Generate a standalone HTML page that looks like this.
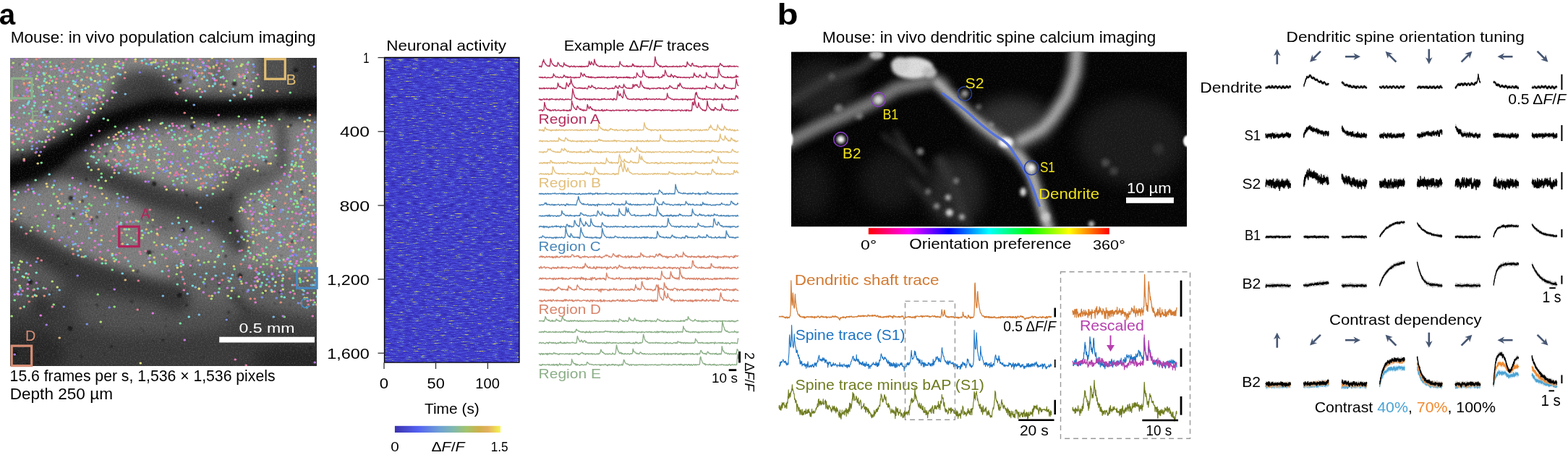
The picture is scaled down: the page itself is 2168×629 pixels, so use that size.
<!DOCTYPE html>
<html><head><meta charset="utf-8"><title>Figure</title>
<style>html,body{margin:0;padding:0;background:#fff;overflow:hidden;} svg{display:block;} text{font-family:'Liberation Sans', Arial, sans-serif;}</style>
</head><body>
<svg width="2168" height="629" viewBox="0 0 2168 629">
<defs>
<filter id="blur8" filterUnits="userSpaceOnUse" x="0" y="0" width="2168" height="629" color-interpolation-filters="sRGB"><feGaussianBlur stdDeviation="8"/></filter>
<filter id="blur6" filterUnits="userSpaceOnUse" x="0" y="0" width="2168" height="629" color-interpolation-filters="sRGB"><feGaussianBlur stdDeviation="6"/></filter>
<filter id="blur5" filterUnits="userSpaceOnUse" x="0" y="0" width="2168" height="629" color-interpolation-filters="sRGB"><feGaussianBlur stdDeviation="5"/></filter>
<filter id="blur4" filterUnits="userSpaceOnUse" x="0" y="0" width="2168" height="629" color-interpolation-filters="sRGB"><feGaussianBlur stdDeviation="4"/></filter>
<filter id="blur3" filterUnits="userSpaceOnUse" x="0" y="0" width="2168" height="629" color-interpolation-filters="sRGB"><feGaussianBlur stdDeviation="3"/></filter>
<filter id="blur2" filterUnits="userSpaceOnUse" x="0" y="0" width="2168" height="629" color-interpolation-filters="sRGB"><feGaussianBlur stdDeviation="2.2"/></filter>
<filter id="blur05" filterUnits="userSpaceOnUse" x="0" y="0" width="2168" height="629" color-interpolation-filters="sRGB"><feGaussianBlur stdDeviation="0.45"/></filter>
<filter id="blur1" filterUnits="userSpaceOnUse" x="0" y="0" width="2168" height="629" color-interpolation-filters="sRGB"><feGaussianBlur stdDeviation="0.8"/></filter>
<filter id="grain" x="0" y="0" width="100%" height="100%" color-interpolation-filters="sRGB">
  <feTurbulence type="fractalNoise" baseFrequency="0.55" numOctaves="2" seed="3" result="t"/>
  <feColorMatrix in="t" type="matrix" values="0 0 0 0 0  0 0 0 0 0  0 0 0 0 0  1.6 0 0 0 -0.8" result="dk"/>
  <feColorMatrix in="t" type="matrix" values="0 0 0 0 1  0 0 0 0 1  0 0 0 0 1  -1.6 0 0 0 0.8" result="lt"/>
  <feMerge><feMergeNode in="dk"/><feMergeNode in="lt"/></feMerge>
</filter>
<filter id="blur10" filterUnits="userSpaceOnUse" x="0" y="0" width="2168" height="629" color-interpolation-filters="sRGB"><feGaussianBlur stdDeviation="10"/></filter>
<filter id="blur7" filterUnits="userSpaceOnUse" x="0" y="0" width="2168" height="629" color-interpolation-filters="sRGB"><feGaussianBlur stdDeviation="7"/></filter>
<filter id="heat" x="0" y="0" width="100%" height="100%" color-interpolation-filters="sRGB">
  <feTurbulence type="fractalNoise" baseFrequency="0.1 0.9" numOctaves="2" seed="11" result="t1"/>
  <feColorMatrix in="t1" type="matrix" values="1 0 0 0 0  1 0 0 0 0  1 0 0 0 0  0 0 0 0 1" result="g1"/>
  <feTurbulence type="fractalNoise" baseFrequency="0.7 0.9" numOctaves="1" seed="5" result="t2"/>
  <feColorMatrix in="t2" type="matrix" values="1 0 0 0 0  1 0 0 0 0  1 0 0 0 0  0 0 0 0 1" result="g2"/>
  <feComposite in="g1" in2="g2" operator="arithmetic" k1="0" k2="1.05" k3="0.45" k4="-0.3" result="t"/>
  <feColorMatrix in="t" type="matrix" values="1.38 0 0 0 -0.19  1.38 0 0 0 -0.19  1.38 0 0 0 -0.19  0 0 0 0 1" result="g"/>
  <feComponentTransfer in="g">
    <feFuncR type="table" tableValues="0.20 0.21 0.22 0.24 0.26 0.28 0.31 0.42 0.68 0.84"/>
    <feFuncG type="table" tableValues="0.16 0.18 0.20 0.22 0.25 0.29 0.35 0.52 0.68 0.80"/>
    <feFuncB type="table" tableValues="0.66 0.70 0.73 0.77 0.81 0.85 0.86 0.68 0.46 0.38"/>
  </feComponentTransfer>
</filter>
<linearGradient id="cbar" x1="0" x2="1" y1="0" y2="0">
  <stop offset="0" stop-color="#3b32ae"/><stop offset="0.22" stop-color="#5462f2"/>
  <stop offset="0.42" stop-color="#6fa0d6"/><stop offset="0.55" stop-color="#7fb8b0"/>
  <stop offset="0.68" stop-color="#a4c46c"/><stop offset="0.8" stop-color="#cfb04a"/>
  <stop offset="0.88" stop-color="#e4b060"/><stop offset="1" stop-color="#f6f54e"/>
</linearGradient>
<linearGradient id="hue" x1="0" x2="1" y1="0" y2="0">
  <stop offset="0" stop-color="#ff0000"/><stop offset="0.167" stop-color="#ff00ff"/>
  <stop offset="0.333" stop-color="#0000ff"/><stop offset="0.5" stop-color="#00ffff"/>
  <stop offset="0.667" stop-color="#00ff00"/><stop offset="0.833" stop-color="#ffff00"/>
  <stop offset="1" stop-color="#ff0000"/>
</linearGradient>
<clipPath id="clipA"><rect x="14" y="80" width="424" height="426"/></clipPath>
<clipPath id="clipB"><rect x="1094" y="71.5" width="547" height="242"/></clipPath>
<clipPath id="clipH"><rect x="531.5" y="79.5" width="186.5" height="421.5"/></clipPath>
</defs>

<g clip-path="url(#clipA)">
<rect x="14" y="80" width="424" height="426" fill="rgb(58,58,58)"/>
<g filter="url(#blur10)">
<polygon points="0,60 362,60 364,134 300,137 248,134 232,112 208,100 182,102 166,118 152,142 136,160 118,172 91,194 60,211 30,221 0,225" fill="rgb(134,134,134)" />
<polygon points="110,208 116,195 128,186 145,178 165,170 200,163 226,162 300,160 386,160 386,225 370,236 350,242 330,248 311,260 290,268 275,270 250,267 228,262 200,255 180,250 160,246 140,243 120,238 111,228" fill="rgb(136,136,136)" />
<polygon points="394,157 460,157 460,425 400,420 360,410 335,392 322,368 318,330 326,300 336,264 356,252 380,246 392,232" fill="rgb(132,132,132)" />
<polygon points="0,262 30,250 60,242 90,241 110,245 140,257 170,268 200,281 226,292 260,302 296,316 318,336 316,362 300,382 262,392 226,394 180,386 130,370 92,352 62,336 36,322 0,316" fill="rgb(126,126,126)" />
<polygon points="0,340 40,348 80,372 90,400 70,420 30,425 0,420" fill="rgb(88,88,88)" />
<polygon points="100,404 170,406 226,400 300,394 340,404 330,440 300,456 226,462 160,462 110,450" fill="rgb(80,80,80)" />
<polygon points="226,366 330,366 438,380 460,420 438,440 380,430 330,420 280,420 240,420" fill="rgb(98,98,98)" />
</g>
<g filter="url(#blur10)">
<polygon points="358,60 460,60 460,140 358,140" fill="rgb(80,80,80)"/>
<polygon points="166,104 232,104 246,136 226,142 190,148 160,160 152,148" fill="rgb(68,68,68)"/>
<ellipse cx="212" cy="128" rx="13" ry="26" fill="rgb(58,58,58)" transform="rotate(-30 212 128)"/>
<ellipse cx="247" cy="98" rx="9" ry="16" fill="rgb(100,100,100)"/>
<ellipse cx="300" cy="108" rx="9" ry="30" fill="rgb(86,86,86)"/>
<polygon points="405,60 460,60 460,150 405,150" fill="rgb(50,50,50)"/>
<ellipse cx="340" cy="245" rx="34" ry="14" fill="rgb(88,88,88)"/>
<ellipse cx="40" cy="488" rx="50" ry="34" fill="rgb(40,40,40)"/>
<ellipse cx="405" cy="498" rx="55" ry="22" fill="rgb(38,38,38)"/>
<ellipse cx="57" cy="420" rx="10" ry="14" fill="rgb(30,30,30)"/>
<ellipse cx="242" cy="412" rx="14" ry="12" fill="rgb(45,45,45)"/>
<ellipse cx="240" cy="300" rx="40" ry="18" fill="rgb(92,92,92)"/>
</g>
<g filter="url(#blur10)" fill="none" stroke-linecap="round" stroke-linejoin="round">
<path d="M0,243 L14,239 L48,229 L60,225 L91,206 L118,187 L143,172 L183,158 L217,148 L240,150" stroke="rgb(40,40,40)" stroke-width="46"/>
<path d="M217,148 L240,150 L300,152 L380,149 L460,143" stroke="rgb(40,40,40)" stroke-width="32"/>
</g>
<path d="M100,230 L150,244 L180,257 L228,277 L275,290 L311,302 L323,322 L330,338" stroke="rgb(58,58,58)" stroke-width="26" fill="none" stroke-linecap="round" stroke-linejoin="round" filter="url(#blur8)"/>
<path d="M0,314 L40,336 L82,360 L120,376 L170,391 L226,407 L246,414" stroke="rgb(52,52,52)" stroke-width="30" fill="none" stroke-linecap="round" stroke-linejoin="round" filter="url(#blur8)"/>
<g filter="url(#blur5)" fill="none" stroke-linecap="round" stroke-linejoin="round">
<path d="M0,243 L14,239 L48,229 L60,225 L91,206 L118,187 L143,172 L183,158 L217,148 L240,150 L300,152 L380,149 L460,143" stroke="rgb(6,6,6)" stroke-width="22"/>
<path d="M0,245 L48,232 L80,214" stroke="rgb(6,6,6)" stroke-width="30"/>
<path d="M389,160 L390,232" stroke="rgb(84,84,84)" stroke-width="11"/>
<path d="M323,409 L361,454" stroke="rgb(62,62,62)" stroke-width="12"/>
</g>
<path d="M279 462h0M343 176h0M141 452h0M16 430h0M352 279h0M142 199h0M122 270h0M228 316h0M436 418h0M278 501h0M105 148h0M274 99h0M29 299h0M212 471h0M281 299h0M225 185h0M19 162h0M307 165h0M171 82h0M366 146h0M127 455h0M230 441h0M285 396h0M53 311h0M229 451h0M167 335h0M39 245h0M151 144h0M360 242h0M429 331h0M271 352h0M301 144h0M201 182h0M185 121h0M424 172h0M299 208h0M385 362h0M70 440h0M415 465h0M256 142h0M96 475h0M248 157h0M389 353h0M256 240h0M188 182h0M30 453h0M212 313h0M151 400h0M25 239h0M27 132h0M424 360h0M196 303h0M384 227h0M264 371h0M165 301h0M338 467h0M78 478h0M16 401h0M358 138h0M192 427h0M20 348h0M350 299h0M322 176h0M98 235h0M90 227h0M416 324h0M158 196h0M418 269h0M430 300h0M235 462h0M329 327h0M195 454h0M189 473h0M43 263h0M234 485h0M120 423h0M301 385h0M281 494h0M155 250h0M100 102h0M104 470h0M370 128h0M270 284h0M266 361h0M144 490h0M212 348h0M283 158h0M40 255h0M338 427h0M324 128h0M401 422h0M386 303h0M402 100h0M27 89h0M121 186h0M94 322h0M31 332h0M84 369h0M23 212h0M412 309h0M358 360h0M273 161h0M258 97h0M354 489h0M376 102h0M158 215h0M62 347h0M352 214h0M380 420h0M69 407h0M388 164h0M257 352h0M272 121h0M294 349h0M363 422h0M153 388h0M382 460h0M82 91h0M290 171h0M253 482h0M175 188h0M208 360h0M57 242h0M71 362h0M366 241h0M172 310h0M105 185h0M154 275h0M49 401h0M260 208h0M47 405h0M70 137h0M69 115h0M398 195h0M144 435h0M277 160h0M198 457h0M173 383h0M55 390h0M343 432h0M300 238h0M41 301h0M335 161h0M127 308h0M331 462h0M67 158h0M353 355h0M320 505h0M412 439h0M343 248h0M286 159h0M336 403h0M320 269h0M174 259h0M28 440h0M244 245h0M246 387h0M176 434h0M404 245h0M72 404h0" stroke="#101010" stroke-width="2.4" stroke-linecap="round" opacity="0.45" filter="url(#blur1)"/>
<path d="M435 143h0M316 432h0M404 133h0M53 501h0M64 155h0M258 270h0M332 161h0M402 173h0M340 109h0M215 94h0M147 213h0M319 274h0M38 504h0M391 470h0M119 248h0M110 133h0M28 294h0M66 155h0M379 286h0M92 365h0M127 304h0M134 300h0M280 308h0M182 417h0M384 156h0M72 128h0M429 481h0M112 493h0M102 296h0M225 470h0M31 214h0M268 108h0M114 278h0M387 404h0M365 404h0M314 442h0M303 393h0M142 151h0M335 151h0M404 334h0M154 479h0M80 299h0M53 491h0M258 422h0M134 422h0M312 354h0M417 265h0M190 375h0M368 223h0M298 169h0" stroke="#101010" stroke-width="4.0" stroke-linecap="round" opacity="0.6" filter="url(#blur1)"/>
<path d="M248 408h0M42 390h0M21 488h0M213 254h0M319 303h0M324 116h0M253 318h0M409 97h0M206 349h0M248 112h0M266 175h0M97 454h0M98 274h0M332 381h0" stroke="#101010" stroke-width="6.5" stroke-linecap="round" opacity="0.75" filter="url(#blur1)"/>
<rect x="14" y="80" width="424" height="426" filter="url(#grain)" opacity="0.2"/>
<path d="M422 384h.5M40 417h.5M165 350h.5M380 288h.5M396 373h.5M437 213h.5M278 254h.5M38 122h.5M188 214h.5M299 111h.5M101 351h.5M307 387h.5M400 336h.5M212 222h.5M49 211h.5M285 196h.5M333 365h.5M431 310h.5M38 115h.5M18 196h.5M281 253h.5M42 166h.5M196 87h.5M19 289h.5M294 385h.5M99 86h.5M252 383h.5M351 357h.5M310 234h.5M333 171h.5M354 371h.5M239 88h.5M255 156h.5M26 372h.5M169 222h.5M41 183h.5M334 346h.5M223 84h.5M30 107h.5M399 341h.5M372 396h.5M138 356h.5M168 215h.5M33 117h.5M140 141h.5M353 374h.5M71 330h.5M306 88h.5M245 130h.5M52 357h.5M417 283h.5M76 95h.5M246 241h.5M16 306h.5M352 413h.5M400 385h.5M16 127h.5M87 88h.5M251 233h.5M289 409h.5M332 383h.5M280 236h.5" stroke="#df7a7a" stroke-width="3.1" stroke-linecap="round" filter="url(#blur05)"/>
<path d="M411 394h.5M321 82h.5M305 117h.5M120 107h.5M339 121h.5M33 96h.5M180 209h.5M403 329h.5M70 107h.5M134 142h.5M275 188h.5M242 346h.5M50 82h.5M149 110h.5M55 167h.5M172 294h.5M180 306h.5M296 260h.5M334 194h.5M218 325h.5M249 228h.5M61 409h.5M431 295h.5M437 421h.5M395 270h.5M343 131h.5M339 214h.5M349 302h.5M416 230h.5M264 186h.5M394 281h.5M388 418h.5M346 350h.5M309 182h.5M170 191h.5M75 320h.5M289 200h.5M346 413h.5M348 304h.5M121 288h.5M280 203h.5M155 231h.5M103 100h.5M275 191h.5M415 220h.5M407 374h.5M274 93h.5M288 84h.5M428 159h.5M85 268h.5M404 321h.5M295 94h.5M361 312h.5M416 419h.5M298 225h.5M167 223h.5M63 101h.5M117 127h.5M369 266h.5M168 322h.5M383 126h.5M330 103h.5M253 241h.5M96 131h.5M349 324h.5M193 175h.5M20 269h.5M335 223h.5M369 271h.5M221 196h.5" stroke="#df8f7a" stroke-width="3.1" stroke-linecap="round" filter="url(#blur05)"/>
<path d="M87 287h.5M18 184h.5M89 95h.5M113 94h.5M271 201h.5M366 166h.5M91 106h.5M157 92h.5M411 206h.5M301 202h.5M400 244h.5M33 287h.5M239 108h.5M371 226h.5M246 351h.5M45 410h.5M112 111h.5M198 179h.5M405 348h.5M279 101h.5M187 85h.5M316 388h.5M113 355h.5M74 190h.5M247 87h.5M314 199h.5M322 221h.5M183 204h.5M216 339h.5M78 272h.5M45 168h.5M28 426h.5M137 104h.5M285 242h.5M216 225h.5M166 310h.5M126 300h.5M170 87h.5M429 358h.5M380 312h.5M36 180h.5M98 136h.5M188 305h.5M33 115h.5M272 280h.5M266 90h.5M377 289h.5M146 360h.5M290 94h.5M258 252h.5M298 195h.5M200 209h.5M292 102h.5M324 132h.5M24 180h.5" stroke="#dfa37a" stroke-width="3.1" stroke-linecap="round" filter="url(#blur05)"/>
<path d="M233 95h.5M328 241h.5M54 215h.5M276 123h.5M423 200h.5M296 179h.5M173 387h.5M430 363h.5M149 222h.5M309 117h.5M386 334h.5M279 109h.5M17 197h.5M413 317h.5M437 295h.5M82 467h.5M256 339h.5M231 368h.5M420 342h.5M415 262h.5M48 168h.5M236 230h.5M429 415h.5M115 139h.5M164 85h.5M33 220h.5M173 100h.5M418 272h.5M420 190h.5M115 118h.5M408 336h.5M299 90h.5M275 399h.5M344 229h.5M428 167h.5M303 186h.5M158 239h.5M169 337h.5M159 221h.5M354 397h.5M343 302h.5M356 388h.5M80 168h.5M202 317h.5M172 317h.5M312 252h.5M277 262h.5M334 392h.5M158 361h.5M424 375h.5M434 310h.5M131 258h.5M277 247h.5M335 89h.5M120 299h.5M108 99h.5M199 367h.5M215 83h.5M354 325h.5M366 274h.5M164 183h.5M141 268h.5M219 232h.5M53 120h.5M335 291h.5M406 230h.5M336 104h.5M277 93h.5M294 260h.5M136 234h.5M374 333h.5M342 216h.5" stroke="#dfb77a" stroke-width="3.1" stroke-linecap="round" filter="url(#blur05)"/>
<path d="M207 362h.5M104 117h.5M15 139h.5M323 368h.5M50 409h.5M424 412h.5M52 226h.5M98 312h.5M160 186h.5M361 271h.5M342 100h.5M134 132h.5M414 398h.5M431 332h.5M421 168h.5M293 241h.5M268 169h.5M82 281h.5M404 313h.5M303 209h.5M77 114h.5M163 203h.5M289 119h.5M277 192h.5M351 234h.5M107 119h.5M401 361h.5M235 239h.5M64 254h.5M342 333h.5M367 402h.5M350 334h.5M110 279h.5M378 355h.5M64 114h.5M41 114h.5M398 175h.5M426 210h.5M376 403h.5M346 276h.5M213 356h.5M157 106h.5M350 112h.5M426 175h.5M224 338h.5M386 303h.5M31 89h.5M375 359h.5M369 277h.5M165 205h.5M420 247h.5M243 107h.5M126 322h.5M396 269h.5M278 231h.5M358 323h.5M150 190h.5M344 342h.5M421 412h.5M274 360h.5M65 258h.5M331 106h.5M155 351h.5M391 385h.5M278 181h.5M119 297h.5M405 346h.5M100 344h.5M197 192h.5M59 126h.5M429 311h.5" stroke="#dfcb7a" stroke-width="3.1" stroke-linecap="round" filter="url(#blur05)"/>
<path d="M302 353h.5M215 86h.5M211 201h.5M170 210h.5M374 226h.5M377 385h.5M333 287h.5M141 358h.5M271 249h.5M194 502h.5M313 184h.5M111 345h.5M19 136h.5M293 80h.5M375 196h.5M248 200h.5M147 274h.5M50 109h.5M139 150h.5M64 179h.5M257 236h.5M369 329h.5M82 155h.5M129 136h.5M256 333h.5M338 201h.5M230 262h.5M184 374h.5M159 92h.5M358 171h.5M315 219h.5M44 127h.5M217 323h.5M417 230h.5M381 390h.5M187 82h.5M305 126h.5M245 370h.5M205 221h.5M80 278h.5M353 395h.5M29 295h.5M199 213h.5M244 262h.5M259 87h.5M367 351h.5M211 304h.5M391 380h.5M275 399h.5M237 329h.5M225 234h.5M89 287h.5M358 306h.5M222 171h.5M407 266h.5M131 112h.5M310 220h.5M403 234h.5M209 87h.5M420 239h.5M258 95h.5M320 402h.5M434 258h.5M333 91h.5M113 127h.5M425 388h.5M255 200h.5M401 370h.5M428 256h.5M21 303h.5M67 182h.5M220 221h.5" stroke="#dfdf7a" stroke-width="3.1" stroke-linecap="round" filter="url(#blur05)"/>
<path d="M135 102h.5M355 202h.5M296 203h.5M190 217h.5M22 181h.5M251 233h.5M345 284h.5M145 89h.5M408 228h.5M381 354h.5M173 356h.5M434 243h.5M33 180h.5M414 385h.5M255 208h.5M362 280h.5M230 90h.5M28 361h.5M428 283h.5M397 338h.5M281 201h.5M33 383h.5M437 361h.5M277 259h.5M130 156h.5M225 97h.5M291 245h.5M119 293h.5M92 180h.5M301 257h.5M363 125h.5M184 200h.5M356 389h.5M140 332h.5M371 262h.5M427 328h.5M315 409h.5M308 262h.5M336 115h.5M37 88h.5M79 397h.5M229 177h.5M293 409h.5M386 325h.5M322 235h.5M27 395h.5M350 316h.5M267 240h.5M153 209h.5M407 253h.5M62 291h.5M125 85h.5M63 196h.5M368 316h.5M391 400h.5M200 216h.5M359 295h.5M220 195h.5M357 119h.5M146 250h.5M310 175h.5M249 122h.5M426 294h.5" stroke="#cbdf7a" stroke-width="3.1" stroke-linecap="round" filter="url(#blur05)"/>
<path d="M126 235h.5M122 120h.5M24 207h.5M338 108h.5M15 163h.5M437 221h.5M355 360h.5M43 177h.5M388 340h.5M72 259h.5M125 108h.5M418 400h.5M228 212h.5M72 389h.5M180 238h.5M197 325h.5M66 189h.5M139 445h.5M38 90h.5M196 202h.5M15 184h.5M154 107h.5M421 288h.5M212 86h.5M67 168h.5M418 310h.5M132 136h.5M297 362h.5M279 329h.5M356 236h.5M162 192h.5M256 208h.5M331 292h.5M332 128h.5M345 176h.5M428 211h.5M265 163h.5M73 178h.5M155 135h.5M349 321h.5M250 368h.5M44 314h.5M261 199h.5M16 179h.5M127 82h.5M281 219h.5M140 260h.5M248 191h.5M227 220h.5M357 352h.5M236 341h.5M33 109h.5M431 383h.5M42 319h.5M292 413h.5M428 264h.5M130 210h.5M288 362h.5M295 92h.5M209 195h.5M30 362h.5M121 226h.5M437 206h.5M336 217h.5M64 162h.5M18 87h.5M70 92h.5M212 239h.5M283 386h.5M61 179h.5M305 243h.5" stroke="#b7df7a" stroke-width="3.1" stroke-linecap="round" filter="url(#blur05)"/>
<path d="M334 223h.5M93 125h.5M206 166h.5M43 167h.5M222 200h.5M227 237h.5M328 174h.5M411 281h.5M143 132h.5M408 207h.5M355 183h.5M310 229h.5M68 105h.5M164 208h.5M325 231h.5M16 437h.5M178 317h.5M425 194h.5M100 288h.5M83 143h.5M157 193h.5M210 188h.5M321 398h.5M409 225h.5M272 126h.5M26 366h.5M419 342h.5M334 89h.5M207 353h.5M339 273h.5M91 146h.5M284 259h.5M364 365h.5M71 131h.5M196 329h.5M205 322h.5M70 179h.5M90 340h.5M213 335h.5M419 224h.5M244 379h.5M226 92h.5M308 252h.5M216 200h.5M189 232h.5M198 196h.5M369 208h.5M434 405h.5M375 367h.5M350 358h.5M60 141h.5M200 185h.5M61 103h.5M351 355h.5M296 222h.5M289 242h.5M59 297h.5M44 191h.5M68 115h.5M177 202h.5M363 405h.5M392 359h.5M246 301h.5M91 103h.5M410 278h.5M347 268h.5M383 371h.5M239 107h.5M175 325h.5M30 186h.5M202 231h.5M142 125h.5M161 200h.5" stroke="#a3df7a" stroke-width="3.1" stroke-linecap="round" filter="url(#blur05)"/>
<path d="M74 421h.5M360 353h.5M253 87h.5M98 125h.5M220 227h.5M313 112h.5M99 186h.5M401 238h.5M326 246h.5M330 410h.5M295 177h.5M45 117h.5M128 155h.5M111 310h.5M149 166h.5M207 202h.5M254 209h.5M239 250h.5M343 326h.5M421 413h.5M381 215h.5M306 227h.5M404 293h.5M211 246h.5M144 283h.5M181 329h.5M51 105h.5M44 154h.5M259 218h.5M330 161h.5M329 242h.5M107 105h.5M282 363h.5M368 282h.5M134 95h.5M435 418h.5M216 222h.5M386 165h.5M413 367h.5M160 88h.5M410 308h.5M47 400h.5M327 92h.5M102 167h.5M140 124h.5M19 370h.5M406 282h.5M156 115h.5M337 331h.5M97 154h.5M416 362h.5M123 135h.5M205 179h.5M260 81h.5M158 424h.5M135 407h.5M60 152h.5M86 171h.5M51 181h.5M250 333h.5M422 359h.5M333 389h.5M182 211h.5M52 312h.5M73 315h.5M405 402h.5M204 308h.5M97 178h.5" stroke="#8fdf7a" stroke-width="3.1" stroke-linecap="round" filter="url(#blur05)"/>
<path d="M74 268h.5M263 200h.5M272 331h.5M138 260h.5M97 98h.5M363 376h.5M213 362h.5M424 348h.5M428 361h.5M303 98h.5M90 282h.5M415 390h.5M408 229h.5M430 183h.5M369 365h.5M116 355h.5M324 111h.5M242 96h.5M415 312h.5M253 94h.5M150 228h.5M383 253h.5M157 357h.5M415 387h.5M69 86h.5M136 202h.5M129 217h.5M435 351h.5M357 176h.5M75 168h.5M394 369h.5M289 93h.5M126 284h.5M318 322h.5M393 438h.5M38 384h.5M65 140h.5M123 282h.5M140 240h.5M357 379h.5M418 233h.5M19 199h.5M377 306h.5M36 104h.5M362 162h.5M144 113h.5M350 215h.5M159 175h.5M407 375h.5M40 157h.5M274 260h.5M193 329h.5M120 291h.5M436 378h.5M341 229h.5M167 182h.5M224 352h.5M376 205h.5M273 105h.5M378 278h.5M278 187h.5M144 216h.5" stroke="#7adf7a" stroke-width="3.1" stroke-linecap="round" filter="url(#blur05)"/>
<path d="M389 290h.5M96 281h.5M425 166h.5M19 162h.5M38 409h.5M259 196h.5M308 347h.5M407 333h.5M102 302h.5M354 318h.5M390 388h.5M74 312h.5M162 92h.5M57 225h.5M371 181h.5M138 123h.5M185 233h.5M236 341h.5M401 128h.5M322 84h.5M58 123h.5M280 172h.5M20 415h.5M162 268h.5M233 183h.5M324 372h.5M407 268h.5M60 398h.5M26 192h.5M400 244h.5M180 220h.5M242 193h.5M416 275h.5M81 302h.5M257 188h.5M303 399h.5M136 249h.5M368 294h.5M294 202h.5M142 93h.5M31 109h.5M155 373h.5M340 230h.5M71 177h.5M354 108h.5M239 84h.5M357 175h.5M413 345h.5M394 228h.5M281 390h.5M369 359h.5M230 86h.5M409 286h.5M75 106h.5M122 291h.5M280 232h.5M126 216h.5M80 288h.5M22 269h.5M433 283h.5M180 368h.5M311 231h.5M191 306h.5M58 196h.5M154 245h.5M96 130h.5M268 117h.5M257 139h.5M28 398h.5M26 291h.5M398 293h.5M393 331h.5M358 276h.5" stroke="#7adf8f" stroke-width="3.1" stroke-linecap="round" filter="url(#blur05)"/>
<path d="M294 104h.5M352 268h.5M191 239h.5M70 284h.5M254 174h.5M209 320h.5M25 370h.5M33 424h.5M133 138h.5M402 275h.5M45 126h.5M32 94h.5M252 245h.5M86 171h.5M53 282h.5M16 363h.5M314 184h.5M44 150h.5M358 167h.5M339 320h.5M398 357h.5M186 194h.5M389 410h.5M351 215h.5M416 374h.5M343 86h.5M146 364h.5M179 209h.5M54 121h.5M433 206h.5M294 268h.5M49 249h.5M342 88h.5M252 337h.5M343 185h.5M300 226h.5M161 227h.5M346 370h.5M146 101h.5M269 191h.5M142 144h.5M160 229h.5M114 144h.5M339 354h.5M368 394h.5M269 193h.5M251 253h.5M96 256h.5M361 197h.5M170 90h.5M368 217h.5M350 336h.5M24 376h.5M432 240h.5M284 212h.5M317 389h.5M360 396h.5M206 357h.5M333 232h.5M87 134h.5M241 186h.5M249 447h.5M72 112h.5M243 86h.5M367 287h.5M376 310h.5M372 190h.5M116 99h.5M184 179h.5M264 314h.5" stroke="#7adfa3" stroke-width="3.1" stroke-linecap="round" filter="url(#blur05)"/>
<path d="M245 393h.5M58 119h.5M148 199h.5M338 105h.5M160 359h.5M319 412h.5M368 342h.5M128 93h.5M274 189h.5M234 110h.5M141 364h.5M376 285h.5M140 245h.5M271 223h.5M362 391h.5M364 350h.5M413 230h.5M237 180h.5M118 286h.5M31 207h.5M297 116h.5M108 263h.5M367 292h.5M180 233h.5M437 240h.5M277 341h.5M358 218h.5M338 137h.5M185 332h.5M362 269h.5M101 112h.5M219 92h.5M41 195h.5M300 212h.5M343 347h.5M277 231h.5M202 88h.5M68 168h.5M377 386h.5M313 220h.5M362 216h.5M170 185h.5M20 276h.5M135 91h.5M70 107h.5M417 304h.5M136 221h.5M362 296h.5M361 304h.5M215 203h.5M305 107h.5M250 364h.5M87 182h.5M47 133h.5M240 255h.5M260 227h.5M183 211h.5M319 233h.5M245 247h.5M262 194h.5M238 190h.5M405 412h.5M224 170h.5M62 109h.5M60 148h.5M103 134h.5" stroke="#7adfb7" stroke-width="3.1" stroke-linecap="round" filter="url(#blur05)"/>
<path d="M316 95h.5M102 116h.5M277 134h.5M407 209h.5M301 355h.5M346 350h.5M258 306h.5M270 101h.5M143 164h.5M347 126h.5M365 286h.5M95 130h.5M403 227h.5M366 173h.5M36 90h.5M431 180h.5M374 304h.5M231 339h.5M309 334h.5M22 186h.5M106 320h.5M167 308h.5M37 172h.5M405 251h.5M159 198h.5M403 228h.5M31 382h.5M50 377h.5M82 142h.5M382 261h.5M401 327h.5M397 258h.5M47 146h.5M386 322h.5M24 192h.5M420 310h.5M408 214h.5M249 191h.5M363 321h.5M74 256h.5M224 375h.5M165 94h.5M218 214h.5M238 86h.5M434 290h.5M401 326h.5M291 347h.5M19 108h.5M432 394h.5M113 110h.5M219 206h.5M33 156h.5M277 217h.5M42 125h.5M196 319h.5M67 162h.5M60 131h.5M234 174h.5M25 266h.5M308 106h.5M418 330h.5M46 265h.5M48 142h.5M335 289h.5M109 157h.5M282 106h.5M214 364h.5M48 408h.5M358 265h.5M276 188h.5M61 112h.5M78 91h.5M334 328h.5M133 225h.5M138 112h.5M412 286h.5" stroke="#7adfcb" stroke-width="3.1" stroke-linecap="round" filter="url(#blur05)"/>
<path d="M412 194h.5M253 366h.5M269 379h.5M176 295h.5M99 301h.5M62 320h.5M336 359h.5M387 335h.5M113 124h.5M428 199h.5M347 132h.5M427 352h.5M196 84h.5M372 283h.5M177 204h.5M292 190h.5M155 353h.5M316 219h.5M63 146h.5M47 169h.5M294 119h.5M390 395h.5M95 122h.5M393 411h.5M424 425h.5M118 122h.5M266 395h.5M32 146h.5M318 139h.5M132 318h.5M310 365h.5M319 385h.5M377 329h.5M435 394h.5M358 378h.5M261 438h.5M100 136h.5M286 111h.5M256 332h.5M99 165h.5M386 360h.5M285 378h.5M36 378h.5M249 192h.5M178 194h.5M143 98h.5M68 241h.5M176 338h.5M278 213h.5M208 203h.5M39 142h.5M60 101h.5M364 217h.5M253 249h.5M309 223h.5M247 308h.5M361 279h.5M350 401h.5M126 110h.5M365 380h.5M281 87h.5" stroke="#7adfdf" stroke-width="3.1" stroke-linecap="round" filter="url(#blur05)"/>
<path d="M296 369h.5M118 354h.5M357 212h.5M186 240h.5M29 314h.5M435 387h.5M314 193h.5M82 97h.5M218 223h.5M166 103h.5M52 399h.5M215 94h.5M177 361h.5M283 97h.5M321 380h.5M369 386h.5M160 128h.5M256 244h.5M164 226h.5M380 395h.5M438 410h.5M428 276h.5M38 144h.5M61 159h.5M302 404h.5M298 381h.5M367 321h.5M169 378h.5M322 123h.5M375 401h.5M178 183h.5M27 149h.5M332 106h.5M298 180h.5M122 231h.5M164 239h.5M420 402h.5M40 140h.5M206 204h.5M59 86h.5M404 394h.5M69 154h.5M406 323h.5M415 215h.5M116 272h.5M320 232h.5M104 113h.5M57 155h.5M121 91h.5M410 251h.5M400 364h.5M433 314h.5M163 102h.5M262 194h.5M60 151h.5M387 376h.5M359 264h.5M135 114h.5M24 297h.5M426 306h.5M296 109h.5M190 218h.5M119 150h.5M133 91h.5M174 317h.5M418 249h.5M63 92h.5M238 226h.5M408 277h.5M418 210h.5M433 204h.5M403 365h.5M129 217h.5M313 83h.5" stroke="#7acbdf" stroke-width="3.1" stroke-linecap="round" filter="url(#blur05)"/>
<path d="M390 381h.5M433 421h.5M218 230h.5M415 217h.5M362 168h.5M243 329h.5M123 329h.5M133 99h.5M44 89h.5M378 438h.5M108 353h.5M285 253h.5M414 163h.5M363 182h.5M289 198h.5M253 386h.5M309 378h.5M422 184h.5M283 126h.5M107 347h.5M40 118h.5M403 346h.5M323 131h.5M266 334h.5M96 261h.5M44 206h.5M178 203h.5M244 367h.5M416 295h.5M20 135h.5M114 295h.5M19 176h.5M101 338h.5M209 89h.5M339 188h.5M347 371h.5M422 308h.5M273 92h.5M119 144h.5M68 407h.5M182 208h.5M275 435h.5M391 290h.5M137 293h.5M277 287h.5M270 397h.5M248 338h.5M404 223h.5M283 182h.5M255 203h.5M82 262h.5M341 320h.5M297 115h.5M162 342h.5M27 178h.5M423 298h.5M60 118h.5M225 409h.5M104 337h.5M54 195h.5M350 89h.5M364 221h.5M348 297h.5M200 82h.5M166 228h.5M185 209h.5M397 302h.5M282 106h.5M173 130h.5M82 401h.5M238 309h.5M426 360h.5M429 346h.5M259 406h.5M228 237h.5M167 311h.5M284 228h.5M435 263h.5M337 120h.5M190 223h.5" stroke="#7ab7df" stroke-width="3.1" stroke-linecap="round" filter="url(#blur05)"/>
<path d="M125 317h.5M34 181h.5M251 175h.5M283 244h.5M290 203h.5M92 164h.5M280 257h.5M268 145h.5M139 338h.5M162 285h.5M402 255h.5M98 143h.5M128 143h.5M226 207h.5M329 185h.5M379 199h.5M430 394h.5M170 272h.5M419 407h.5M263 316h.5M25 403h.5M436 246h.5M251 242h.5M231 236h.5M234 210h.5M384 343h.5M32 132h.5M276 366h.5M54 269h.5M364 312h.5M381 277h.5M83 105h.5M314 96h.5M286 270h.5M287 180h.5M106 288h.5M230 213h.5M401 354h.5M37 99h.5M119 271h.5M419 389h.5M259 209h.5M343 401h.5M238 103h.5M61 176h.5M237 224h.5M336 215h.5M174 222h.5M383 322h.5M350 100h.5" stroke="#7aa3df" stroke-width="3.1" stroke-linecap="round" filter="url(#blur05)"/>
<path d="M365 282h.5M284 95h.5M236 342h.5M50 362h.5M323 398h.5M184 307h.5M136 117h.5M379 205h.5M85 328h.5M111 254h.5M80 125h.5M21 386h.5M388 293h.5M162 281h.5M386 332h.5M115 291h.5M362 411h.5M299 103h.5M87 134h.5M120 448h.5M412 419h.5M315 384h.5M272 102h.5M314 206h.5M100 98h.5M331 386h.5M265 242h.5M361 394h.5M436 394h.5M123 132h.5M87 101h.5M393 242h.5M329 334h.5M164 274h.5M282 392h.5M205 89h.5M327 223h.5M40 387h.5M297 241h.5M29 407h.5M116 134h.5M200 322h.5M75 121h.5M102 274h.5M262 114h.5M431 279h.5M277 383h.5M174 201h.5M138 117h.5M88 424h.5M268 247h.5M121 310h.5M99 283h.5M44 202h.5M37 363h.5M54 80h.5M67 313h.5M226 97h.5M435 169h.5M56 131h.5M263 97h.5M424 398h.5M292 246h.5M382 412h.5M120 292h.5M313 442h.5M42 170h.5M410 353h.5M359 193h.5M149 281h.5M127 152h.5M161 198h.5M26 291h.5M418 316h.5" stroke="#7a8fdf" stroke-width="3.1" stroke-linecap="round" filter="url(#blur05)"/>
<path d="M71 160h.5M434 92h.5M233 224h.5M241 114h.5M44 261h.5M422 275h.5M306 341h.5M254 94h.5M330 193h.5M216 180h.5M300 84h.5M263 107h.5M420 220h.5M264 228h.5M242 88h.5M227 237h.5M240 182h.5M371 382h.5M389 406h.5M293 210h.5M252 219h.5M44 157h.5M420 236h.5M91 339h.5M218 239h.5M291 200h.5M348 277h.5M351 92h.5M54 103h.5M245 350h.5M75 250h.5M419 293h.5M339 178h.5M434 323h.5M372 390h.5M281 90h.5M288 318h.5M292 256h.5M294 306h.5M28 400h.5M258 104h.5M331 183h.5M151 425h.5M226 341h.5M400 359h.5M378 383h.5M280 208h.5M67 163h.5M193 100h.5M18 370h.5M269 174h.5M219 187h.5M431 299h.5M407 352h.5M90 151h.5" stroke="#7a7adf" stroke-width="3.1" stroke-linecap="round" filter="url(#blur05)"/>
<path d="M381 251h.5M416 201h.5M117 143h.5M15 173h.5M49 170h.5M172 235h.5M178 186h.5M67 188h.5M359 356h.5M224 233h.5M389 327h.5M102 259h.5M268 101h.5M205 251h.5M298 245h.5M56 210h.5M200 188h.5M168 296h.5M284 173h.5M334 327h.5M393 366h.5M398 265h.5M107 381h.5M129 209h.5M133 122h.5M241 256h.5M105 111h.5M409 309h.5M254 105h.5M200 221h.5M347 113h.5M432 314h.5M424 344h.5M23 121h.5M37 128h.5M387 327h.5M51 205h.5M19 182h.5M118 306h.5M38 256h.5M376 313h.5M118 208h.5M375 295h.5M251 318h.5M266 83h.5M395 359h.5M115 147h.5M67 307h.5M247 230h.5M416 345h.5M359 203h.5M354 203h.5M438 224h.5M401 347h.5M156 203h.5M159 230h.5M50 210h.5M16 80h.5M352 389h.5M346 328h.5M320 84h.5M145 106h.5M342 403h.5M255 223h.5M35 82h.5M416 281h.5M360 302h.5M435 206h.5M146 108h.5" stroke="#8f7adf" stroke-width="3.1" stroke-linecap="round" filter="url(#blur05)"/>
<path d="M175 279h.5M376 378h.5M300 87h.5M299 218h.5M182 192h.5M126 187h.5M298 189h.5M93 101h.5M399 242h.5M42 179h.5M42 101h.5M424 274h.5M217 87h.5M190 189h.5M133 310h.5M271 212h.5M166 88h.5M316 84h.5M95 328h.5M261 333h.5M355 376h.5M203 177h.5M248 325h.5M103 268h.5M100 334h.5M64 449h.5M427 380h.5M280 204h.5M388 290h.5M393 207h.5M206 357h.5M174 229h.5M359 305h.5M340 100h.5M182 80h.5M434 196h.5M55 160h.5M297 249h.5M437 296h.5M348 309h.5M35 265h.5M329 176h.5M349 288h.5M339 165h.5M416 203h.5M433 253h.5M94 142h.5M20 407h.5M20 490h.5M429 184h.5M43 154h.5M161 313h.5M271 104h.5M55 149h.5M41 106h.5M274 247h.5M360 280h.5" stroke="#a37adf" stroke-width="3.1" stroke-linecap="round" filter="url(#blur05)"/>
<path d="M332 226h.5M47 174h.5M270 111h.5M294 108h.5M62 168h.5M281 214h.5M388 402h.5M280 258h.5M155 205h.5M314 220h.5M158 400h.5M285 91h.5M71 96h.5M351 293h.5M50 197h.5M243 243h.5M342 279h.5M107 97h.5M202 191h.5M126 346h.5M45 91h.5M122 163h.5M257 328h.5M358 386h.5M269 353h.5M100 95h.5M391 437h.5M297 215h.5M390 394h.5M113 142h.5M175 177h.5M402 278h.5M341 111h.5M50 391h.5M138 136h.5M364 315h.5M324 207h.5M126 117h.5M411 333h.5M407 368h.5M89 286h.5M85 288h.5M37 173h.5M104 323h.5M97 125h.5M176 273h.5M128 200h.5M435 501h.5M163 312h.5M340 96h.5M23 155h.5M297 405h.5M250 242h.5M58 282h.5M357 185h.5M86 97h.5M98 148h.5M103 128h.5M245 223h.5M233 374h.5M84 158h.5M38 126h.5M392 335h.5M259 122h.5" stroke="#b77adf" stroke-width="3.1" stroke-linecap="round" filter="url(#blur05)"/>
<path d="M136 338h.5M244 348h.5M182 185h.5M52 110h.5M254 234h.5M311 91h.5M255 470h.5M314 398h.5M25 179h.5M201 251h.5M17 159h.5M240 348h.5M102 82h.5M72 297h.5M425 354h.5M82 332h.5M288 219h.5M81 94h.5M63 194h.5M147 222h.5M385 381h.5M174 82h.5M340 391h.5M111 296h.5M34 86h.5M281 404h.5M404 353h.5M407 215h.5M175 307h.5M386 324h.5M417 332h.5M355 383h.5M160 352h.5M437 391h.5M399 288h.5M23 120h.5M287 212h.5M415 207h.5M370 315h.5M331 347h.5M376 254h.5M229 204h.5M303 238h.5M416 358h.5M292 211h.5M95 135h.5M47 140h.5M106 139h.5M368 304h.5M36 124h.5M376 379h.5M309 108h.5" stroke="#cb7adf" stroke-width="3.1" stroke-linecap="round" filter="url(#blur05)"/>
<path d="M403 341h.5M244 174h.5M339 293h.5M63 125h.5M432 298h.5M37 82h.5M255 180h.5M296 204h.5M85 99h.5M131 333h.5M428 207h.5M425 405h.5M64 85h.5M184 190h.5M19 264h.5M425 416h.5M410 361h.5M293 386h.5M232 184h.5M288 174h.5M268 98h.5M243 239h.5M77 135h.5M177 227h.5M194 200h.5M230 232h.5M401 404h.5M174 297h.5M22 138h.5M100 246h.5M344 173h.5M389 231h.5M38 399h.5M236 224h.5M243 128h.5M303 391h.5M304 184h.5M238 213h.5M148 139h.5M71 147h.5M47 267h.5M355 352h.5M360 369h.5M187 193h.5M280 86h.5M120 168h.5M314 179h.5M338 175h.5M417 186h.5M260 82h.5M211 433h.5M186 204h.5M347 134h.5M167 188h.5M200 218h.5M302 98h.5M113 336h.5M252 263h.5M24 406h.5M99 101h.5M328 319h.5M229 344h.5M437 314h.5M77 130h.5M375 312h.5M342 89h.5M147 296h.5M32 89h.5M169 94h.5M34 148h.5M149 346h.5M297 111h.5M427 374h.5M397 358h.5M314 242h.5M238 193h.5M420 179h.5M56 436h.5" stroke="#df7adf" stroke-width="3.1" stroke-linecap="round" filter="url(#blur05)"/>
<path d="M411 189h.5M145 200h.5M155 126h.5M32 194h.5M131 151h.5M232 213h.5M252 363h.5M127 101h.5M433 415h.5M333 106h.5M337 290h.5M158 235h.5M63 399h.5M344 370h.5M207 82h.5M284 213h.5M353 418h.5M159 85h.5M25 407h.5M36 187h.5M419 312h.5M124 303h.5M347 190h.5M89 172h.5M137 134h.5M353 395h.5M359 206h.5M408 236h.5M195 178h.5M349 296h.5M44 196h.5M409 325h.5M53 100h.5M371 328h.5M36 171h.5M138 348h.5M270 322h.5M289 336h.5M70 128h.5M146 223h.5M407 207h.5M409 295h.5M363 270h.5M414 296h.5M266 226h.5M320 237h.5M38 393h.5M381 205h.5M345 367h.5M247 177h.5M346 292h.5M16 93h.5M103 260h.5M263 367h.5M226 105h.5M388 325h.5M189 228h.5M86 112h.5M103 155h.5M157 128h.5" stroke="#df7acb" stroke-width="3.1" stroke-linecap="round" filter="url(#blur05)"/>
<path d="M138 205h.5M421 290h.5M43 190h.5M406 308h.5M108 262h.5M367 317h.5M301 177h.5M308 242h.5M376 331h.5M251 174h.5M20 139h.5M239 174h.5M429 318h.5M61 203h.5M386 266h.5M125 257h.5M254 401h.5M157 220h.5M434 321h.5M120 266h.5M42 367h.5M345 368h.5M26 163h.5M362 186h.5M75 182h.5M132 359h.5M15 185h.5M368 201h.5M432 437h.5M81 157h.5M347 123h.5M46 172h.5M19 373h.5M325 497h.5M387 267h.5M356 103h.5M88 308h.5M125 315h.5M282 343h.5M353 384h.5M345 356h.5M251 201h.5M165 210h.5M302 159h.5M401 243h.5M353 228h.5M222 314h.5M251 360h.5M228 258h.5M402 323h.5M60 148h.5M386 302h.5M174 82h.5M393 240h.5M214 186h.5M137 181h.5M216 192h.5M161 229h.5M409 364h.5M379 403h.5M56 93h.5M108 340h.5M314 237h.5M68 193h.5" stroke="#df7ab7" stroke-width="3.1" stroke-linecap="round" filter="url(#blur05)"/>
<path d="M33 222h.5M188 334h.5M194 351h.5M229 357h.5M122 161h.5M49 299h.5M201 347h.5M418 185h.5M310 201h.5M199 237h.5M429 342h.5M376 361h.5M423 244h.5M193 348h.5M131 342h.5M217 317h.5M52 319h.5M279 127h.5M217 224h.5M164 362h.5M39 262h.5M289 101h.5M422 285h.5M356 338h.5M302 190h.5M329 238h.5M233 244h.5M416 236h.5M107 158h.5M157 326h.5M433 267h.5M362 344h.5M380 356h.5M173 356h.5M276 82h.5M72 424h.5M424 197h.5M392 313h.5M155 317h.5M221 233h.5M25 132h.5M288 92h.5M417 329h.5M98 97h.5M340 505h.5M347 395h.5M46 401h.5M159 192h.5M77 122h.5M54 91h.5M274 178h.5M31 197h.5M288 171h.5M273 209h.5M274 224h.5M31 402h.5M157 189h.5M251 192h.5M412 257h.5M45 162h.5M244 238h.5M93 113h.5M384 253h.5M183 214h.5M265 334h.5M238 171h.5M407 406h.5M433 328h.5" stroke="#df7aa3" stroke-width="3.1" stroke-linecap="round" filter="url(#blur05)"/>
<path d="M137 210h.5M403 212h.5M82 172h.5M250 376h.5M422 371h.5M54 80h.5M57 360h.5M68 138h.5M161 223h.5M368 297h.5M39 133h.5M372 270h.5M436 246h.5M375 174h.5M375 369h.5M207 290h.5M173 187h.5M275 101h.5M407 394h.5M127 200h.5M172 108h.5M191 388h.5M336 103h.5M416 212h.5M310 120h.5M414 373h.5M388 250h.5M345 223h.5M193 213h.5M426 421h.5M233 382h.5M162 307h.5M69 111h.5M183 293h.5M21 387h.5M190 428h.5M194 237h.5M210 201h.5M418 221h.5M286 224h.5M231 212h.5M412 376h.5M140 326h.5M266 352h.5M190 322h.5M36 323h.5M131 273h.5M268 203h.5M254 125h.5M254 345h.5M394 361h.5M377 198h.5M422 272h.5M375 297h.5M288 231h.5M330 231h.5M363 347h.5M254 249h.5M241 242h.5M303 94h.5M78 109h.5M403 302h.5M114 86h.5M255 392h.5M259 182h.5M39 379h.5M152 333h.5M34 133h.5M14 178h.5M172 209h.5" stroke="#df7a8f" stroke-width="3.1" stroke-linecap="round" filter="url(#blur05)"/>
</g>
<rect x="366.7" y="81.7" width="27.5" height="27.5" fill="none" stroke="#e2bd72" stroke-width="3.2"/>
<rect x="16.5" y="108.4" width="27.5" height="27.5" fill="none" stroke="#8db08a" stroke-width="3.2"/>
<rect x="164.7" y="313.2" width="27.5" height="27.5" fill="none" stroke="#b3245a" stroke-width="3.2"/>
<rect x="410.6" y="370.8" width="27.5" height="27.5" fill="none" stroke="#4a88bd" stroke-width="3.2"/>
<rect x="16.2" y="478.1" width="27.5" height="27.5" fill="none" stroke="#d88e75" stroke-width="3.2"/>
<text x="395.5" y="117.0" font-size="20.5" fill="#e2bd72" textLength="14.1" lengthAdjust="spacingAndGlyphs" >B</text>
<text x="42.4" y="166.6" font-size="20.5" fill="#8db08a" textLength="11.7" lengthAdjust="spacingAndGlyphs" >E</text>
<text x="194.8" y="302.3" font-size="20.5" fill="#b3245a" textLength="12.7" lengthAdjust="spacingAndGlyphs" >A</text>
<text x="414.4" y="426.0" font-size="20.5" fill="#4a88bd" textLength="15.5" lengthAdjust="spacingAndGlyphs" >C</text>
<text x="35.0" y="471.3" font-size="20.5" fill="#d88e75" textLength="14.4" lengthAdjust="spacingAndGlyphs" >D</text>
<rect x="303.2" y="465.7" width="131.8" height="7.8" fill="#fff"/>
<text x="330.5" y="460.0" font-size="18.5" fill="#fff" textLength="76.9" lengthAdjust="spacingAndGlyphs" >0.5 mm</text>
<text x="-1.2" y="33.7" font-size="40" font-weight="bold" textLength="22.4" lengthAdjust="spacingAndGlyphs" >a</text>
<text x="14.7" y="58.5" font-size="21.7" textLength="421.8" lengthAdjust="spacingAndGlyphs" >Mouse: in vivo population calcium imaging</text>
<text x="13.6" y="526.8" font-size="21.7" textLength="366.9" lengthAdjust="spacingAndGlyphs" >15.6 frames per s, 1,536 × 1,536 pixels</text>
<text x="13.7" y="551.7" font-size="21.7" textLength="142.3" lengthAdjust="spacingAndGlyphs" >Depth 250 µm</text>
<g clip-path="url(#clipH)"><rect x="531.5" y="79.5" width="186.5" height="421.5" filter="url(#heat)"/></g>
<path d="M531.5,79.5 V501.2 H718 V79.5 Z" fill="none" stroke="#000" stroke-width="1.3"/>
<line x1="522.5" y1="79.6" x2="531.5" y2="79.6" stroke="#333" stroke-width="1.3"/>
<line x1="522.5" y1="181.8" x2="531.5" y2="181.8" stroke="#333" stroke-width="1.3"/>
<line x1="522.5" y1="284" x2="531.5" y2="284" stroke="#333" stroke-width="1.3"/>
<line x1="522.5" y1="386" x2="531.5" y2="386" stroke="#333" stroke-width="1.3"/>
<line x1="522.5" y1="488.2" x2="531.5" y2="488.2" stroke="#333" stroke-width="1.3"/>
<text x="502.3" y="87.3" font-size="20.4" textLength="8.2" lengthAdjust="spacingAndGlyphs" >1</text>
<text x="469.9" y="189.4" font-size="20.4" textLength="41.1" lengthAdjust="spacingAndGlyphs" >400</text>
<text x="469.4" y="291.6" font-size="20.4" textLength="41.7" lengthAdjust="spacingAndGlyphs" >800</text>
<text x="452.2" y="393.6" font-size="20.4" textLength="58.7" lengthAdjust="spacingAndGlyphs" >1,200</text>
<text x="452.2" y="495.8" font-size="20.4" textLength="58.7" lengthAdjust="spacingAndGlyphs" >1,600</text>
<line x1="531" y1="501.2" x2="531" y2="510" stroke="#333" stroke-width="1.3"/>
<line x1="602.5" y1="501.2" x2="602.5" y2="510" stroke="#333" stroke-width="1.3"/>
<line x1="674.4" y1="501.2" x2="674.4" y2="510" stroke="#333" stroke-width="1.3"/>
<text x="524.8" y="537.1" font-size="20" textLength="12.3" lengthAdjust="spacingAndGlyphs" >0</text>
<text x="590.6" y="537.1" font-size="20" textLength="24.2" lengthAdjust="spacingAndGlyphs" >50</text>
<text x="657.3" y="537.1" font-size="20" textLength="33.5" lengthAdjust="spacingAndGlyphs" >100</text>
<text x="534.2" y="69.6" font-size="21" textLength="165.9" lengthAdjust="spacingAndGlyphs" >Neuronal activity</text>
<text x="587.0" y="571.8" font-size="21" textLength="75.8" lengthAdjust="spacingAndGlyphs" >Time (s)</text>
<rect x="545.9" y="588.8" width="146.1" height="9.2" fill="url(#cbar)"/>
<text x="540.2" y="623.5" font-size="18.6" textLength="11.5" lengthAdjust="spacingAndGlyphs" >0</text>
<text x="596.4" y="623.5" font-size="18.6" textLength="46.2" lengthAdjust="spacingAndGlyphs" >Δ<tspan font-style="italic">F</tspan>/<tspan font-style="italic">F</tspan></text>
<text x="678.7" y="623.5" font-size="18.6" textLength="23.9" lengthAdjust="spacingAndGlyphs" >1.5</text>
<text x="779.7" y="69.6" font-size="21" textLength="200.9" lengthAdjust="spacingAndGlyphs" >Example Δ<tspan font-style="italic">F</tspan>/<tspan font-style="italic">F</tspan> traces</text>
<path transform="scale(.1)" d="M7450 922l6-1 6-9 6 10 6-1 6-8 6 16 6-18 6-27 6-34 6 8 6-36 6 22 6 19 6 7 6 16 6-1 6 14 6 1 6 10 6 3 6-3 6-1 6 9 6-9 6 9 6-32 6-76 6 23 6 16 6 20 6 14 6 3 6 6 6 12 6-2 6 9 6 4 6-8 6 10 6 1 6-6 6 3 6-29 6-25 6 13 6 6 6 14 6 8 6 8 6-1 6 3 6-5 6 14 6 2 6 2 6-7 6-11 6-41 6 25 6 0 6 10 6-6 6 10 6-3 6 10 6-4 6 5 6 6 6-7 6 6 6 10 6-10 6 6 6-8 6-5 6 6 6-1 6 9 6-3 6-1 6-12 6 12 6-4 6 11 6-7 6-3 6 1 6 1 6-3 6-1 6 9 6 0 6-9 6-1 6 10 6-10 6 11 6-6 6-7 6 14 6-8 6 1 6 4 6-9 6 8 6-1 6 2 6-7 6-1 6-4 6 8 6 3 6-12 6 5 6-36 6-35 6 20 6 25 6 5 6-3 6-41 6 17 6 5 6 13 6 8 6 7 6-13 6-69 6 29 6 10 6 24 6 14 6-8 6 19 6-2 6 5 6 2 6 2 6 6 6 1 6-6 6 5 6-11 6 8 6-6 6 10 6-6 6 7 6 1 6-3 6 0 6-14 6 19 6-3 6-7 6 5 6-2 6-3 6 5 6 3 6 3 6-7 6-3 6 2 6-5 6 8 6-3 6 5 6 6 6-13 6 5 6-5 6 6 6 5 6-3 6-3 6 1 6-2 6-4 6 3 6-2 6 3 6 3 6 1 6-1 6-45 6-29 6 26 6 11 6 9 6 1 6 6 6 6 6 2 6 10 6-6 6 2 6-2 6 6 6 0 6-3 6-12 6 16 6-13 6 15 6-4 6 4 6-11 6 6 6 0 6-4 6-1 6 9 6-6 6-5 6-29 6 24 6-16 6 16 6 13 6-9 6 7 6-3 6 1 6-4 6 15 6-10 6-4 6 13 6-10 6 0 6 6 6 7 6-10 6 3 6-10 6 9 6-5 6 2 6 1 6 7 6-2 6-4 6 0 6 1 6-5 6 4 6-3 6 3 6-2 6 5 6 4 6-11 6 0 6 1 6 7 6-9 6 5 6-1 6 4 6-1 6 1 6-5 6 5 6-3 6-10 6-52 6-73 6 32 6 25 6 33 6-5 6 16 6 13 6-8 6 14 6 0 6 6 6 14 6-16 6 13 6-10 6 6 6 5 6 8 6-10 6 3 6-5 6 6 6-9 6 6 6 0 6-12 6 6 6 7 6-5 6 10 6-4 6-3 6 3 6 1 6-8 6 6 6 1 6-1 6 0 6-7 6 3 6 8 6-14 6 2 6 7 6 3 6-5 6 3 6-5 6 2 6-6 6 14 6-5 6-4 6 4 6-1 6 4 6-15 6 10 6-4 6 7 6-2 6-2 6-8 6 1 6-3 6 3 6 0 6 8 6 3 6-10 6 10 6-7 6-13 6-49 6 11 6 18 6 7 6 1 6 11 6-1 6 10 6-1 6 8 6-19 6-22 6-4 6 10 6 23 6 2 6 4 6-4 6 4 6 2 6-3 6-7 6 17 6-6 6 2 6-4 6 16 6-3 6-2 6 0 6-6 6 3 6 8 6-6 6 4 6-4 6-3 6 3 6-10 6-5 6 9 6 10 6-15 6-3 6 11 6-3 6-3 6 4 6-5 6 3 6 6 6 0 6-2 6 3 6-10 6 5 6 2 6-5 6 4 6-5 6-3 6 7 6 4 6 3 6-14 6 6 6 5 6-2 6 5 6-12 6 5 6 3 6 5 6-17 6 3 6-20 6-17 6 8 6 8 6 13 6-6 6 6 6 6 6 5 6 8 6-6 6 0 6 6 6-7 6-2 6 6 6 0 6-1 6-8 6 1 6 15 6-6 6-14 6 14 6-10 6 6 6-4 6 8 6-2 6-3 6 3 6 0 6-7 6 8 6-7 6 9 6-1 6-5 6 1 6-3 6 5 6 0 6 2 6 6M7450 1073l6-7 6 5 6-1 6-5 6 10 6-6 6 4 6-8 6 13 6-6 6 1 6-1 6 1 6-11 6 10 6-1 6 7 6-1 6-3 6 3 6-9 6 5 6 0 6-2 6 4 6 2 6-3 6-4 6 1 6 4 6-12 6 6 6-11 6-39 6 23 6-2 6 10 6 4 6 13 6-1 6-2 6 2 6-7 6 11 6-3 6 3 6 6 6-5 6-2 6-7 6 2 6 9 6 2 6-4 6 2 6-14 6 1 6-23 6 9 6 9 6 0 6 16 6-8 6 3 6-8 6 17 6-12 6 7 6-5 6 8 6-5 6-2 6-8 6 16 6-3 6 0 6 2 6-2 6-1 6 2 6 7 6-10 6 9 6-7 6-5 6 11 6-6 6-1 6 1 6 2 6-3 6-3 6 8 6-4 6-4 6-7 6-55 6 7 6 14 6 8 6 13 6 8 6-12 6-22 6 2 6 16 6 5 6 11 6 6 6-2 6 1 6 1 6 4 6-8 6 15 6-10 6 9 6-6 6 9 6-15 6 4 6 15 6-14 6 5 6-3 6 4 6 1 6 6 6-4 6-3 6 8 6-3 6-5 6-2 6 5 6-9 6 9 6-6 6-3 6 10 6-9 6 6 6 3 6-11 6-1 6 10 6-7 6 1 6 4 6-10 6 11 6 2 6-3 6 1 6 1 6 0 6 5 6-10 6 10 6-12 6 2 6 5 6 0 6 1 6-3 6-8 6 7 6 3 6-10 6 10 6 0 6-12 6 7 6-3 6 3 6 1 6-1 6 0 6-7 6 16 6 6 6-10 6 5 6-8 6 7 6-6 6-5 6 8 6 1 6-8 6 8 6-3 6 0 6 5 6-10 6 10 6-10 6 2 6 7 6-3 6-6 6 6 6-12 6 15 6-11 6 14 6-7 6-6 6 15 6-11 6 7 6 1 6-3 6-1 6 0 6 0 6 1 6 9 6-19 6-4 6 8 6 4 6 3 6-6 6-18 6-45 6 13 6 8 6 12 6 9 6 4 6 9 6-1 6 2 6 6 6-2 6-4 6 1 6-14 6-79 6 14 6 22 6 15 6 20 6 2 6 4 6 5 6 10 6 2 6-2 6 2 6-4 6 18 6-7 6-8 6 12 6-6 6-6 6 12 6-7 6-7 6 15 6 4 6-15 6 8 6-2 6-1 6-6 6 8 6-7 6 2 6 3 6-5 6 4 6 2 6-15 6 24 6-4 6-1 6-3 6-2 6 1 6-12 6 10 6-13 6-25 6 12 6 7 6-1 6-9 6-70 6 15 6 14 6 19 6 16 6 14 6 0 6 11 6-6 6 5 6 2 6-9 6 6 6 5 6-38 6 12 6 8 6 10 6-3 6 22 6-6 6-16 6-7 6 2 6 11 6 5 6-4 6 5 6 11 6-12 6 11 6-9 6 4 6-2 6-2 6 11 6-8 6 3 6 1 6-1 6 3 6-3 6-1 6 5 6-9 6 5 6 6 6-8 6 0 6 9 6-8 6 3 6-3 6 2 6-2 6 1 6 12 6-12 6-2 6-1 6-3 6 5 6-5 6 2 6 7 6-4 6-29 6-31 6 26 6 7 6-3 6 11 6 14 6-7 6 0 6 4 6 5 6 2 6-5 6-27 6 5 6-4 6 4 6 18 6 9 6-4 6 2 6 2 6 8 6-8 6 4 6-3 6 8 6-12 6-12 6-51 6 16 6 13 6 10 6 8 6 6 6 5 6 3 6 1 6-9 6 6 6 9 6 4 6-11 6 6 6-1 6-4 6 15 6-6 6-4 6-6 6 8 6-1 6 1 6 0 6-1 6 3 6-29 6-99 6 25 6 21 6 23 6 15 6 3 6 11 6 5 6 9 6 5 6-2 6 5 6-5 6 11 6-5 6 2 6 6 6-3 6 4 6-4 6 0 6-14 6 18 6-8 6 6 6-4 6 3 6 2 6-11 6 2 6 14 6-8 6 1 6 6 6-8 6-2 6 2 6-2 6-6 6 9 6-19 6-13 6 30 6-9 6-5 6 7 6 6M7450 1215l6 3 6 12 6-12 6 5 6-2 6 7 6-9 6 2 6 6 6-3 6-9 6-1 6 15 6-10 6 4 6 1 6-3 6-7 6 5 6 8 6-5 6-2 6-4 6 6 6-1 6 0 6-2 6 12 6-16 6 5 6 2 6 5 6-6 6-9 6 13 6 5 6-10 6 2 6 0 6 7 6-9 6-10 6-13 6-50 6 15 6 21 6 17 6-4 6-4 6 14 6-6 6 12 6 5 6 4 6-10 6 15 6-3 6-1 6-3 6 2 6 7 6-6 6-38 6-43 6 20 6 16 6 8 6 14 6-9 6-22 6-16 6 12 6-10 6-65 6 26 6 29 6 23 6 2 6 19 6 5 6 1 6 19 6-1 6-4 6 9 6 2 6 0 6 1 6 1 6-3 6 2 6-8 6 7 6-6 6 8 6-8 6 9 6-6 6 5 6-7 6 12 6-2 6-4 6 6 6-12 6 9 6-4 6-2 6 2 6 6 6 3 6 2 6-9 6-22 6-12 6 3 6 16 6 7 6-5 6-5 6 5 6-30 6 10 6 3 6 7 6 11 6-3 6 7 6-2 6-3 6 21 6-3 6 0 6 0 6-6 6 0 6-8 6 2 6 6 6 2 6-4 6 2 6 4 6-6 6 6 6-2 6 1 6 2 6 0 6-3 6 0 6 6 6-14 6-1 6 1 6 2 6 6 6 5 6 0 6 3 6-6 6 6 6-9 6 0 6 4 6 0 6-3 6-3 6 5 6-10 6 12 6-1 6-1 6-1 6-7 6-24 6-4 6-1 6 24 6-6 6 5 6 10 6 2 6-11 6-26 6-3 6 11 6 8 6 7 6 3 6-2 6 0 6 5 6 2 6-30 6-23 6 27 6-1 6 12 6 2 6 11 6 3 6-2 6 4 6 1 6 3 6-6 6-2 6 10 6-5 6 3 6-3 6-4 6 4 6 2 6-9 6-48 6 10 6 27 6-11 6-17 6-3 6-1 6 16 6-10 6-8 6 12 6 16 6 0 6 15 6-2 6-4 6-5 6-50 6-30 6 21 6 23 6 19 6 3 6 10 6 10 6 6 6-7 6 16 6-1 6-5 6 0 6 3 6 9 6-12 6 6 6 7 6-12 6 6 6 9 6 4 6-12 6 2 6-4 6 0 6 5 6-6 6 1 6 6 6-9 6 3 6 2 6-3 6 6 6 0 6-3 6 4 6-12 6 6 6-2 6-6 6 2 6-3 6 14 6-12 6 10 6-1 6-2 6 1 6 0 6-1 6-6 6 18 6-4 6-1 6-7 6 0 6-1 6-7 6 9 6 7 6-9 6-7 6-1 6 5 6-26 6-9 6 8 6 10 6 7 6-5 6 3 6 9 6 5 6 2 6 3 6 1 6-4 6 3 6-4 6 4 6 2 6-3 6 5 6-38 6-19 6 5 6 18 6-7 6-38 6 4 6 23 6 6 6 16 6 1 6 13 6 2 6 1 6 5 6-7 6 1 6-1 6 11 6-1 6-2 6-3 6 9 6-4 6-6 6 4 6 1 6 5 6-3 6-5 6-2 6 13 6-10 6 4 6 3 6-14 6 6 6 8 6 0 6-6 6 8 6-6 6-3 6 9 6-8 6-1 6 5 6-5 6-1 6 1 6 5 6-7 6 6 6-3 6 1 6 0 6 10 6-15 6 3 6 2 6-3 6 5 6-1 6-3 6 11 6-17 6-27 6 8 6 8 6 6 6-1 6 1 6 4 6-1 6 4 6-4 6 0 6 11 6 2 6-1 6-1 6-5 6 1 6 2 6 4 6-1 6-14 6-61 6 19 6 0 6 12 6 15 6-3 6 9 6 4 6 15 6-9 6 5 6 1 6 13 6-3 6-5 6 5 6-12 6 12 6-14 6-23 6-20 6 22 6 1 6 14 6 8 6-4 6-3 6 11 6-6 6 3 6 4 6-1 6 1 6 4 6-3 6-1 6 5 6 10 6-16 6 6 6-6 6 7 6-6 6 3 6 1 6-2 6-14 6-47 6-66 6 30 6 25 6 27 6 0 6 14M7450 1366l6 10 6-1 6-6 6 15 6-8 6-1 6 10 6-7 6-5 6-1 6-6 6 3 6 11 6-10 6 2 6 1 6 6 6-14 6 0 6 7 6 6 6 1 6 0 6-10 6 13 6-14 6 7 6-3 6-2 6-8 6 8 6 4 6-2 6 1 6 0 6 0 6 5 6-6 6 8 6-12 6 7 6 4 6-9 6 0 6 3 6 8 6-1 6-9 6-8 6 9 6 0 6-1 6 7 6-10 6 9 6-4 6 5 6 2 6-3 6 1 6-2 6-10 6 6 6 4 6-4 6 4 6-8 6 2 6 5 6-1 6-1 6 6 6 0 6-5 6 4 6-15 6-51 6-86 6 32 6 21 6 31 6 7 6 23 6 10 6 1 6 7 6 10 6-11 6 5 6 11 6-3 6 1 6 6 6-7 6 9 6 2 6-15 6 10 6 1 6-3 6 3 6-14 6 8 6-2 6 0 6-6 6 21 6-14 6 3 6 0 6-5 6 2 6 12 6-10 6 2 6-6 6 16 6-14 6 3 6-3 6 2 6 12 6-14 6 4 6 3 6-8 6 5 6-9 6 3 6 11 6-9 6 4 6 0 6 0 6-5 6 8 6-6 6 10 6-9 6 8 6 0 6-6 6 5 6-11 6 11 6-13 6 3 6 4 6-3 6 2 6-10 6 9 6 5 6-4 6 3 6-1 6 2 6 0 6-7 6 5 6-4 6 5 6-1 6 2 6-9 6-2 6 9 6-5 6 12 6-1 6-10 6 12 6-22 6 8 6-3 6 9 6 6 6-2 6 0 6-28 6-76 6-19 6 18 6 36 6 14 6-2 6-20 6-5 6 25 6 6 6 8 6 10 6 9 6-4 6-69 6-43 6 34 6 21 6 12 6 21 6-1 6 23 6 2 6 18 6-3 6-1 6 6 6 2 6 0 6 3 6-1 6-3 6-1 6 8 6-4 6 3 6-9 6-4 6 8 6-1 6 4 6-4 6 3 6 6 6-13 6-5 6 8 6 3 6-2 6-6 6 11 6-6 6 2 6 12 6-9 6-5 6 1 6 3 6 6 6-8 6 0 6-1 6-7 6 9 6-5 6 3 6-12 6 12 6-11 6 18 6 1 6-8 6 3 6-7 6 2 6 0 6 8 6-4 6-4 6 7 6-3 6-6 6 6 6-1 6-5 6 4 6 9 6-8 6 1 6-2 6-9 6 5 6 5 6 4 6-7 6 3 6-6 6 5 6-3 6 9 6-3 6-1 6 4 6-6 6 4 6 0 6 2 6-4 6 8 6-12 6 2 6-1 6-3 6 0 6-21 6-56 6 27 6 11 6 22 6 0 6 4 6 1 6 4 6 1 6 9 6 2 6-3 6 6 6-1 6-2 6 11 6-2 6-10 6 6 6-7 6 6 6 3 6-8 6 4 6-3 6 6 6 0 6-2 6 2 6-3 6 4 6-6 6-3 6 2 6 9 6-13 6 15 6-10 6 1 6-3 6 7 6-1 6-8 6 0 6 10 6-3 6 2 6 9 6-18 6 9 6-4 6-1 6 8 6-11 6 8 6 4 6-9 6 1 6 3 6-2 6-9 6 5 6 3 6 2 6-29 6-59 6 21 6-33 6 16 6 29 6 11 6 12 6 13 6 0 6 4 6-7 6 11 6 5 6 0 6-1 6-3 6-1 6 17 6-2 6-7 6-9 6 12 6-7 6 8 6 0 6-1 6-9 6 10 6-3 6-1 6-3 6 4 6-4 6-4 6 4 6 6 6-1 6-2 6 3 6 4 6-1 6-2 6 7 6-24 6 10 6 7 6 1 6-10 6 13 6-1 6-11 6 6 6-5 6 4 6 0 6 4 6-6 6 1 6 0 6 4 6-9 6 6 6-3 6 9 6 3 6-12 6 7 6 1 6-6 6-5 6 8 6 0 6-4 6 0 6 2 6 9 6-12 6 7 6-14 6 14 6-5 6 2 6-2 6-11 6 14 6-7 6 5 6 2 6-5 6 2 6 2 6 4 6-12 6-41 6-6 6 10 6 16 6-13 6 30 6 0M7450 1534l6-13 6 3 6-1 6 2 6-8 6 1 6 1 6 19 6-9 6-5 6-4 6-1 6-105 6 31 6 12 6 28 6 9 6 10 6 4 6 5 6 9 6-13 6 6 6 9 6 7 6-15 6 18 6-5 6 1 6-2 6-6 6-2 6 3 6 7 6-12 6 1 6 2 6-8 6 17 6-1 6 0 6-1 6-6 6 2 6 3 6-8 6 6 6 3 6 0 6 4 6-6 6 3 6-3 6-3 6 0 6 4 6-12 6 16 6-10 6 4 6-1 6 4 6 1 6-7 6 12 6-10 6 8 6 2 6-9 6 3 6-13 6 19 6-10 6 0 6-24 6-106 6 30 6 14 6 20 6 17 6 12 6 4 6 8 6 6 6 11 6-5 6 5 6-34 6-19 6 12 6 7 6 15 6 1 6 12 6-6 6 12 6-12 6 12 6 5 6 6 6-2 6-12 6 17 6 2 6-9 6-5 6 8 6 3 6-3 6 0 6-20 6-62 6 19 6 18 6 14 6 8 6-13 6-17 6 3 6 16 6 10 6-4 6 21 6-10 6 7 6 1 6 3 6 7 6-8 6-2 6 16 6-10 6 2 6 1 6-4 6 4 6 1 6-8 6 11 6-3 6 0 6 2 6-1 6-10 6 11 6-17 6 21 6 4 6-8 6 3 6-13 6 4 6 8 6-5 6 1 6-15 6 12 6 0 6-2 6 2 6 1 6 4 6-4 6-1 6 8 6-7 6 6 6 3 6-8 6-3 6-3 6 8 6 5 6-3 6-4 6 0 6-3 6 3 6-6 6 8 6-5 6-1 6 1 6-1 6 9 6-10 6 7 6-2 6 4 6-7 6 4 6 2 6-7 6 7 6-6 6 1 6-2 6 3 6 6 6-7 6-1 6-7 6 0 6 5 6-1 6 18 6-10 6 3 6-9 6 0 6 0 6 0 6 1 6 3 6 2 6-7 6 4 6-5 6 7 6-1 6 3 6-7 6 7 6 8 6-8 6 0 6-4 6 2 6-8 6 4 6-3 6-2 6 2 6 0 6 7 6-4 6 3 6-5 6 7 6-6 6 6 6-7 6-2 6 0 6 8 6-9 6 16 6-10 6 8 6-7 6 6 6-6 6 4 6-10 6-5 6 7 6-1 6 3 6 2 6 1 6 5 6-2 6-8 6 6 6-4 6 6 6-16 6 5 6 7 6-10 6 7 6-3 6 7 6 1 6-9 6 3 6 0 6-1 6 4 6 3 6-4 6 11 6-10 6-5 6 7 6-11 6 12 6 3 6-8 6 4 6-4 6 6 6-6 6 2 6-1 6-3 6 9 6-3 6-7 6 0 6 2 6 9 6-6 6 3 6-1 6 7 6 2 6-15 6 1 6 11 6-5 6-2 6 3 6-6 6 5 6 5 6-5 6-4 6 6 6-8 6-1 6 2 6 0 6 3 6-3 6 7 6 8 6-9 6-10 6 2 6 10 6-4 6 3 6 2 6-4 6-6 6 4 6 1 6 10 6-22 6 17 6-6 6-4 6 3 6-3 6 16 6-8 6-1 6 4 6 1 6-12 6 10 6-30 6-83 6-5 6 32 6 10 6-16 6-67 6 38 6 24 6 24 6 15 6 12 6 4 6-3 6-9 6-58 6 26 6 13 6 17 6 14 6 9 6 3 6 3 6 11 6-1 6 13 6-4 6-4 6 11 6 0 6-8 6 11 6-7 6-12 6-14 6-105 6 30 6 33 6 14 6 10 6 6 6 6 6 9 6 7 6 10 6-8 6 10 6-7 6 0 6 15 6-17 6 11 6-12 6-27 6 4 6 10 6 2 6 8 6 11 6-1 6-3 6 0 6 5 6 5 6 3 6-6 6-14 6 16 6-23 6-65 6 20 6 18 6 23 6 2 6 6 6-1 6 11 6 1 6 6 6-1 6-12 6 8 6 2 6 7 6 3 6-11 6 5 6-3 6 2 6 1 6 13 6-17 6-4 6 8 6 2 6-2 6 2 6 8 6-7 6-2 6-5 6 10 6-4 6-1 6-2 6-8 6 7 6 0" fill="none" stroke="#b32d5d" stroke-width="13.5" stroke-linejoin="round" />
<text x="744.6" y="171.0" font-size="18.6" fill="#b32d5d" textLength="85.5" lengthAdjust="spacingAndGlyphs" >Region A</text>
<path transform="scale(.1)" d="M7450 1805l6-14 6 16 6-15 6 2 6 4 6 6 6-8 6 5 6-9 6 21 6-15 6 14 6-20 6-30 6-3 6 19 6 5 6 11 6-5 6 0 6 4 6 6 6-3 6-3 6 2 6 12 6-7 6 2 6 10 6-17 6 2 6 7 6-8 6 1 6 4 6-4 6 3 6 2 6-8 6 13 6-18 6 9 6 3 6-4 6 7 6-3 6-12 6 8 6 3 6 0 6-6 6 0 6 7 6-8 6 6 6 0 6-4 6 8 6 4 6-7 6-6 6 6 6-6 6-1 6 8 6-2 6 1 6-4 6 0 6 2 6-6 6 5 6 0 6 6 6-5 6-6 6 3 6 3 6 1 6 4 6-1 6-8 6 5 6-1 6-6 6 9 6 0 6-9 6 4 6 11 6-8 6 4 6-2 6-1 6 7 6-5 6-12 6 10 6 1 6-7 6 12 6-6 6-8 6 7 6-2 6 3 6-3 6-2 6 5 6-2 6-1 6 11 6-14 6-4 6 5 6 3 6 3 6-4 6-8 6 2 6 11 6-11 6 11 6 0 6-3 6-3 6 4 6-6 6 3 6-6 6 15 6-8 6-3 6-4 6 18 6-9 6-8 6-80 6 25 6 11 6 8 6 10 6 12 6 1 6-8 6 20 6-3 6 7 6-5 6 9 6-6 6 11 6-8 6-11 6 18 6-2 6-8 6 11 6 6 6-3 6-10 6-4 6 5 6-3 6-20 6 10 6-4 6 2 6 11 6-6 6 3 6 5 6 1 6-5 6 11 6 3 6-14 6-4 6 9 6-4 6 13 6-1 6-4 6-1 6-2 6 3 6-2 6 0 6-4 6-2 6 1 6-2 6 8 6 1 6 7 6-1 6-12 6 1 6 2 6 2 6 5 6 5 6-8 6-2 6 12 6-20 6 10 6-5 6-5 6-1 6 9 6-6 6 0 6 4 6-1 6 6 6-6 6 5 6-2 6-2 6-4 6 6 6 0 6 1 6-16 6 16 6-5 6 10 6-8 6 7 6-3 6-7 6-5 6 8 6-2 6 2 6 3 6-3 6-4 6 4 6-3 6-27 6-73 6 28 6 12 6 26 6 0 6 16 6 2 6-6 6 9 6 11 6 1 6-5 6 1 6 6 6-3 6 6 6 12 6-19 6 8 6-5 6 4 6 1 6 3 6-8 6-1 6-2 6 3 6 1 6 5 6-3 6-2 6 15 6-6 6-5 6-5 6-3 6-2 6 13 6-5 6 3 6 2 6-3 6-2 6-3 6 11 6-7 6 5 6-12 6-2 6 11 6 1 6-6 6-2 6 10 6-3 6-4 6 7 6-13 6 8 6-1 6 7 6-12 6 13 6-4 6 0 6-3 6 7 6-3 6-7 6 3 6-1 6-4 6 3 6-3 6 5 6 4 6-13 6 17 6-1 6-1 6-18 6 11 6-5 6 14 6-3 6-7 6 4 6-3 6-2 6 2 6 0 6 0 6 2 6-3 6-3 6 9 6-6 6-3 6 6 6-1 6-10 6 4 6-6 6 2 6 11 6 2 6-2 6-6 6 22 6-17 6-6 6 5 6-1 6 3 6 7 6-13 6 6 6-4 6 3 6-10 6 7 6 1 6 2 6 4 6-6 6-4 6 6 6 11 6-7 6-14 6 13 6-4 6 10 6-6 6 1 6-8 6 1 6 0 6-2 6 7 6-11 6 10 6-6 6-6 6 13 6-4 6 2 6-1 6-5 6-16 6-22 6 7 6 5 6-39 6 16 6 18 6 2 6 12 6 8 6 7 6 1 6-4 6 11 6-10 6 3 6 2 6 11 6-9 6-33 6-40 6 20 6 14 6 6 6 19 6-8 6 8 6 10 6-5 6 19 6-6 6-7 6-5 6 15 6-5 6-34 6-22 6 18 6 10 6-4 6 19 6 8 6-3 6-6 6 5 6 5 6 8 6-6 6-14 6 12 6-2 6 14 6-6 6 1 6-11 6 10 6-1 6 2 6 12 6-20 6 15 6-6 6 5 6-5 6-1 6 0 6-9 6 13 6-5M7450 1948l6 4 6 1 6-12 6 5 6 9 6-6 6 6 6-7 6 10 6-12 6 2 6 1 6 1 6-1 6 6 6-5 6-3 6 1 6 7 6-7 6 8 6-2 6 1 6-2 6-2 6-4 6-2 6 3 6 6 6-7 6-2 6 9 6 2 6-5 6-10 6 11 6-1 6-4 6 9 6 0 6-5 6-5 6 6 6 2 6-2 6-49 6 19 6-5 6 17 6-5 6 1 6 16 6-5 6 1 6-2 6 9 6-7 6 6 6 6 6-15 6-25 6-13 6 12 6 5 6 2 6 20 6-8 6-1 6 17 6-6 6 4 6-1 6-3 6 15 6-5 6 4 6-5 6-11 6 15 6-3 6 1 6-5 6 4 6 2 6 0 6-3 6 6 6 6 6-18 6 5 6 3 6-2 6-4 6 8 6-5 6 3 6-9 6 19 6-5 6-15 6 13 6-2 6 3 6 5 6-11 6-4 6 2 6 8 6-4 6-11 6 9 6 4 6-9 6 6 6 8 6-5 6-9 6 5 6 0 6-4 6 7 6 4 6-7 6 3 6-3 6 3 6 0 6 4 6-9 6-8 6 16 6-12 6 2 6 7 6 2 6-10 6-6 6-15 6 7 6-7 6 22 6-8 6-5 6 10 6-8 6 11 6 0 6-2 6 8 6-4 6-2 6 6 6-5 6-3 6 11 6-5 6-3 6 6 6-9 6-1 6 9 6-4 6 5 6-3 6-3 6 3 6-1 6 3 6-9 6 2 6 7 6-5 6-11 6 16 6-10 6-6 6 14 6-5 6 15 6-18 6 4 6-1 6 3 6-4 6 0 6 2 6 5 6-1 6-1 6 1 6 3 6 3 6-6 6 4 6-3 6 5 6 0 6-5 6-1 6-12 6 12 6-6 6 3 6 1 6 3 6-5 6 1 6 9 6-10 6 4 6 7 6-4 6-7 6-1 6 5 6-7 6 2 6 12 6-2 6-7 6 6 6-2 6-4 6 3 6 2 6 3 6-17 6 17 6-5 6-7 6 6 6 4 6 1 6-11 6 1 6 14 6-3 6-10 6-5 6 11 6-7 6 12 6 1 6-2 6-9 6 1 6-2 6 12 6-17 6 10 6-15 6 12 6 11 6-9 6 4 6-12 6 6 6-5 6 10 6 0 6-4 6 0 6 5 6-7 6-4 6 8 6 1 6 0 6-5 6 3 6-3 6-3 6 7 6 0 6 0 6-9 6 8 6-1 6-18 6-71 6 23 6 23 6 1 6 12 6 3 6 8 6 7 6 8 6-8 6 1 6 12 6-3 6-2 6 3 6-2 6 4 6 2 6-9 6 15 6-12 6 7 6-4 6 4 6-4 6 4 6-5 6 9 6-2 6-5 6-4 6 8 6-14 6 11 6-5 6 13 6-4 6 0 6 0 6 3 6-6 6 2 6-13 6 9 6-2 6 12 6-18 6 0 6 13 6 0 6-2 6-11 6 14 6-1 6 3 6-10 6-3 6 9 6-10 6 5 6 5 6-7 6-4 6 0 6 4 6-4 6 6 6-1 6-8 6 10 6 4 6 2 6-4 6 7 6-5 6 1 6-5 6 6 6-6 6 0 6-5 6-1 6-3 6 10 6 6 6-11 6 1 6 5 6-7 6-6 6 9 6 4 6-4 6 6 6-15 6 17 6-1 6-11 6 6 6 6 6-11 6-1 6 14 6-12 6-2 6-4 6 7 6-1 6 3 6-3 6-5 6 5 6 6 6-2 6-11 6 17 6-4 6 1 6-10 6 11 6-2 6-2 6-3 6-1 6 9 6 0 6 2 6-13 6 7 6-3 6 1 6 8 6 1 6-3 6-16 6 12 6-16 6-48 6-36 6 33 6 24 6 6 6 5 6 4 6 12 6-2 6 5 6-3 6-21 6-38 6 13 6 19 6 12 6-9 6 17 6 4 6 14 6-10 6 15 6-12 6 5 6 5 6-6 6-38 6 2 6 18 6-7 6 20 6-2 6 5 6-8 6 18 6-12 6 4 6 18 6-7 6-3 6 3 6-7 6-1 6-2M7450 2106l6-7 6 4 6-4 6 3 6 0 6 2 6-5 6 2 6 6 6 6 6-16 6 1 6 4 6-6 6 6 6 1 6 1 6-9 6-2 6-1 6-34 6 3 6 9 6 4 6-2 6-17 6 11 6 11 6 2 6 8 6 1 6 5 6 4 6-9 6 10 6-2 6-1 6 10 6-4 6 4 6-3 6 5 6-10 6 5 6 6 6-9 6 8 6 2 6-9 6 2 6-2 6-30 6-16 6 12 6 4 6 10 6 0 6 1 6-32 6 18 6-1 6-2 6 19 6 3 6 5 6 10 6-10 6-4 6 2 6 11 6 4 6-1 6-5 6 5 6-6 6 3 6 8 6-1 6-10 6 0 6 5 6-8 6 8 6 1 6-1 6-3 6 14 6-12 6 0 6 5 6 0 6-10 6 8 6-1 6-6 6 11 6-19 6 17 6-1 6 4 6-4 6 2 6-3 6 3 6 7 6-18 6 2 6 1 6 0 6 0 6 6 6-18 6 18 6 3 6-16 6 9 6-14 6-25 6 7 6 4 6 7 6 13 6-6 6 10 6 6 6-11 6 4 6 4 6 4 6-8 6 6 6 2 6-6 6 2 6 8 6-13 6 15 6-4 6-6 6 2 6-4 6 1 6 15 6-19 6 9 6-2 6 4 6 1 6-8 6 1 6 1 6 4 6-11 6 6 6-1 6 2 6-1 6-4 6 1 6-1 6 5 6 0 6 7 6-5 6 2 6 1 6-4 6-1 6 4 6 5 6-7 6-1 6-2 6 6 6 2 6 3 6-9 6 3 6-6 6 10 6-14 6 8 6 0 6-2 6-3 6 0 6 13 6-6 6-5 6-1 6 2 6 5 6-6 6 3 6-1 6-6 6 6 6-2 6-5 6 2 6 11 6-1 6 5 6-15 6 6 6 2 6-3 6 6 6-9 6 7 6-16 6-33 6-14 6 11 6 15 6 7 6 0 6 2 6 10 6-2 6 17 6-7 6 2 6-4 6-38 6-29 6 22 6 9 6 8 6 7 6 12 6 7 6-6 6 4 6 8 6-9 6 14 6 2 6-5 6 7 6-6 6 0 6 3 6-3 6 7 6 5 6-15 6-1 6 0 6 7 6-5 6 4 6-7 6 12 6-8 6 4 6-6 6 3 6 10 6-8 6 4 6-7 6-2 6 10 6-8 6 7 6-3 6-3 6-5 6 3 6 0 6 5 6-2 6-3 6 2 6 0 6-1 6-6 6 1 6 0 6 5 6 6 6 1 6-6 6 6 6 4 6-8 6-12 6 11 6-1 6 1 6-1 6 7 6-8 6-2 6 2 6 0 6 1 6-3 6 9 6 4 6-7 6-2 6-3 6 6 6-4 6 1 6-4 6 6 6-5 6-1 6 5 6-1 6 2 6 1 6 0 6 2 6-9 6 2 6 2 6-1 6 1 6-8 6 3 6 6 6-5 6 12 6-6 6 2 6-6 6 4 6 2 6-1 6 4 6-1 6-1 6-7 6 0 6-2 6-4 6 3 6 14 6-6 6-11 6 7 6-1 6 1 6 8 6-9 6 3 6 4 6-7 6-11 6-9 6 3 6 1 6 8 6 11 6-7 6-2 6 8 6-3 6 1 6 2 6 0 6 0 6 0 6 0 6-3 6 5 6 2 6-7 6 6 6-14 6 12 6-11 6 9 6-1 6-2 6 2 6 3 6 1 6 2 6 1 6-9 6 16 6-20 6 3 6 6 6-9 6-1 6 4 6 17 6-2 6-13 6 9 6-8 6-1 6-24 6-2 6 6 6 13 6-3 6 7 6-7 6 10 6-4 6 1 6 4 6 4 6-4 6 2 6-4 6 8 6 1 6-9 6 3 6-5 6-1 6 16 6-10 6 0 6 1 6-4 6-5 6 10 6 0 6-4 6 0 6 4 6-5 6-2 6 9 6-9 6 10 6-10 6 11 6 0 6 2 6-5 6-1 6 0 6 1 6-5 6-19 6-17 6 7 6 11 6 2 6 11 6 4 6-7 6 9 6-3 6 7 6 3 6 0 6-2 6-10 6 10M7450 2253l6 3 6-2 6 6 6-11 6 4 6 3 6-6 6 12 6-4 6-6 6-6 6 11 6-12 6 3 6 10 6-6 6-3 6 10 6-12 6 15 6-15 6 1 6-2 6 4 6 3 6 4 6-40 6 4 6 6 6 12 6 13 6-11 6 10 6-3 6-1 6 10 6-8 6 7 6-1 6-6 6 11 6-4 6-1 6-6 6 5 6-4 6 9 6 2 6-6 6-9 6 5 6 5 6 1 6-10 6 4 6 10 6 3 6-20 6 9 6 1 6-2 6 2 6 1 6-1 6 4 6-29 6 7 6-2 6 4 6 9 6 1 6 0 6-8 6 6 6 9 6-10 6 12 6-10 6 6 6 6 6-3 6-1 6-7 6-1 6 15 6-6 6-7 6 2 6 0 6 0 6-1 6-2 6 8 6 9 6-13 6 5 6 5 6-8 6 4 6-4 6 10 6-13 6 3 6-1 6 5 6 0 6-9 6 2 6 4 6 5 6-8 6 5 6-7 6 7 6-4 6-1 6 5 6-6 6 10 6-13 6 8 6 0 6-1 6 1 6 2 6-5 6 4 6-1 6-3 6 2 6 3 6-8 6-5 6 12 6-7 6 8 6-3 6 4 6-2 6 1 6-3 6 1 6-13 6 15 6-7 6-1 6 13 6-1 6-12 6 10 6-4 6 11 6-8 6-4 6-18 6-54 6 28 6 1 6 15 6 8 6 4 6 4 6 9 6-5 6 7 6-6 6-10 6 20 6-14 6 14 6-4 6-6 6 3 6-3 6-1 6 8 6 1 6-5 6 0 6-6 6 19 6-15 6 2 6-13 6-75 6-29 6 29 6 11 6 25 6 15 6 8 6 5 6 5 6 8 6 0 6-12 6-28 6 14 6 12 6 6 6-2 6 6 6 6 6-2 6 7 6-3 6 6 6-6 6 5 6-1 6-19 6-9 6 8 6 12 6 0 6 6 6-2 6 10 6-5 6-8 6 5 6 6 6-7 6 9 6-5 6 3 6 3 6-4 6-9 6 5 6-51 6-64 6 38 6 19 6 17 6 2 6-48 6 22 6 19 6 10 6 6 6 4 6 13 6 0 6 2 6 7 6 0 6 7 6 8 6-11 6 10 6-8 6 7 6 3 6-5 6 5 6-6 6 1 6 1 6-9 6 4 6 5 6-5 6 2 6 3 6 5 6-3 6-13 6 9 6-2 6-6 6 12 6-9 6 18 6-7 6 5 6-10 6 0 6 3 6 0 6-18 6 13 6-1 6 7 6 0 6-5 6 2 6 0 6 0 6 7 6-10 6 1 6-2 6-1 6-5 6 11 6-3 6-6 6 9 6-8 6 8 6 0 6 3 6-5 6-11 6 2 6 8 6-2 6-3 6 11 6-3 6-1 6 8 6-5 6-1 6-2 6 0 6 10 6-13 6 4 6-5 6 0 6 4 6-10 6 17 6-8 6-1 6-6 6 7 6-3 6 2 6-9 6 11 6 3 6-2 6-4 6-5 6 18 6-5 6-13 6 9 6 1 6-1 6 2 6 1 6-6 6 5 6-13 6 21 6-15 6 6 6-11 6 13 6-8 6-5 6 5 6 6 6-2 6-2 6-6 6 6 6-2 6 8 6-5 6-6 6 7 6 1 6 0 6-8 6 3 6 1 6 5 6 6 6-14 6 7 6-6 6 1 6 6 6 2 6-10 6 15 6 1 6-19 6 12 6-5 6-4 6-6 6 16 6-4 6-6 6 5 6 4 6-9 6 13 6-13 6 5 6 0 6 3 6-7 6-29 6-11 6 6 6 10 6 11 6 4 6 2 6 5 6-7 6 14 6-13 6 8 6-20 6-66 6 28 6 1 6 13 6 10 6 6 6 8 6 20 6-10 6 10 6-6 6 7 6 2 6 3 6-7 6-2 6 11 6-7 6 0 6 3 6 1 6-7 6-1 6 3 6 0 6 0 6 7 6-3 6 0 6 4 6-8 6-5 6-1 6 11 6 1 6 2 6-7 6 3 6-6 6 11 6-6 6 4 6-4 6 2 6 8 6-13 6 4 6-1M7450 2406l6 4 6-5 6-3 6-5 6 7 6 4 6-8 6 6 6 1 6-2 6-3 6 9 6-6 6 1 6 2 6-11 6 16 6-7 6-2 6 0 6-6 6 18 6-9 6 3 6 2 6-4 6-5 6 4 6-11 6 17 6-27 6-82 6 5 6 20 6 22 6 10 6 13 6 9 6 8 6 2 6-2 6 8 6-4 6 6 6 1 6-6 6 13 6-5 6-4 6 1 6 2 6-5 6 9 6-3 6-8 6 15 6-9 6 0 6 1 6 0 6 6 6-5 6 1 6-2 6 1 6-8 6 4 6-5 6 5 6 3 6-2 6-3 6 11 6 3 6 0 6-11 6 5 6 0 6-2 6-3 6 6 6 2 6-2 6-6 6 5 6-4 6-2 6 6 6 3 6 2 6-4 6 3 6-6 6 7 6-7 6 3 6-6 6 9 6-5 6-3 6 11 6-10 6 5 6 2 6-1 6-23 6-12 6 7 6 1 6 23 6-16 6-4 6 14 6 3 6 0 6-4 6-7 6 16 6 12 6-16 6 2 6 0 6 1 6 9 6-12 6 6 6-14 6-34 6-49 6 28 6 2 6 21 6 8 6 2 6 11 6 6 6 16 6-15 6 4 6 11 6 3 6-8 6 3 6-7 6 13 6-5 6-4 6 1 6 9 6 1 6-5 6-12 6 14 6-2 6-6 6 2 6-5 6 11 6-1 6-7 6 5 6-1 6 5 6-1 6 0 6-1 6 1 6-2 6 0 6-7 6-3 6 10 6-9 6 5 6 13 6-12 6 8 6-12 6 8 6-10 6 0 6 10 6 2 6-26 6-61 6-30 6 13 6-10 6-67 6 35 6 40 6 22 6 24 6 24 6-14 6-40 6-68 6 38 6 31 6 21 6 12 6 17 6 4 6-33 6-23 6 18 6 21 6 10 6 13 6 4 6-1 6 0 6 13 6-1 6 7 6 5 6-3 6-1 6 1 6 3 6-5 6-4 6 8 6-4 6-1 6-2 6 2 6-2 6 5 6 6 6-1 6-3 6 3 6-1 6-3 6-1 6 2 6-4 6-7 6 14 6-2 6 3 6-11 6 1 6 11 6-9 6 9 6-9 6 2 6 0 6 9 6-10 6 0 6-5 6 5 6 1 6 3 6-6 6-1 6 0 6 0 6 5 6 6 6-7 6-7 6 1 6 9 6-13 6 3 6 3 6 9 6-8 6-2 6-6 6 13 6-1 6-7 6 0 6 2 6 6 6 1 6-4 6-1 6-3 6 8 6 5 6-13 6 5 6 1 6-6 6 12 6-7 6 2 6-4 6 2 6-3 6 9 6-4 6-3 6-31 6-1 6 12 6 2 6 8 6 5 6-8 6 9 6-6 6-4 6 18 6-8 6 5 6-3 6 13 6-14 6 8 6-6 6-1 6-1 6 4 6-2 6 3 6 6 6-4 6-1 6-1 6-2 6 0 6-4 6-5 6 15 6-6 6-1 6 3 6-5 6 15 6-14 6 4 6 8 6-8 6-11 6 10 6-10 6-1 6 9 6 3 6-5 6-3 6-2 6 7 6 6 6-12 6 17 6-8 6-2 6-2 6 6 6-4 6-4 6-3 6-28 6 2 6 10 6 11 6 3 6-10 6 13 6-2 6 7 6-1 6 0 6 3 6-6 6-1 6 2 6 6 6 1 6 7 6-15 6 7 6 4 6 0 6-9 6 5 6-5 6 3 6-4 6 3 6 16 6-21 6 13 6-14 6 7 6 4 6-1 6 2 6-6 6-12 6-41 6-11 6 3 6 18 6 18 6-3 6 5 6 8 6 3 6 8 6 14 6-17 6 9 6-13 6 13 6-5 6 7 6 4 6-4 6-13 6 10 6 10 6-15 6 0 6 10 6-5 6 1 6 4 6-5 6 9 6-10 6-3 6 9 6-8 6 0 6 1 6-4 6 7 6 4 6-8 6 1 6 13 6-11 6 5 6-2 6-3 6-7 6 6 6 5 6 0 6-14 6-37 6-1 6 27 6 4 6-5 6-3 6-19 6 19 6 8 6-5 6 13" fill="none" stroke="#e3c07d" stroke-width="13.5" stroke-linejoin="round" />
<text x="744.6" y="259.0" font-size="18.6" fill="#e3c07d" textLength="86.5" lengthAdjust="spacingAndGlyphs" >Region B</text>
<path transform="scale(.1)" d="M7450 2675l6 6 6-4 6-4 6 10 6 0 6-10 6 6 6 1 6-6 6 10 6-5 6 6 6 0 6-9 6-3 6 5 6 8 6-7 6-2 6 2 6-6 6 10 6-6 6 4 6-2 6 2 6-5 6 9 6-5 6-3 6-2 6-1 6 4 6-5 6 0 6 6 6-10 6 2 6 9 6-1 6 2 6-2 6-2 6 1 6 3 6-5 6-3 6 1 6 2 6 5 6-1 6-9 6 8 6 4 6-9 6-3 6 15 6-15 6 13 6-9 6 3 6 4 6 2 6 0 6 1 6-4 6-7 6 6 6-11 6 11 6 2 6-3 6-8 6 12 6-4 6-5 6 7 6-5 6 4 6 0 6 0 6 0 6-5 6 12 6-2 6-4 6 6 6-3 6 1 6-5 6 7 6-7 6 2 6-8 6 13 6 0 6 0 6-2 6-1 6-8 6 7 6-3 6 0 6-3 6 9 6-3 6-4 6-6 6 10 6 0 6-7 6 3 6 0 6-9 6 13 6-7 6-6 6 11 6-13 6 8 6 2 6-6 6 6 6 13 6-13 6 2 6 6 6-10 6 6 6 1 6-15 6 5 6-1 6-2 6 15 6-15 6 14 6 0 6-7 6 4 6-10 6 10 6-5 6 3 6 4 6-3 6 1 6-3 6 2 6-5 6 5 6-2 6-7 6 6 6-12 6 13 6-1 6-1 6-3 6 2 6 4 6 1 6 1 6-2 6 7 6-1 6 0 6-13 6 6 6-4 6 6 6-3 6 6 6 5 6-8 6 1 6 1 6 4 6-10 6-1 6 1 6-2 6 9 6-7 6 3 6 2 6-2 6 5 6-3 6-2 6 9 6-16 6 2 6 1 6-4 6 5 6 0 6-5 6 10 6 5 6-12 6 6 6-6 6 2 6 6 6-3 6 5 6-5 6 1 6-5 6-5 6 8 6 2 6-2 6 1 6 2 6-3 6 6 6-1 6-5 6-4 6 2 6 4 6-7 6 4 6-7 6 6 6 3 6 6 6-12 6 1 6-2 6 10 6 2 6-12 6 7 6 12 6-15 6 9 6-13 6 2 6 15 6-12 6 2 6-3 6 9 6 1 6-11 6 14 6-10 6-2 6-2 6 2 6-9 6 5 6 7 6 0 6 3 6-5 6-9 6 6 6 4 6 6 6 6 6-12 6 4 6-6 6 7 6-9 6 5 6 2 6-5 6 4 6-2 6 4 6-16 6-32 6-10 6 9 6 9 6 9 6 2 6 10 6-8 6 17 6 10 6 2 6 0 6-9 6 9 6 0 6-11 6 13 6-9 6-4 6-1 6 5 6 8 6-2 6-12 6-1 6 10 6-6 6 0 6 6 6-7 6 9 6-7 6 0 6 4 6 2 6-11 6 12 6-38 6-96 6 27 6 24 6 22 6 5 6 16 6 6 6 17 6-1 6-6 6 6 6 5 6-2 6 3 6 3 6 1 6 0 6 5 6-11 6-3 6 11 6 1 6-11 6 9 6 0 6 0 6 2 6 2 6-5 6 11 6-13 6-2 6 9 6 0 6-11 6 10 6 2 6-7 6 8 6-6 6-12 6 6 6 4 6 2 6 1 6-1 6 11 6-14 6 6 6 0 6 0 6-5 6 3 6-10 6 22 6-15 6 0 6 19 6-17 6 3 6 0 6 0 6-2 6 4 6 1 6-8 6 5 6-4 6-10 6 21 6-3 6-1 6-7 6-28 6 11 6 2 6-1 6 22 6-7 6 4 6-5 6 8 6-12 6 11 6 1 6 2 6 2 6-6 6 2 6-4 6 4 6-5 6 2 6-5 6 2 6 6 6-8 6 9 6 1 6-9 6 11 6-3 6 4 6 0 6-9 6 7 6-13 6 1 6 5 6 5 6-3 6 1 6-7 6 15 6-8 6-1 6-2 6-1 6 5 6-5 6 9 6-12 6 4 6 3 6-7 6 10 6 4 6-11 6 3 6 2 6 1 6-5 6-2 6 9 6 2 6-10 6 8 6-11 6-1 6 10 6-15 6 13 6-1 6 1 6-3 6-2M7450 2829l6 5 6-2 6 6 6-2 6-6 6 0 6 3 6-4 6 5 6-3 6-1 6-4 6-6 6-15 6-1 6 14 6-14 6 25 6-8 6 10 6-6 6 0 6-1 6 7 6-6 6 8 6 1 6 0 6 0 6-12 6 4 6 1 6 13 6-9 6-4 6 12 6-13 6 10 6-5 6-2 6 2 6 0 6-3 6-3 6-2 6 1 6 6 6 11 6-5 6-3 6-6 6-2 6 7 6 2 6-4 6 0 6-3 6 0 6 5 6 11 6-10 6 12 6-14 6-14 6 7 6 5 6-10 6 17 6-8 6 0 6 6 6-1 6-6 6 2 6 4 6-2 6-4 6 5 6 2 6-5 6 2 6-1 6 6 6-5 6 1 6 6 6-22 6-22 6-28 6-1 6-49 6 12 6 32 6 13 6 18 6 8 6 5 6 2 6 15 6-5 6 4 6 9 6-18 6 16 6-5 6 7 6-2 6-2 6 4 6 1 6-6 6 0 6-6 6 11 6 10 6-2 6-9 6 7 6 3 6-13 6 14 6 0 6-9 6-6 6 2 6 10 6-9 6 8 6-6 6 17 6-9 6-8 6 2 6-3 6 22 6-27 6 3 6-6 6 13 6-7 6 1 6 4 6-3 6 2 6-3 6 4 6-1 6 4 6-2 6-3 6 0 6-1 6-2 6 8 6 0 6 5 6-15 6-3 6 7 6-1 6 7 6-4 6-7 6 6 6 8 6-8 6 1 6-6 6-13 6-5 6 4 6 2 6 12 6-1 6 10 6-9 6-1 6 3 6 0 6 7 6 0 6-10 6 3 6 6 6-5 6 7 6 1 6-7 6 3 6-2 6-11 6 10 6 1 6-9 6 14 6-3 6 2 6-2 6-16 6 5 6-44 6 24 6 10 6 0 6 5 6 4 6 7 6-6 6 11 6-8 6-10 6 21 6-7 6 1 6 9 6-8 6-4 6 0 6 1 6 7 6-2 6 3 6-10 6 10 6 2 6-3 6-11 6 16 6-12 6 0 6 7 6-4 6 9 6-10 6 0 6 6 6-5 6 1 6-3 6 0 6-2 6 6 6-4 6-1 6-4 6 8 6 2 6 1 6-2 6 8 6-4 6-8 6-7 6 3 6 10 6-9 6 4 6 5 6-10 6 2 6 0 6 2 6-2 6 6 6 0 6-7 6-46 6-44 6 20 6 23 6 13 6 9 6 7 6 7 6-4 6 9 6 17 6-8 6-3 6 2 6 1 6 2 6-8 6 12 6-14 6-28 6-2 6 2 6 22 6 4 6-1 6 2 6 2 6 8 6 0 6-9 6 5 6 1 6-1 6-4 6 10 6-2 6 9 6-6 6-3 6-2 6 7 6 4 6-3 6 6 6-5 6-4 6-4 6-5 6 7 6 5 6-5 6 3 6-7 6 0 6 13 6-7 6-12 6 5 6 7 6 14 6-19 6 2 6 3 6-5 6 3 6-2 6 4 6 0 6-3 6 4 6-1 6-21 6-27 6 16 6 9 6 5 6-2 6 18 6 5 6-12 6 4 6-7 6 10 6 6 6-8 6 0 6 1 6 0 6-9 6 13 6-4 6 2 6 9 6-3 6-1 6-3 6 4 6-13 6 8 6 4 6-1 6-4 6 4 6 2 6 1 6-6 6-9 6 22 6-12 6-2 6-2 6-34 6 16 6 14 6-6 6 10 6-8 6 6 6-5 6 12 6-6 6-6 6 10 6 4 6-3 6-3 6 3 6-4 6-3 6 10 6 3 6-3 6 4 6-4 6-3 6 7 6-8 6 0 6 8 6-6 6 6 6-11 6 5 6-4 6-5 6 4 6 3 6-1 6 4 6-3 6-8 6 11 6-4 6-9 6-16 6 4 6 14 6 0 6 1 6 0 6-1 6 3 6 2 6 6 6 1 6 1 6-10 6-3 6 12 6 3 6-5 6-3 6 4 6-2 6-4 6-8 6-39 6 3 6 7 6 4 6 21 6-10 6 11 6-4 6 14 6 2 6 4 6-6 6 1 6 2 6-6 6-18 6 12 6-4M7450 2991l6-6 6-4 6 3 6-2 6 9 6-7 6-1 6 7 6-10 6 9 6-2 6 2 6-7 6 5 6-7 6-1 6 6 6-5 6-6 6 17 6 0 6-17 6 13 6-18 6 10 6 15 6-15 6 5 6-2 6-3 6 7 6-2 6-2 6 9 6-7 6-2 6 1 6-1 6 1 6 9 6-5 6 5 6-11 6-3 6 4 6 11 6-8 6-6 6 1 6-1 6 0 6-8 6-58 6 16 6 19 6 7 6 5 6-5 6 9 6 8 6 3 6 10 6-7 6-4 6 8 6-4 6-4 6 9 6 6 6-7 6 1 6-14 6 14 6 0 6-6 6 9 6-2 6-1 6 0 6-2 6 1 6 12 6-17 6 8 6-6 6 3 6-2 6-4 6 7 6 2 6-4 6 2 6-9 6 10 6-4 6-39 6 0 6 4 6 15 6-1 6 1 6 4 6 12 6-3 6-2 6 7 6-8 6 2 6 0 6 9 6-2 6 8 6-1 6-7 6 6 6-3 6 5 6-1 6 2 6-7 6 5 6-5 6-2 6 5 6-2 6-11 6 8 6-5 6 1 6 3 6 2 6 10 6-10 6-3 6-42 6-22 6 10 6 16 6 9 6 7 6 5 6 14 6 3 6-3 6-15 6-30 6 16 6 9 6 7 6 6 6 7 6-10 6 9 6 11 6-7 6-1 6-1 6 10 6 5 6-20 6 18 6 1 6-8 6-5 6 1 6 9 6-4 6 4 6-4 6 3 6-15 6 6 6 7 6 0 6-8 6 11 6-3 6 1 6-2 6-8 6 11 6 3 6 0 6-30 6-75 6 24 6 18 6 8 6 12 6 12 6 3 6 6 6 5 6 6 6-6 6 6 6 2 6 2 6-11 6-40 6-67 6 27 6 25 6 22 6-16 6-41 6 43 6 8 6 8 6 14 6 7 6 10 6 3 6 3 6 4 6-3 6-2 6-1 6-3 6 6 6-13 6 16 6 7 6 2 6-9 6-3 6 0 6 5 6-7 6 7 6 2 6-1 6-2 6-2 6 9 6-1 6-11 6 8 6-8 6 3 6 1 6-4 6 7 6-4 6-1 6-1 6 10 6-5 6-8 6 4 6-3 6-1 6 11 6-7 6-24 6 6 6 12 6-3 6 3 6 6 6 1 6-5 6 2 6 9 6 0 6-3 6-1 6 1 6 4 6-6 6 4 6-43 6-86 6 30 6 24 6 15 6 14 6 13 6-2 6 15 6-10 6 26 6-11 6 13 6 4 6-3 6 11 6-11 6-2 6 5 6-3 6-4 6 6 6-8 6 8 6-13 6 10 6 7 6-11 6 3 6 9 6-18 6 12 6-5 6-11 6 17 6 1 6-6 6 14 6-18 6 10 6-11 6 1 6 12 6 1 6-13 6 12 6-6 6-2 6-2 6 4 6 4 6-15 6-14 6 2 6 15 6-10 6 8 6 6 6-4 6 5 6 10 6-6 6-4 6 0 6 1 6 5 6 2 6-3 6-3 6 1 6-2 6 5 6 0 6 0 6-2 6 2 6-3 6 2 6-9 6 11 6-4 6-28 6-65 6 29 6 21 6 2 6 18 6 2 6 6 6 8 6-7 6 5 6 4 6-1 6 9 6-4 6-2 6-8 6-11 6-4 6 13 6 10 6-12 6 1 6 13 6-8 6 5 6-3 6-5 6 4 6 6 6 7 6-2 6-2 6 2 6-5 6-1 6-7 6 4 6 12 6-19 6 13 6 2 6 7 6-10 6-11 6 12 6-3 6 1 6-3 6 7 6-5 6-23 6 4 6 12 6-2 6-1 6 5 6 6 6-12 6 4 6 5 6 4 6 6 6-4 6-2 6 5 6-10 6 12 6-15 6 11 6 2 6-3 6-4 6-3 6 11 6-8 6 5 6 5 6-1 6-12 6 13 6-4 6-3 6-8 6 19 6-12 6 0 6 10 6-7 6 0 6-5 6 5 6 1 6-4 6-4 6 12 6-7 6 1 6-1 6-5 6 8 6 5 6-7 6 6 6-15 6 1 6 13 6-6M7450 3142l6-7 6 1 6-12 6 7 6 1 6-4 6 8 6-6 6 7 6 0 6-13 6 24 6-18 6 7 6-8 6 9 6-5 6 8 6-13 6 9 6 4 6 9 6-7 6-13 6 10 6 0 6-6 6 1 6-2 6 2 6-11 6 16 6-3 6-2 6-4 6-5 6 7 6-4 6 3 6-14 6 19 6-11 6 8 6-2 6-2 6-3 6 10 6-3 6 4 6 10 6-25 6 10 6 1 6 4 6-3 6-3 6-5 6 5 6 1 6 6 6-2 6-3 6 3 6-34 6-1 6 0 6 22 6 3 6-8 6 19 6-22 6 12 6-3 6 3 6 12 6-11 6 8 6-3 6-1 6-1 6-18 6-64 6-2 6 23 6 19 6 6 6 13 6 0 6 11 6 4 6-4 6 16 6-10 6-13 6-90 6-8 6 35 6 14 6 10 6 23 6 3 6-1 6 27 6-4 6-8 6 7 6-23 6-35 6 27 6-5 6 12 6 4 6 10 6 13 6 8 6-8 6-4 6 7 6-20 6-85 6 36 6 17 6 8 6 18 6 10 6 5 6-1 6 11 6 1 6-2 6 8 6 0 6-3 6 0 6 6 6-1 6-7 6 7 6-2 6 1 6 3 6-7 6 5 6 8 6-32 6-35 6 12 6 10 6 12 6 10 6 4 6 1 6-3 6 7 6-3 6 16 6-6 6-5 6 7 6-9 6 5 6 1 6 3 6-4 6 7 6-12 6 3 6 3 6 4 6-7 6 6 6-9 6 1 6 7 6-2 6-10 6 6 6-2 6 8 6-7 6 10 6-9 6-2 6 6 6-3 6 4 6-1 6-2 6-1 6 1 6-2 6 8 6 2 6-9 6 14 6-4 6-1 6-11 6 0 6-12 6 17 6 1 6-2 6 7 6-12 6 9 6 0 6-5 6 3 6-5 6-1 6 0 6 4 6 4 6-4 6 5 6 3 6 0 6-13 6 12 6-13 6 6 6 2 6-2 6-8 6 15 6-9 6 4 6 3 6 6 6-6 6 0 6-5 6-5 6 3 6 3 6-10 6 12 6-3 6 2 6-6 6 1 6 3 6-3 6 1 6 5 6-8 6 7 6 1 6-7 6 6 6-2 6-13 6 8 6 7 6 0 6-7 6 3 6 6 6-8 6 12 6-15 6 0 6-2 6 15 6-10 6-6 6 7 6 3 6-7 6 14 6-7 6-3 6 5 6-3 6-4 6 0 6 5 6 6 6 1 6-3 6-2 6 1 6-18 6 16 6-1 6-4 6 10 6-3 6-6 6 6 6-8 6 8 6-5 6-6 6-10 6-47 6-52 6 25 6 27 6 19 6 2 6 8 6 12 6 8 6 8 6 1 6 1 6-2 6-1 6 5 6-1 6 9 6-7 6-4 6 9 6 6 6-12 6-4 6 4 6 6 6-6 6 14 6-11 6 4 6-9 6 10 6-15 6-2 6 3 6 5 6 8 6-2 6-6 6 3 6 5 6-2 6 3 6-6 6 2 6-7 6 3 6 5 6-8 6 18 6-4 6-4 6-6 6-7 6 6 6 2 6 2 6 8 6-5 6-9 6 4 6 4 6-2 6 3 6 6 6-8 6 2 6 3 6-5 6-4 6-19 6-29 6 11 6 11 6 10 6 2 6 4 6-2 6 7 6 5 6-6 6 5 6-3 6-6 6 7 6 11 6-2 6-7 6 11 6-5 6-4 6 4 6 2 6-4 6 1 6 1 6-5 6 6 6-2 6-8 6 2 6 5 6 1 6-3 6 1 6 7 6-18 6-81 6-20 6 15 6 26 6 20 6 15 6 6 6 4 6 7 6-10 6-34 6 1 6 10 6 11 6 13 6 11 6 5 6-3 6 10 6-11 6 7 6 14 6-2 6-5 6 7 6-5 6-5 6 1 6 9 6-9 6-1 6 9 6-7 6 6 6 4 6-13 6 1 6 10 6 9 6-19 6 9 6-5 6 8 6-9 6-3 6 5 6-3 6 2 6-3 6 7 6 0 6 7 6-7 6-1 6 4 6-10 6 6 6-16M7450 3282l6 7 6-4 6-4 6-1 6-2 6 9 6-9 6-5 6-16 6 11 6 4 6 1 6 7 6-1 6 0 6 12 6-6 6 0 6-7 6 5 6 1 6 4 6-6 6 4 6-6 6 6 6-1 6-3 6 1 6 10 6-9 6 1 6 9 6-3 6-11 6 3 6 4 6-7 6 14 6-16 6 10 6-10 6 9 6 1 6-4 6 2 6-6 6 1 6 6 6-1 6-1 6-9 6 9 6-5 6 5 6 4 6 4 6-9 6-1 6 1 6-39 6-100 6 27 6 31 6 26 6 5 6 21 6 4 6 12 6-6 6 1 6 17 6-16 6-41 6 21 6 2 6 10 6 12 6 10 6 0 6-6 6 11 6-6 6 0 6-1 6 4 6-1 6-5 6 10 6-3 6-6 6 13 6-9 6 16 6-23 6-82 6-47 6 33 6 37 6-2 6 14 6 15 6 16 6 3 6 11 6 3 6 4 6-3 6 6 6 0 6-10 6 12 6-5 6 2 6 4 6 0 6-7 6 8 6-6 6 6 6 0 6-9 6 16 6-5 6-1 6-5 6 6 6-4 6-3 6-7 6 5 6 12 6-15 6 8 6 5 6-6 6 6 6-3 6 3 6-2 6 10 6-19 6 6 6-4 6-29 6-96 6 24 6 23 6 27 6 8 6 16 6 8 6 2 6 6 6 5 6 12 6-4 6-3 6-2 6 1 6 7 6-5 6 9 6-8 6-7 6 11 6 4 6-10 6 6 6-1 6-3 6 5 6-5 6 3 6-17 6-6 6 5 6 5 6 1 6 5 6 5 6-4 6 11 6-7 6-4 6 2 6-2 6 7 6 0 6 1 6 0 6-3 6-4 6 5 6-8 6 6 6 12 6-13 6 6 6-3 6 4 6-1 6-13 6 5 6 7 6 2 6-2 6 1 6-6 6-3 6 14 6-10 6 2 6 1 6-5 6 8 6 0 6-3 6 3 6-1 6-7 6 11 6-13 6-1 6 9 6-5 6 8 6-4 6 1 6 2 6-9 6 3 6-3 6 13 6-8 6 2 6 5 6-13 6 5 6-1 6-6 6 10 6-10 6 17 6-16 6 3 6 10 6 0 6-19 6 16 6-9 6 4 6 1 6 1 6 6 6-1 6-1 6-9 6 14 6-4 6-7 6 2 6 2 6 3 6 4 6-5 6 2 6-4 6 3 6 3 6-15 6 2 6-83 6 11 6 20 6 17 6 10 6 6 6 14 6-10 6 8 6 3 6 3 6-5 6 7 6-3 6 8 6-11 6 12 6 2 6-1 6-8 6-3 6 6 6-9 6 16 6-1 6-2 6-9 6 12 6-5 6 6 6-7 6 5 6-19 6 3 6-24 6 2 6 12 6 8 6-1 6 13 6-13 6 3 6 13 6-3 6 9 6-12 6 2 6 1 6 4 6-2 6 3 6-2 6 2 6 0 6 1 6 9 6-9 6-8 6-3 6 10 6-3 6-6 6 14 6-10 6 8 6-24 6-10 6 7 6 6 6-7 6 26 6-4 6-7 6 2 6 6 6-5 6 2 6 0 6-5 6 11 6-5 6-4 6 8 6-9 6 10 6 5 6-3 6-6 6-5 6 7 6-1 6-1 6-3 6 6 6-12 6-17 6 0 6 4 6 20 6-9 6 4 6-2 6 8 6-2 6 7 6-10 6-7 6 11 6-6 6 0 6 9 6-2 6 0 6-15 6-26 6 4 6 16 6-1 6 8 6 12 6-4 6-2 6 5 6-1 6-9 6 19 6-3 6 1 6-4 6 3 6-1 6 3 6 0 6-14 6-3 6 14 6-1 6 9 6-7 6-6 6 2 6 3 6-10 6-6 6 16 6 4 6-8 6-1 6 9 6-4 6-6 6 3 6 7 6-9 6 8 6-12 6 8 6 10 6-26 6-80 6 17 6 24 6 16 6-4 6 26 6-6 6 17 6 5 6-1 6-8 6 4 6 4 6-3 6 7 6-11 6 7 6-1 6 9 6-6 6 6 6-10 6 12 6-12 6-1 6 2 6-3 6-2 6 10" fill="none" stroke="#4a86b8" stroke-width="13.5" stroke-linejoin="round" />
<text x="744.6" y="347.0" font-size="18.6" fill="#4a86b8" textLength="86.2" lengthAdjust="spacingAndGlyphs" >Region C</text>
<path transform="scale(.1)" d="M7450 3554l6 0 6-4 6 2 6 0 6-15 6 13 6 4 6-15 6 20 6-8 6-5 6-1 6 15 6 1 6-1 6-3 6-16 6 10 6-3 6 9 6-3 6-9 6 3 6 5 6-10 6 12 6 0 6-1 6 1 6-11 6 18 6-15 6 18 6-1 6-14 6-2 6 4 6 14 6-25 6 1 6 15 6-17 6 15 6-5 6 6 6 2 6 4 6-9 6-8 6 8 6-7 6-2 6-5 6 4 6 7 6-2 6 3 6 6 6 2 6-22 6 20 6-11 6-7 6 10 6 5 6-7 6-9 6 19 6 0 6-3 6-10 6 0 6 11 6-5 6-13 6-15 6-2 6 4 6 3 6 4 6 20 6-8 6 6 6-5 6-1 6 5 6-2 6-14 6 3 6 7 6 7 6-15 6 21 6 8 6-12 6 6 6 11 6-10 6-5 6 1 6-7 6-1 6 0 6 13 6-14 6-7 6 14 6 0 6-5 6-1 6 4 6-3 6 10 6 7 6-9 6-2 6-2 6 3 6 4 6-9 6-2 6 5 6 1 6-3 6 5 6-8 6 8 6 10 6-28 6 10 6-3 6 8 6-1 6-1 6-1 6 2 6 6 6-11 6 4 6-14 6 20 6-3 6-2 6 14 6-8 6 8 6-10 6-6 6 0 6-7 6 7 6-8 6-6 6-5 6-9 6 19 6-11 6-1 6 2 6 10 6 5 6 11 6-15 6 5 6 4 6 9 6 0 6-6 6-13 6-8 6-24 6-1 6 7 6 13 6 9 6 0 6 6 6-3 6 14 6-16 6 10 6-17 6 29 6-35 6 5 6-4 6 3 6 12 6-2 6 2 6 10 6-4 6 9 6-4 6 2 6 1 6 3 6-10 6 3 6-14 6 30 6-15 6-1 6-4 6 2 6-15 6 23 6 7 6-17 6 11 6-8 6 4 6-18 6 23 6-20 6 9 6 2 6 0 6 9 6-8 6-1 6 4 6 7 6-6 6-2 6 0 6 9 6-12 6-7 6 10 6-12 6 8 6 6 6-13 6-46 6 11 6 8 6 16 6 1 6-10 6 31 6-13 6 3 6 0 6 2 6 3 6 3 6 0 6 6 6-1 6-6 6 0 6 0 6 6 6 4 6-25 6 12 6-3 6 5 6-3 6-2 6-3 6 11 6-5 6-2 6 18 6-12 6-5 6 0 6-28 6-4 6 12 6 9 6 8 6-3 6-25 6 11 6-20 6 17 6-11 6 12 6 16 6-13 6 4 6 18 6 2 6-8 6 5 6-3 6-4 6 13 6-6 6 12 6-14 6-4 6 29 6-11 6-12 6 15 6-12 6-4 6 3 6-4 6 6 6-9 6 10 6 2 6 3 6 6 6-12 6-1 6 2 6 6 6-5 6-17 6-20 6 0 6 12 6 11 6-17 6 27 6 7 6-6 6-5 6-4 6 5 6 7 6-15 6 8 6 2 6 5 6-32 6-38 6 29 6-5 6 15 6 10 6-6 6 17 6-2 6-7 6 9 6 13 6-4 6-6 6 8 6-6 6-4 6 9 6 6 6-12 6-10 6 14 6-5 6-1 6 2 6 12 6-13 6-1 6 11 6-10 6 10 6 2 6-2 6-15 6 2 6 5 6-11 6 18 6-12 6 10 6 12 6-21 6 4 6 13 6-8 6-7 6 6 6-8 6 17 6-28 6 18 6 4 6-1 6 1 6 7 6-4 6-9 6-5 6 15 6-12 6 6 6-20 6 12 6-1 6 3 6-1 6 6 6 4 6-18 6 1 6 3 6 16 6-8 6-5 6 4 6 14 6-13 6 10 6-2 6-12 6 28 6-33 6 17 6-4 6-3 6 2 6-1 6 4 6-7 6 9 6-7 6-1 6 2 6-11 6 10 6 3 6-20 6 5 6 7 6 6 6-14 6 9 6 4 6 0 6-8 6 5 6 6 6 12 6-22 6 5 6-5 6 4 6-5 6 3 6 4 6 1 6 13 6-3 6-27 6 23 6-2 6-23 6-1 6 5 6 11 6-1 6-6 6-6 6 5M7450 3706l6-11 6 17 6-8 6-11 6-12 6 26 6 2 6-9 6 0 6-4 6 1 6-8 6-2 6 9 6 13 6-6 6-3 6 3 6-11 6 4 6 3 6 2 6-7 6 13 6 3 6-5 6 4 6-4 6 15 6-18 6 5 6-11 6-2 6 3 6 16 6-13 6-1 6 11 6-12 6 10 6 5 6-15 6 7 6-20 6 15 6 5 6-5 6 1 6 1 6 6 6-1 6-17 6 17 6-18 6 18 6-12 6 6 6-10 6 9 6 1 6 4 6-5 6-3 6-2 6 8 6-1 6 0 6 15 6-17 6 10 6-9 6 5 6-1 6-3 6 9 6-10 6-11 6-1 6-1 6 4 6 6 6-11 6 14 6-7 6 3 6 3 6 7 6-8 6-12 6 11 6 5 6-4 6 5 6-2 6 5 6-12 6 9 6-2 6 0 6 11 6-23 6-2 6 18 6-24 6 13 6-23 6-32 6 13 6 18 6 1 6 19 6-11 6 15 6 9 6-9 6 11 6-16 6-3 6 21 6-5 6 6 6 0 6-2 6-5 6 10 6-17 6-11 6 25 6-8 6 4 6 15 6-4 6-28 6 14 6-13 6 12 6-6 6-2 6 12 6-14 6 0 6 12 6-2 6 9 6-21 6 19 6-7 6 4 6-1 6-10 6 6 6-8 6 9 6-8 6 16 6-2 6 20 6-35 6 1 6 18 6-2 6-7 6 7 6-18 6-3 6 11 6 0 6 4 6 8 6 2 6-6 6-5 6-10 6 15 6-9 6-11 6 0 6 7 6 0 6 25 6-14 6-6 6 2 6-10 6-23 6-4 6 20 6 2 6 8 6-12 6 8 6-5 6 10 6 11 6-7 6 8 6 4 6 1 6-19 6 10 6 6 6-3 6-5 6 2 6 1 6 2 6-10 6 8 6-16 6 20 6 14 6-14 6-11 6 2 6-3 6 0 6-8 6 17 6-12 6 7 6 3 6-14 6 1 6 23 6-19 6 1 6 16 6-4 6-4 6 0 6-9 6-2 6 19 6 11 6-14 6-10 6 1 6-8 6 0 6 1 6 17 6-18 6 17 6-20 6 6 6 3 6-2 6 1 6 6 6 9 6-17 6 3 6-1 6 7 6-9 6 12 6 5 6-18 6 10 6 3 6-2 6-15 6 9 6 6 6 5 6-1 6-6 6 10 6-8 6 0 6 6 6-6 6 4 6-7 6-12 6-1 6 21 6-7 6-5 6 7 6 9 6-6 6 2 6 1 6-10 6 2 6 6 6-18 6 13 6-14 6 15 6-4 6 4 6-1 6 6 6 2 6-2 6-13 6-1 6 0 6 16 6-20 6 7 6 11 6-5 6-2 6-2 6 17 6-4 6-16 6 1 6 11 6-7 6-7 6 6 6 3 6 11 6-5 6-12 6 3 6-2 6 11 6 10 6-14 6-1 6-1 6-13 6 1 6 7 6 2 6-2 6 4 6-10 6 21 6-18 6 3 6 5 6 9 6-14 6 11 6 1 6-8 6 0 6-1 6 5 6-5 6-13 6 13 6 7 6-1 6-1 6-16 6-8 6-77 6-2 6 13 6 43 6 12 6-4 6 6 6 18 6-1 6 4 6-6 6 13 6 3 6-2 6 2 6-6 6 2 6-7 6 11 6-1 6 4 6-22 6 21 6-10 6 1 6 11 6-13 6 2 6 9 6 6 6-8 6 1 6 3 6 0 6-11 6 10 6 2 6-9 6-9 6 18 6 1 6-19 6 14 6-62 6 2 6 22 6 12 6 1 6 0 6 14 6-2 6 6 6-6 6 3 6 8 6-4 6-1 6-8 6 10 6 6 6-6 6-15 6 6 6-1 6 21 6-25 6 11 6 1 6 2 6-3 6 18 6-22 6 18 6-23 6 10 6 8 6 2 6-5 6-14 6 12 6-1 6 7 6-18 6 14 6 3 6-8 6 7 6-3 6 11 6 0 6-16 6 10 6-10 6 0 6-1 6 0 6-3 6 9 6 1 6-10 6 16 6-1 6 2 6-3 6-16 6 0 6 13M7450 3864l6-5 6-7 6-11 6 14 6-9 6 1 6 17 6-19 6-2 6 6 6 5 6-10 6 5 6 3 6-2 6-8 6 18 6-5 6 2 6-6 6 1 6 4 6-5 6 3 6-11 6 2 6 8 6-1 6 3 6 4 6-9 6-4 6 21 6-6 6-16 6-2 6 17 6 1 6 3 6-19 6 7 6 2 6 5 6-11 6 9 6-14 6 12 6-8 6 2 6 3 6 3 6-15 6 4 6 16 6-20 6 23 6-14 6-1 6 5 6 8 6-1 6-14 6 13 6-6 6-2 6 7 6 3 6 2 6-7 6-11 6 9 6 1 6-15 6 3 6 4 6 3 6-1 6-3 6 5 6-5 6 5 6-6 6 18 6-2 6-19 6 1 6 16 6 2 6-16 6 10 6-3 6-9 6 6 6 3 6-9 6 22 6-7 6-28 6 17 6-6 6 18 6-21 6 25 6-14 6 1 6 10 6-11 6 27 6-29 6 6 6 5 6 6 6-1 6-1 6-1 6-8 6 11 6-5 6 8 6-29 6 12 6 23 6-25 6-15 6 18 6-1 6-1 6-10 6-2 6 14 6 17 6-14 6 12 6-2 6-18 6 9 6 1 6-7 6-2 6 12 6-17 6 18 6-12 6 7 6-1 6 2 6-11 6 2 6 6 6-9 6 19 6-13 6 13 6 11 6-22 6-79 6 25 6 11 6 18 6 7 6 9 6-3 6 1 6 4 6 2 6 3 6-1 6-4 6 12 6-9 6-4 6 18 6-4 6-3 6 6 6-5 6 2 6-17 6 10 6-10 6 13 6-1 6 1 6 1 6-22 6 11 6 8 6 17 6-13 6-10 6 5 6 4 6-8 6 4 6 8 6-7 6-5 6 0 6 7 6 3 6-3 6-6 6 3 6-7 6 12 6-3 6 1 6-4 6 11 6-18 6 12 6-13 6 0 6 21 6-12 6-2 6 4 6-4 6 10 6-13 6 5 6 4 6 17 6-25 6 17 6-22 6 3 6 18 6 1 6-14 6-7 6 8 6 0 6 1 6-12 6 9 6 13 6-19 6 2 6 8 6 1 6-12 6 6 6 7 6-11 6 11 6-1 6 12 6-10 6-23 6 32 6-2 6-17 6 13 6-13 6-6 6 15 6 2 6-12 6 3 6-7 6 13 6-5 6 9 6 3 6 0 6-1 6-19 6 5 6 6 6 2 6 0 6-11 6 10 6 13 6-12 6 13 6-10 6 2 6 8 6-9 6-48 6-63 6 25 6 29 6 14 6 3 6 2 6 6 6 11 6 12 6-10 6 5 6 8 6 5 6-3 6-12 6 0 6 12 6-3 6-11 6 14 6-45 6-55 6 20 6 33 6-2 6 25 6-9 6 13 6 8 6-7 6 9 6 10 6-13 6 10 6-3 6-7 6 21 6-15 6-1 6-10 6 31 6-46 6-104 6 42 6 25 6 19 6 23 6-13 6 26 6 10 6-15 6 1 6 4 6 2 6 15 6-6 6 3 6 5 6-9 6 11 6-6 6-12 6 12 6 0 6-7 6 15 6-11 6-7 6 5 6 10 6-12 6 9 6-9 6 14 6 1 6-20 6 13 6 0 6 8 6-6 6-15 6 7 6 5 6 14 6-21 6 3 6-5 6 12 6-8 6 9 6 6 6 4 6-20 6 8 6-2 6 12 6-25 6 17 6 9 6-3 6-6 6-12 6 4 6 0 6 9 6-12 6 7 6-8 6 14 6-2 6 2 6-2 6 2 6-10 6 7 6 8 6-8 6 2 6 8 6-15 6 1 6 1 6-11 6 22 6-16 6 3 6 9 6-17 6 19 6-11 6-3 6 7 6 3 6-12 6-2 6 12 6-13 6 7 6 11 6-14 6 6 6 3 6-6 6 0 6 8 6-1 6-9 6-1 6-8 6 14 6-2 6 7 6-21 6 13 6-1 6-7 6 5 6 11 6-3 6-11 6 6 6 6 6-2 6-10 6 17 6-8 6-9 6 0 6 16 6-7 6-4 6 1 6 4 6 3 6-3 6-3 6 1 6-12M7450 4002l6-3 6 1 6 7 6-9 6 11 6-12 6 3 6 8 6-10 6 10 6-9 6 13 6-9 6-8 6 14 6 10 6-8 6-10 6 4 6 12 6-8 6-1 6 12 6-12 6-2 6 2 6 0 6-13 6 21 6-7 6-13 6 8 6 11 6-13 6 22 6-15 6-8 6 14 6-15 6 4 6 1 6-20 6 10 6-15 6-12 6 11 6 0 6 4 6 0 6 16 6 0 6-5 6 17 6-10 6-7 6 11 6-3 6 1 6-3 6 1 6 4 6 2 6 0 6-7 6 11 6-16 6 22 6-55 6-10 6 22 6 3 6 7 6-13 6 16 6-1 6 17 6-4 6 6 6 0 6 2 6-5 6 8 6-12 6 5 6-4 6 10 6-14 6-43 6-14 6 16 6 9 6 5 6 6 6 19 6 3 6-3 6-7 6 6 6 12 6-7 6 1 6 7 6 3 6 9 6-3 6-3 6-20 6 12 6-7 6 6 6 3 6-13 6 13 6-7 6 4 6 7 6-1 6-8 6 7 6-12 6 12 6-8 6 5 6 1 6-4 6 6 6 2 6 0 6-6 6 0 6-7 6 6 6-4 6-1 6 8 6-9 6 12 6 10 6 9 6-21 6-10 6 12 6 30 6-44 6 0 6 17 6-10 6-7 6 16 6 0 6-8 6-4 6 7 6-4 6 1 6-1 6 0 6 10 6 8 6-11 6 2 6 10 6-26 6 16 6-12 6 12 6-8 6 0 6 0 6 4 6 1 6-2 6-21 6 10 6 16 6-4 6 8 6-22 6 6 6 8 6 7 6-1 6-4 6 0 6-1 6-1 6 8 6-11 6 2 6-5 6 15 6-16 6-2 6 5 6 9 6 0 6-6 6-3 6-1 6 3 6 13 6-10 6-2 6 4 6-7 6-6 6 18 6-13 6 10 6 1 6-5 6-16 6 9 6 6 6-10 6 8 6-3 6 12 6-1 6 4 6-24 6-10 6-48 6 36 6 0 6 7 6 17 6 11 6-8 6-13 6 3 6 23 6-9 6 3 6-10 6-13 6-80 6-11 6 35 6 29 6-1 6 13 6 4 6 24 6-5 6 10 6-1 6 2 6-3 6 12 6-15 6 12 6-6 6 4 6-3 6-3 6 9 6-9 6 10 6-7 6 4 6 5 6 12 6-11 6-1 6-2 6-13 6 17 6-12 6-33 6-29 6 7 6 11 6 16 6 6 6 3 6-9 6 27 6-7 6 5 6-13 6 5 6-2 6 11 6 2 6 3 6 3 6-18 6-80 6 20 6 20 6 27 6-6 6-9 6 27 6 12 6-15 6 20 6-7 6 1 6 7 6 4 6-9 6 12 6-12 6 0 6 12 6-13 6 15 6-15 6-7 6-9 6 2 6 1 6 0 6 4 6 13 6-4 6 21 6-25 6 7 6 2 6 1 6 13 6-17 6 2 6 2 6-9 6 9 6 3 6-12 6 10 6 5 6 10 6-13 6 0 6 5 6-12 6 16 6-12 6-1 6-7 6 8 6 2 6-10 6-3 6 9 6 8 6-10 6 12 6-18 6 8 6 8 6-20 6 24 6-18 6 10 6 1 6 8 6 3 6-16 6 9 6-15 6 8 6-3 6-12 6 27 6-13 6 4 6-8 6 6 6 3 6 2 6-5 6 9 6-15 6 26 6-25 6 0 6 3 6 3 6-9 6 1 6 0 6 9 6-7 6 4 6 3 6-11 6 18 6-8 6 7 6 5 6-24 6 5 6 2 6 11 6-8 6-6 6 20 6-19 6 2 6-11 6 21 6-21 6 13 6-2 6-4 6-11 6 10 6-6 6 13 6-5 6-1 6 16 6-11 6 0 6-3 6-8 6 7 6 3 6 2 6 0 6 11 6-9 6 5 6 4 6-18 6 15 6 0 6 5 6-21 6-2 6 8 6 5 6-6 6 0 6 3 6-1 6 14 6-14 6 5 6-2 6-1 6 10 6-12 6-3 6 21 6-5 6-22 6 22 6-17 6-1 6-7 6 16 6 3 6 0 6 0 6 7 6-4M7450 4160l6 0 6-9 6 0 6 5 6 14 6-18 6 6 6 12 6-10 6 2 6-6 6-2 6-10 6 17 6-6 6 9 6-3 6 5 6-9 6-5 6 7 6-13 6 11 6-7 6 9 6-2 6-13 6 19 6-12 6 18 6-11 6-8 6-10 6 10 6 5 6 3 6 1 6-3 6 0 6-9 6 16 6 0 6-15 6 3 6 8 6-1 6-6 6 6 6 3 6-6 6-4 6 12 6-4 6-7 6 17 6-11 6-9 6 14 6-11 6-14 6 13 6 12 6-24 6 11 6-2 6 5 6 9 6-5 6 1 6-15 6 4 6 11 6-4 6-2 6-6 6 3 6 16 6-18 6 18 6-5 6 7 6-8 6-8 6 5 6-8 6 1 6 9 6 2 6-14 6 5 6-3 6-1 6 11 6 3 6-6 6 5 6 1 6 2 6-6 6 1 6-5 6-1 6-5 6 7 6 0 6-2 6 3 6-2 6 7 6-5 6 11 6-18 6 7 6-3 6 14 6-3 6-2 6 10 6-22 6 3 6 4 6-8 6 22 6-6 6-16 6 3 6 6 6-4 6 2 6 5 6 0 6 3 6-6 6 1 6-8 6 18 6-11 6 3 6 2 6-3 6-14 6-2 6 29 6-23 6 19 6-3 6-2 6 3 6-18 6-4 6 26 6-18 6 1 6 7 6-1 6-1 6 1 6 5 6-6 6-2 6-1 6 10 6-14 6 16 6-5 6 3 6 6 6-16 6 8 6-16 6 12 6-9 6 13 6-2 6-8 6 7 6 3 6-7 6-8 6 5 6 0 6-14 6 12 6 9 6-5 6 10 6-6 6-14 6 8 6 12 6-3 6 5 6-28 6 21 6 5 6-20 6 11 6 8 6-1 6 2 6-7 6 0 6-5 6 10 6-2 6-8 6-6 6-6 6 7 6 18 6-7 6-8 6 12 6 3 6 3 6-12 6 5 6-3 6 7 6-12 6 8 6 4 6-1 6 1 6-13 6-2 6 11 6 0 6-21 6 9 6-4 6 6 6 4 6-1 6-10 6-5 6 13 6 2 6-6 6 1 6 7 6 4 6 0 6-17 6 15 6-1 6 1 6 6 6-13 6 4 6-3 6-8 6 12 6-2 6 6 6-12 6 4 6-5 6-4 6 22 6-22 6 21 6-1 6 7 6-27 6 16 6-8 6 9 6-18 6 22 6-9 6 9 6-7 6-59 6-163 6 52 6 36 6 40 6 28 6 17 6 8 6-2 6 17 6 9 6 0 6 10 6-10 6-29 6-92 6 15 6 48 6 7 6 21 6 3 6 8 6-12 6-54 6 36 6 18 6 3 6 8 6 14 6-3 6 1 6 25 6-13 6-10 6 17 6 1 6 0 6-3 6 23 6-22 6 7 6-7 6 9 6-4 6-3 6-5 6 9 6-4 6 11 6-8 6-3 6-11 6 20 6-7 6 5 6-8 6 10 6-12 6 14 6-21 6 12 6 3 6-3 6-1 6-1 6-5 6 8 6 5 6 5 6-6 6 3 6-14 6 15 6-4 6-6 6-9 6 23 6-11 6-8 6 19 6-17 6 21 6-15 6 6 6-4 6-6 6-8 6 17 6-18 6-1 6 24 6-11 6-4 6-7 6 6 6 8 6 0 6-9 6 12 6-8 6 2 6 6 6-23 6 16 6-15 6 8 6 0 6 13 6-1 6-5 6 2 6 8 6-26 6-1 6 13 6 4 6 3 6 6 6-11 6 3 6-4 6-3 6-9 6 16 6-2 6 4 6-5 6 11 6-20 6 8 6 14 6-10 6-9 6 4 6 9 6-9 6 2 6 7 6-7 6 12 6-6 6 6 6-16 6-13 6-44 6-45 6 16 6 42 6 4 6 7 6 8 6 14 6 17 6-6 6-10 6 15 6-5 6 4 6-7 6 13 6-7 6 1 6 10 6-10 6-5 6 5 6 8 6-1 6 6 6-2 6 8 6-19 6 3 6 0 6-19 6 19 6-6 6 16 6-7 6 2 6-6 6 9 6-3 6 0 6-7 6 12 6-11" fill="none" stroke="#d8856c" stroke-width="13.5" stroke-linejoin="round" />
<text x="744.6" y="434.1" font-size="18.6" fill="#d8856c" textLength="86.4" lengthAdjust="spacingAndGlyphs" >Region D</text>
<path transform="scale(.1)" d="M7450 4436l6 2 6-6 6 6 6-1 6 0 6-3 6 2 6 2 6-3 6 7 6-8 6 10 6-18 6-13 6-38 6 15 6 8 6 21 6 0 6-1 6 6 6 10 6-9 6-2 6 15 6-1 6 5 6-3 6-1 6-11 6 17 6-16 6 10 6 2 6 0 6-5 6 5 6-1 6-5 6-23 6 5 6 8 6 6 6-4 6 5 6 2 6 11 6-9 6 5 6 2 6-3 6-3 6-21 6-39 6 6 6 18 6 12 6 4 6 15 6-13 6 5 6 8 6 0 6 6 6 0 6 0 6 2 6-5 6 9 6-8 6 7 6-5 6-5 6-3 6 16 6-10 6-4 6 7 6-7 6 11 6-4 6-11 6 7 6-1 6 6 6 0 6-5 6 4 6-8 6 12 6 1 6-7 6 9 6-10 6-4 6-2 6 15 6-4 6-6 6 6 6-4 6 10 6-7 6-4 6 6 6-5 6 2 6 2 6 3 6-4 6-3 6 3 6-4 6 1 6 8 6-6 6-5 6 2 6 5 6 5 6-8 6 0 6-5 6 6 6 0 6-2 6-5 6 2 6-5 6 12 6-7 6 4 6-6 6 9 6-6 6 1 6 7 6-4 6 1 6 1 6 1 6 4 6-9 6 2 6-1 6 2 6-3 6 5 6 2 6-7 6 0 6-1 6 1 6 8 6 0 6-2 6-13 6 6 6 8 6-10 6 1 6 6 6-5 6 2 6 1 6-1 6-5 6 3 6 12 6-6 6-10 6-4 6 16 6-11 6 13 6-13 6 7 6-7 6 3 6 7 6 1 6 1 6 3 6 3 6-29 6-13 6 9 6 1 6 9 6-2 6 3 6 6 6 6 6 4 6-12 6 4 6 10 6-5 6-2 6-9 6 2 6 7 6-5 6 11 6-5 6-5 6-20 6-28 6 18 6 0 6 21 6-8 6 4 6 12 6-4 6 2 6-1 6 6 6-3 6-29 6-9 6 14 6 4 6 18 6-7 6 11 6-7 6-4 6 7 6 4 6-5 6 15 6-7 6-7 6 8 6 7 6-4 6-8 6 0 6 2 6-4 6 4 6 0 6-4 6 14 6-23 6 12 6-9 6 10 6-6 6 4 6 1 6 1 6 2 6-9 6 4 6-5 6 16 6 2 6-12 6-5 6 13 6 0 6-1 6-3 6-6 6 5 6-2 6 10 6 1 6-11 6-5 6-20 6-3 6 8 6 2 6 10 6 0 6-6 6 15 6-1 6 1 6-5 6 9 6 2 6-2 6 3 6-8 6-8 6 6 6 1 6 0 6 4 6 7 6-3 6-10 6 12 6-16 6 15 6-4 6 2 6 2 6-4 6-1 6 0 6-3 6 1 6-6 6 9 6 2 6-1 6-2 6-7 6 5 6 3 6-3 6 7 6-4 6 1 6 2 6-8 6 7 6-1 6 3 6-7 6 6 6-15 6 15 6-9 6 1 6-1 6 3 6 6 6-16 6 10 6 6 6-14 6-5 6-8 6-1 6 8 6 1 6-3 6-44 6 12 6 15 6 7 6 1 6 10 6 7 6-1 6 0 6 2 6 10 6 0 6-3 6-5 6 4 6-11 6-11 6 8 6 6 6 4 6 5 6-4 6 7 6-9 6 13 6-13 6 7 6 3 6-4 6 0 6 0 6 7 6 8 6-19 6 5 6-4 6 16 6-10 6 3 6-6 6-4 6 11 6-8 6-1 6 13 6-10 6 0 6 1 6-3 6-4 6 2 6-2 6 1 6 5 6 3 6 3 6 3 6-6 6-5 6 3 6-1 6-4 6-1 6 6 6 0 6 6 6-12 6 6 6 12 6-13 6 1 6-5 6 4 6-2 6 5 6-7 6 10 6-5 6-2 6 3 6-6 6 2 6 1 6 0 6-1 6-1 6 8 6-5 6 1 6 1 6-2 6 0 6 6 6-5 6-6 6 2 6 12 6-6 6-5 6 9 6-8 6-7 6 6 6 7 6-7 6 11 6-8 6 9 6-7 6 6 6-5 6-2 6-7 6 3 6-7 6 3 6 6M7450 4586l6 8 6-5 6 3 6 2 6-9 6 8 6-5 6 3 6-6 6 2 6 10 6-9 6-12 6 10 6-2 6 3 6-5 6 10 6 1 6-1 6 4 6-2 6-10 6 9 6 0 6-10 6 4 6 5 6 1 6-2 6-2 6-5 6 4 6 6 6-4 6 6 6-4 6-11 6 15 6-4 6-7 6 3 6 3 6 2 6 1 6-8 6 4 6-2 6-2 6 11 6 1 6-11 6-2 6 4 6-3 6 11 6-9 6-13 6 3 6-1 6 18 6-9 6-6 6 8 6 4 6-6 6 9 6-11 6 8 6-10 6 5 6 8 6-5 6 0 6-3 6 9 6-11 6 9 6 5 6-8 6 2 6-4 6-7 6 8 6-14 6-23 6-2 6 16 6-1 6 4 6 4 6 8 6-5 6 3 6 5 6 6 6-7 6 2 6 9 6-1 6-11 6 7 6-5 6 6 6 5 6-3 6 8 6-14 6 10 6-18 6 15 6-5 6 6 6 2 6-7 6 3 6-15 6 13 6 10 6-12 6 5 6-2 6 2 6 0 6 4 6-10 6 2 6 0 6 1 6-9 6 11 6-1 6-11 6 7 6 4 6 2 6-2 6-1 6-1 6-8 6 14 6-7 6-3 6 0 6 5 6 2 6-5 6-2 6 4 6 2 6-10 6 4 6-9 6-4 6 9 6 2 6 2 6-7 6 8 6-6 6 3 6 4 6-4 6 8 6-13 6 14 6-6 6-2 6 3 6-5 6-1 6 13 6-4 6-4 6 2 6 1 6-3 6 6 6-1 6-8 6 4 6-6 6 18 6-5 6 1 6-8 6-7 6 16 6-7 6-7 6 12 6-17 6 17 6-1 6 4 6-11 6 11 6-9 6 0 6 4 6-1 6 0 6-4 6 5 6 1 6 1 6-11 6-1 6 4 6 10 6-8 6-2 6-2 6 5 6 4 6-15 6 10 6 4 6-6 6-3 6 7 6-4 6 1 6 3 6 0 6-3 6 16 6-14 6 6 6-1 6-7 6 3 6 0 6-1 6 9 6-1 6-16 6 13 6-3 6-5 6 4 6-1 6 9 6-3 6-7 6 0 6-5 6 2 6 6 6-3 6 4 6-6 6 6 6-6 6 1 6-5 6 11 6-4 6 7 6-12 6 6 6 2 6 2 6-1 6-3 6 0 6-8 6 8 6-1 6 10 6-7 6-13 6 1 6 20 6-19 6 9 6 5 6-9 6-1 6 0 6 1 6-5 6 8 6-3 6-10 6 12 6 8 6-15 6 7 6 6 6-14 6 3 6 6 6-2 6 10 6-9 6 12 6-5 6-14 6 7 6 10 6-6 6-7 6 5 6-2 6 2 6 5 6-13 6 15 6-7 6 6 6-6 6-1 6 1 6-2 6-3 6 14 6-10 6-6 6-2 6 3 6 11 6-3 6-8 6-1 6 8 6-1 6-5 6-2 6 8 6 3 6-19 6-66 6 24 6 11 6 2 6 13 6 11 6-2 6 16 6-7 6 7 6-3 6-2 6 12 6-8 6 5 6 1 6 7 6-8 6 1 6-1 6 1 6 5 6-13 6 9 6-7 6 7 6 3 6-10 6 0 6 8 6-3 6-1 6 9 6-5 6 8 6-15 6 14 6-8 6 6 6-7 6 1 6 1 6-5 6 5 6-6 6 3 6 6 6-3 6-2 6-4 6-2 6 7 6-3 6 2 6-2 6 7 6-2 6-7 6-2 6 5 6 2 6-3 6 5 6-12 6 16 6-8 6-5 6 8 6 2 6-2 6-3 6-5 6 6 6-2 6-2 6 2 6-1 6 0 6-1 6 8 6-1 6 0 6-13 6 11 6 1 6-8 6 3 6 5 6-8 6-27 6-126 6 38 6 19 6 30 6 11 6 24 6 14 6-3 6 9 6 12 6-7 6-6 6 10 6 10 6-2 6 1 6 6 6-4 6 1 6-3 6 1 6-3 6-2 6 0 6 2 6 5 6-5 6 0 6-16 6 18 6-3 6-2 6 0 6 14 6-9 6 6 6-12 6 12M7450 4751l6-5 6-14 6 5 6-1 6 8 6-4 6 6 6-4 6-6 6 0 6 6 6 4 6-2 6 5 6 1 6-7 6-4 6-4 6-2 6 9 6-4 6 13 6-13 6-9 6 9 6-4 6 3 6 0 6-2 6 12 6-4 6-9 6 10 6-9 6 10 6-3 6 3 6-9 6 3 6 13 6-5 6 0 6-8 6 0 6 11 6-11 6-4 6 5 6-2 6-16 6 19 6 2 6-5 6 4 6 5 6-4 6 4 6-14 6 14 6-15 6 12 6 4 6-5 6-10 6 7 6-7 6 4 6 2 6 5 6-7 6 3 6 4 6-2 6-4 6 1 6-4 6-5 6 8 6-1 6 0 6 1 6 4 6 2 6-1 6 3 6-9 6 1 6-52 6-39 6 23 6 11 6 16 6 6 6 17 6 5 6-2 6-13 6-9 6 5 6 20 6-1 6 7 6-14 6-6 6-4 6-1 6 17 6 9 6-12 6 7 6 9 6 3 6-2 6 4 6 0 6-6 6 8 6-3 6 3 6-7 6 4 6-6 6 12 6-3 6-2 6-1 6 2 6-12 6 13 6-1 6 5 6-5 6-13 6 10 6 6 6-10 6 7 6-5 6 9 6-3 6-10 6 7 6-1 6-1 6-3 6 8 6 2 6-4 6-5 6 6 6-7 6 13 6-4 6 1 6 5 6-20 6 11 6-11 6 8 6 8 6-13 6 4 6-7 6 6 6 5 6-3 6 3 6 5 6-4 6-7 6 10 6-10 6-1 6 5 6 3 6-6 6 7 6-7 6 1 6 4 6 2 6 2 6-4 6 5 6-5 6-2 6 3 6-4 6-3 6 12 6-7 6 5 6-1 6-3 6-6 6-1 6 9 6-3 6 1 6 0 6-9 6 4 6 13 6-11 6-1 6 9 6-13 6 3 6-4 6 15 6-5 6 2 6 0 6 0 6 3 6-7 6 8 6-13 6 2 6 15 6-8 6-5 6-12 6 15 6-9 6-4 6 11 6 6 6 0 6 3 6-10 6 0 6 5 6-11 6 10 6-4 6-4 6 1 6-10 6-52 6-54 6 24 6 22 6 26 6 6 6 12 6 8 6-3 6 11 6 2 6-2 6 13 6-1 6 0 6 5 6-6 6 6 6-5 6 1 6 0 6-2 6 4 6-5 6 6 6-2 6 0 6-4 6 3 6 5 6-14 6 4 6 5 6-2 6 7 6-8 6 7 6-7 6 3 6 6 6-7 6 2 6 2 6-2 6-4 6 3 6 3 6 0 6-1 6 7 6-4 6-2 6 8 6-19 6 10 6-8 6 8 6-1 6 0 6 8 6-2 6-8 6 4 6-4 6 1 6 8 6-1 6-1 6 4 6-3 6-6 6-5 6-1 6 3 6 6 6 2 6-13 6 7 6 5 6 0 6-25 6 1 6 6 6 4 6 4 6-4 6 2 6-3 6 17 6-11 6 2 6-2 6 1 6 13 6-9 6-8 6 4 6 8 6 5 6-15 6 5 6-1 6 6 6-9 6 6 6 0 6 5 6-7 6-1 6 7 6-2 6-5 6 8 6-8 6-2 6 4 6 7 6-6 6-7 6 6 6-5 6-55 6 16 6 5 6 7 6 10 6 9 6 12 6 3 6-7 6 4 6-2 6 5 6 1 6-10 6 5 6 1 6-8 6 12 6-5 6 7 6-3 6-2 6 1 6 3 6-2 6-7 6 9 6 3 6-14 6 14 6-5 6 5 6-2 6-10 6 2 6 5 6-9 6 10 6-8 6 3 6-3 6 5 6-2 6 3 6 12 6-24 6 8 6 3 6 1 6 3 6-1 6-3 6-4 6 3 6 0 6-3 6 8 6-9 6 7 6-5 6 6 6-7 6 10 6-15 6 11 6 0 6 2 6 1 6-3 6 6 6-13 6 6 6 10 6-11 6-2 6 1 6 4 6-2 6 12 6-6 6 4 6-4 6-10 6-3 6-1 6 11 6-6 6 4 6-3 6 1 6 5 6-10 6 8 6 0 6-1 6 2 6 5 6-21 6-49 6 12M7450 4894l6-9 6 11 6 0 6 9 6-20 6 2 6-1 6 15 6-12 6 12 6-14 6 6 6 2 6-2 6 1 6-9 6 2 6 13 6-12 6 17 6-21 6 11 6-1 6-1 6-12 6 8 6 4 6-3 6 5 6-7 6 8 6-1 6-2 6-16 6 0 6 5 6 10 6-11 6 9 6-2 6 3 6-2 6 1 6 10 6 0 6-7 6 8 6-12 6 3 6-5 6 2 6 1 6 6 6-5 6-3 6 0 6 3 6 2 6 3 6-2 6 1 6-8 6 0 6 7 6 2 6-7 6-2 6 3 6 9 6 2 6-16 6 3 6 7 6-2 6 0 6 0 6 5 6-10 6 8 6 2 6-11 6 5 6-5 6 4 6-3 6-3 6 6 6-4 6 9 6-5 6 14 6-12 6 4 6 4 6-11 6 1 6-11 6 0 6-4 6-5 6 10 6 11 6-8 6 4 6 5 6 2 6-5 6 12 6-15 6 1 6 2 6-1 6-3 6 14 6-8 6-2 6-1 6 6 6-2 6-4 6 1 6-6 6 17 6-9 6 2 6-3 6 1 6 4 6-5 6 8 6-1 6 0 6-6 6-3 6-2 6 12 6-5 6-7 6 6 6-7 6-7 6-16 6-32 6 12 6 16 6 6 6 7 6-5 6 13 6 6 6-1 6 1 6 13 6-4 6 2 6-5 6-3 6 7 6 4 6-11 6 6 6-2 6-3 6-2 6 7 6 3 6 1 6-2 6-5 6-13 6 11 6 6 6-2 6 1 6 5 6-7 6-13 6-48 6-62 6 26 6 27 6 15 6 21 6-2 6 13 6 17 6-7 6-1 6-9 6 21 6-11 6 14 6-9 6 2 6 5 6 5 6 0 6-10 6-2 6 8 6 0 6 3 6-4 6 3 6-8 6 1 6 2 6 7 6 3 6-5 6-9 6 3 6 4 6-5 6 2 6-10 6-59 6 17 6 23 6 5 6 1 6 1 6 6 6 14 6 0 6-7 6 11 6-4 6 4 6-4 6 8 6-7 6-13 6-9 6 4 6 3 6 14 6 4 6-6 6 5 6 5 6-8 6 8 6-10 6 5 6 3 6 5 6-6 6-1 6-3 6 3 6 1 6 6 6-3 6-4 6-2 6 4 6 6 6-2 6-3 6-5 6 4 6 4 6-5 6 1 6-8 6 7 6 3 6-3 6-3 6 12 6-7 6 3 6-2 6-1 6-9 6 3 6 2 6 7 6-7 6-1 6 11 6 0 6-15 6 2 6 4 6-4 6 0 6-7 6 25 6-15 6-4 6 4 6 5 6 3 6-13 6-3 6 20 6-5 6-8 6-1 6 7 6 4 6-13 6-1 6 16 6-9 6-3 6 3 6-7 6 5 6-1 6 1 6 9 6-18 6 14 6-3 6-7 6 3 6 5 6 10 6-11 6-6 6 6 6 7 6-13 6-5 6 6 6-1 6 14 6-6 6 9 6-16 6 2 6 15 6-16 6-2 6 10 6-3 6-9 6 15 6-10 6-2 6 3 6 3 6-2 6-2 6-1 6-5 6 16 6-7 6 0 6-8 6 13 6-14 6 13 6 0 6 3 6-6 6 1 6-3 6 1 6-4 6 1 6 15 6-18 6 6 6 0 6 2 6-7 6 3 6-22 6-22 6-2 6 11 6 20 6-5 6 11 6 7 6-2 6-1 6 6 6-5 6-3 6 14 6 3 6-12 6-16 6-12 6 4 6 7 6 17 6-7 6 7 6-1 6 7 6-8 6 4 6 3 6 4 6-14 6 3 6 2 6 7 6 1 6-12 6 10 6-7 6-5 6 18 6-2 6-8 6 10 6-7 6 1 6-7 6 11 6-7 6-2 6 8 6-30 6-81 6 25 6 30 6 14 6-6 6 16 6 10 6 1 6 5 6 0 6-4 6 2 6 12 6 0 6 0 6-9 6 3 6 15 6-7 6 1 6-9 6 0 6 9 6 2 6-5 6-2 6 1 6 7 6-4 6-4 6 1 6-1 6 7 6-7 6-26 6-37 6 6 6 10 6 12M7450 5046l6-1 6-4 6 4 6 7 6-10 6 11 6-5 6-14 6 9 6-3 6 1 6-1 6 3 6-3 6 4 6 4 6-6 6 1 6-4 6-1 6-1 6 11 6-6 6-7 6 12 6 0 6-1 6 1 6 1 6-12 6 11 6-4 6 6 6-16 6 16 6 2 6-12 6 8 6-4 6-7 6 14 6-15 6 12 6 11 6-15 6 0 6-5 6-16 6 17 6 9 6-8 6-4 6 1 6 6 6 2 6-1 6 5 6-8 6 1 6-5 6 12 6-14 6 3 6 1 6 6 6-5 6 6 6-7 6 5 6 4 6-3 6 4 6-9 6 5 6-9 6-72 6 24 6 7 6 20 6 2 6 11 6-2 6 5 6-7 6 25 6-10 6-7 6 19 6-14 6 5 6-1 6 5 6 0 6 7 6-7 6-1 6 3 6-12 6 7 6-5 6 4 6 7 6-4 6 0 6 1 6-7 6 2 6 5 6-4 6-2 6-33 6 0 6 9 6 6 6 1 6 11 6 4 6-1 6-3 6-1 6 8 6 1 6-5 6 3 6 2 6 5 6-3 6-1 6-1 6 1 6-5 6 5 6 2 6 0 6-3 6-1 6 0 6 0 6 5 6-8 6 11 6 5 6-14 6 0 6 8 6-2 6-7 6 0 6 8 6 0 6-6 6-4 6-4 6 10 6-1 6 6 6-3 6 11 6-2 6-16 6 4 6 5 6-9 6 7 6 2 6 1 6-3 6-9 6 10 6-12 6 7 6-3 6 6 6 6 6-11 6 10 6-11 6 1 6 5 6 4 6 0 6-7 6 7 6 10 6-7 6-12 6 3 6 7 6-3 6 0 6-14 6 18 6-1 6-13 6-38 6-26 6 11 6 17 6 14 6 8 6 4 6 4 6 1 6-2 6 10 6-4 6 1 6 8 6 9 6-11 6-1 6-4 6 17 6-14 6 5 6-3 6-4 6 4 6-1 6 1 6 8 6-8 6 4 6-4 6 11 6-13 6 3 6 2 6 1 6-7 6 3 6-2 6 2 6 4 6-4 6-2 6 6 6-5 6 2 6-6 6 7 6 0 6 3 6 0 6-5 6-4 6 14 6-6 6-4 6-1 6 7 6 1 6-4 6-4 6 0 6 5 6-4 6 3 6 0 6-5 6 4 6-3 6 0 6 5 6 1 6-4 6 1 6-8 6 6 6 1 6 6 6-3 6-5 6 10 6-1 6-9 6 1 6 5 6-3 6 2 6-2 6-5 6 1 6-7 6 4 6 5 6 3 6-6 6 3 6 0 6-2 6 4 6 3 6-6 6 4 6 2 6-6 6 7 6 2 6-16 6 6 6 5 6-3 6 2 6 3 6 0 6 3 6-9 6-4 6 0 6 6 6-7 6 7 6-5 6-2 6 10 6-3 6 1 6 3 6-4 6-5 6-2 6 10 6-3 6-9 6 12 6-2 6-11 6 11 6-5 6 5 6 7 6-11 6 12 6-1 6-14 6 3 6 4 6-5 6-2 6 4 6 9 6-1 6-11 6 6 6-7 6 11 6-8 6 12 6-12 6 2 6-4 6 15 6-3 6-3 6-6 6-5 6 2 6 12 6-4 6-9 6 3 6 10 6-9 6-1 6-1 6 4 6-1 6-3 6 3 6-21 6-76 6-14 6 31 6 15 6 14 6 19 6 10 6 0 6 4 6 11 6-3 6-6 6 22 6-11 6 2 6 2 6 1 6-2 6 3 6 2 6-6 6-6 6 11 6-5 6-2 6 12 6-4 6 2 6-3 6-6 6 9 6-10 6-4 6 14 6-5 6-2 6 9 6 4 6-10 6 5 6-5 6 4 6-1 6 1 6-4 6-4 6 4 6-2 6 8 6-13 6 2 6-2 6 8 6 3 6-6 6 8 6-5 6 1 6 0 6 6 6-11 6 10 6-7 6 2 6 8 6-13 6 4 6-9 6 0 6 13 6 6 6-10 6-5 6 6 6-10 6 8 6 4 6-2 6-2 6-5 6 9 6-3 6-4 6 5 6-2 6-43 6-105 6 34 6 33" fill="none" stroke="#8caf88" stroke-width="13.5" stroke-linejoin="round" />
<text x="744.6" y="522.9" font-size="18.6" fill="#8caf88" textLength="86.3" lengthAdjust="spacingAndGlyphs" >Region E</text>
<rect x="1021" y="485.8" width="3" height="15.7" fill="#000"/>
<rect x="1007.7" y="510.2" width="10.5" height="2.8" fill="#000"/>
<text x="984.1" y="528.7" font-size="18" textLength="35.8" lengthAdjust="spacingAndGlyphs" >10 s</text>
<text transform="translate(1029.5,487) rotate(90)" font-size="18.5" textLength="53.5" lengthAdjust="spacingAndGlyphs">2 Δ<tspan font-style="italic">F</tspan>/<tspan font-style="italic">F</tspan></text>
<text x="1074.4" y="33.6" font-size="40" font-weight="bold" textLength="29.1" lengthAdjust="spacingAndGlyphs" >b</text>
<text x="1137.0" y="58.7" font-size="21.7" textLength="461.3" lengthAdjust="spacingAndGlyphs" >Mouse: in vivo dendritic spine calcium imaging</text>
<g clip-path="url(#clipB)">
<rect x="1094" y="71.5" width="547" height="242" fill="#050505"/>
<g filter="url(#blur10)">
<ellipse cx="1565" cy="195" rx="75" ry="60" fill="rgb(26,26,26)"/>
<ellipse cx="1135" cy="125" rx="50" ry="40" fill="rgb(30,30,30)"/>
<ellipse cx="1400" cy="170" rx="55" ry="35" fill="rgb(48,48,48)"/>
<ellipse cx="1320" cy="265" rx="40" ry="50" fill="rgb(36,36,36)"/>
<ellipse cx="1230" cy="250" rx="40" ry="40" fill="rgb(22,22,22)"/>
<ellipse cx="1120" cy="260" rx="30" ry="40" fill="rgb(20,20,20)"/>
</g>
<g filter="url(#blur4)" fill="none" stroke-linecap="round" stroke-linejoin="round">
<path d="M1088,198 L1132,175 L1171,158 L1210,140 L1240,122 L1268,115 L1292,111 L1303,117" stroke="rgb(80,80,80)" stroke-width="22"/>
<path d="M1088,198 L1132,175 L1171,158 L1210,140 L1240,122 L1268,115 L1292,111 L1303,117" stroke="rgb(125,125,125)" stroke-width="9"/>
<path d="M1094,140 L1144,110 L1190,94 L1210,78" stroke="rgb(52,52,52)" stroke-width="14"/>
<path d="M1295,113 L1318,136 L1341,160 L1365,179 L1391,198 L1411,217 L1426,240 L1438,279 L1449,313 L1452,330" stroke="rgb(70,70,70)" stroke-width="20"/>
<path d="M1295,113 L1318,136 L1341,160 L1365,179 L1391,198 L1411,217 L1426,240 L1438,279 L1449,313 L1452,330" stroke="rgb(185,185,185)" stroke-width="11"/>
<path d="M1490,62 L1486,102 L1475,133 L1455,163 L1440,179 L1410,195" stroke="rgb(70,70,70)" stroke-width="26"/>
<path d="M1490,62 L1486,102 L1475,133 L1455,163 L1440,179 L1410,195" stroke="rgb(165,165,165)" stroke-width="13"/>
<path d="M1238,182 L1260,215 L1280,240" stroke="rgb(60,60,60)" stroke-width="5"/>
<path d="M1221,187 L1262,218" stroke="rgb(55,55,55)" stroke-width="5"/>
<path d="M1300,222 L1320,260 L1332,300" stroke="rgb(48,48,48)" stroke-width="14"/>
<path d="M1260,250 L1300,290 L1340,310" stroke="rgb(40,40,40)" stroke-width="10"/>
</g>
<g filter="url(#blur2)">
<ellipse cx="1262" cy="94" rx="29" ry="15" fill="rgb(220,220,220)"/>
<ellipse cx="1245" cy="90" rx="13" ry="11" fill="rgb(210,210,210)"/>
<ellipse cx="1285" cy="100" rx="10" ry="8" fill="rgb(190,190,190)"/>
<ellipse cx="1212" cy="76" rx="10" ry="6" fill="rgb(190,190,190)"/>
<ellipse cx="1214.5" cy="138" rx="6" ry="6" fill="rgb(215,215,215)"/>
<ellipse cx="1162.6" cy="192.7" rx="5.5" ry="5.5" fill="rgb(255,255,255)"/>
<ellipse cx="1159.5" cy="150" rx="6" ry="6" fill="rgb(115,115,115)"/>
<ellipse cx="1150" cy="106" rx="5" ry="5" fill="rgb(80,80,80)"/>
<ellipse cx="1188" cy="160" rx="5" ry="5" fill="rgb(120,120,120)"/>
<ellipse cx="1334" cy="129.5" rx="5" ry="5" fill="rgb(150,150,150)"/>
<ellipse cx="1353" cy="148" rx="4" ry="4" fill="rgb(100,100,100)"/>
<ellipse cx="1370" cy="173" rx="4" ry="4" fill="rgb(140,140,140)"/>
<ellipse cx="1391" cy="197" rx="10" ry="7" fill="rgb(250,250,250)"/>
<ellipse cx="1426.2" cy="231.8" rx="5.5" ry="5.5" fill="rgb(245,245,245)"/>
<ellipse cx="1414.6" cy="265.2" rx="4" ry="6" fill="rgb(235,235,235)"/>
<ellipse cx="1312.7" cy="294" rx="5" ry="5" fill="rgb(215,215,215)"/>
<ellipse cx="1310.8" cy="273" rx="4" ry="4" fill="rgb(180,180,180)"/>
<ellipse cx="1330" cy="300" rx="4" ry="4" fill="rgb(170,170,170)"/>
<ellipse cx="1295" cy="285" rx="4" ry="4" fill="rgb(140,140,140)"/>
<ellipse cx="1322" cy="250" rx="4" ry="4" fill="rgb(120,120,120)"/>
<ellipse cx="1283" cy="265" rx="4" ry="4" fill="rgb(110,110,110)"/>
<ellipse cx="1272.3" cy="209.5" rx="5" ry="5" fill="rgb(120,120,120)"/>
<ellipse cx="1528.6" cy="225" rx="6" ry="6" fill="rgb(70,70,70)"/>
<ellipse cx="1540" cy="236.6" rx="6" ry="6" fill="rgb(60,60,60)"/>
<ellipse cx="1601.7" cy="205.8" rx="8" ry="8" fill="rgb(45,45,45)"/>
<ellipse cx="1509" cy="309.7" rx="4" ry="4" fill="rgb(200,200,200)"/>
<ellipse cx="1446" cy="300" rx="6" ry="7" fill="rgb(200,200,200)"/>
</g>
<rect x="1094" y="71.5" width="547" height="242" filter="url(#grain)" opacity="0.14"/>
<g filter="url(#blur1)"><ellipse cx="1093" cy="193" rx="3.5" ry="9" fill="#fff"/><ellipse cx="1642" cy="195" rx="6" ry="8" fill="#fff"/></g>
</g>
<path d="M1303.8,129.5 L1308.9,133.3 L1314.2,137.1 L1319.5,141.0 L1324.6,144.7 L1329.4,148.4 L1333.8,151.8 L1337.6,155.0 L1341.0,158.0 L1344.1,160.8 L1347.0,163.6 L1349.9,166.3 L1353.0,169.0 L1356.2,171.7 L1359.4,174.4 L1362.6,177.0 L1365.9,179.5 L1369.1,182.1 L1372.3,184.5 L1375.6,186.8 L1379.0,189.1 L1382.4,191.3 L1385.7,193.4 L1388.7,195.7 L1391.5,198.0 L1393.9,200.4 L1395.9,202.8 L1397.7,205.3 L1399.4,207.8 L1401.2,210.5 L1403.0,213.3 L1404.9,216.2 L1406.9,219.3 L1408.8,222.4 L1410.7,225.7 L1412.7,229.0 L1414.6,232.5 L1416.5,236.1 L1418.5,239.7 L1420.4,243.4 L1422.4,247.3 L1424.3,251.4 L1426.2,255.6 L1428.0,260.1 L1429.9,264.8 L1431.7,269.7 L1433.4,274.7 L1435.2,279.6 L1437.0,284.5" fill="none" stroke="#4f6fe0" stroke-width="3.4" stroke-opacity="0.92" stroke-linecap="round" stroke-linejoin="round"/>
<circle cx="1214.5" cy="137.6" r="9.8" fill="none" stroke="#8a3cc8" stroke-width="1.5"/>
<circle cx="1162.5" cy="192.6" r="9.8" fill="none" stroke="#8a3cc8" stroke-width="1.5"/>
<circle cx="1333.8" cy="129.5" r="9.8" fill="none" stroke="#2a40a0" stroke-width="1.5"/>
<circle cx="1426.2" cy="231.9" r="9.8" fill="none" stroke="#2a40a0" stroke-width="1.5"/>
<text x="1334.5" y="121.8" font-size="19.5" fill="#f0e21a" textLength="26.0" lengthAdjust="spacingAndGlyphs" >S2</text>
<text x="1220.5" y="164.5" font-size="19.5" fill="#f0e21a" textLength="21.7" lengthAdjust="spacingAndGlyphs" >B1</text>
<text x="1165.1" y="219.2" font-size="19.5" fill="#f0e21a" textLength="25.4" lengthAdjust="spacingAndGlyphs" >B2</text>
<text x="1437.9" y="238.4" font-size="19.5" fill="#f0e21a" textLength="20.9" lengthAdjust="spacingAndGlyphs" >S1</text>
<text x="1436.0" y="275.0" font-size="19.5" fill="#f0e21a" textLength="84.0" lengthAdjust="spacingAndGlyphs" >Dendrite</text>
<rect x="1557" y="273" width="65.9" height="7.8" fill="#fff"/>
<text x="1558.1" y="266.5" font-size="19.5" fill="#fff" textLength="61.3" lengthAdjust="spacingAndGlyphs" >10 µm</text>
<rect x="1200.8" y="315.2" width="333" height="8.7" fill="url(#hue)"/>
<text x="1190.1" y="344.7" font-size="18.8" textLength="22.0" lengthAdjust="spacingAndGlyphs" >0°</text>
<text x="1257.2" y="344.4" font-size="20.8" textLength="224.1" lengthAdjust="spacingAndGlyphs" >Orientation preference</text>
<text x="1511.0" y="344.7" font-size="18.8" textLength="44.8" lengthAdjust="spacingAndGlyphs" >360°</text>
<path transform="scale(.1)" d="M10770 4383l4-4 4-3 4-4 4 5 4 3 4-1 4-3 4 3 4-8 4 3 4 1 4 7 4-13 4 10 4-4 4 3 4 5 4 5 4 1 4-7 4 1 4 15 4-13 4 12 4-8 4-10 4 5 4 4 4 14 4-20 4 6 4-1 4 7 4-4 4-6 4 10 4-16 4-7 4-6 4-45 4-122 4-320 4 145 4 93 4 72 4 33 4-36 4-136 4 31 4 76 4 61 4 29 4 16 4-20 4-89 4-87 4 68 4 47 4 19 4 51 4 9 4 32 4 17 4 0 4 33 4-4 4 4 4 12 4 7 4 5 4-17 4 27 4-2 4-3 4 10 4-10 4 11 4-1 4-1 4 4 4-5 4 11 4-8 4-5 4 0 4 15 4 3 4-18 4 6 4 17 4-17 4 4 4-1 4-6 4 7 4-6 4 4 4-12 4 4 4-2 4 3 4 10 4-8 4 0 4-3 4 6 4 0 4-1 4 4 4-9 4 5 4-11 4 13 4 8 4-9 4-7 4 2 4 11 4-3 4-2 4-4 4 7 4 13 4-23 4 1 4 11 4-6 4 1 4 2 4-7 4 11 4-8 4-5 4-3 4-8 4 12 4-1 4 0 4 8 4 8 4-5 4 6 4-11 4-9 4 6 4-10 4 10 4-11 4 4 4 7 4-7 4 14 4 3 4-8 4-5 4 6 4-2 4 4 4 4 4-8 4-2 4 7 4-10 4-1 4 23 4-15 4 10 4-6 4-3 4-3 4 1 4-1 4 5 4 6 4-8 4 3 4-7 4 6 4-2 4 10 4-13 4 3 4-3 4 2 4-13 4 1 4-5 4 17 4-6 4 4 4 2 4-7 4 6 4-18 4 15 4-5 4 8 4-1 4 2 4-10 4 6 4 7 4 6 4-3 4-2 4 14 4-3 4 16 4-1 4 13 4-16 4-22 4 16 4-13 4 1 4 1 4-3 4 3 4-10 4-1 4 7 4-11 4 3 4 14 4-14 4 2 4 2 4 3 4 8 4-5 4 7 4-18 4 7 4-13 4 7 4-2 4 5 4-2 4-5 4 3 4-5 4 9 4-3 4 6 4-17 4 0 4 10 4-3 4 3 4-1 4-11 4 11 4 2 4 3 4-3 4-1 4 7 4-3 4-5 4 2 4 3 4-4 4-1 4-1 4 0 4-4 4 3 4 5 4-1 4-6 4 2 4 1 4-13 4 13 4-6 4-13 4 10 4 0 4 6 4-8 4 11 4-15 4 8 4-6 4 6 4 3 4-1 4-13 4 8 4 2 4-9 4 17 4-7 4-10 4 13 4-7 4 5 4-11 4 4 4 1 4 2 4 2 4 4 4-3 4 8 4-11 4-6 4-12 4 10 4-5 4 16 4-1 4-7 4 8 4-10 4 0 4 5 4 2 4 1 4 3 4-16 4 9 4-8 4 16 4-17 4 14 4-2 4-4 4-4 4-5 4 9 4 6 4-15 4 10 4 5 4 1 4-3 4 11 4-12 4 3 4-11 4 5 4 7 4 14 4-5 4-3 4-6 4 16 4-7 4 7 4-17 4 12 4 6 4-7 4 7 4-2 4-2 4 4 4 1 4-13 4 10 4 5 4-13 4 3 4-7 4 11 4-3 4-5 4-2 4 7 4-14 4 20 4-13 4 6 4 0 4-1 4-15 4 17 4 6 4-20 4 4 4-1 4-3 4-7 4 18 4-1 4-7 4 6 4-1 4 9 4-4 4-7 4 24 4-23 4 17 4-32 4 8 4-4 4 1 4 16 4-4 4 5 4-8 4 7 4-3 4 4 4-4 4 6 4-2 4 3 4-3 4-6 4-3 4 12 4-11 4 14 4-15 4 9 4 4 4-4 4-7 4 7 4-4 4 2 4-16 4 9 4 4 4 1 4-8 4 15 4 8 4 20 4-10 4 4 4-9 4-21 4 15 4-14 4 7 4 5 4-5 4-1 4-2 4 1 4 0 4-2 4-8 4 2 4 9 4-4 4 3 4-8 4 16 4-14 4 0 4 8 4 2 4-4 4 11 4-6 4 3 4-12 4 7 4-3 4 11 4-8 4-8 4 3 4-5 4 24 4-3 4-28 4 7 4 10 4-14 4 0 4-1 4-2 4-1 4 4 4 4 4-2 4 2 4 0 4 0 4 2 4-4 4-3 4 5 4-1 4-11 4-1 4 11 4 7 4-13 4 18 4-18 4-1 4 9 4-4 4 5 4-7 4 6 4 1 4-10 4 4 4-3 4 1 4 2 4-5 4 9 4-7 4 6 4-10 4 9 4-5 4 0 4 8 4 8 4-13 4 11 4-10 4 12 4-7 4 0 4 1 4-6 4-2 4 3 4-1 4-7 4 3 4 3 4 4 4 5 4-4 4-11 4 5 4-4 4 13 4 4 4-11 4 15 4-10 4 6 4-8 4 0 4 11 4-16 4 6 4 3 4 6 4 0 4-3 4-7 4 7 4 10 4-2 4-13 4 0 4-19 4-42 4-38 4 30 4 24 4 16 4 23 4-12 4 0 4-12 4-51 4-10 4 27 4 24 4 17 4 20 4-1 4-9 4 15 4-3 4 8 4 6 4-14 4 5 4-5 4 9 4 7 4-15 4 11 4-4 4-1 4-5 4 3 4-6 4 9 4-9 4-2 4 11 4 4 4-6 4-8 4 6 4-5 4 6 4 14 4-7 4 4 4 5 4-8 4-8 4 6 4 1 4-1 4 6 4-11 4 5 4 0 4 15 4-18 4 0 4 8 4 9 4-17 4 8 4-1 4 1 4-2 4 2 4-9 4-6 4 8 4 7 4-6 4-6 4-13 4-54 4 26 4 17 4 9 4 16 4-6 4 0 4 7 4 2 4-16 4 16 4-8 4 20 4 0 4 5 4-3 4-3 4-13 4-27 4 3 4 11 4 12 4 7 4 4 4-4 4-10 4 25 4-17 4 1 4 7 4-8 4-6 4 12 4-6 4 5 4-2 4-3 4-7 4-10 4-41 4-117 4-285 4-16 4 108 4 94 4 67 4 42 4 22 4 13 4-30 4-164 4-33 4 68 4 56 4 26 4 20 4 39 4 20 4 22 4 12 4 30 4 0 4 9 4 3 4 7 4 13 4 4 4 11 4 0 4 0 4-2 4-4 4 12 4 4 4-4 4 17 4-16 4-1 4 14 4-3 4-14 4 13 4 4 4 1 4-15 4 8 4 3 4-5 4-6 4 16 4 6 4-20 4 10 4-8 4 4 4 12 4 0 4-16 4 10 4-4 4 9 4-12 4 8 4 2 4-11 4 4 4 4 4-11 4 15 4-12 4-2 4 3 4 7 4 6 4-5 4 8 4-6 4 2 4-2 4-3 4 7 4-6 4-1 4 9 4-18 4 10 4 0 4-5 4 1 4 15 4-25 4 2 4 11 4-8 4-4 4 9 4-7 4 1 4-6 4 21 4-10 4 5 4-13 4 13 4-2 4-1 4-4 4-3 4-3 4 5 4 0 4 6 4 1 4 0 4 4 4-20 4 11 4 0 4 2 4 0 4-10 4-1 4 13 4-3 4-11 4 19 4-9 4-3 4 9 4-9 4 12 4-12 4-6 4 18 4-10 4-6 4 12 4-5 4 3 4 7 4-10 4-10 4 9 4-9 4 27 4-17 4 14 4-10 4-8 4-9 4 11 4-13 4 11 4 0 4 7 4-1 4-2 4-4 4-13 4 1 4 3 4 6 4-3 4-4 4 17 4-8 4-6 4 14 4-13 4 10 4 5 4 3 4 9 4 1 4 16 4-4 4-7 4-11 4 12 4-13 4-2 4 4 4 1 4-5 4 5 4 5 4-17 4 15 4-7 4 1 4-4 4-6 4 6 4-1 4-6 4 4 4-7 4-5 4 2 4-9 4 6 4 3 4 21 4-12 4-9 4 11 4-8 4-7 4 0 4 4 4 0 4-1 4 16 4-12 4 9 4-2 4 6 4 2 4-8 4-2 4-1 4 10 4-4 4-1 4-9 4 1 4 1 4 2 4-6 4 10 4 2 4-8 4 13 4-3 4-7 4-13 4 17 4-6 4 4 4-9 4 3 4 3 4 3 4 1 4 9 4-5 4-10 4 18 4-25 4 14 4-10 4-7 4 27 4-8 4-6 4-5 4-6 4-3 4 13 4-11 4 10 4-2 4-6 4 12 4 2 4-15 4 7" fill="none" stroke="#d27a32" stroke-width="12" stroke-linejoin="round" />
<path transform="scale(.1)" d="M10770 5053l4-2 4 15 4-9 4-51 4 43 4-38 4-5 4-11 4 19 4-13 4 4 4-10 4-11 4-15 4 5 4 12 4 16 4 12 4-12 4-7 4 14 4-11 4-7 4 40 4-24 4 17 4 25 4-3 4-19 4 4 4-17 4 28 4-77 4-43 4-56 4-182 4-57 4 83 4 62 4 27 4-2 4-53 4-94 4-155 4 107 4 102 4 21 4 60 4 3 4 21 4-42 4-61 4-88 4 94 4 6 4 52 4 20 4 10 4 30 4 44 4 1 4-32 4-2 4 22 4 42 4 19 4-2 4-17 4 51 4-17 4 8 4 29 4 54 4-46 4 47 4-30 4 27 4-5 4-31 4 67 4-10 4-11 4 5 4-14 4 13 4-4 4 5 4 5 4-26 4 43 4-17 4 5 4-17 4 55 4-28 4-21 4 8 4-23 4 51 4-81 4 38 4 18 4 16 4 8 4-8 4-9 4 12 4-23 4 12 4-11 4 24 4-16 4 13 4-28 4 14 4 0 4-23 4 23 4 18 4-4 4 4 4-22 4-33 4-2 4 34 4-10 4-23 4-1 4 49 4-33 4-14 4-3 4-19 4-18 4 22 4-58 4-4 4-16 4-13 4 44 4 27 4-18 4 1 4 14 4-5 4 18 4-19 4-13 4 9 4 25 4-26 4-24 4 27 4-6 4 18 4-33 4 13 4 15 4 36 4-38 4 32 4-36 4 7 4-3 4 28 4 20 4-18 4 6 4 68 4-37 4-26 4 23 4-39 4 20 4-9 4 3 4 5 4-15 4 38 4 16 4 9 4-24 4 15 4 2 4-25 4 13 4 1 4-36 4 17 4 15 4-7 4 14 4-14 4-6 4-10 4 18 4 6 4-1 4-1 4 4 4 24 4-20 4-11 4 0 4 9 4 3 4 3 4-6 4 17 4-57 4 45 4-5 4-10 4 27 4-4 4-6 4-7 4-15 4 28 4-2 4 11 4-25 4 0 4-9 4-8 4 13 4 12 4 8 4-12 4 11 4-11 4-5 4 25 4-25 4 12 4 29 4-42 4 18 4 4 4-22 4-8 4 33 4-13 4 15 4-19 4-14 4-6 4-2 4-34 4-1 4-4 4-15 4-14 4-11 4-24 4-2 4-4 4 29 4 33 4-29 4 23 4-10 4 7 4 19 4-9 4-17 4 12 4-77 4 59 4 8 4 24 4-21 4-6 4-5 4 42 4-28 4 25 4 38 4-39 4 27 4-19 4 7 4 17 4 2 4-16 4 24 4 2 4-39 4 24 4-31 4 54 4-19 4 6 4 13 4-36 4 20 4 31 4-41 4 37 4-23 4-3 4-36 4 49 4-6 4 8 4 3 4-19 4-7 4 6 4 61 4-60 4 23 4 11 4-2 4 25 4-43 4 11 4-9 4 10 4 0 4-27 4-5 4 9 4 0 4-12 4-19 4 24 4 4 4 3 4-10 4 15 4-11 4-3 4 21 4-35 4-14 4 44 4-22 4 43 4-42 4 41 4-54 4 7 4 40 4-26 4 12 4-69 4-2 4 14 4-1 4-42 4-22 4-26 4-7 4 25 4 7 4 24 4 7 4-19 4 19 4 8 4 13 4-8 4-19 4-11 4 14 4-13 4 25 4-12 4 10 4 2 4 35 4-22 4 37 4-2 4-7 4 26 4-50 4 37 4 3 4-17 4 56 4-54 4 39 4-1 4 21 4-50 4 20 4 25 4-22 4-15 4 38 4-17 4 20 4-15 4-38 4 35 4 12 4-33 4 53 4-27 4-11 4 46 4-40 4-30 4 14 4 49 4-27 4 15 4-4 4-37 4 20 4-3 4 0 4 15 4 6 4-19 4-9 4 8 4-27 4 13 4 18 4-2 4-33 4 6 4 18 4 31 4-1 4 0 4-8 4 10 4 8 4 51 4-46 4-20 4 2 4 4 4 2 4-5 4 7 4-18 4-28 4 18 4-28 4 26 4 3 4-34 4 36 4-15 4 12 4-29 4 12 4-14 4-13 4-23 4-49 4-38 4-46 4 78 4-3 4 47 4-10 4 11 4-12 4-5 4-3 4-17 4-39 4-40 4 10 4 48 4-45 4 30 4 44 4-14 4 20 4 28 4-1 4-18 4 29 4-11 4 16 4-27 4 62 4-46 4 37 4-13 4-29 4 52 4 5 4 4 4 25 4-25 4-52 4 49 4-3 4-13 4 10 4 49 4-43 4-19 4 8 4 55 4-36 4-17 4 6 4 30 4-14 4-3 4 16 4-9 4-6 4 12 4-5 4 8 4-43 4 20 4-16 4 13 4-8 4 27 4-15 4 26 4-29 4 0 4 32 4-2 4-15 4-23 4 15 4-5 4 29 4-94 4 64 4 10 4 2 4-51 4 19 4-14 4-8 4 3 4-22 4-35 4 39 4-13 4-16 4-1 4-16 4 23 4 25 4-21 4 46 4-20 4-4 4-26 4 47 4-6 4 0 4 13 4-34 4-29 4-39 4-78 4-19 4 64 4 0 4 26 4 29 4-2 4 3 4 27 4 20 4 2 4 23 4-14 4 17 4 9 4 2 4-13 4 28 4-12 4 24 4-46 4-5 4 22 4 34 4-11 4-34 4 21 4-12 4-20 4 8 4 15 4 9 4 11 4-10 4-5 4-1 4 12 4 6 4-5 4-21 4 26 4 39 4-28 4-7 4-14 4 44 4-12 4 14 4-41 4 25 4-8 4 1 4 20 4 34 4-62 4 61 4-31 4-3 4 12 4-10 4 2 4-3 4 1 4 38 4-7 4-51 4 43 4-29 4-28 4 21 4 15 4-35 4-31 4 17 4-4 4 27 4-10 4-14 4 33 4-12 4-15 4 16 4 19 4 27 4-13 4-34 4 6 4-11 4-73 4 16 4 13 4-23 4 21 4 28 4 3 4 14 4 15 4 12 4-33 4 8 4 36 4-17 4 14 4 14 4-27 4 11 4 0 4-11 4-12 4-21 4-35 4-134 4-289 4 122 4 52 4 74 4 11 4 7 4-22 4-124 4-85 4 93 4 30 4 88 4 57 4 16 4 36 4 5 4 32 4 22 4 6 4 2 4-9 4-67 4-124 4 74 4 28 4 15 4 15 4 17 4 0 4 29 4 13 4 6 4 30 4 1 4 31 4-20 4 8 4-7 4-12 4 54 4-43 4-15 4 33 4 1 4-28 4 16 4 7 4 25 4-10 4-17 4-6 4 16 4-24 4 1 4 59 4-25 4 3 4-16 4-37 4 59 4 0 4-23 4 29 4-8 4-26 4-7 4-6 4 5 4 24 4-20 4-43 4-1 4-61 4-6 4-18 4 15 4 44 4-2 4 12 4-20 4 20 4 36 4-36 4-16 4 18 4-60 4 12 4 60 4-26 4 59 4-16 4 18 4-13 4 3 4 5 4 16 4 6 4-17 4 16 4-27 4 31 4 7 4-7 4 22 4-23 4-4 4 11 4 20 4-15 4 0 4-10 4 4 4 6 4 0 4 2 4 8 4-18 4 6 4-8 4 18 4-51 4 7 4 6 4 19 4-19 4 15 4-19 4 17 4 3 4 35 4-17 4-21 4 28 4-25 4-18 4-9 4 41 4 49 4-55 4-11 4 34 4-45 4 27 4-29 4 28 4-4 4 21 4-33 4 8 4 11 4-27 4 22 4-36 4 21 4 12 4 9 4-33 4 29 4-4 4 29 4-28 4 10 4 10 4 3 4-33 4 24 4-14 4-4 4-12 4 8 4 33 4-8 4 31 4-35 4-3 4 33 4-31 4 0 4 3 4-5 4 19 4-19 4-34 4 33 4 7 4-7 4-33 4 48 4-52 4 45 4-17 4-5 4 28 4-13 4-22 4 9 4 24 4-37 4 23 4-28 4 14 4 25 4-39 4 19 4-18 4 12 4 10 4 15 4-42 4 6 4-21 4 37 4-4 4-22 4 3 4-24 4 18 4 41 4-26 4 16 4 30 4-36 4 21 4 5 4 1 4-15 4 6 4 7 4-9 4-18 4 23 4-1 4-9 4-8 4-8 4-10 4 70 4-59 4 10 4-9 4 34 4-18 4-22 4-4 4 1 4 19 4 26 4-14 4 37 4-27 4 24 4-15 4 0 4-14 4-1 4 5 4-6 4 0 4-25 4 31 4-1 4 3 4-20 4-7 4-15 4 33 4-22 4 13" fill="none" stroke="#1c74c4" stroke-width="11" stroke-linejoin="round" />
<path transform="scale(.1)" d="M10770 5644l4-41 4 53 4-15 4 24 4-56 4 39 4 25 4-14 4-63 4 33 4-64 4 77 4-68 4 24 4-26 4 1 4-10 4 41 4-12 4 40 4 8 4-28 4-7 4 16 4-45 4 65 4 5 4-87 4 1 4 15 4-94 4-5 4-87 4 120 4-10 4-37 4-19 4-11 4 58 4-22 4-35 4-23 4 9 4-41 4-6 4-53 4 77 4-21 4 26 4 4 4 37 4-3 4 16 4 67 4-14 4 14 4 46 4-24 4-13 4 12 4 61 4 84 4-100 4 1 4 28 4 5 4 33 4 28 4-43 4-7 4 36 4 42 4 24 4-63 4 4 4-16 4 59 4 10 4 5 4-48 4-27 4 80 4-11 4 3 4-33 4 35 4-49 4-3 4 15 4-16 4 47 4-6 4-68 4 47 4 16 4-8 4 6 4-47 4 46 4-44 4 1 4 36 4-54 4 48 4-2 4-8 4 49 4 18 4-52 4 41 4 15 4-16 4-59 4-33 4 60 4-5 4-2 4-21 4 19 4 12 4-39 4 27 4 1 4 2 4-12 4-16 4-7 4-29 4 20 4-31 4 6 4-16 4-42 4 36 4 9 4-94 4-13 4-2 4 90 4-27 4-32 4 26 4 11 4-43 4 61 4-21 4-30 4 39 4-1 4-10 4-5 4-17 4-41 4 77 4-12 4 9 4-6 4-20 4-24 4 16 4-27 4 121 4-26 4-76 4 69 4 11 4 18 4 12 4-57 4 30 4 26 4-35 4 2 4-24 4 14 4 14 4 15 4-10 4 16 4 34 4-28 4 44 4-42 4 20 4-67 4 30 4 16 4 0 4-34 4 58 4-68 4 8 4 20 4 42 4-36 4 26 4 38 4-25 4-58 4 44 4 16 4-40 4 26 4 1 4 18 4 47 4-15 4 45 4-71 4 55 4-88 4 105 4 8 4-62 4 79 4-57 4 3 4-73 4 58 4-19 4 5 4-9 4 23 4-45 4 18 4 1 4 40 4-72 4 17 4 6 4-10 4-39 4 113 4-100 4 39 4 10 4-32 4-8 4 57 4-69 4 44 4-66 4 41 4-101 4 120 4-62 4-53 4 54 4-38 4 59 4-33 4-41 4-61 4-3 4-89 4 33 4 80 4-95 4 6 4 25 4 15 4 49 4-5 4-3 4-3 4-15 4-37 4 13 4 25 4 50 4-11 4-30 4 50 4-70 4 78 4-1 4-14 4 42 4-12 4-49 4 2 4-18 4 20 4 20 4 90 4-39 4 24 4-10 4-7 4-5 4 2 4-28 4 13 4-32 4 78 4-1 4-23 4-9 4 67 4 14 4-76 4 42 4-27 4-7 4 15 4 45 4-37 4 30 4-40 4 75 4-52 4 26 4 11 4-16 4 12 4 15 4-2 4 39 4-31 4 48 4 4 4-38 4-6 4 26 4 11 4-13 4-30 4 3 4-59 4 85 4-29 4-33 4 25 4 1 4-47 4-9 4-7 4 42 4-41 4-5 4 36 4-53 4 13 4 10 4-38 4-8 4-5 4-8 4 21 4-65 4-47 4 22 4-85 4 32 4-13 4 25 4 17 4 52 4-38 4 36 4-22 4-16 4-10 4-42 4-12 4 19 4 47 4 11 4-12 4-33 4 94 4 6 4 9 4-2 4-15 4 48 4 1 4 5 4-57 4 49 4-23 4 7 4 40 4 3 4 17 4 13 4 34 4-26 4 0 4-38 4 34 4 20 4-38 4 29 4 0 4 16 4-43 4 33 4-13 4 36 4-25 4 86 4-113 4-51 4 122 4-104 4 7 4 20 4 26 4 6 4-53 4 60 4 35 4-22 4-23 4 10 4 4 4 2 4-51 4 46 4 7 4 42 4-11 4-38 4 15 4 2 4 28 4 25 4-25 4 3 4-52 4 68 4-20 4-70 4 60 4 5 4-56 4 40 4-24 4 11 4-24 4 26 4-20 4 37 4-26 4-20 4 20 4-37 4 12 4 53 4-128 4 60 4-57 4-12 4-19 4-44 4-17 4 21 4-38 4 65 4-57 4 51 4-22 4 12 4-22 4 14 4-24 4-31 4-54 4-80 4 85 4 73 4-57 4 24 4 4 4 33 4 21 4-1 4 4 4 34 4 18 4 16 4 20 4-33 4-19 4-7 4 65 4-32 4 42 4-22 4 17 4-64 4 66 4 6 4 16 4 0 4-51 4 0 4 72 4 14 4-11 4 18 4-30 4-46 4 72 4-25 4-8 4 65 4-38 4 36 4-57 4 18 4 13 4 70 4-52 4-24 4 19 4-41 4 8 4-15 4 7 4-19 4 31 4-6 4-36 4 52 4 14 4-74 4-11 4 13 4-35 4 51 4 51 4-41 4 49 4-60 4-8 4-40 4-5 4 47 4-45 4 10 4 33 4-12 4 20 4-37 4-15 4 17 4-12 4 10 4-72 4 103 4-68 4 51 4-16 4-22 4 67 4-66 4-55 4 38 4-14 4-1 4-113 4 37 4 1 4 22 4-3 4-10 4 97 4 11 4 11 4-59 4 69 4 30 4 27 4-36 4 50 4-6 4-36 4 27 4-8 4-5 4 40 4 13 4-26 4 8 4-68 4 16 4 14 4-16 4 19 4-3 4-32 4 79 4-47 4-31 4 56 4-25 4-6 4 9 4-19 4 15 4 9 4 17 4 21 4-42 4 33 4 12 4-7 4-56 4 75 4-38 4 61 4-7 4-70 4 72 4-19 4-38 4 95 4-42 4-14 4 22 4-36 4 5 4 23 4-27 4 22 4 45 4-65 4-53 4 24 4 0 4 34 4-33 4-81 4 35 4-18 4 54 4 53 4-1 4-42 4-2 4 36 4-8 4 4 4-17 4 47 4-8 4-8 4-26 4-22 4 33 4-62 4-10 4 61 4-35 4 33 4-26 4 43 4-30 4 38 4 2 4-80 4 20 4 22 4-48 4 88 4-91 4 7 4 5 4-33 4-57 4-19 4-40 4-92 4 3 4 88 4-37 4 60 4-92 4 9 4-3 4-37 4 58 4 3 4 67 4-27 4 34 4 17 4 9 4 42 4-15 4 2 4 45 4-3 4-54 4 63 4-9 4 43 4 13 4-70 4 9 4 61 4 38 4-37 4-89 4 48 4 27 4 11 4-18 4 6 4-29 4 13 4-21 4 46 4-61 4 57 4 33 4 22 4-15 4-24 4-17 4 41 4 10 4-66 4 53 4-23 4 22 4 29 4-8 4 28 4-31 4 21 4-11 4 4 4 14 4-60 4-28 4-7 4-29 4-13 4 23 4-38 4-25 4-57 4-4 4-127 4 19 4 1 4 84 4 8 4 38 4-19 4 26 4 15 4-24 4 55 4-2 4 50 4 18 4-90 4 43 4 16 4 33 4-42 4 7 4-7 4-40 4-45 4-24 4 46 4 20 4-18 4 57 4 0 4 22 4-40 4-12 4 29 4-16 4 40 4-10 4 3 4 27 4-22 4 35 4 22 4-44 4-7 4-19 4 98 4-58 4-19 4 22 4 29 4 43 4-71 4 77 4-71 4 64 4-32 4 58 4-54 4-41 4 38 4 3 4 9 4 9 4-51 4 76 4-4 4-32 4 36 4 4 4-45 4 52 4-104 4 9 4-18 4 0 4 10 4 48 4-42 4 12 4 7 4 35 4 53 4-86 4 18 4-23 4 63 4-10 4 22 4-31 4-12 4 12 4-41 4 14 4 14 4-12 4 48 4-22 4-38 4 63 4-43 4-28 4 21 4-49 4 87 4-12 4 27 4-55 4 26 4 8 4-52 4 63 4-31 4-25 4 89 4-68 4 0 4 60 4-88 4 27 4 25 4-10 4 8 4-33 4-22 4 24 4 15 4-5 4-22 4-3 4 28 4-69 4 97 4-77 4-36 4 51 4-85 4 56 4-36 4-15 4 31 4-31 4 13 4-15 4 22 4 25 4-23 4-37 4 41 4 24 4-14 4 16 4 24 4 39 4-30 4-68 4 7 4 34 4-13 4-19 4 14 4 42 4-5 4-32 4 37 4-29 4 1 4-7 4 4 4-5 4 4 4-4 4-3 4 5 4-5 4 23 4-5 4-6 4-3 4-12 4 32 4-64 4 71 4-19 4-3 4 19 4-29 4 32 4-34 4 95 4-52 4-8 4 8 4 57 4-82 4 8 4 53 4-51" fill="none" stroke="#6f7b1f" stroke-width="11" stroke-linejoin="round" />
<text x="1098.8" y="394.2" font-size="20.8" fill="#d27a32" textLength="199.8" lengthAdjust="spacingAndGlyphs" >Dendritic shaft trace</text>
<text x="1099.7" y="469.5" font-size="20.8" fill="#1c74c4" textLength="151.7" lengthAdjust="spacingAndGlyphs" >Spine trace (S1)</text>
<text x="1099.6" y="539.0" font-size="20.8" fill="#6f7b1f" textLength="261.3" lengthAdjust="spacingAndGlyphs" >Spine trace minus bAP (S1)</text>
<rect x="1251.5" y="416.4" width="68.9" height="163.8" fill="none" stroke="#9a9a9a" stroke-width="1.4" stroke-dasharray="7,5"/>
<rect x="1466.5" y="375.7" width="179" height="230.6" fill="none" stroke="#9a9a9a" stroke-width="1.4" stroke-dasharray="7,5"/>
<rect x="1457.4" y="425.6" width="2.6" height="12.8" fill="#000"/>
<rect x="1457.8" y="497" width="1.8" height="11" fill="#000"/>
<rect x="1457.4" y="552.8" width="2.6" height="20.2" fill="#000"/>
<rect x="1408.2" y="579.4" width="49.3" height="2.6" fill="#000"/>
<text x="1387.2" y="457.8" font-size="20.8" textLength="72.7" lengthAdjust="spacingAndGlyphs" >0.5 Δ<tspan font-style="italic">F</tspan>/<tspan font-style="italic">F</tspan></text>
<text x="1409.9" y="601.8" font-size="20.8" textLength="39.8" lengthAdjust="spacingAndGlyphs" >20 s</text>
<path transform="scale(.1)" d="M14830 4320l4-30 4 60 4-47 4 40 4-23 4-6 4-37 4 108 4-104 4 59 4-17 4-50 4 63 4 53 4-119 4 51 4 10 4-19 4 58 4 2 4 15 4-47 4 13 4-11 4-14 4 42 4-9 4-33 4 54 4-101 4-9 4 60 4-29 4 8 4 63 4-20 4-28 4 19 4-60 4 36 4-5 4 44 4 7 4-18 4-61 4 65 4-30 4-12 4 33 4-1 4-8 4 16 4 41 4-36 4-80 4 75 4-71 4 85 4-48 4 24 4 5 4-43 4 39 4-28 4 92 4-41 4-86 4 14 4 37 4-6 4-11 4 4 4 0 4 4 4 2 4-35 4 66 4 46 4-90 4-37 4-14 4 50 4-9 4-63 4 118 4-52 4 7 4 30 4-51 4 8 4 28 4-17 4-66 4 64 4 7 4-52 4 29 4-2 4 12 4 26 4-25 4 50 4-45 4 32 4-71 4 28 4-14 4 29 4-3 4 59 4 37 4-103 4 40 4-2 4 67 4-151 4 65 4-3 4 11 4-39 4 22 4 100 4-64 4-39 4-6 4 61 4-57 4 15 4 67 4-93 4 41 4 1 4-41 4 77 4-82 4 4 4 38 4-45 4 6 4 80 4-21 4-36 4-11 4 37 4 2 4-26 4-22 4 17 4-25 4 1 4 9 4 17 4 32 4-102 4 96 4-23 4-7 4 29 4-43 4 28 4-21 4-38 4 45 4 7 4-27 4 19 4-9 4 57 4-21 4-46 4 35 4 11 4-73 4 73 4-40 4 29 4-6 4-2 4 16 4 40 4-58 4 31 4-29 4 35 4 11 4 57 4-63 4-28 4 34 4-22 4 69 4-73 4 16 4 31 4-79 4 19 4 20 4-4 4 4 4-12 4-29 4 16 4-22 4-45 4 33 4-13 4-7 4 39 4-19 4 9 4 32 4-1 4-98 4 82 4-26 4 45 4 8 4 43 4-56 4-60 4 42 4 23 4-38 4 4 4 19 4 48 4-35 4-48 4 40 4-54 4 35 4 17 4-6 4-36 4 94 4-44 4 9 4-49 4-28 4 19 4 41 4-22 4 62 4-72 4 29 4-80 4 2 4-212 4-228 4 148 4 159 4 7 4 29 4 85 4-35 4 84 4 19 4-69 4 80 4 4 4-88 4-225 4-104 4 38 4 44 4 60 4 25 4 86 4-44 4 41 4 11 4 35 4 11 4 59 4-14 4 53 4-26 4 45 4-50 4-8 4 67 4-23 4 15 4 47 4-29 4 49 4-8 4-3 4-29 4-18 4-5 4 37 4-38 4-43 4 95 4-98 4 23 4 29 4 6 4 25 4-29 4-74 4 133 4-50 4 4 4 39 4-45 4 11 4-66 4 59 4-23 4 34 4 7 4-28 4 39 4-15 4-3 4 15 4-24 4-64 4 90 4 17 4-72 4 59 4 3 4-12 4-40 4-14 4 32 4-32 4 48 4-68 4 22 4 10 4-8 4-39 4 38 4 27 4-48 4 69 4-6 4-60 4 44 4 21 4-1 4-44 4 6 4 28 4-37 4 56 4 0 4-56 4 53 4-47 4-26 4 58 4 21 4-72 4-6 4-40" fill="none" stroke="#d27a32" stroke-width="12" stroke-linejoin="round" />
<path transform="scale(.1)" d="M14830 5046l4 0 4 4 4 5 4-4 4-22 4-19 4-26 4 53 4-45 4 48 4-80 4 33 4-24 4 44 4 31 4 10 4-38 4 44 4-43 4-3 4 40 4-51 4 22 4-8 4-4 4 36 4-19 4 22 4-42 4 23 4-50 4 5 4 40 4-25 4-4 4-39 4 10 4-8 4-88 4 18 4-56 4-61 4-45 4 81 4-36 4 89 4 40 4-37 4 0 4 47 4 19 4 48 4-70 4 50 4-35 4-3 4-64 4-14 4-95 4-95 4 45 4 48 4-21 4 108 4-33 4 61 4-3 4-36 4 65 4-76 4-2 4-113 4-24 4 45 4 83 4 27 4 62 4 13 4 22 4-16 4-37 4 62 4 59 4-21 4 13 4 30 4-8 4-31 4 49 4-88 4 100 4-31 4-32 4 37 4-8 4 69 4-51 4 27 4-10 4-20 4 33 4-50 4 48 4-23 4 11 4 22 4 8 4-12 4-49 4 69 4-46 4 68 4-70 4 39 4-14 4-14 4 13 4-15 4 9 4-11 4 35 4-18 4-9 4 23 4-49 4 1 4 29 4-31 4-17 4 24 4-24 4 2 4 35 4-57 4-16 4 55 4-30 4 66 4 23 4-57 4 24 4-47 4-18 4 51 4 8 4-25 4-2 4 4 4 31 4-44 4 12 4 28 4-21 4-32 4 39 4 29 4-62 4-8 4 27 4-4 4-5 4 28 4-27 4-28 4 15 4 13 4 15 4-69 4 101 4-41 4 15 4 9 4-13 4-3 4-39 4-14 4 8 4 9 4 21 4-3 4-60 4 18 4 56 4-35 4 14 4-50 4-27 4-17 4 32 4-8 4 1 4 26 4-30 4-5 4-10 4 8 4 19 4-2 4 54 4-51 4 7 4-40 4 67 4-43 4 34 4-3 4-4 4-12 4 63 4 13 4-82 4 12 4-11 4 38 4-48 4 71 4 0 4-13 4-91 4 33 4-4 4 12 4 0 4-44 4 32 4-25 4-15 4-42 4 8 4 9 4 6 4 62 4-62 4 12 4 3 4 29 4 17 4-8 4 26 4 17 4-23 4 16 4 18 4 13 4-72 4 23 4-203 4-63 4 54 4 55 4 41 4 54 4 9 4 46 4-20 4 71 4-16 4 12 4-56 4 24 4-17 4-113 4-13 4 46 4-19 4 49 4-6 4-27 4 73 4-4 4 40 4 7 4 3 4-27 4 44 4-14 4 43 4 18 4 8 4-23 4 14 4 19 4-28 4 8 4-32 4 47 4-55 4 14 4-16 4 17 4-27 4 42 4 20 4 26 4-62 4-3 4 20 4 1 4-21 4 4 4 35 4-52 4 39 4 18 4-9 4-26 4 55 4-9 4 12 4 2 4 23 4-64 4 29 4-20 4-30 4 37 4 0 4 23 4-14 4 36 4 8 4-22 4-18 4-9 4-11 4 9 4-5 4-34 4-8 4-2 4 12 4 21 4 60 4-68 4-34 4 60 4 4 4-49 4 15 4 1 4-40 4 25 4 15 4 14 4-5 4-45 4 30 4-26 4 73 4-63 4 11 4 2 4-13 4 44 4-15 4-6 4-5 4 21 4 1 4 46" fill="none" stroke="#1c74c4" stroke-width="12" stroke-linejoin="round" />
<path transform="scale(.1)" d="M14830 5005l4-13 4 31 4 20 4-25 4-1 4 6 4 2 4 2 4-12 4-2 4-23 4 16 4 21 4 4 4-11 4 5 4-7 4-15 4 34 4-36 4 59 4-46 4-19 4 47 4-51 4 18 4-1 4-13 4-12 4 45 4-30 4 24 4-16 4-30 4 55 4-53 4 8 4 37 4-4 4-1 4-4 4-44 4-4 4 53 4 8 4 4 4-19 4 2 4-11 4-32 4 68 4-22 4 61 4-33 4 2 4 12 4-64 4 41 4-25 4 3 4-11 4 27 4 17 4-65 4 33 4 11 4-47 4 85 4-51 4 53 4-50 4-3 4 43 4-6 4-23 4-7 4 0 4 10 4 0 4-10 4-19 4-42 4 56 4-29 4 32 4-4 4-60 4 43 4-43 4 27 4-6 4 55 4-2 4-86 4 55 4 3 4-8 4-3 4 41 4-76 4 42 4-22 4-15 4 30 4 30 4-38 4 35 4-8 4-2 4-2 4 29 4 22 4-57 4 36 4-30 4 33 4-2 4-35 4 69 4-24 4-21 4 6 4 17 4-11 4 36 4-78 4 59 4-33 4 43 4-12 4 1 4 4 4 1 4-35 4 19 4 21 4-59 4 0 4 11 4-2 4 10 4 26 4-41 4 15 4 11 4-8 4 9 4 19 4-38 4 41 4 10 4-69 4 36 4-16 4-27 4 28 4-4 4 31 4-4 4-1 4-37 4 16 4 4 4-26 4 35 4-38 4-12 4 6 4-7 4 35 4 24 4-15 4 18 4 18 4-47 4 23 4-27 4-1 4 101 4-34 4-8 4-18 4 23 4-20 4 4 4 9 4-20 4 40 4-15 4-44 4 34 4-38 4-5 4 30 4 3 4-55 4-5 4-19 4 37 4-10 4 43 4-16 4-28 4 17 4-19 4-27 4 52 4-4 4 8 4-15 4-5 4 13 4 32 4 4 4-40 4-32 4 25 4-39 4 72 4-26 4 54 4-66 4 18 4 38 4 2 4-11 4-30 4 13 4-3 4 8 4-21 4 2 4 7 4 31 4-65 4 59 4-26 4-4 4 12 4-8 4-29 4 52 4-60 4 61 4-41 4-76 4-168 4-135 4 188 4 32 4 11 4 12 4 38 4-30 4 48 4 38 4 21 4-14 4-27 4 7 4 33 4-184 4-95 4 58 4 40 4 70 4-22 4 86 4-9 4-54 4 84 4 24 4-26 4 8 4-40 4 78 4-28 4 50 4-43 4 0 4 25 4-37 4 28 4-8 4 15 4-2 4 4 4-11 4-21 4 58 4-33 4 0 4 26 4-6 4-72 4 54 4 19 4-10 4-29 4 95 4-20 4-34 4-26 4 13 4 13 4 11 4 8 4-23 4 53 4 11 4-22 4-38 4-30 4 61 4-14 4 22 4-39 4 7 4-19 4 30 4-7 4-26 4 34 4-3 4-42 4 36 4-35 4 55 4-41 4 1 4 55 4-26 4 45 4-82 4 52 4 14 4 0 4-54 4 27 4-19 4 23 4 17 4-9 4 10 4-5 4 52 4-41 4-16 4 22 4-20 4-8 4 35 4-19 4-43 4 97 4-91 4-14 4 21 4-27 4 28" fill="none" stroke="#b540ae" stroke-width="12" stroke-linejoin="round" />
<path transform="scale(.1)" d="M14830 5672l4-41 4 49 4-21 4 23 4-10 4 11 4-24 4 55 4-57 4-22 4 71 4-31 4-21 4 23 4-15 4 19 4 7 4-25 4-55 4 62 4-6 4 6 4 19 4-1 4 57 4-97 4 52 4-36 4 48 4-26 4-28 4 1 4-44 4 65 4-35 4-61 4 60 4-117 4-19 4-4 4-36 4-70 4 11 4 2 4 79 4-15 4 10 4 31 4 0 4 41 4-23 4 73 4-32 4 31 4 67 4-126 4 97 4-51 4-3 4-36 4-60 4-158 4 26 4 17 4-7 4 38 4 93 4-46 4-2 4-1 4 44 4-74 4 6 4-82 4-93 4 96 4 12 4 40 4 64 4-76 4 82 4-13 4 41 4 44 4-46 4 47 4 49 4-23 4-4 4 68 4-52 4 33 4-27 4-5 4 97 4-50 4 13 4 43 4-60 4 67 4-34 4 17 4 67 4-64 4 6 4-3 4 43 4-9 4-31 4-5 4 3 4-13 4 58 4-25 4-7 4-18 4 8 4-17 4 28 4 6 4 39 4-32 4 27 4-4 4-22 4-42 4-32 4 77 4-7 4-85 4-17 4 74 4-24 4 3 4-1 4 35 4-39 4 18 4 1 4-49 4 42 4-10 4 9 4-46 4 32 4-3 4 5 4 1 4 7 4-3 4 7 4 33 4-57 4 44 4-8 4 29 4-15 4 4 4-10 4 19 4-14 4 57 4-87 4-1 4 68 4 3 4-76 4 36 4 75 4-118 4 70 4-70 4-40 4 47 4 24 4 19 4 18 4-44 4 11 4 20 4-55 4 16 4 18 4-50 4 55 4-44 4 23 4-20 4-9 4-35 4-8 4 87 4-55 4 5 4 10 4-45 4-13 4 106 4-57 4-13 4 22 4 40 4-25 4 48 4-50 4-34 4-43 4 65 4-22 4 2 4 3 4-51 4 54 4-35 4-29 4 19 4 50 4-39 4-23 4 19 4 24 4-11 4 5 4-46 4 55 4-16 4 20 4-11 4-16 4 67 4 26 4-36 4-45 4 29 4 20 4-49 4 40 4 1 4-60 4 89 4-25 4-40 4 14 4-33 4-44 4-53 4-98 4-113 4 70 4 83 4-37 4 63 4 22 4-49 4 43 4 28 4 28 4 58 4-19 4-17 4-9 4 83 4-46 4-21 4-51 4 5 4-76 4 30 4 12 4-19 4 21 4 17 4 22 4 37 4-12 4-1 4 21 4 0 4-23 4 50 4 5 4 0 4-1 4 6 4 81 4-63 4 21 4-1 4-12 4 61 4-15 4-50 4-4 4 150 4 6 4-122 4 66 4-6 4-33 4 6 4 48 4-70 4 9 4 68 4-36 4-34 4-18 4 47 4-24 4 8 4 30 4-55 4 32 4-4 4 34 4-12 4-42 4 21 4-56 4 10 4 0 4 25 4-16 4 28 4-11 4-41 4-8 4-2 4 70 4 5 4-24 4-29 4 10 4 12 4-32 4 81 4-49 4 37 4 11 4-23 4 58 4-26 4 31 4 10 4-61 4 48 4-58 4 83 4-8 4 6 4-19 4 63 4-44 4 22 4-9 4-41 4-8 4-41 4-15 4 40" fill="none" stroke="#6f7b1f" stroke-width="12" stroke-linejoin="round" />
<rect x="1631.6" y="387.7" width="2.8" height="50" fill="#000"/>
<rect x="1631.6" y="481.5" width="2.8" height="25.5" fill="#000"/>
<rect x="1631.6" y="548" width="2.8" height="25.7" fill="#000"/>
<rect x="1579.3" y="579.7" width="49.7" height="2.6" fill="#000"/>
<text x="1584.6" y="602.4" font-size="20.8" textLength="35.6" lengthAdjust="spacingAndGlyphs" >10 s</text>
<text x="1492.9" y="457.2" font-size="20.8" fill="#b540ae" textLength="88.9" lengthAdjust="spacingAndGlyphs" >Rescaled</text>
<path d="M1535.5,463.6 V481" stroke="#b540ae" stroke-width="2"/><path d="M1530,477 L1535.5,486 L1541,477 Z" fill="#b540ae"/>
<text x="1778.6" y="58.2" font-size="20.8" textLength="329.3" lengthAdjust="spacingAndGlyphs" >Dendritic spine orientation tuning</text>
<path d="M1765.8,88.8L1765.8,74.5" stroke="#465672" stroke-width="2.6" fill="none"/><path d="M1765.8,67.8L1770.5,77.3L1765.8,74.5L1761.0,77.3Z" fill="#465672"/>
<path d="M1825.9,70.9L1815.8,81.0" stroke="#465672" stroke-width="2.6" fill="none"/><path d="M1811.1,85.7L1814.4,75.6L1815.8,81.0L1821.2,82.4Z" fill="#465672"/>
<path d="M1860.0,78.3L1874.3,78.3" stroke="#465672" stroke-width="2.6" fill="none"/><path d="M1881.0,78.3L1871.5,83.0L1874.3,78.3L1871.5,73.5Z" fill="#465672"/>
<path d="M1930.4,85.7L1920.3,75.6" stroke="#465672" stroke-width="2.6" fill="none"/><path d="M1915.6,70.9L1925.7,74.2L1920.3,75.6L1918.9,81.0Z" fill="#465672"/>
<path d="M1975.8,67.8L1975.8,82.1" stroke="#465672" stroke-width="2.6" fill="none"/><path d="M1975.8,88.8L1971.0,79.3L1975.8,82.1L1980.5,79.3Z" fill="#465672"/>
<path d="M2020.6,85.7L2030.7,75.6" stroke="#465672" stroke-width="2.6" fill="none"/><path d="M2035.4,70.9L2032.1,81.0L2030.7,75.6L2025.3,74.2Z" fill="#465672"/>
<path d="M2091.5,78.3L2077.2,78.3" stroke="#465672" stroke-width="2.6" fill="none"/><path d="M2070.5,78.3L2080.0,73.5L2077.2,78.3L2080.0,83.0Z" fill="#465672"/>
<path d="M2125.6,70.9L2135.7,81.0" stroke="#465672" stroke-width="2.6" fill="none"/><path d="M2140.4,85.7L2130.3,82.4L2135.7,81.0L2137.1,75.6Z" fill="#465672"/>
<path d="M1765.8,480.7L1765.8,466.3" stroke="#465672" stroke-width="2.6" fill="none"/><path d="M1765.8,459.7L1770.5,469.2L1765.8,466.3L1761.0,469.2Z" fill="#465672"/>
<path d="M1825.9,462.8L1815.8,472.9" stroke="#465672" stroke-width="2.6" fill="none"/><path d="M1811.1,477.6L1814.4,467.5L1815.8,472.9L1821.2,474.3Z" fill="#465672"/>
<path d="M1860.0,470.2L1874.3,470.2" stroke="#465672" stroke-width="2.6" fill="none"/><path d="M1881.0,470.2L1871.5,474.9L1874.3,470.2L1871.5,465.4Z" fill="#465672"/>
<path d="M1930.4,477.6L1920.3,467.5" stroke="#465672" stroke-width="2.6" fill="none"/><path d="M1915.6,462.8L1925.7,466.1L1920.3,467.5L1918.9,472.9Z" fill="#465672"/>
<path d="M1975.8,459.7L1975.8,474.1" stroke="#465672" stroke-width="2.6" fill="none"/><path d="M1975.8,480.7L1971.0,471.2L1975.8,474.1L1980.5,471.2Z" fill="#465672"/>
<path d="M2020.6,477.6L2030.7,467.5" stroke="#465672" stroke-width="2.6" fill="none"/><path d="M2035.4,462.8L2032.1,472.9L2030.7,467.5L2025.3,466.1Z" fill="#465672"/>
<path d="M2091.5,470.2L2077.2,470.2" stroke="#465672" stroke-width="2.6" fill="none"/><path d="M2070.5,470.2L2080.0,465.4L2077.2,470.2L2080.0,474.9Z" fill="#465672"/>
<path d="M2125.6,462.8L2135.7,472.9" stroke="#465672" stroke-width="2.6" fill="none"/><path d="M2140.4,477.6L2130.3,474.3L2135.7,472.9L2137.1,467.5Z" fill="#465672"/>
<path transform="scale(.1)" d="M17500 1192l7 0 7-4 7-2 7-8 7 5 7 2 7-8 7 6 7-2 7 5 7-8 7 4 8 7 7-4 7-3 7-2 7 4 7 2 7-9 7 3 7 0 7 9 7-4 7 3 7-11 7 2 7 8 7-5 7 4 7-10 7 7 7 5 7-7 7 2 7 3 7-2 8 2 7-5 7 7 7-3 7-11 7-4 7 17 7-9 7 4 7-4 7-3 7 3 7 9 0 37-7 3-7 4-7-8-7 3-7 5-7-5-7-5-7 3-7 3-7 3-7 1-7-5-8 0-7-3-7 2-7 2-7 0-7 5-7 9-7-14-7-1-7 9-7-13-7 4-7 4-7-1-7 5-7-8-7-1-7-3-7 10-7-6-7 1-7-3-7 3-7 6-8-4-7-5-7 0-7 2-7-2-7 1-7 4-7-4-7 6-7 0-7 1-7 0-7 1z" fill="#8c8c8c" opacity="0.55"/>
<path transform="scale(.1)" d="M17500 1215l1 6 2-19 1 1 1 1 2 1 1 3 1 4 2 1 1-4 1 4 2 3 1-3 1 6 2 2 1-15 1-3 2 6 1 10 1-4 2-10 1 3 1 1 2-14 1 8 1-1 2-1 1 2 1-10 2 15 1-11 1-5 2-5 1 6 1 11 2-13 1 2 1 5 2 7 1 5 1-5 2-2 1-15 1 14 2 3 1 14 1-1 2-3 1-1 1 1 2-8 1-2 1 0 2 10 1-2 1 2 2 3 1-1 1-12 2 6 1-12 1 3 2 0 1-4 1-1 2-17 1 22 1-5 2 11 1-6 1-12 2 5 1-8 1 21 2-2 1-4 1 8 2-1 1 4 1-11 2 7 1-1 1 7 2-4 1-10 1 5 2 7 1 7 1-6 2-2 1-12 1 12 2 1 1-1 1 3 2-8 1 6 1-5 2-4 1-17 1 2 2 10 1-8 1 3 2-3 1 3 1-5 2-6 1 13 1-9 2 10 1-3 1 13 2-8 1 9 1 2 2-2 1-11 1 12 2-4 1 5 1 7 2 5 1 0 1 4 2-14 1 3 1-2 2-4 1-11 1 12 1-5 2-3 1-2 1 4 2-11 1 10 1-5 2 12 1-12 1 1 2 1 1 2 1-6 2-3 1-10 1 19 2-6 1 0 1-3 2 12 1 2 1-4 2 6 1-2 1 6 2-3 1-6 1 6 2 0 1-1 1 1 2 4 1 11 1-1 2-16 1 12 1-7 2-9 1 10 1 6 2-8 1-10 1-2 2-1 1-13 1 5 2 18 1-3 1-11 2 11 1-16 1 18 2-12 1 7 1-9 2-7 1 13 1 17 2-9 1 1 1-2 2-7 1 12 1 3 2 6 1 3 1-1 2-8 1-4 1 1 2 3 1-6 1 7 2-11 1 13 1 2 2-11 1 2 1-15 2 11 1-9 1-2 2-7 1 0 1 16 2 4 1-9 1-8 2-1 1 8 1-15 2 12 1-6 1 10 2 11 1-3 1-6 2-1 1 7 1-12 2 13 1-1 1 1 2 6 1 5 1-7 2 0 1 1 1-6 2 3 1-11 1 0 2 7 1-13 1 7 2 7 1-3 1-6 2-6 1 6 1-10 2-6 1 19 1-6 2 6 1-12 1 18 2-15 1 8" fill="none" stroke="#000" stroke-width="13" stroke-linejoin="round" />
<path transform="scale(.1)" d="M18026 1180l7-46 7-20 7-19 7-12 7-17 7-13 7-12 7 5 7-7 7-8 7 0 7-5 8 2 7-1 7 4 7 8 7 11 7 2 7 1 7 11 7 3 7 2 7 8 7-4 7 10 7 4 7 4 7 7 7 5 7-4 7 9 7 6 7-9 7 3 7 6 7-2 8 3 7 9 7-3 7 8 7-4 7 7 7 5 7-3 7 5 7 2 7 5 7-3 7 3 0 46-7-4-7 5-7-8-7-2-7 2-7-5-7-8-7-6-7 5-7-2-7-5-7 1-8-3-7 5-7-12-7-1-7-3-7-6-7 0-7 3-7 3-7-10-7-15-7-2-7-3-7-1-7-10-7 2-7-5-7-5-7 1-7-6-7-2-7-15-7-1-7-5-8-4-7-2-7 14-7 0-7 9-7 4-7 1-7 17-7 15-7 13-7 29-7 25-7 35z" fill="#8c8c8c" opacity="0.55"/>
<path transform="scale(.1)" d="M18026 1188l1 3 2 0 1-6 1-19 2 8 1-13 1 0 2-8 1 0 1 3 2-2 1-12 1-2 2-12 1 4 1 4 2-12 1-17 1 17 2-12 1-10 1-10 2 5 1-12 1 7 2-8 1 1 1 6 2-16 1 12 1-26 2-6 1 5 1 12 2-4 1-4 1-6 2 10 1 3 1-2 2-7 1 11 1-10 2 8 1 5 1-2 2 2 1-7 1 2 2 1 1-8 1 3 2-6 1-9 1-1 2 3 1-4 1 0 2 17 1-18 1-3 2-8 1-5 1 10 2 2 1 3 1-9 2 0 1 8 1-8 2 2 1 8 1 3 2 2 1-1 1 16 2 0 1-8 1-1 2-1 1 23 1-21 2 21 1-13 1 5 2 11 1-8 1 3 2 1 1-2 1 7 2 0 1 3 1-16 2 0 1 8 1 0 2-8 1 5 1-8 2-3 1 12 1-8 2 4 1-7 1 17 2-15 1 8 1 1 2 5 1 11 1-10 2-4 1 3 1 8 2 10 1 4 1-12 2 8 1-1 1 5 2 4 1-8 1 12 2-14 1 3 1-1 2 0 1-4 1 7 1-7 2 1 1 0 1 2 2 8 1-15 1-3 2 8 1-5 1 11 2 8 1-19 1 13 2 7 1-5 1 10 2-8 1 3 1 8 2-1 1 10 1-11 2 8 1 4 1-7 2 6 1-1 1-3 2 3 1 4 1 0 2 0 1-7 1 15 2-11 1 1 1 12 2-8 1-3 1-10 2 7 1 4 1-6 2-1 1-1 1-14 2 14 1 9 1-15 2 12 1-14 1 11 2 5 1 0 1-1 2-4 1 4 1 7 2 10 1-5 1-3 2 6 1 4 1 6 2-19 1 10 1 2 2-1 1 4 1 2 2-18 1 18 1-3 2 4 1-8 1-5 2 2 1-13 1 3 2 11 1 0 1-19 2 13 1-2 1-10 2 1 1 7 1 0 2 3 1 2 1 6 2-6 1 7 1 1 2 7 1 7 1-11 2 8 1 7 1-3 2 13 1-10 1-6 2 4 1 5 1-2 2 0 1 0 1-2 2 7 1-1 1-8 2 0 1-5 1 1 2 0 1 9 1-12 2 13 1-6 1-5 2 4 1-11 1 0 2 13 1-1 1-7 2 4 1-11" fill="none" stroke="#000" stroke-width="13" stroke-linejoin="round" />
<path transform="scale(.1)" d="M18552 1111l7 9 7 8 7 8 7-1 7 3 7 10 7 2 7 7 7 2 7-10 7 7 7 6 8-1 7 1 7 6 7 10 7-6 7 4 7 0 7-1 7-2 7-1 7 0 7 2 7 8 7-3 7-6 7 5 7 5 7-6 7 3 7-10 7 5 7 8 7-5 7 2 8 2 7-3 7-6 7 8 7-4 7 0 7 4 7 2 7-1 7 2 7 1 7-4 7-5 0 47-7-1-7 5-7-2-7 8-7-8-7-2-7-3-7 0-7 4-7-3-7 6-7 5-8-4-7 3-7 0-7-6-7-1-7 5-7-6-7 2-7-2-7 2-7-2-7 8-7-12-7-4-7 3-7 6-7-7-7-3-7 5-7-1-7-2-7-1-7-10-7 5-8-5-7 1-7-9-7 12-7-13-7-1-7-8-7-3-7 8-7-5-7-8-7-15-7-8z" fill="#8c8c8c" opacity="0.55"/>
<path transform="scale(.1)" d="M18552 1138l1-4 2 14 1-12 1 3 2 0 1-4 1 7 2 5 1-3 1 4 2-17 1 24 1-12 2 11 1-10 1 10 2 7 1-2 1-6 2-3 1 0 1-1 2 14 1 0 1 2 2 4 1 5 1-1 2 0 1 9 1-1 2 1 1-7 1 2 2-1 1 1 1-3 2 12 1-5 1-3 2-11 1 20 1-11 2 9 1-19 1 9 2-4 1-1 1-1 2-4 1-1 1-1 2 14 1 1 1-8 2 2 1-1 1 10 2-3 1 5 1-4 2 6 1-10 1 11 2 4 1-1 1-5 2 11 1 5 1-9 2 2 1 3 1-7 2-2 1 5 1-13 2 17 1-1 1 8 2-20 1 1 1 2 2 8 1-17 1-2 2 15 1 11 1-15 2 8 1-4 1-11 2 12 1-7 1 4 2 0 1 1 1 5 2 1 1 2 1 11 2-13 1 11 1 1 2 6 1-6 1 4 2-7 1 6 1-6 2 2 1-2 1 9 2-11 1 7 1-11 2 9 1-11 1-1 2-8 1 2 1-3 2 0 1 8 1-1 2 13 1-20 1-4 2 20 1-6 1 1 1 7 2 0 1-8 1 10 2-2 1 7 1 2 2-12 1 14 1-5 2-2 1 3 1-16 2 21 1-7 1 8 2-7 1 14 1-9 2 0 1-13 1 7 2-12 1 25 1-18 2 5 1-7 1-9 2 1 1-2 1 7 2-2 1-6 1 8 2-4 1-4 1 2 2 8 1-4 1 4 2 5 1-5 1 6 2-3 1-5 1 13 2-9 1 9 1 3 2-5 1 5 1 2 2-7 1 7 1-7 2-5 1 6 1-3 2 0 1 6 1-8 2 5 1 1 1-12 2 2 1-4 1-2 2-7 1-2 1 2 2 5 1-3 1 14 2-13 1 1 1 0 2 7 1-4 1-2 2 16 1-7 1 9 2 7 1-9 1-2 2 0 1 1 1-2 2-2 1 12 1 1 2-10 1-6 1-3 2 10 1-1 1-13 2 3 1 4 1 0 2 0 1 2 1-22 2 19 1 3 1-5 2-7 1 7 1 9 2-16 1 8 1-7 2 10 1-3 1-4 2 7 1-2 1 9 2-4 1 2 1 6 2-9 1 6 1 11 2-2 1-12 1 3 2 4 1-10" fill="none" stroke="#000" stroke-width="13" stroke-linejoin="round" />
<path transform="scale(.1)" d="M19075 1183l7 4 7-3 7-11 7 10 7 4 7-7 7 4 7-3 7 5 7-6 7-6 7 10 8-8 7 1 7 7 7-4 7 5 7 2 7-9 7 6 7 2 7-6 7 0 7 4 7 1 7-6 7-1 7 6 7-4 7 7 7-4 7 4 7-1 7-6 7 1 7 1 8 0 7 7 7-2 7-5 7-5 7 6 7 0 7-1 7-3 7-3 7 0 7 6 7 1 0 41-7 6-7 0-7-7-7-1-7 8-7-4-7-2-7 2-7 4-7-2-7-1-7-3-8 2-7-5-7 1-7 3-7 10-7-7-7 0-7 5-7-6-7-5-7 2-7 1-7 9-7-8-7 1-7-4-7 7-7-3-7 6-7-8-7 2-7-3-7 8-7-10-8 7-7 9-7-13-7-1-7 14-7-11-7-2-7 0-7-2-7 3-7 0-7-2-7 0z" fill="#8c8c8c" opacity="0.55"/>
<path transform="scale(.1)" d="M19075 1195l1 13 2 0 1-13 1 5 2 3 1-7 1 16 2 2 1-1 1-5 2 7 1-5 1 3 2-1 1 0 1 9 2-16 1-1 1 17 2-8 1-7 1 1 2 8 1-10 1 4 2-13 1 2 1-7 2 13 1-10 1 9 2-10 1 3 1 4 2-1 1-2 1-6 2 15 1-23 1 14 2 2 1 1 1 6 2-1 1-6 1 17 2-9 1-2 1-2 2 17 1-10 1 12 2-6 1-3 1 0 2 2 1-7 1-3 2 2 1 5 1-3 2-7 1-3 1 0 2 7 1-7 1-6 2 6 1-6 1 0 2-8 1 0 1 12 2-14 1 0 1 14 2 0 1 4 1 4 2 6 1 8 1-14 2-7 1 20 1-10 2 9 1-4 1 2 2-4 1-2 1 1 2-1 1-4 1 13 2-3 1-13 1 10 2-14 1 4 1-7 2 3 1 1 1-3 2 10 1-13 1 2 2-6 1 5 1 8 2-6 1-3 1 3 2-4 1 6 1 1 2 12 1-11 1-2 2 13 1 4 1-4 2-13 1 2 1 11 2 10 1-1 1 3 2-3 1-10 1 1 1 3 2-7 1-4 1-9 2 13 1-17 1 2 2 10 1-11 1 6 2-11 1 4 1 5 2-9 1 5 1 7 2-3 1-5 1 5 2 8 1-1 1-5 2-3 1 12 1-5 2 2 1 0 1 0 2 14 1-4 1-1 2-2 1-1 1 0 2 9 1 2 1-6 2-3 1 9 1-9 2-4 1-3 1-5 2 9 1-10 1 3 2-15 1 20 1-17 2 15 1-13 1 1 2 9 1-2 1-7 2-2 1 4 1 11 2-3 1-11 1 13 2 14 1-6 1 5 2 0 1-14 1 13 2 1 1-3 1 5 2 1 1 6 1-4 2-9 1-2 1 5 2 2 1-3 1-10 2 5 1-5 1-7 2 10 1-4 1-2 2-14 1 9 1-2 2 8 1-13 1 4 2-1 1 1 1 10 2-10 1-4 1 12 2-3 1-1 1 9 2-4 1-6 1 17 2-18 1 6 1 16 2 0 1-10 1 0 2 5 1-12 1 1 2 0 1 15 1-9 2-17 1 19 1-13 2-2 1-2 1 7 2 7 1-8 1-11 2 0 1 10 1-8 2-1 1 11" fill="none" stroke="#000" stroke-width="13" stroke-linejoin="round" />
<path transform="scale(.1)" d="M19595 1188l7-1 7-6 7 0 7 3 7-1 7-7 7 8 7-1 7-2 7 3 7 1 7-1 8-2 7 0 7 2 7-3 7 1 7 4 7-5 7-1 7-1 7 11 7-7 7 7 7-11 7-2 7 7 7-4 7-2 7 6 7 0 7 3 7-1 7-19 7 15 7 7 8-5 7 2 7 3 7-2 7-1 7 0 7-1 7-1 7-3 7 3 7-4 7 1 7-6 0 49-7 0-7 2-7-1-7-1-7 3-7-3-7 9-7-8-7 2-7 0-7-3-7 7-8 5-7-5-7-1-7 2-7-6-7 1-7 0-7 3-7-5-7 4-7-4-7 0-7 10-7-6-7 0-7-6-7 4-7 3-7 2-7-7-7-6-7 14-7-12-7 6-8 3-7-7-7 7-7 0-7 8-7-10-7-1-7-2-7 11-7-6-7 4-7 3-7-10z" fill="#8c8c8c" opacity="0.55"/>
<path transform="scale(.1)" d="M19595 1216l1-4 2 4 1-1 1-3 2-1 1-9 1 17 2-13 1 11 1-2 2-2 1-9 1 6 2-1 1-4 1-1 2-15 1 12 1 1 2-4 1 3 1 2 2-5 1-3 1 7 2 1 1-8 1 16 2-1 1-8 1-10 2 15 1-10 1 12 2 15 1-22 1 5 2 9 1-2 1-9 2 7 1-6 1 2 2 6 1-1 1-7 2-10 1 10 1 8 2-12 1 8 1-8 2-4 1 3 1 0 2-2 1-6 1-1 2 3 1 1 1 10 2 3 1-10 1-6 2 17 1-12 1 2 2-3 1 1 1 8 2-10 1 10 1 11 2-6 1-2 1-5 2 5 1 1 1 8 2-6 1-7 1 14 2-17 1-2 1 6 2-8 1-2 1-1 2-3 1 10 1-2 2 3 1 5 1-17 2 4 1 10 1-11 2 2 1 5 1 19 2-20 1 1 1-6 2 5 1 5 1-6 2 1 1-1 1 4 2 15 1-5 1-3 2 13 1-2 1 1 2-7 1 9 1-13 2 2 1-6 1 7 2-7 1 8 1-3 2-9 1 0 1-5 2 0 1 0 1 13 1-24 2 15 1-12 1 13 2-11 1 0 1 8 2 1 1 6 1-3 2-1 1 5 1 3 2 9 1-9 1-3 2-7 1 17 1 2 2-7 1 0 1-9 2 1 1 3 1-1 2 0 1-4 1-4 2 22 1-15 1-10 2 11 1 2 1-15 2 10 1-3 1-5 2-7 1 16 1-12 2 6 1 4 1-5 2 6 1 1 1-14 2 12 1 2 1-4 2 20 1-20 1 10 2 2 1 8 1-9 2 9 1 1 1 4 2-17 1 13 1-3 2-5 1-3 1-7 2 10 1 1 1-5 2 0 1-2 1 0 2-10 1-4 1 1 2 16 1-1 1-18 2 15 1-14 1 11 2-3 1-16 1 12 2 8 1-13 1 16 2 4 1-7 1-4 2 5 1-5 1 3 2 0 1 7 1 7 2 3 1-5 1 1 2-1 1 7 1-2 2-28 1 4 1 7 2-8 1 0 1 4 2 7 1-18 1 2 2 12 1-12 1 4 2-15 1 28 1-16 2 10 1-5 1 13 2-11 1 4 1 10 2-11 1 2 1 8 2-11 1 9 1 1 2-5 1 16" fill="none" stroke="#000" stroke-width="13" stroke-linejoin="round" />
<path transform="scale(.1)" d="M20122 1179l7-1 7-11 7-2 7-8 7-4 7-1 7-21 7 12 7-1 7 5 7 0 7-6 8 3 7-8 7 3 7-2 7 1 7 3 7-5 7 4 7 7 7 1 7-6 7 0 7 1 7-2 7 5 7-3 7 0 7-1 7-1 7-8 7 7 7 1 7 0 7 3 8-6 7 3 7-10 7-1 7-9 7-6 7-19 7-39 7-52 7 57 7 36 7 13 7 11 0 42-7-9-7-8-7-46-7-41-7 52-7 25-7 18-7 13-7 6-7 5-7 11-7-9-8 7-7 5-7-9-7 0-7 3-7-7-7 7-7 1-7 1-7-2-7 0-7 5-7-11-7 5-7 7-7-3-7-12-7 7-7 2-7 3-7-1-7 6-7-8-7-1-8 4-7-5-7 3-7-5-7 3-7-2-7 15-7 0-7 8-7-1-7 8-7 14-7 2z" fill="#8c8c8c" opacity="0.55"/>
<path transform="scale(.1)" d="M20122 1204l1 13 2-16 1 19 1-8 2 10 1-15 1-3 2 1 1 5 1-15 2 7 1 2 1-11 2-4 1-5 1 4 2 0 1-6 1 3 2-10 1 4 1-1 2-4 1-4 1-7 2 4 1 10 1-15 2-6 1 11 1 3 2 7 1-4 1 4 2-15 1 17 1-7 2-8 1 10 1-1 2-13 1 23 1-8 2-16 1 8 1 15 2-6 1 5 1-14 2 7 1-3 1 4 2-13 1 21 1-10 2-15 1 10 1-16 2 7 1-8 1 6 2-2 1 1 1-4 2 15 1 0 1-13 2-1 1 7 1 9 2-3 1-8 1 4 2 11 1-16 1 21 2-3 1 11 1-15 2-11 1 12 1 2 2 1 1-1 1-6 2-1 1 1 1-7 2 18 1-11 1-4 2 0 1-13 1 9 2 7 1-9 1-9 2-5 1 9 1-5 2 4 1 3 1 11 2-16 1 11 1-9 2 4 1 4 1-6 2 11 1-3 1 14 2-2 1-15 1 11 2 13 1-11 1 7 2-6 1 12 1-14 2 1 1-1 1 5 2-8 1-11 1-2 2 11 1-5 1-10 1 0 2 9 1-12 1 6 2-1 1 5 1-10 2 3 1-2 1 4 2 5 1 7 1 0 2-5 1 8 1-4 2 16 1-8 1 0 2 4 1 1 1 2 2 5 1-20 1 14 2-7 1-7 1 12 2-9 1-9 1 3 2 6 1 2 1-6 2-8 1-13 1 22 2-7 1-10 1 10 2-13 1-1 1 12 2-3 1 0 1 13 2-4 1 4 1 1 2-13 1 12 1-1 2-2 1 0 1 6 2 0 1-5 1 8 2-4 1 5 1-4 2 3 1-7 1 6 2-1 1 8 1 1 2-26 1 7 1 14 2-22 1 14 1-11 2-8 1-8 1-2 2 9 1 2 1 0 2 3 1-2 1 4 2-12 1 3 1 6 2-16 1 23 1-15 2 2 1 0 1 10 2-17 1-2 1 8 2-13 1 6 1-11 2 4 1-7 1-6 2-12 1-2 1-19 2-1 1-5 1-10 2-8 1-33 1 2 2 18 1 11 1 16 2-2 1 14 1 1 2 13 1-15 1 20 2 9 1-2 1 13 2 7 1-3 1 6 2-8 1 4 1 3 2 8 1-6" fill="none" stroke="#000" stroke-width="13" stroke-linejoin="round" />
<path transform="scale(.1)" d="M20650 1104l7 13 7-2 7 11 7 6 7 2 7 7 7 7 7 4 7 8 7 1 7-1 7-4 8 8 7 5 7 2 7-3 7-3 7 7 7 0 7 2 7 3 7 1 7 0 7-3 7-1 7 6 7 1 7-5 7 9 7-1 7-3 7 4 7-7 7-1 7 7 7-5 8 3 7 0 7 2 7-1 7-5 7 5 7-10 7 6 7 7 7 2 7-4 7-5 7 2 0 53-7 1-7 2-7-7-7 1-7 1-7-9-7-2-7 4-7 3-7 0-7 3-7-2-8-4-7 11-7-10-7-2-7 4-7-4-7 5-7-8-7 3-7 2-7-8-7 3-7-4-7 6-7-6-7 3-7 2-7-6-7-2-7 3-7-6-7 1-7-1-7 0-8 3-7-13-7 3-7 2-7-5-7-11-7-3-7-7-7-7-7-1-7-6-7-7-7-11z" fill="#8c8c8c" opacity="0.55"/>
<path transform="scale(.1)" d="M20650 1135l1-5 2 3 1 11 1-11 2-3 1 9 1 5 2-15 1 2 1 8 2 1 1-11 1 5 2-3 1 6 1 7 2-2 1-5 1 7 2 6 1 2 1-9 2 6 1 4 1 9 2 12 1-11 1 18 2-18 1 0 1 6 2 10 1-4 1 7 2 2 1-3 1-5 2-14 1 16 1-2 2 9 1-10 1-4 2-1 1 2 1 5 2-17 1 9 1-10 2 7 1-2 1 17 2-5 1-7 1-1 2 12 1 7 1-19 2 16 1-10 1-4 2 17 1 7 1-3 2-7 1 17 1-8 2 11 1 2 1 0 2-5 1 7 1-10 2 7 1-2 1 3 2-14 1 6 1-6 2-5 1 1 1 0 2 1 1 3 1-13 2 3 1 11 1-7 2-11 1 4 1 1 2-3 1 18 1-7 2 3 1-1 1-3 2 8 1 9 1-3 2 3 1-16 1 9 2 1 1-2 1 9 2-4 1 2 1 1 2 8 1-18 1 10 2 0 1-7 1 1 2-7 1 11 1 7 2-6 1-8 1-6 2-10 1 13 1-4 2 6 1-10 1-4 2 0 1 12 1 4 1-1 2-6 1 15 1-19 2 6 1 2 1 11 2-3 1-7 1 11 2-2 1 5 1-8 2 13 1 15 1-18 2 4 1 5 1-7 2 2 1-10 1-2 2 8 1-1 1-15 2 13 1-14 1 6 2 4 1-9 1 4 2 15 1-17 1 9 2-2 1 11 1-25 2 7 1 7 1-7 2 6 1 4 1 4 2-3 1-3 1 0 2 7 1-1 1-3 2-1 1 3 1 6 2-4 1 1 1-7 2 11 1-11 1 0 2 0 1-5 1 5 2 3 1-20 1 2 2 9 1-12 1 1 2 11 1-9 1 3 2 5 1 0 1-2 2-1 1 4 1 4 2 9 1-3 1-7 2 5 1 4 1 1 2-2 1 9 1-5 2 7 1-19 1 9 2 4 1-5 1-5 2-8 1 6 1 11 2-10 1-6 1 4 2 9 1-2 1-24 2 11 1 7 1 1 2 3 1-8 1 1 2 1 1-13 1-1 2 15 1 12 1-3 2-11 1-4 1 16 2-2 1 0 1-6 2 6 1 5 1 6 2-11 1 3 1 9 2 3 1-22 1 23 2-14 1 8" fill="none" stroke="#000" stroke-width="13" stroke-linejoin="round" />
<path transform="scale(.1)" d="M21182 1176l7 3 7 5 7 3 7-6 7 0 7-2 7 3 7 8 7-6 7-2 7 3 7-9 8 2 7-1 7 1 7 7 7-16 7 16 7-11 7 3 7 0 7 2 7-1 7 4 7-4 7 2 7-7 7 6 7 9 7 0 7-1 7-4 7-4 7 2 7 6 7-1 8-3 7-5 7 6 7-7 7 0 7 9 7 1 7-2 7 1 7 0 7-8 7 9 7-4 0 49-7-5-7 0-7 3-7 5-7-6-7-4-7 5-7 0-7-1-7 0-7 7-7-11-8 0-7 2-7 2-7-5-7-2-7 7-7 3-7-6-7-4-7 0-7 6-7-2-7-3-7-3-7 0-7 1-7 1-7 0-7 5-7 10-7-4-7-11-7-4-7 7-8 7-7 0-7 3-7-6-7-1-7-1-7 1-7-1-7 0-7 2-7 0-7 1-7-4z" fill="#8c8c8c" opacity="0.55"/>
<path transform="scale(.1)" d="M21182 1205l1 0 2 10 1-7 1-3 2 0 1 7 1-8 2 5 1 9 1-4 2-9 1 7 1 3 2-6 1 1 1 4 2-1 1-4 1 7 2-12 1 0 1-4 2-1 1-5 1 1 2 0 1-3 1-2 2 7 1-1 1-3 2 0 1 2 1 14 2-3 1 1 1 9 2-8 1-3 1 13 2 0 1-8 1 10 2-1 1-3 1 1 2-4 1 1 1 9 2-13 1 3 1-10 2 4 1 4 1-10 2 6 1 1 1-3 2 0 1 1 1-5 2 4 1-2 1-15 2 18 1-15 1 4 2 10 1-5 1 7 2-6 1-10 1 24 2-19 1 5 1 10 2-2 1-11 1 13 2-3 1 8 1-3 2-2 1-2 1 12 2-13 1-2 1 9 2-7 1 5 1-10 2 1 1 1 1-8 2-1 1 3 1 0 2-7 1 4 1-15 2 27 1-21 1-2 2 7 1 11 1-13 2 6 1-1 1-3 2 9 1 3 1-4 2 9 1 1 1-3 2 0 1-2 1 0 2 8 1 4 1-18 2-4 1 7 1 15 2-1 1-12 1 9 2-15 1 1 1-3 1 2 2 0 1 2 1 4 2-21 1 3 1 15 2-14 1 5 1-6 2 1 1-5 1 19 2-3 1-10 1 12 2-5 1 1 1 11 2 3 1-5 1 14 2 6 1-12 1 12 2-5 1-7 1 0 2-4 1 8 1-1 2 6 1-2 1 9 2-29 1 10 1-1 2 1 1-7 1-4 2 3 1-9 1 2 2 0 1 10 1-7 2-11 1 12 1 10 2-3 1-15 1 7 2 6 1-2 1 8 2-6 1 2 1 6 2 1 1-3 1 11 2-14 1 4 1 13 2-1 1 3 1-6 2-8 1 10 1-5 2-5 1-3 1-1 2 2 1-16 1 11 2-9 1 10 1-11 2-8 1 6 1 15 2-18 1 2 1 10 2-8 1 0 1 8 2-5 1 4 1-1 2 5 1 13 1-11 2 10 1 2 1-13 2 9 1 0 1 17 2-13 1-4 1 5 2 1 1-6 1 3 2 1 1 1 1-3 2-8 1-9 1 9 2 3 1-7 1 5 2-5 1-2 1-6 2-1 1-1 1 6 2-12 1 10 1 4 2-4 1 5 1-7 2 10 1-2" fill="none" stroke="#000" stroke-width="13" stroke-linejoin="round" />
<path transform="scale(.1)" d="M17500 1840l7 2 7 0 7-5 7 7 7-14 7 13 7 0 7-4 7 5 7-9 7 4 7 0 8-21 7 13 7 5 7-3 7 5 7-3 7-8 7-1 7-2 7 8 7-14 7 29 7 1 7 1 7-2 7-7 7-2 7 1 7-9 7-6 7 0 7 10 7 0 7 1 8-5 7 11 7-13 7-5 7-10 7 20 7 8 7-7 7 8 7 4 7-3 7-3 7-20 0 92-7-8-7 15-7-8-7 5-7-3-7-4-7-10-7-4-7 4-7 1-7 11-7-11-8 17-7-11-7 0-7-2-7-14-7 5-7 16-7 2-7-2-7 1-7 2-7 4-7 5-7-19-7-7-7 14-7-2-7 11-7 4-7-10-7-6-7 4-7-11-7-5-8 11-7 8-7-7-7-2-7 24-7-17-7-2-7-9-7 11-7 2-7-2-7-3-7-1z" fill="#8c8c8c" opacity="0.55"/>
<path transform="scale(.1)" d="M17500 1870l1-20 2 17 1 35 1-38 2 1 1 9 1-1 2 11 1-17 1 8 2 13 1-14 1 1 2 20 1-14 1 2 2 0 1-10 1 36 2-53 1 21 1-6 2 22 1-22 1 8 2-22 1 8 1 13 2 6 1-19 1 13 2 7 1-30 1 17 2-16 1 15 1 1 2 6 1 7 1 3 2-29 1 30 1-8 2-13 1-14 1-2 2 31 1-16 1 3 2 17 1-14 1 20 2-6 1-4 1-33 2 43 1-39 1 64 2-45 1 7 1-9 2 2 1 10 1-5 2-2 1 2 1 2 2-38 1 25 1-27 2 30 1-2 1 3 2 2 1 0 1-5 2 3 1 3 1 27 2-55 1 31 1-4 2-7 1 3 1 43 2-27 1-12 1 9 2-25 1 5 1 28 2-21 1-17 1 20 2 27 1-29 1 11 2 22 1-14 1-9 2-1 1-11 1 1 2 26 1-16 1-13 2 22 1-6 1-6 2 3 1 11 1-24 2-2 1-6 1 12 2 6 1-13 1 3 2 6 1-18 1 1 2 37 1-16 1 2 2-22 1 35 1-5 2-6 1-26 1 51 1-4 2-2 1 10 1-6 2-10 1 0 1-11 2 8 1 12 1-30 2-5 1 27 1-34 2 30 1-15 1 21 2-10 1-16 1 8 2-12 1 11 1 10 2-29 1 31 1 4 2-20 1 4 1 4 2-12 1 15 1-28 2 17 1-2 1-13 2 31 1-34 1 4 2-3 1-13 1 17 2-2 1-16 1 17 2 13 1 11 1-13 2-14 1 10 1-7 2 1 1 19 1 25 2-11 1-35 1 25 2-22 1 0 1 22 2 11 1-37 1 19 2-17 1 19 1 10 2-15 1-4 1 5 2-17 1 16 1 11 2 3 1-2 1-33 2 17 1-18 1 6 2-5 1-1 1 20 2 3 1-6 1 3 2-6 1 5 1-4 2-29 1 34 1-16 2 24 1-2 1-45 2 20 1 14 1 12 2 8 1-5 1-40 2 42 1 3 1-8 2-5 1 1 1 7 2 6 1-6 1-44 2 27 1 33 1-44 2 4 1 12 1 4 2-22 1 49 1-21 2 8 1-33 1 34 2-25 1 32 1-42 2 25 1 10 1-3 2-6 1-5 1-7 2 17 1-36" fill="none" stroke="#000" stroke-width="13" stroke-linejoin="round" />
<path transform="scale(.1)" d="M18026 1838l7-27 7-27 7 9 7-22 7-3 7-18 7-3 7 3 7-16 7 3 7-16 7 11 8-10 7 18 7 5 7-5 7 11 7-3 7 17 7-12 7 9 7 8 7 6 7-6 7 6 7-10 7 14 7-1 7-9 7 7 7 15 7 6 7-11 7 8 7 2 7-1 8 10 7-1 7 3 7-5 7 11 7-7 7-1 7-2 7 3 7 0 7 11 7-12 7 11 0 67-7 3-7 17-7-27-7-6-7 10-7-6-7-1-7 4-7-5-7 6-7-9-7-2-8 4-7-7-7 2-7-4-7 10-7-9-7-13-7-5-7-2-7 13-7-12-7-1-7 0-7 9-7-19-7-9-7 6-7 0-7-3-7 2-7-15-7 4-7-14-7-1-8-2-7-1-7-2-7 5-7 13-7 15-7-7-7 14-7 16-7 12-7 7-7 7-7 30z" fill="#8c8c8c" opacity="0.55"/>
<path transform="scale(.1)" d="M18026 1904l1-55 2 1 1 42 1-23 2-21 1-11 1-7 2 9 1-4 1 17 2-24 1 15 1-6 2 3 1-16 1-22 2 13 1 24 1-34 2 1 1 27 1-11 2-23 1 21 1-10 2-23 1-2 1-8 2 26 1-41 1 57 2-38 1 1 1 14 2 7 1-17 1-11 2 17 1-15 1 0 2 11 1 1 1-26 2 33 1-31 1 23 2-9 1-9 1-17 2 20 1-19 1 23 2-29 1 32 1-31 2 0 1 33 1-35 2 30 1-5 1 4 2 0 1-9 1-12 2-19 1 23 1 23 2-28 1 34 1-26 2 17 1 0 1 12 2-31 1 12 1 6 2 27 1-16 1 0 2-23 1-8 1 6 2-9 1 4 1 24 2-5 1 26 1-31 2 3 1 28 1-30 2 19 1 27 1-25 2-12 1 21 1-9 2-7 1 15 1 1 2 12 1-26 1-2 2-22 1 17 1 6 2 15 1 8 1-19 2 3 1-10 1 9 2 0 1-14 1 13 2 1 1 8 1-2 2 9 1-21 1 24 2-9 1-9 1 20 2 5 1-19 1-8 2-8 1 25 1-25 1 24 2 0 1-10 1 11 2 9 1-5 1-43 2 34 1 0 1 26 2-11 1-2 1-2 2-7 1 30 1-24 2-17 1-4 1 56 2-50 1 17 1 5 2-30 1-3 1 28 2-3 1 8 1-3 2-1 1 20 1-16 2-20 1 34 1-6 2 1 1 1 1 0 2-8 1 0 1 0 2 0 1-4 1-8 2 21 1 15 1-36 2 33 1-2 1-18 2 19 1-8 1-15 2 5 1-14 1 12 2 27 1-35 1 8 2 32 1-13 1-8 2-28 1 24 1 0 2-8 1 10 1 11 2-7 1-1 1-4 2 11 1-6 1-6 2 27 1 4 1-42 2 61 1-48 1 26 2-23 1-4 1 22 2-8 1-1 1 5 2-10 1-2 1 1 2 4 1-8 1-13 2 30 1-39 1 14 2 14 1-6 1 5 2 36 1-27 1 6 2-25 1-1 1-16 2 8 1 5 1-5 2 20 1-5 1-12 2-6 1 22 1 9 2-12 1-5 1 20 2 16 1-10 1-11 2-2 1 7 1-23 2 47 1-15 1-19 2-13 1 44 1-58 2 36 1 9" fill="none" stroke="#000" stroke-width="13" stroke-linejoin="round" />
<path transform="scale(.1)" d="M18552 1732l7 7 7 2 7 17 7 6 7 19 7 5 7 10 7-5 7 3 7 4 7 0 7 9 8 9 7-2 7 7 7-15 7 6 7 15 7-11 7 0 7 6 7 10 7-1 7-8 7-9 7 19 7-1 7 8 7-7 7-11 7 2 7 13 7-13 7 14 7-3 7 5 8-10 7 4 7-10 7 15 7 4 7-6 7-17 7 9 7 6 7 7 7-5 7-8 7 8 0 73-7-8-7 18-7-13-7-6-7 5-7-8-7 10-7 3-7 13-7-22-7 13-7-2-8-5-7-6-7 9-7-6-7-4-7-3-7 6-7-1-7 4-7-5-7 8-7-7-7 3-7 10-7-23-7-8-7 0-7 14-7-8-7-2-7-17-7 17-7 1-7 0-8-18-7 1-7-4-7 1-7-5-7-2-7 1-7-11-7-11-7-12-7-6-7-17-7-8z" fill="#8c8c8c" opacity="0.55"/>
<path transform="scale(.1)" d="M18552 1782l1-7 2-9 1 10 1-15 2-19 1 61 1-43 2 17 1 22 1-5 2 26 1-13 1-41 2 40 1 14 1-33 2-8 1 0 1 42 2-7 1-2 1-10 2 21 1-23 1 0 2 20 1-5 1-14 2 26 1-19 1 23 2-6 1 5 1 2 2-11 1 3 1 8 2 0 1-10 1 23 2-1 1-14 1-8 2 21 1-24 1 15 2-2 1-9 1 10 2 7 1-14 1 6 2 12 1 26 1-56 2 31 1-8 1-1 2 31 1-31 1-7 2 20 1-7 1-28 2 47 1 1 1-11 2 1 1 16 1-13 2 8 1-21 1-3 2-5 1-3 1 35 2 1 1-29 1 3 2-2 1 25 1-32 2 2 1 19 1-21 2 14 1-5 1 0 2 17 1-11 1 9 2-15 1 11 1-29 2 42 1-2 1 18 2 1 1-10 1-15 2 29 1-13 1-38 2-4 1 25 1-15 2 26 1-40 1 25 2-15 1 17 1 6 2 19 1-15 1-47 2 36 1 1 1 9 2 0 1-10 1 28 2 0 1-16 1 1 2 9 1-12 1-3 2 9 1-1 1-6 1 4 2 4 1-6 1 24 2-18 1-5 1-3 2-3 1 18 1-20 2 2 1 13 1 11 2-7 1 1 1-22 2 21 1-10 1 15 2-32 1 29 1-5 2-17 1 8 1 30 2-27 1-20 1 52 2-36 1 29 1-12 2 13 1-40 1-2 2 3 1-31 1 49 2-2 1-12 1 30 2-22 1 18 1-33 2 2 1 12 1 15 2 16 1-12 1-22 2 26 1-16 1 4 2-28 1 37 1-30 2 33 1-7 1-20 2 17 1 20 1-13 2-9 1 1 1-11 2 5 1 6 1-6 2 20 1-7 1 19 2-12 1-5 1 12 2-25 1-32 1 10 2 21 1-8 1 23 2-21 1 16 1-9 2 18 1-22 1-2 2-7 1 22 1 6 2-23 1 8 1-4 2-12 1 33 1-20 2 4 1-4 1-11 2-5 1-13 1 9 2-7 1 20 1 34 2-28 1 17 1-17 2-1 1 5 1-23 2 38 1 1 1-17 2-1 1-7 1 11 2-5 1-9 1 6 2 2 1 16 1 19 2-27 1-15 1 24 2-5 1-26 1 9 2 6 1 9" fill="none" stroke="#000" stroke-width="13" stroke-linejoin="round" />
<path transform="scale(.1)" d="M19075 1832l7 0 7 11 7 6 7-14 7 0 7 10 7 7 7-6 7-38 7 21 7 12 7-10 8 11 7-2 7 6 7-13 7-11 7 20 7-3 7-1 7-2 7-2 7-4 7 5 7 11 7-1 7-7 7 3 7-9 7 7 7 4 7 4 7 0 7-2 7-6 7-2 8-11 7 11 7 4 7-6 7 1 7 11 7-3 7-8 7 3 7-3 7-4 7 4 7-5 0 75-7 15-7-14-7 10-7-7-7-9-7 9-7 1-7 7-7-7-7-3-7-2-7 13-8-7-7-6-7 1-7 9-7 4-7-6-7 1-7-2-7-3-7-4-7 15-7 5-7-14-7 4-7-16-7 6-7 8-7-2-7 12-7-21-7 6-7 10-7-7-7 2-8-6-7 4-7-20-7 3-7 27-7 0-7-11-7-10-7 5-7 18-7-10-7-6-7-2z" fill="#8c8c8c" opacity="0.55"/>
<path transform="scale(.1)" d="M19075 1889l1-19 2 5 1 4 1 17 2-30 1 3 1 10 2-12 1-6 1 3 2 11 1 28 1 4 2-26 1 11 1-19 2 17 1-17 1-17 2 14 1 24 1-11 2-25 1 10 1 30 2-35 1 20 1-29 2 7 1-9 1 22 2 5 1 20 1 2 2-22 1 11 1-2 2-6 1 31 1-25 2-21 1-5 1 0 2-25 1 39 1-5 2-3 1-5 1 3 2 8 1-3 1-9 2 10 1-9 1-5 2 5 1 5 1-9 2 34 1-17 1 4 2-29 1 16 1-2 2 8 1 5 1-7 2 33 1-43 1 38 2-14 1-24 1 30 2-17 1 0 1 19 2-24 1 39 1-27 2 9 1-8 1-8 2 6 1-38 1 12 2-11 1 12 1 12 2 5 1-18 1 27 2-5 1 7 1-24 2 28 1-21 1 12 2 8 1-7 1-6 2-7 1 3 1 29 2-20 1-22 1-9 2 16 1-6 1-3 2 33 1-5 1-11 2 5 1-10 1 12 2 18 1-14 1 9 2-52 1 22 1 16 2 6 1-21 1 20 2 26 1-14 1-15 2 3 1 5 1 14 1-9 2-21 1 8 1-9 2 25 1-12 1 3 2-10 1-16 1 24 2-10 1 24 1-31 2 6 1-8 1 4 2-7 1 1 1 25 2-15 1-2 1-15 2 29 1-11 1 3 2 3 1 12 1 3 2-31 1 21 1 8 2-8 1 18 1-11 2-7 1 3 1 10 2-13 1 6 1-6 2 0 1 4 1-13 2-4 1 7 1 15 2-26 1 33 1-44 2 13 1-13 1-5 2 51 1-22 1-20 2-4 1 38 1-9 2-26 1 19 1-7 2 2 1-13 1 3 2 1 1 6 1 8 2-28 1 32 1 11 2-4 1-36 1 36 2-30 1 33 1-22 2 2 1 11 1-11 2-24 1 11 1-8 2 13 1-3 1 7 2 19 1-13 1-11 2 18 1-5 1-2 2-18 1 39 1-40 2 34 1-8 1-17 2 19 1-29 1 10 2-3 1 14 1 4 2-10 1 11 1-8 2-30 1 20 1 12 2-5 1-12 1 32 2 22 1-34 1-10 2-1 1 4 1 13 2-18 1-30 1 32 2-12 1 26 1-8 2-8 1-13 1 10 2 10 1-8" fill="none" stroke="#000" stroke-width="13" stroke-linejoin="round" />
<path transform="scale(.1)" d="M19595 1848l7-3 7-5 7-3 7 5 7-5 7 0 7-8 7 7 7-8 7-12 7 9 7-12 8 8 7 4 7 6 7-10 7-3 7-3 7-8 7 6 7 3 7-7 7 3 7 2 7 0 7 3 7-5 7 4 7-13 7 7 7-3 7 1 7 2 7-5 7 5 7-5 8 7 7-15 7-2 7 0 7-10 7 17 7 10 7-2 7-17 7-8 7-4 7 2 7 4 0 62-7 12-7 0-7-3-7 7-7 14-7 4-7 5-7-32-7 2-7 15-7 8-7 4-8-9-7 16-7-6-7-5-7 6-7-9-7-4-7 13-7 6-7-1-7-5-7-6-7 2-7 9-7 0-7-13-7 7-7-1-7-9-7 6-7 8-7 3-7-3-7-4-8-2-7 3-7 18-7 3-7 18-7-11-7 0-7-8-7 12-7-11-7 2-7 3-7 12z" fill="#8c8c8c" opacity="0.55"/>
<path transform="scale(.1)" d="M19595 1887l1-7 2-16 1 18 1-4 2-28 1 29 1-18 2-2 1 14 1 1 2 7 1 6 1-25 2-3 1 22 1-24 2 20 1 20 1-6 2-24 1 38 1-38 2 0 1-9 1 35 2-36 1-4 1 27 2-20 1 5 1 20 2-23 1 7 1 22 2-23 1 9 1-12 2 4 1 14 1 7 2-27 1-4 1 28 2-23 1 2 1 2 2-9 1 7 1-37 2 43 1-13 1 28 2-31 1 16 1 21 2-35 1-12 1 19 2-9 1 5 1-8 2 33 1-39 1 21 2-13 1-2 1 6 2-13 1 22 1-4 2-36 1 11 1 10 2 3 1-8 1 24 2 13 1-16 1 8 2-16 1 20 1-15 2 1 1-18 1 8 2 6 1 9 1-39 2 24 1-9 1 3 2-2 1 9 1-28 2-2 1 22 1-15 2 14 1 9 1-13 2-20 1 16 1 23 2-31 1 6 1 6 2-8 1 23 1-11 2-7 1 15 1 7 2-22 1-23 1 56 2-22 1 19 1-17 2 16 1-15 1 14 2-7 1 8 1-33 2 19 1-4 1 8 2-4 1 9 1-10 1 20 2-36 1 15 1 1 2-12 1 5 1-11 2 26 1-5 1 6 2 17 1-24 1 13 2-24 1 32 1-35 2-2 1 30 1-28 2 10 1-12 1 10 2 34 1-25 1-37 2 15 1 12 1-4 2-1 1-6 1 5 2 7 1-23 1 4 2 22 1-8 1 12 2-13 1 22 1-27 2-29 1 29 1 13 2 12 1 9 1-1 2-9 1 0 1-24 2 25 1-4 1 2 2-20 1 12 1-8 2-6 1-13 1 17 2 6 1-6 1-10 2 16 1-24 1 12 2 17 1-14 1 13 2-12 1-8 1 11 2-16 1 49 1-34 2-3 1 23 1-27 2 9 1-9 1-5 2-26 1 33 1 6 2-28 1-2 1 3 2 33 1-25 1 4 2-13 1 29 1-11 2 52 1-28 1-10 2 10 1-19 1 20 2-5 1-10 1 10 2 33 1-34 1-4 2-4 1-42 1 37 2-15 1 7 1 0 2-33 1 33 1-24 2 24 1-15 1 4 2-14 1 11 1-20 2 16 1 9 1-10 2-16 1 9 1 27 2-29 1 55 1-46 2-2 1 7" fill="none" stroke="#000" stroke-width="13" stroke-linejoin="round" />
<path transform="scale(.1)" d="M20122 1715l7-4 7 17 7 15 7 9 7 13 7 20 7 6 7 8 7 1 7-5 7-7 7-4 8 34 7 3 7-8 7 9 7-9 7-4 7 7 7-2 7 15 7-4 7-12 7 21 7 0 7 5 7-6 7-25 7 5 7 17 7 2 7 0 7-16 7 8 7 8 7 17 8-5 7-4 7-4 7 2 7-14 7 9 7 12 7 7 7-9 7 2 7-8 7-11 7 3 0 70-7 16-7-6-7 4-7-3-7 6-7-2-7-14-7 7-7 1-7 5-7-7-7 7-8 6-7-9-7-17-7-2-7 12-7-3-7 8-7-7-7-12-7 17-7 6-7-1-7-13-7 9-7-6-7-1-7-13-7-1-7 5-7-9-7 20-7-9-7 3-7-10-8-2-7-32-7 14-7-4-7 0-7-8-7 11-7-35-7-5-7-13-7-8-7-14-7-10z" fill="#8c8c8c" opacity="0.55"/>
<path transform="scale(.1)" d="M20122 1746l1 2 2 5 1 10 1-12 2 8 1-2 1 7 2-6 1-3 1-1 2 17 1 19 1-23 2 8 1-1 1 22 2 6 1 9 1-9 2-7 1 25 1-10 2-11 1 9 1 5 2-38 1 17 1 19 2-3 1-2 1 21 2 21 1-47 1 21 2 7 1-34 1 20 2 14 1-13 1 11 2 16 1-54 1 58 2-11 1-7 1-29 2 7 1 21 1-4 2-34 1 10 1 37 2-10 1 7 1 1 2-15 1-22 1 33 2 24 1-9 1 7 2-16 1-6 1 32 2 12 1-36 1 6 2 16 1-6 1 5 2-14 1-4 1 50 2-17 1-27 1 6 2 19 1-7 1-1 2 4 1-2 1 6 2 3 1-16 1 4 2-15 1 19 1 18 2-35 1 13 1-18 2 3 1 18 1 6 2-29 1 28 1-25 2-7 1 22 1 3 2-7 1 1 1-6 2 20 1-12 1 2 2-15 1 1 1 26 2-18 1 21 1-1 2-20 1 42 1-32 2-8 1-1 1-10 2 9 1 5 1-5 2 5 1 2 1-6 2-6 1-15 1 20 2 1 1 13 1 6 1 8 2-6 1-15 1 0 2 14 1 16 1-21 2-4 1 4 1-14 2-8 1-4 1 10 2-25 1 28 1 1 2-3 1 14 1-18 2-2 1 16 1 1 2 28 1-57 1 35 2-10 1-13 1 21 2-14 1-1 1 17 2-16 1-8 1 12 2-9 1 7 1-10 2 14 1 6 1 5 2-10 1-22 1 4 2 21 1-15 1 16 2-4 1 8 1 12 2-7 1-2 1-2 2-18 1 16 1 11 2-20 1 9 1 23 2-27 1 16 1-4 2 3 1 3 1-10 2 5 1 15 1-35 2 6 1 28 1-22 2 16 1-23 1 28 2-38 1 32 1-22 2-3 1-15 1 22 2 6 1-6 1-16 2 14 1-4 1-25 2 18 1 16 1-17 2 11 1 1 1-4 2 25 1-21 1 3 2-13 1 0 1 40 2-16 1 1 1-10 2 10 1-15 1 44 2-36 1 2 1-2 2-15 1 33 1-4 2-9 1-13 1-2 2 21 1-8 1-2 2 16 1-40 1 5 2 0 1 31 1-14 2 3 1-14 1 31 2-33 1 8 1-18 2 18 1-12" fill="none" stroke="#000" stroke-width="13" stroke-linejoin="round" />
<path transform="scale(.1)" d="M20650 1836l7-4 7-12 7 14 7 5 7-1 7-7 7 4 7 3 7 1 7 1 7 2 7-6 8-4 7-1 7 3 7 4 7-2 7-7 7 2 7 2 7 12 7-14 7 12 7 3 7-10 7 14 7-4 7-11 7-2 7 4 7 5 7-4 7 3 7-18 7 11 7 1 8-7 7 17 7-8 7 0 7 1 7 6 7-6 7 1 7-1 7 2 7-5 7-3 7 2 0 79-7-12-7 7-7-4-7 12-7 9-7-12-7-1-7-6-7 2-7 10-7-5-7-11-8 0-7 4-7-1-7 1-7 15-7 0-7-5-7-7-7 3-7 8-7-4-7-3-7 1-7 6-7-11-7-3-7 17-7-23-7 8-7 5-7 1-7-9-7 0-7-5-8 6-7 2-7-2-7 1-7 0-7-3-7-5-7 6-7 3-7-1-7 3-7-5-7-2z" fill="#8c8c8c" opacity="0.55"/>
<path transform="scale(.1)" d="M20650 1877l1-25 2 1 1 25 1-21 2 7 1 31 1-42 2 19 1-10 1 8 2-5 1-3 1-4 2 18 1 17 1-20 2-7 1 3 1 11 2-20 1-18 1 59 2-17 1-10 1-12 2-5 1-1 1-7 2-2 1 20 1 6 2 21 1-37 1-1 2 17 1-14 1 16 2-7 1 15 1-40 2 7 1 44 1-24 2 6 1-4 1-10 2 18 1-13 1 12 2-37 1 39 1 8 2-24 1 25 1-3 2-4 1-6 1-4 2 1 1 4 1-17 2 12 1-16 1 3 2 2 1 27 1-9 2-20 1 9 1 16 2-25 1 2 1 6 2 9 1-17 1 13 2 5 1-12 1 14 2-19 1 13 1-7 2 27 1-11 1 4 2 7 1-38 1 24 2-10 1 23 1-8 2-32 1-3 1 23 2-8 1 28 1-36 2-5 1-1 1 9 2 12 1 7 1 0 2 3 1-22 1-6 2 42 1-14 1 1 2-1 1-16 1-3 2 8 1 12 1-9 2 17 1-1 1-18 2-3 1 13 1-11 2-6 1-10 1 23 2 4 1-4 1-6 2 18 1-12 1-6 1 20 2-22 1 16 1-21 2 26 1 2 1-29 2 30 1 2 1-25 2 28 1-17 1-11 2 22 1-7 1-10 2-12 1 20 1 6 2-12 1-5 1-15 2 28 1-9 1 14 2-24 1 15 1-22 2 4 1 15 1 22 2-25 1-6 1 32 2-14 1 10 1 8 2-7 1-28 1 36 2-36 1 25 1-18 2-7 1 11 1 15 2 11 1-51 1 31 2-6 1 4 1-38 2 12 1 26 1 4 2-16 1 4 1-13 2 17 1-20 1 7 2 22 1-22 1-17 2 16 1 9 1-37 2 42 1 8 1-16 2 12 1-13 1 17 2-30 1 21 1-13 2 21 1-8 1 6 2-3 1-20 1-1 2 36 1-12 1-28 2 26 1-17 1 6 2-6 1 21 1-18 2 3 1 10 1-5 2-16 1 5 1-9 2-16 1 43 1 3 2 5 1-14 1-1 2 30 1-39 1 11 2 11 1-11 1 30 2-20 1-12 1-13 2 5 1 13 1 0 2-14 1-15 1 20 2 7 1 3 1-18 2 33 1-17 1-5 2-17 1 14 1-12 2-3 1 27" fill="none" stroke="#000" stroke-width="13" stroke-linejoin="round" />
<path transform="scale(.1)" d="M21182 1838l7-1 7-5 7 16 7-13 7 9 7-8 7 7 7-3 7-9 7 6 7 5 7-4 8-11 7 8 7 6 7-1 7 3 7-2 7-11 7 3 7 1 7 9 7-17 7 17 7-8 7-15 7 16 7-8 7-2 7 14 7-2 7 3 7-15 7 1 7 12 7-4 8-7 7 8 7 4 7-3 7-2 7 4 7 0 7-7 7 13 7 0 7 3 7-7 7-18 0 83-7 3-7 11-7 4-7-10-7 6-7-13-7-3-7-3-7 13-7-5-7-4-7-3-8-3-7 17-7-6-7-9-7 3-7 8-7-6-7 3-7-15-7 9-7-6-7 9-7 7-7 1-7-2-7 10-7-19-7 21-7-17-7-1-7 9-7-11-7 0-7 8-8 5-7-1-7 2-7-13-7 1-7 6-7 4-7 0-7 5-7-3-7-2-7-6-7-2z" fill="#8c8c8c" opacity="0.55"/>
<path transform="scale(.1)" d="M21182 1879l1-9 2-6 1 20 1-25 2-19 1 41 1 7 2-22 1-1 1 7 2 24 1-6 1-12 2-12 1-10 1 18 2-2 1 6 1-14 2 22 1 0 1-21 2 43 1-39 1 0 2 27 1-2 1-6 2-14 1-15 1 29 2-32 1 17 1 4 2 9 1-33 1 12 2 15 1-4 1-14 2 29 1-33 1 16 2 5 1-24 1 24 2 0 1-29 1 6 2 47 1-29 1-16 2 41 1-20 1-3 2-5 1 28 1-16 2 6 1-31 1 23 2-9 1-1 1 0 2 9 1-21 1 25 2-22 1 2 1-7 2 30 1-21 1 1 2-14 1-1 1 16 2-10 1-11 1 45 2-11 1-16 1-1 2 2 1 2 1-3 2 13 1 10 1-29 2 14 1 7 1-16 2-16 1 24 1 8 2-12 1 18 1-1 2-15 1 1 1 1 2 0 1-13 1 9 2 14 1-31 1 31 2-26 1-7 1 15 2 13 1 35 1-37 2-9 1 0 1 13 2-26 1 8 1 7 2-14 1 36 1-30 2 21 1-13 1 19 2-5 1-16 1-1 2 14 1 2 1 14 1-9 2-27 1 0 1 5 2 15 1-2 1-34 2 2 1 3 1 39 2-34 1 23 1-22 2 20 1 5 1-16 2 17 1-26 1 9 2 5 1-3 1-13 2 8 1 3 1 13 2-21 1 12 1 2 2-10 1 11 1 0 2 6 1-8 1 1 2-12 1 7 1 16 2-7 1-5 1 19 2-10 1-13 1-17 2 42 1-31 1 4 2 13 1 10 1-16 2 5 1-11 1-17 2 9 1 28 1-16 2-10 1 31 1-14 2 9 1-25 1 2 2 14 1-13 1 16 2-7 1 1 1-1 2 5 1-24 1 25 2-8 1 1 1-3 2 16 1-12 1 1 2 0 1-20 1 16 2 2 1-4 1 7 2-10 1 17 1 6 2-19 1 17 1-30 2 17 1-33 1 29 2 8 1-4 1 26 2-46 1 65 1-32 2 9 1-20 1 15 2 11 1-8 1-10 2-17 1 29 1-29 2 18 1-17 1 16 2 1 1-17 1 31 2-4 1-19 1 17 2-7 1 23 1-34 2 3 1 13 1-37 2 8 1 42 1-33 2-12 1 14 1-21 2 2 1 50" fill="none" stroke="#000" stroke-width="13" stroke-linejoin="round" />
<path transform="scale(.1)" d="M17500 2451l7 18 7-6 7 23 7-7 7-1 7 3 7 10 7 2 7-15 7-6 7 32 7-13 8-13 7 0 7-16 7 0 7 12 7 3 7 18 7-38 7 29 7-23 7 7 7-5 7-9 7 27 7 6 7 19 7-17 7-10 7-7 7-2 7 15 7-5 7-20 7 34 8-1 7-16 7-7 7-8 7-3 7 19 7 18 7-6 7-11 7-6 7 21 7-2 7-1 0 101-7 2-7 7-7-13-7 17-7-3-7 4-7-3-7-22-7-17-7 33-7 18-7-18-8 2-7-5-7 5-7-4-7-8-7-9-7 5-7 27-7 8-7-25-7-2-7-12-7-6-7 15-7-16-7 26-7 2-7-4-7 0-7 10-7-10-7-1-7-9-7-1-8 20-7-1-7 4-7-28-7 21-7 8-7-20-7-3-7 22-7-21-7-12-7 19-7-13z" fill="#8c8c8c" opacity="0.55"/>
<path transform="scale(.1)" d="M17500 2563l1 16 2-58 1 11 1 6 2 3 1-35 1 12 2-32 1 50 1-10 2-33 1 6 1 17 2 20 1 18 1-23 2-29 1 13 1 18 2-8 1-16 1 23 2-31 1 29 1-7 2-24 1 56 1-10 2-17 1-3 1 24 2-13 1 27 1 1 2-12 1-46 1 44 2-64 1 44 1 6 2-35 1 34 1 11 2 0 1 21 1-80 2 25 1 32 1-42 2-1 1-9 1-3 2 28 1 4 1 17 2 0 1-12 1 57 2-36 1-54 1 74 2-33 1 59 1-51 2 24 1-18 1 8 2 6 1-67 1 46 2-26 1-21 1 10 2-12 1 31 1-23 2 57 1-44 1-41 2 65 1-16 1 76 2-50 1 46 1-19 2-11 1-39 1 60 2-68 1 6 1-3 2 19 1 55 1 3 2-8 1-50 1-8 2 78 1-80 1 33 2 18 1-19 1-22 2-31 1 1 1 49 2 22 1-52 1-1 2-25 1 9 1 35 2 4 1-14 1 50 2-76 1 42 1-16 2-59 1 31 1 37 2-45 1 58 1-32 2 42 1-19 1-5 2 5 1-19 1 49 1-15 2-13 1-4 1-45 2 28 1 74 1-32 2-30 1-52 1 72 2-52 1 10 1 5 2 110 1-64 1 7 2-38 1 65 1-64 2 11 1-31 1 26 2 32 1-59 1 39 2 23 1-34 1 15 2-22 1 20 1-54 2 28 1 8 1-9 2 20 1-57 1 78 2-65 1 23 1 7 2-65 1 53 1-31 2 84 1-5 1-49 2-25 1 65 1-35 2 4 1-26 1-5 2 50 1 1 1 33 2-29 1-35 1 77 2-102 1 46 1 36 2-58 1 20 1 48 2-21 1-53 1 30 2-32 1 42 1-33 2 20 1 30 1-38 2-16 1 26 1-47 2 25 1 16 1-37 2 12 1-6 1 49 2-47 1 17 1-6 2 28 1-59 1 2 2 54 1-19 1-2 2-4 1 33 1-27 2-53 1 79 1-15 2 38 1-6 1-15 2 21 1-1 1-76 2 65 1-24 1 18 2-8 1 55 1-77 2 31 1-50 1 5 2 39 1 28 1-49 2 29 1 11 1-15 2-17 1 46 1-52 2 5 1-1 1 0 2 56 1-33 1-23 2 20 1 3" fill="none" stroke="#000" stroke-width="13" stroke-linejoin="round" />
<path transform="scale(.1)" d="M18026 2500l7-51 7-37 7-4 7-28 7-19 7-1 7-11 7 0 7 3 7 6 7-7 7-3 8-10 7 5 7 0 7 13 7 13 7-2 7-10 7 6 7 7 7 9 7 6 7-2 7-5 7 10 7-2 7 20 7-6 7 24 7-21 7 37 7-12 7 6 7-26 7 26 8-12 7-6 7-2 7 9 7-6 7-17 7 46 7-6 7-2 7-32 7 20 7 7 7 16 0 116-7-19-7-9-7-1-7 12-7-3-7 12-7-19-7-3-7 7-7-8-7-4-7 7-8 2-7-14-7 32-7-21-7 8-7 9-7-21-7-7-7-14-7-13-7 6-7-2-7-3-7 2-7-12-7-14-7 1-7-4-7-5-7 10-7-14-7-11-7-8-7 4-8 7-7-2-7 9-7 9-7 16-7-13-7-11-7 17-7 26-7 16-7 19-7 17-7 46z" fill="#8c8c8c" opacity="0.55"/>
<path transform="scale(.1)" d="M18026 2568l1-28 2 38 1-47 1-42 2 21 1 33 1-46 2-46 1 40 1 61 2-82 1 35 1-55 2 32 1 24 1-69 2-17 1 13 1 4 2 29 1-46 1 7 2-9 1 2 1-1 2 21 1-3 1-2 2 6 1 4 1-60 2-4 1 38 1-10 2 1 1 15 1-39 2 37 1-60 1-13 2 103 1-6 1 16 2-52 1 22 1-21 2 73 1-51 1-40 2 33 1-28 1-2 2 10 1-39 1-11 2 36 1 26 1-87 2 39 1 19 1 40 2-58 1 43 1 22 2-41 1 21 1-21 2 14 1-17 1-9 2 65 1-58 1 48 2-72 1 15 1 25 2-29 1 13 1 44 2-16 1-5 1-29 2 10 1 0 1 41 2 14 1-37 1-24 2 73 1-15 1-50 2-9 1 8 1 29 2 13 1-59 1 46 2 32 1-64 1 3 2 4 1 30 1-18 2-34 1 80 1-40 2-57 1 64 1 18 2 11 1-52 1-17 2 53 1-9 1-19 2 21 1-8 1-11 2 39 1-21 1 36 2-8 1-36 1-37 2 40 1 26 1-39 2 34 1 32 1-33 1-8 2-37 1 68 1-48 2 7 1 33 1 22 2-50 1-16 1 30 2-36 1-7 1-2 2 57 1 20 1-40 2 29 1 64 1-60 2 16 1-43 1 2 2 29 1 12 1-43 2 43 1-23 1-5 2 12 1 19 1-66 2 91 1-9 1-27 2-12 1 43 1-19 2 12 1 5 1-47 2 61 1-74 1 31 2-6 1 29 1 39 2-45 1-6 1 17 2-2 1-17 1-78 2 88 1-20 1-8 2 11 1 54 1-69 2 4 1-6 1 27 2-9 1-19 1 73 2-53 1 70 1-48 2-33 1-3 1 37 2-37 1 54 1-51 2 13 1 5 1-10 2-31 1-26 1 71 2 27 1-49 1 5 2-4 1-13 1 25 2-35 1 46 1-29 2 4 1 41 1-6 2-37 1 9 1-7 2 2 1-6 1 30 2-8 1 7 1-10 2 16 1-21 1 21 2-1 1-42 1-4 2 68 1-73 1 26 2-22 1 14 1-14 2 44 1-45 1 76 2 24 1-68 1-21 2 32 1-42 1 13 2 12 1 6 1 14 2 9 1-11 1 50 2-25 1 16" fill="none" stroke="#000" stroke-width="13" stroke-linejoin="round" />
<path transform="scale(.1)" d="M18552 2397l7-6 7 16 7 4 7 3 7 19 7 7 7-11 7 15 7-2 7 3 7-21 7 29 8 0 7-19 7-2 7 33 7-4 7 3 7 9 7-10 7 11 7-6 7 3 7-16 7 11 7 6 7-9 7 21 7-4 7 2 7 12 7-28 7 13 7 3 7-9 7-12 8-4 7 35 7 4 7-12 7 2 7-4 7 0 7-8 7 18 7-19 7 7 7 6 7-5 0 115-7 5-7-14-7 5-7 2-7-12-7 8-7-9-7 12-7 14-7-6-7 10-7-12-8-9-7-6-7 7-7 5-7 1-7 23-7-20-7-2-7-9-7-6-7 11-7-17-7 2-7-5-7 15-7 7-7-14-7-2-7-3-7 9-7-13-7-18-7-7-7 7-8 9-7 0-7-10-7 7-7-16-7 13-7 8-7-9-7-16-7-17-7-9-7-15-7 18z" fill="#8c8c8c" opacity="0.55"/>
<path transform="scale(.1)" d="M18552 2445l1-36 2 65 1-29 1 24 2-60 1 46 1-42 2 57 1 8 1-36 2-3 1 45 1-51 2 51 1-23 1 30 2 21 1-21 1-34 2 13 1 50 1-43 2 22 1-1 1-47 2 62 1-37 1 56 2-58 1-7 1 59 2-44 1-2 1 57 2-7 1-29 1 3 2-18 1-8 1-16 2 36 1 1 1 5 2-75 1 15 1 68 2-2 1-16 1-16 2 47 1-41 1 17 2-50 1 24 1 63 2-17 1-31 1 31 2 20 1-47 1 44 2-28 1-2 1-33 2 33 1-70 1 41 2 6 1 2 1 7 2 12 1-16 1-16 2 56 1-43 1-48 2 49 1-1 1 22 2-9 1 43 1-15 2-23 1 22 1 8 2-75 1 21 1 12 2 65 1-40 1 38 2-28 1-16 1 6 2-9 1 0 1 35 2-2 1-19 1-5 2 40 1 22 1-45 2-2 1-29 1 12 2 32 1-45 1-41 2 36 1 5 1-1 2 46 1-29 1-10 2-2 1-23 1 21 2 31 1 7 1-13 2-50 1 58 1-83 2 85 1 17 1-92 2 98 1-32 1 9 1-40 2 9 1-28 1 49 2-9 1-5 1 46 2-16 1 23 1 3 2-80 1 34 1 22 2-32 1 60 1-62 2 15 1 8 1 3 2 3 1-22 1-10 2-6 1 18 1-6 2-18 1-13 1 77 2-49 1-31 1 45 2-20 1 75 1-85 2 73 1 13 1-48 2 35 1-56 1 41 2 49 1-59 1-13 2 6 1 4 1-10 2 29 1-14 1 26 2-18 1-52 1 5 2 50 1-40 1 23 2 24 1-36 1 51 2-72 1 22 1 43 2-76 1 48 1-20 2 26 1 11 1-5 2 16 1-62 1 48 2 13 1-11 1-13 2 63 1-91 1-3 2 50 1-31 1 19 2-30 1 17 1-12 2 8 1-11 1 30 2-19 1-12 1 20 2-32 1 18 1 31 2-6 1-68 1 22 2 7 1 12 1 22 2 12 1-52 1 59 2-5 1-22 1-28 2 44 1-11 1-13 2 44 1-23 1 48 2-132 1 73 1-3 2 3 1-19 1-13 2 11 1 48 1-57 2-2 1 41 1-5 2-67 1 23 1 28 2-22 1 19 1 8 2-15 1-35" fill="none" stroke="#000" stroke-width="13" stroke-linejoin="round" />
<path transform="scale(.1)" d="M19075 2495l7 3 7-3 7-9 7 4 7 2 7-15 7-8 7 10 7-4 7 2 7-25 7 13 8 13 7 23 7-10 7-9 7 3 7-1 7-5 7 14 7-24 7 12 7-7 7 30 7-9 7 3 7-13 7 12 7-19 7-3 7 1 7 0 7 14 7-8 7 14 7-28 8 13 7 3 7-15 7-14 7-1 7 27 7-6 7-7 7 5 7 2 7-12 7-21 7 40 0 106-7-9-7 4-7 5-7-1-7 2-7-11-7 18-7-19-7-3-7 1-7 25-7 3-8 6-7-8-7-13-7 7-7-3-7 6-7 11-7-11-7 8-7 2-7-7-7 6-7 13-7-27-7-2-7 17-7 2-7-10-7-8-7 15-7-14-7 12-7 3-7-14-8 2-7-34-7 15-7 11-7 2-7 0-7 0-7 12-7 7-7-2-7-6-7 9-7 0z" fill="#8c8c8c" opacity="0.55"/>
<path transform="scale(.1)" d="M19075 2543l1 15 2-11 1-42 1 26 2 29 1 28 1-78 2 44 1-7 1-28 2 2 1 34 1-25 2-17 1 75 1-42 2-3 1 47 1-33 2-49 1 26 1 43 2-44 1-9 1 37 2 25 1-35 1 10 2-13 1 27 1-47 2-6 1-14 1 68 2-64 1 26 1-40 2 49 1-5 1-13 2 43 1-25 1-18 2 2 1-18 1-11 2 92 1-77 1 8 2 32 1-29 1 8 2-68 1 65 1-13 2-33 1 31 1-35 2 66 1-68 1 56 2-10 1 35 1 35 2-77 1 13 1 36 2-47 1-7 1 30 2 10 1 4 1-20 2-1 1 26 1 24 2 3 1-11 1-59 2 19 1 3 1-10 2-5 1 9 1 7 2 60 1-55 1 18 2-69 1 47 1 48 2-52 1-13 1 36 2-77 1 3 1 71 2-8 1-6 1 11 2-24 1 5 1 2 2-12 1 54 1-24 2 2 1 40 1-94 2-8 1 31 1 1 2 17 1-30 1-19 2 31 1 5 1-63 2 24 1 37 1-2 2 8 1 21 1-18 2 5 1 51 1-56 2 37 1-19 1 9 1-46 2 40 1-27 1 40 2-14 1-47 1 33 2-7 1 49 1-42 2-15 1-10 1 77 2-55 1-14 1 6 2 37 1-12 1-23 2 44 1-35 1 17 2-90 1 104 1-36 2 12 1-3 1-17 2-8 1-18 1 54 2 12 1-26 1 18 2-38 1-20 1 40 2-12 1 11 1-7 2-10 1-52 1 108 2-87 1 78 1-28 2-27 1 25 1-5 2 11 1-2 1-17 2-20 1 41 1-15 2 12 1-26 1 4 2 77 1-49 1-62 2-12 1 80 1-79 2 46 1 52 1-38 2-46 1-1 1 34 2 13 1 21 1-36 2 39 1-51 1 7 2-8 1-36 1 57 2 28 1-10 1-57 2 59 1-56 1 39 2-53 1 45 1 24 2-64 1 10 1 61 2-32 1 8 1-50 2 33 1-32 1 23 2 56 1-44 1 13 2-26 1 18 1-27 2 58 1-44 1 17 2 17 1-56 1 55 2-30 1 17 1-30 2-17 1 16 1 56 2-40 1-42 1-9 2 45 1 57 1-50 2 35 1-16 1-28 2-20 1 51 1 7 2-21 1-31" fill="none" stroke="#000" stroke-width="13" stroke-linejoin="round" />
<path transform="scale(.1)" d="M19595 2502l7-20 7-3 7-9 7 22 7-12 7-6 7 6 7-22 7 2 7-8 7 16 7-4 8 0 7 11 7-3 7-12 7 6 7 15 7 12 7 1 7-27 7-23 7 23 7 6 7-1 7-7 7-9 7 5 7 18 7 6 7-23 7 21 7-2 7-3 7 0 7 20 8-17 7 17 7-8 7 2 7-4 7-16 7 10 7-16 7 6 7-10 7 5 7 11 7 6 0 107-7-7-7-2-7-3-7 14-7-3-7 11-7-14-7 9-7-3-7 3-7 28-7-28-8 5-7 14-7-18-7-3-7 9-7-26-7 11-7 3-7-10-7-14-7 20-7 10-7-19-7-1-7-1-7 4-7 15-7 7-7-7-7-16-7-6-7 0-7 17-7-8-8 0-7-2-7-15-7 6-7 2-7 17-7 11-7-11-7 22-7-36-7 17-7 23-7-6z" fill="#8c8c8c" opacity="0.55"/>
<path transform="scale(.1)" d="M19595 2536l1 24 2 17 1-62 1 32 2 17 1-34 1 27 2-4 1-79 1 58 2-2 1 44 1-22 2 6 1-71 1 13 2 42 1-8 1 7 2 45 1-38 1-6 2-47 1 31 1 11 2-10 1-27 1 73 2-18 1-18 1 22 2-28 1 19 1-113 2 128 1-14 1 8 2-55 1 67 1-83 2 48 1 11 1-24 2 43 1-45 1-14 2-16 1 59 1-25 2-19 1 26 1-47 2 24 1 55 1-46 2 49 1-36 1 18 2-26 1-5 1-45 2 79 1-46 1-13 2 88 1-66 1-24 2 22 1-29 1 3 2 76 1-49 1-15 2 44 1-95 1 80 2-22 1 17 1-30 2 51 1 3 1-55 2 77 1-60 1 16 2-6 1-22 1-10 2 12 1 13 1 5 2 37 1-50 1 69 2-19 1-27 1 17 2-16 1 46 1-11 2-78 1 83 1-16 2 65 1-80 1 6 2 23 1-56 1-15 2 35 1-50 1 19 2 23 1 37 1-35 2-17 1 1 1 47 2-28 1 17 1-22 2-32 1 90 1-25 2-58 1 61 1-61 2-5 1 14 1-2 1 47 2-3 1-8 1-17 2 14 1-22 1 15 2 4 1-47 1 53 2-21 1 38 1-80 2 38 1 3 1 66 2-41 1-49 1 57 2-1 1-15 1-42 2 44 1-9 1-62 2 84 1-49 1 67 2-13 1-42 1 23 2 11 1-18 1 2 2 29 1-92 1 74 2-28 1 43 1-35 2 29 1-82 1 86 2-19 1-4 1 10 2-25 1 7 1 32 2 10 1-17 1-12 2 41 1-34 1-8 2-1 1 7 1 3 2 3 1-14 1-10 2 16 1 19 1-23 2-55 1 80 1-46 2-3 1 22 1-52 2 79 1-26 1 12 2 1 1 19 1-45 2 8 1-44 1 70 2 10 1-24 1-14 2-10 1 40 1 32 2-35 1 12 1-27 2 21 1-69 1 68 2-30 1-4 1 29 2-4 1 24 1-3 2-75 1 25 1 19 2-22 1 25 1-5 2-61 1 44 1 3 2 6 1-5 1-12 2-31 1-1 1-21 2 97 1-16 1-23 2 43 1-61 1 17 2-4 1 12 1-39 2 50 1-34 1 39 2 6 1-3 1-6 2-9 1-10" fill="none" stroke="#000" stroke-width="13" stroke-linejoin="round" />
<path transform="scale(.1)" d="M20122 2506l7-14 7-16 7-7 7-5 7 5 7 6 7 8 7 2 7-2 7 20 7-7 7-14 8-19 7 9 7 9 7-7 7-4 7-4 7 3 7-19 7 37 7-7 7-4 7-6 7-19 7 19 7-13 7 8 7-12 7-4 7 16 7 33 7 10 7-7 7-10 7-9 8-25 7 32 7-8 7 19 7-6 7-3 7-5 7-28 7 21 7-7 7 13 7-15 7 0 0 109-7 14-7-8-7-3-7 6-7-9-7 20-7 6-7-1-7 16-7-18-7 0-7-19-8 3-7 13-7 24-7-6-7-8-7-25-7-3-7-8-7-4-7 17-7-9-7-9-7 11-7 4-7-3-7 11-7-2-7-14-7 11-7 8-7-1-7 1-7-14-7-3-8 5-7 18-7 7-7-7-7-3-7 3-7-6-7-14-7 18-7-15-7-6-7 18-7 22z" fill="#8c8c8c" opacity="0.55"/>
<path transform="scale(.1)" d="M20122 2579l1-21 2-25 1 33 1-68 2 43 1 4 1-38 2 15 1 35 1-66 2 45 1-59 1 26 2-18 1 15 1 34 2 15 1-35 1-16 2 83 1-99 1 106 2-45 1-68 1 48 2 12 1-15 1-49 2 68 1-16 1 17 2-43 1 25 1 30 2 27 1-98 1 64 2-31 1 35 1 1 2-12 1 3 1 21 2-48 1 4 1 37 2 7 1-20 1 29 2-3 1 1 1 46 2-17 1-61 1 55 2-5 1 7 1-26 2 6 1-53 1 18 2 6 1-13 1 16 2 36 1-48 1 4 2-65 1 49 1 24 2-26 1-1 1-4 2 13 1-14 1-63 2 57 1 55 1-86 2 43 1 26 1-4 2-4 1-16 1 62 2-38 1 10 1-73 2 62 1 8 1-61 2-37 1 17 1 20 2 7 1 44 1-25 2 22 1-14 1 13 2 24 1-40 1 9 2 19 1 10 1-18 2 32 1 16 1-64 2 7 1-1 1-49 2 42 1-27 1 89 2-129 1 79 1-67 2 31 1 43 1-2 2-68 1 98 1-68 2 38 1-46 1-3 2 43 1 11 1-69 1 47 2-24 1 30 1 28 2-67 1 51 1 1 2-64 1 20 1 21 2-22 1 21 1 51 2-24 1-33 1-2 2-6 1-22 1 23 2-42 1 22 1 0 2 25 1 16 1-8 2 22 1-17 1 7 2-39 1 17 1-30 2 7 1 52 1-44 2 44 1-82 1 71 2 50 1 25 1-51 2 23 1-23 1-26 2 15 1 12 1-9 2 15 1 8 1-12 2 45 1-20 1-18 2-11 1 45 1-66 2 34 1 12 1-2 2-55 1 29 1-21 2-13 1 9 1-12 2 33 1-26 1 39 2-89 1 58 1 1 2-1 1 38 1-33 2 15 1-44 1 14 2 49 1-14 1 26 2-1 1-12 1-24 2-13 1 39 1-88 2 142 1 0 1-47 2-35 1 8 1 0 2 3 1-24 1-3 2 1 1-45 1 84 2-15 1 34 1-88 2 72 1-4 1-1 2-74 1 39 1 15 2 3 1 16 1-39 2 66 1-26 1-59 2 1 1 60 1-15 2-62 1 17 1 39 2 13 1-26 1 16 2-59 1 69 1-9 2-28 1 9 1 4 2-20 1 25" fill="none" stroke="#000" stroke-width="13" stroke-linejoin="round" />
<path transform="scale(.1)" d="M20650 2485l7-21 7 5 7-7 7-2 7 17 7 13 7-1 7 2 7 1 7 3 7 15 7-24 8 10 7-7 7-29 7 0 7 7 7 5 7 9 7 1 7-6 7 5 7 23 7-15 7 2 7-31 7-2 7 12 7 5 7-7 7 20 7-6 7 4 7-10 7-9 7 4 8-4 7 3 7 7 7-4 7 8 7 1 7-5 7-9 7-14 7 13 7 25 7-1 7-6 0 114-7 7-7 3-7-23-7-11-7 14-7-7-7 8-7 5-7-2-7-6-7-18-7-2-8 4-7 18-7-11-7 18-7-1-7 7-7-17-7 0-7 7-7-20-7 1-7 19-7 2-7 9-7-8-7-4-7-3-7 24-7-12-7-15-7-19-7 18-7 11-7 15-8-6-7 21-7-20-7 0-7 2-7-2-7-5-7-15-7-6-7 6-7-7-7 8-7 3z" fill="#8c8c8c" opacity="0.55"/>
<path transform="scale(.1)" d="M20650 2563l1 5 2-19 1-14 1-20 2 54 1-79 1 21 2 43 1-41 1-15 2-9 1-18 1 105 2-34 1-29 1 17 2-48 1 22 1-10 2 31 1 56 1-48 2 12 1 3 1-102 2 120 1-31 1-4 2 3 1-5 1-8 2 17 1 12 1 11 2 0 1-22 1 49 2-35 1 2 1 9 2-13 1 4 1 2 2-1 1-4 1 15 2-46 1 63 1-27 2 16 1-27 1-69 2 121 1-82 1 17 2-12 1 68 1-61 2 1 1 33 1-29 2 68 1-71 1-24 2 70 1-62 1 7 2 35 1 19 1 24 2-20 1-21 1-43 2 37 1-38 1 28 2 2 1-19 1-23 2 19 1-16 1 19 2 8 1-32 1-3 2 65 1-42 1-18 2 38 1 24 1-20 2 70 1-80 1-5 2-8 1 13 1-3 2-8 1 26 1-6 2 34 1-73 1 49 2-28 1 41 1-25 2 3 1-36 1-2 2 41 1 51 1-49 2 45 1-81 1 66 2-55 1 23 1 24 2 19 1-39 1 49 2-91 1 39 1 73 2-10 1-89 1 29 2 15 1-31 1-10 1 62 2-68 1 6 1 6 2 10 1 3 1 42 2-82 1 13 1-14 2-22 1 70 1-35 2 14 1-8 1 2 2 33 1 5 1-36 2-9 1 72 1-44 2-51 1-10 1 104 2-73 1 27 1 8 2-30 1 38 1-58 2 12 1 92 1-64 2-38 1 30 1 64 2-24 1 9 1-37 2-30 1 23 1-28 2 10 1 2 1-52 2 66 1 24 1-54 2 17 1 49 1-17 2 2 1-29 1 13 2 20 1-1 1-6 2-71 1 78 1-12 2-33 1 27 1-19 2 5 1-42 1 30 2 21 1 52 1-84 2 29 1-44 1 20 2 18 1-21 1 12 2 59 1-44 1-3 2 14 1 8 1-17 2-3 1 3 1 0 2 12 1-18 1 11 2 36 1-31 1-39 2 60 1-45 1 9 2-4 1 26 1-21 2 19 1-67 1 62 2-18 1 2 1 51 2 17 1-90 1 34 2-47 1 57 1-46 2 33 1-29 1 46 2-49 1 30 1-11 2 41 1-22 1 1 2-40 1 41 1 4 2 15 1 0 1-14 2-1 1 14 1 4 2-7 1-50" fill="none" stroke="#000" stroke-width="13" stroke-linejoin="round" />
<path transform="scale(.1)" d="M21182 2448l7 15 7-2 7 20 7 11 7-32 7 25 7 17 7-4 7-9 7-16 7-15 7 22 8 10 7-4 7-4 7 1 7 7 7-12 7 17 7-22 7 24 7-15 7 3 7-2 7-7 7-11 7-8 7-2 7 0 7-4 7 5 7 10 7-3 7 1 7-10 7 12 8 12 7 18 7 6 7 4 7 6 7-40 7-2 7-2 7 6 7-10 7 8 7-11 7-1 0 108-7 22-7-14-7 4-7-4-7 13-7-5-7 17-7 14-7 16-7-9-7-19-7-15-8 0-7-15-7 19-7-27-7 12-7 8-7 1-7-23-7 2-7 17-7 4-7 2-7-1-7 13-7 6-7 0-7-7-7 0-7-11-7 12-7 0-7 9-7-1-7-7-8-18-7 8-7 12-7 12-7-8-7 1-7-12-7 3-7 3-7-4-7-22-7-3-7 21z" fill="#8c8c8c" opacity="0.55"/>
<path transform="scale(.1)" d="M21182 2534l1-10 2-14 1 30 1-38 2 14 1 1 1-4 2-29 1 19 1-17 2 63 1-15 1-43 2 25 1-7 1 10 2-4 1 2 1-24 2 67 1 13 1-26 2-5 1 49 1-66 2 41 1-13 1-14 2 0 1 3 1 4 2-4 1 38 1-94 2 52 1-24 1 40 2-10 1 12 1-49 2 78 1-76 1 22 2-10 1 67 1 3 2-42 1 4 1-28 2 37 1-36 1 18 2 52 1-39 1-10 2-40 1-43 1 136 2-74 1-36 1 73 2-37 1 38 1-32 2 25 1 8 1 28 2-51 1-29 1 83 2-25 1-36 1 51 2 9 1-41 1-75 2 79 1-9 1-2 2-4 1 34 1-37 2-44 1 32 1 17 2-28 1 23 1-33 2 58 1-61 1 77 2-40 1 37 1-81 2 25 1 22 1-7 2 27 1-40 1 22 2 3 1 9 1-86 2 53 1 11 1 1 2 20 1-51 1 33 2 9 1-30 1 11 2 14 1-12 1-28 2 3 1 34 1-17 2 73 1-14 1-48 2 43 1-44 1 23 2-20 1-15 1 41 2-33 1-41 1 72 1-50 2 43 1-35 1 14 2-2 1-66 1 26 2 25 1 37 1-59 2 17 1 35 1-7 2-50 1 48 1-42 2 8 1 11 1-11 2 6 1-34 1 66 2-39 1-9 1 30 2 34 1-79 1 7 2 75 1 19 1-101 2 65 1-34 1-5 2 14 1 52 1-27 2-22 1-7 1 44 2-60 1 32 1 9 2 6 1-20 1 27 2-29 1 28 1-52 2 41 1 11 1 0 2-47 1 18 1-17 2 40 1-36 1 66 2-117 1 108 1-20 2-13 1-32 1 45 2 55 1-74 1-1 2 63 1-20 1-32 2 36 1 14 1-64 2 52 1 31 1-53 2 41 1 17 1-75 2 48 1-42 1 46 2 22 1-19 1-23 2 17 1-69 1 29 2 31 1-15 1-63 2 31 1-4 1 46 2-37 1-35 1-3 2 63 1-33 1-10 2 13 1 53 1-48 2-11 1-2 1-3 2 10 1 22 1-17 2 1 1-3 1 5 2-21 1 21 1 32 2-82 1 32 1-14 2 8 1-34 1 10 2 11 1 28 1 13 2-44 1 73 1-23 2-44 1 19" fill="none" stroke="#000" stroke-width="13" stroke-linejoin="round" />
<path transform="scale(.1)" d="M17500 3257l7 0 7-10 7 3 7 8 7-9 7 6 7 1 7-2 7-10 7 8 7-6 7 7 8-1 7-2 7 4 7 2 7-4 7 0 7 2 7 1 7-14 7 7 7 3 7-6 7 6 7-6 7 7 7 3 7 2 7-7 7 5 7 4 7 0 7-12 7 6 7 7 8-1 7 0 7-7 7-1 7 7 7-5 7-8 7 10 7 1 7-12 7-1 7 3 7 0 0 50-7 0-7-5-7 10-7-7-7 5-7-5-7 17-7-14-7-1-7 2-7 3-7 1-8 4-7-10-7 2-7 1-7 8-7-1-7-12-7 2-7-2-7 11-7-2-7-11-7 4-7-3-7-3-7 6-7 1-7 3-7-3-7 4-7 10-7-6-7-9-7 5-8-2-7-4-7 4-7-6-7 1-7 6-7-7-7 1-7 11-7-8-7 2-7-4-7 12z" fill="#8c8c8c" opacity="0.55"/>
<path transform="scale(.1)" d="M17500 3276l1 10 2-3 1-1 1-6 2-3 1 0 1-7 2 2 1 12 1 1 2-6 1 3 1 3 2-15 1 8 1 8 2-6 1 3 1 3 2-1 1-15 1 11 2 1 1-3 1 5 2-12 1 0 1-2 2 21 1-19 1 14 2-5 1-6 1 4 2 0 1 1 1 2 2-5 1-7 1 8 2 8 1-14 1-3 2 12 1-7 1 1 2-6 1 9 1 8 2-8 1 3 1-7 2 7 1-5 1 7 2-12 1 9 1 1 2 2 1-7 1-2 2-3 1 7 1 9 2-8 1 9 1-6 2 9 1-14 1 0 2 9 1-6 1-4 2 3 1 5 1-3 2-8 1 7 1 1 2 3 1 0 1-12 2 7 1 4 1-7 2 9 1-3 1-3 2-7 1 12 1-5 2-4 1 6 1-7 2 9 1-2 1 2 2-15 1 22 1-11 2 3 1-8 1 0 2 18 1-9 1-4 2 2 1 2 1-10 2 3 1 2 1-3 2 0 1 4 1-13 2 5 1-2 1 6 2-3 1 8 1 0 2-4 1 5 1-10 2 0 1 12 1-6 2 1 1-3 1-1 1 8 2-3 1-11 1 6 2 5 1 6 1-18 2 12 1-4 1-2 2 4 1-1 1 14 2-11 1 10 1-14 2 13 1-9 1-9 2 14 1-11 1 8 2 0 1 2 1-1 2-7 1 2 1 6 2-6 1 3 1 1 2-1 1-3 1 0 2 1 1-1 1 4 2-3 1-1 1-8 2 10 1 3 1 4 2 0 1-7 1 11 2-8 1 4 1-11 2 4 1-3 1 1 2 0 1 5 1-7 2 13 1-6 1 3 2-9 1-6 1 13 2 5 1-6 1-2 2-4 1 4 1-1 2 0 1 7 1-6 2-4 1-4 1-3 2 11 1-2 1 0 2-5 1 15 1-9 2-2 1 1 1 6 2-3 1 2 1-8 2 9 1-3 1 3 2 0 1-3 1 5 2-7 1 1 1-6 2 4 1 0 1-4 2 6 1-5 1 9 2-8 1 2 1-1 2-2 1 5 1-8 2-5 1 7 1 4 2 0 1 6 1-6 2 2 1-5 1 10 2-15 1 8 1 1 2 0 1 1 1-4 2 15 1-13 1-6 2 1 1-1 1 6 2-9 1 11" fill="none" stroke="#000" stroke-width="13" stroke-linejoin="round" />
<path transform="scale(.1)" d="M18026 3247l7 11 7-2 7-7 7 1 7-1 7 0 7 2 7 4 7-3 7 5 7-6 7 5 8-10 7 8 7-4 7 1 7 5 7-6 7-5 7 8 7 0 7-5 7 0 7 5 7-6 7 8 7-5 7 8 7-1 7 1 7-9 7 5 7 0 7-5 7 8 7-3 8-3 7-7 7 0 7 7 7 2 7 0 7 0 7-3 7 4 7 0 7 3 7-5 7 6 0 38-7 2-7 5-7-7-7 2-7 2-7 0-7 6-7 1-7-12-7 7-7-9-7 12-8-10-7-1-7 2-7-3-7 5-7 5-7-4-7 5-7-5-7-3-7-2-7 2-7 8-7-11-7-1-7 0-7 2-7 5-7 2-7 1-7-9-7 4-7-2-7 1-8 3-7 3-7 8-7 0-7-8-7-5-7 10-7-12-7-4-7 5-7-1-7 0-7 10z" fill="#8c8c8c" opacity="0.55"/>
<path transform="scale(.1)" d="M18026 3273l1-1 2 1 1 4 1-9 2 2 1 7 1 1 2 1 1-10 1 8 2-6 1-6 1 14 2-4 1 10 1-22 2 11 1 0 1-2 2 0 1 6 1-14 2 8 1 3 1-5 2 1 1 7 1-4 2 6 1-13 1 11 2 7 1-6 1 2 2-4 1-14 1 22 2-9 1 2 1-7 2 17 1-16 1 7 2 10 1-11 1 5 2-4 1-4 1-8 2 9 1 8 1-10 2 7 1 0 1-2 2-5 1-2 1 11 2-11 1 5 1-8 2 14 1-8 1-4 2 2 1-3 1 12 2-11 1-2 1 6 2-1 1-1 1 5 2-3 1 3 1-4 2-7 1 5 1 4 2-5 1 6 1-2 2 7 1-4 1-7 2-5 1 10 1-1 2-1 1 0 1 7 2-9 1 0 1 8 2-3 1 5 1-12 2 8 1-6 1 8 2-10 1 5 1-10 2 11 1-5 1-4 2 4 1 9 1-2 2-11 1 16 1-25 2 19 1-13 1 18 2-21 1 4 1 9 2-11 1 12 1-5 2-3 1 16 1-13 2 3 1-2 1 1 2 6 1 9 1-11 1-1 2-4 1 19 1-15 2 3 1-5 1-1 2 2 1 2 1 0 2 1 1 5 1-9 2 3 1-6 1 2 2 11 1-5 1 4 2-8 1 3 1-2 2-7 1 14 1-17 2 7 1 6 1 2 2 6 1-11 1-9 2 3 1 3 1 0 2 2 1-1 1-6 2 8 1-10 1 16 2-14 1 12 1-11 2 1 1 3 1 4 2 3 1 5 1-16 2 13 1-10 1 10 2-9 1 10 1-12 2 10 1-7 1 7 2-1 1-2 1-7 2 8 1-7 1 4 2-12 1 11 1 8 2-10 1 5 1-1 2-3 1-1 1 4 2-3 1 8 1-5 2-1 1 7 1-1 2-10 1 14 1-4 2-4 1 1 1-4 2 1 1-2 1-1 2 17 1-19 1 4 2-4 1 5 1-11 2 6 1-6 1 9 2-9 1 6 1 3 2-1 1-4 1 9 2-5 1 10 1-5 2-7 1 0 1 7 2 0 1 1 1-12 2 0 1 2 1 3 2 4 1 1 1 6 2-19 1 8 1 3 2 2 1 8 1 6 2-12 1 4 1-11 2 5 1 9" fill="none" stroke="#000" stroke-width="13" stroke-linejoin="round" />
<path transform="scale(.1)" d="M18552 3245l7 4 7 9 7-2 7-2 7 0 7 0 7 4 7-1 7-10 7 7 7 0 7-5 8 5 7 0 7 2 7-7 7-1 7-3 7 4 7 4 7 0 7 3 7-4 7-4 7-2 7 9 7-2 7-17 7 15 7-1 7 1 7-3 7-3 7 2 7 5 7-5 8 8 7-4 7 0 7-1 7 0 7 3 7 7 7-5 7-2 7-1 7-1 7-1 7-2 0 52-7-1-7 0-7 6-7 2-7-6-7-3-7 0-7-3-7 4-7 10-7-4-7-2-8-10-7 3-7-1-7 3-7-3-7-4-7 8-7-8-7 2-7-2-7 5-7 1-7-2-7 0-7 0-7 2-7 0-7-7-7-1-7 7-7 10-7-6-7-4-7 0-8-2-7 11-7-12-7 1-7 1-7 2-7 13-7-19-7 4-7 5-7 2-7-7-7 13z" fill="#8c8c8c" opacity="0.55"/>
<path transform="scale(.1)" d="M18552 3268l1 7 2-1 1-4 1-2 2 2 1 2 1 0 2 4 1-2 1 0 2 5 1-5 1 1 2-2 1 3 1 13 2-14 1-5 1 8 2-5 1 1 1 4 2-7 1 7 1 2 2-9 1 10 1-5 2 0 1-2 1 11 2-4 1-1 1 6 2-10 1-1 1 2 2 0 1 0 1 1 2 2 1-2 1 3 2-13 1 0 1 3 2 5 1 5 1 3 2-8 1-4 1 5 2-11 1 0 1 4 2 1 1 11 1-3 2-6 1 3 1-4 2 2 1 2 1-3 2-4 1 8 1-6 2 16 1-16 1 3 2 4 1-11 1 12 2-6 1 2 1-1 2-1 1 5 1-4 2 5 1-3 1 5 2-18 1 15 1-5 2-1 1-11 1 13 2-4 1-3 1 0 2 6 1-2 1 3 2-5 1-1 1 7 2-15 1 9 1-2 2 5 1 0 1-2 2 8 1 6 1 0 2-12 1 5 1-5 2 2 1 0 1 1 2-4 1 1 1 3 2-7 1 12 1-6 2 0 1-7 1 10 2-4 1-4 1 8 2 1 1-4 1 4 2 0 1 0 1 1 1 0 2-11 1 10 1-8 2 8 1-4 1-3 2 9 1-11 1 15 2-19 1 8 1-5 2 0 1 5 1-8 2 6 1-5 1 0 2 2 1 10 1-15 2 18 1-7 1-8 2 15 1 1 1-6 2-4 1 8 1-1 2-5 1-5 1-1 2 1 1 10 1-13 2 16 1-10 1 5 2-4 1 6 1-7 2 7 1-6 1-4 2 6 1 5 1-3 2 2 1-4 1-4 2 9 1 3 1-21 2 12 1 4 1-1 2-4 1 2 1 4 2-5 1 1 1-6 2 12 1-11 1 8 2 2 1-4 1 11 2-16 1-4 1 13 2 2 1-2 1-6 2 3 1 0 1-18 2 16 1 5 1-6 2 3 1-2 1 12 2-17 1 5 1-4 2 6 1-1 1-12 2 15 1-3 1-1 2 6 1-2 1-9 2 4 1 9 1-9 2 1 1 18 1-15 2-1 1-2 1 1 2-8 1 8 1-9 2-1 1 7 1-10 2 5 1-1 1 5 2 0 1 4 1-3 2-5 1 4 1 5 2-2 1 5 1-5 2-2 1 9 1 0 2-1 1-2" fill="none" stroke="#000" stroke-width="13" stroke-linejoin="round" />
<path transform="scale(.1)" d="M19075 3250l7-18 7-6 7-13 7-9 7-3 7-12 7-10 7-8 7-13 7 0 7-13 7-9 8-4 7-2 7-9 7-2 7-4 7-3 7-10 7-2 7-1 7-11 7-2 7 0 7-1 7-5 7-3 7 4 7-6 7-4 7-4 7-3 7-8 7 5 7-2 7 1 8 2 7-5 7 0 7 0 7-4 7-9 7 3 7 8 7-6 7 0 7 1 7 2 7-2 0 43-7 20-7-14-7-5-7 5-7-3-7-7-7 9-7-1-7 3-7 14-7-9-7 3-8 1-7-7-7-2-7 6-7-1-7 5-7 3-7 3-7 5-7-2-7 8-7 1-7 3-7 3-7 9-7 5-7 4-7 6-7-1-7 6-7 1-7 8-7-4-7 13-8 4-7 5-7 13-7 7-7 2-7 9-7 19-7 2-7 15-7 10-7 6-7 15-7 12z" fill="#8c8c8c" opacity="0.55"/>
<path transform="scale(.1)" d="M19075 3269l1-4 2 1 1 3 1-5 2 1 1 6 1-3 2-6 1-15 1 8 2-2 1-2 1-2 2-6 1-9 1 9 2-10 1 2 1-7 2 4 1-5 1 1 2-8 1 13 1-9 2 10 1-18 1-7 2 4 1 0 1 0 2-2 1 2 1-4 2-6 1-2 1 3 2 10 1-13 1-12 2 1 1 9 1 1 2-6 1-1 1-5 2-1 1 7 1-13 2 8 1-7 1-3 2-2 1-1 1-3 2-3 1-1 1-3 2 6 1-5 1-3 2-2 1-6 1 4 2-3 1 3 1 6 2-8 1 3 1-3 2-5 1-14 1 13 2 5 1-2 1-8 2 5 1-7 1 9 2-1 1-2 1-5 2-4 1 6 1-2 2-8 1 14 1-11 2-3 1 1 1 0 2-2 1 1 1-2 2-1 1-8 1 4 2 1 1-4 1 6 2-4 1 7 1-20 2 7 1 2 1-14 2-1 1 7 1-2 2-6 1 11 1-4 2-5 1 0 1 17 2-20 1 9 1 2 2 0 1-5 1 2 2-5 1-3 1-1 2 6 1-8 1 8 2-10 1 9 1-2 1-4 2-8 1 8 1-10 2 5 1 2 1-4 2-2 1-4 1 15 2-24 1 10 1-1 2-1 1 11 1-13 2 9 1-1 1-4 2 5 1-6 1 2 2-3 1-3 1 5 2-1 1-3 1-1 2 7 1-3 1-19 2 15 1-5 1-3 2 0 1 8 1 0 2-13 1 8 1-1 2 4 1-4 1 4 2-10 1 10 1-7 2-4 1-2 1 13 2-11 1-6 1 11 2-1 1-13 1 11 2 12 1-13 1-9 2 4 1 17 1-6 2 2 1-4 1 4 2-1 1-1 1 3 2-5 1 6 1-6 2 3 1-8 1-8 2 13 1-2 1-6 2 6 1 14 1-17 2 5 1-8 1 2 2 4 1 7 1-14 2-1 1 5 1-2 2 0 1-5 1 1 2 1 1 0 1 1 2 1 1-8 1 3 2-6 1 8 1 2 2-3 1 6 1 3 2-8 1 8 1-2 2-5 1 7 1-4 2-5 1 10 1-4 2 0 1 0 1-3 2 2 1-1 1-1 2 5 1 3 1-12 2-8 1 18 1 0 2-11 1 4 1-5 2 6 1-6" fill="none" stroke="#000" stroke-width="13" stroke-linejoin="round" />
<path transform="scale(.1)" d="M19595 3055l7 17 7 14 7 11 7 4 7 12 7 1 7 12 7 8 7 1 7 11 7 11 7-3 8 7 7 11 7 2 7 0 7 5 7 9 7 4 7 4 7 0 7 6 7-2 7 7 7-5 7 6 7 3 7 8 7-2 7 7 7-1 7-2 7 5 7-7 7 12 7 2 8 0 7-1 7-5 7-6 7 14 7 2 7 2 7 2 7-8 7 7 7-3 7 3 7 4 0 45-7-4-7 4-7 1-7-8-7 3-7-4-7-3-7 7-7-11-7 13-7-13-7-1-8 0-7 5-7-4-7-3-7-1-7-2-7-1-7-7-7 3-7-6-7-9-7-1-7 15-7-15-7 5-7-16-7-1-7 5-7-11-7-6-7-3-7-1-7-4-7-6-8-7-7-4-7-2-7-10-7-7-7-14-7-7-7-9-7-6-7 1-7-15-7-17-7-4z" fill="#8c8c8c" opacity="0.55"/>
<path transform="scale(.1)" d="M19595 3083l1-1 2 5 1-1 1 2 2 4 1 8 1 0 2 1 1-1 1-1 2 11 1-6 1 16 2-8 1 8 1-6 2 0 1-1 1 14 2-6 1 14 1-12 2 7 1 1 1-2 2 4 1-16 1 23 2-3 1-1 1 5 2 6 1-6 1 0 2 3 1-3 1 10 2-4 1 0 1 1 2 6 1 2 1 13 2-3 1-8 1 7 2 0 1 4 1 1 2 0 1 0 1-1 2 0 1 5 1-1 2 6 1 0 1 4 2-9 1 6 1 2 2 1 1-6 1 3 2-6 1 11 1-7 2 7 1 0 1-6 2 2 1 6 1-5 2 12 1-3 1 5 2 1 1-6 1 4 2-1 1 5 1-12 2 15 1-9 1 7 2 2 1 6 1 0 2-12 1 12 1 1 2-7 1 7 1 2 2-1 1 7 1-3 2 2 1 8 1-13 2-5 1 8 1 4 2-7 1 9 1 3 2-13 1 10 1 10 2-4 1-6 1-6 2 9 1-4 1-1 2 0 1 6 1-8 2 6 1-4 1 9 2 5 1-10 1-3 2 5 1-2 1 5 2 2 1 1 1-3 1-4 2-2 1 10 1-4 2 4 1-5 1 7 2-2 1-11 1 7 2 4 1 1 1 0 2 4 1 3 1-11 2 14 1 2 1-1 2-7 1-7 1 23 2-6 1-9 1 6 2 0 1 5 1-2 2-3 1 2 1 0 2-1 1 1 1-2 2-7 1 14 1-5 2 4 1 2 1-9 2 4 1 9 1-5 2 0 1-10 1 13 2-8 1 3 1 4 2 0 1-6 1 5 2-3 1 4 1 1 2-2 1-2 1-3 2 6 1-4 1-1 2 4 1-1 1 5 2-10 1 4 1 8 2-1 1-2 1 1 2 0 1 2 1-2 2-6 1 7 1-7 2 5 1 2 1 6 2-9 1 7 1-11 2 4 1 10 1-1 2 0 1-7 1-5 2 7 1 4 1 3 2-1 1 4 1-6 2 4 1-14 1 18 2-12 1 6 1-6 2 9 1-10 1 1 2-6 1 18 1-14 2 2 1 8 1-6 2-4 1 2 1-6 2 8 1 0 1 6 2 11 1-26 1 12 2-10 1 9 1 4 2 5 1-1 1-13 2 6 1 6 1-2 2 1 1 1" fill="none" stroke="#000" stroke-width="13" stroke-linejoin="round" />
<path transform="scale(.1)" d="M20122 3254l7-7 7 9 7-8 7 5 7-11 7 12 7-2 7 5 7-17 7 3 7 5 7 0 8-1 7 3 7 3 7 4 7 1 7-7 7 4 7-5 7 1 7 2 7-1 7 1 7 6 7-5 7-10 7 4 7 8 7-3 7-3 7-3 7 8 7-2 7-3 7 7 8 1 7 0 7-3 7-6 7-5 7 4 7-4 7 13 7-3 7 6 7-6 7-6 7-3 0 48-7 2-7 3-7 1-7 2-7 6-7-2-7-9-7 3-7-2-7 17-7-11-7-5-8 0-7 6-7-6-7 0-7-4-7 1-7 5-7-1-7-3-7 1-7-1-7 3-7 8-7-2-7-9-7-2-7 5-7-6-7 7-7-3-7 4-7 5-7-9-7-3-8 12-7-13-7 2-7 6-7-5-7 1-7-4-7-3-7 2-7 4-7 4-7-4-7 5z" fill="#8c8c8c" opacity="0.55"/>
<path transform="scale(.1)" d="M20122 3269l1 6 2 7 1-4 1-12 2 9 1 8 1-11 2 6 1-12 1 2 2 15 1-6 1-4 2 0 1-1 1 4 2-2 1-6 1 9 2-5 1-11 1 7 2 0 1 5 1-10 2 10 1 0 1-5 2 4 1-7 1 0 2 13 1 0 1-2 2 1 1-6 1 8 2 3 1-17 1 20 2-2 1-6 1 10 2-4 1-5 1-9 2 8 1 6 1-6 2-12 1 6 1 2 2-7 1 9 1-2 2 11 1-18 1 4 2 6 1-2 1-1 2-2 1 5 1 0 2-8 1 13 1-6 2 4 1-6 1-6 2 3 1-1 1 11 2 5 1-7 1-8 2 8 1 4 1-9 2 4 1 9 1-13 2 6 1 3 1-8 2 0 1 1 1 0 2 7 1-3 1-5 2 15 1-3 1-16 2-1 1 0 1 12 2-13 1 10 1-3 2 1 1-2 1-5 2-6 1 13 1-3 2 10 1-10 1 6 2-9 1 7 1 0 2-8 1 11 1 6 2-10 1 4 1-2 2-2 1-5 1-1 2 15 1-6 1-10 2 15 1-2 1 3 2-6 1 4 1-2 1 4 2-12 1 4 1-5 2 0 1 6 1-9 2 4 1 5 1-3 2-6 1 12 1-7 2-3 1 4 1 2 2-14 1 23 1-15 2 0 1 0 1 6 2-8 1 10 1 4 2-3 1-2 1-1 2-9 1 18 1-14 2-3 1 11 1-6 2 2 1 4 1-19 2 23 1-15 1 4 2 2 1-8 1 5 2-7 1 4 1 6 2 0 1-1 1 12 2-15 1 4 1 2 2-8 1 2 1 1 2 0 1 5 1-3 2-6 1 5 1 4 2-3 1 3 1 1 2 0 1-5 1 2 2 2 1-1 1 4 2-1 1 5 1-21 2 15 1-3 1 2 2-1 1 10 1-12 2-3 1 0 1-2 2 0 1 4 1 4 2-6 1-3 1-6 2 15 1-5 1-2 2 12 1-6 1-7 2 3 1 0 1 0 2 5 1 0 1 1 2 1 1-7 1 10 2-9 1 7 1-1 2 3 1-2 1 4 2 3 1-6 1-1 2 4 1-4 1-5 2-1 1 4 1-4 2-2 1 4 1 5 2 1 1-14 1 9 2-7 1 13 1-4 2 5 1-12" fill="none" stroke="#000" stroke-width="13" stroke-linejoin="round" />
<path transform="scale(.1)" d="M20650 3257l7-31 7-20 7-23 7-6 7-14 7-7 7-12 7-6 7-3 7-11 7 4 7-5 8-5 7 0 7-15 7-1 7 5 7 2 7-2 7-18 7 18 7 1 7 1 7-1 7 0 7-4 7-1 7 2 7-10 7 9 7-10 7 9 7-5 7 2 7-7 7 4 8-7 7 9 7 5 7 1 7-2 7 4 7-8 7 5 7 2 7 0 7-6 7 2 7 5 0 45-7-4-7-5-7 6-7 4-7-5-7-3-7-2-7 7-7 1-7-1-7 0-7-3-8-3-7 0-7 3-7-1-7 1-7 5-7 0-7-8-7 2-7 3-7 1-7 2-7 0-7-5-7 9-7-7-7 1-7-2-7 2-7 1-7-2-7 9-7 5-7-3-8 10-7-4-7 10-7 0-7 6-7 8-7 13-7 11-7 15-7 7-7 25-7 19-7 14z" fill="#8c8c8c" opacity="0.55"/>
<path transform="scale(.1)" d="M20650 3276l1-17 2 16 1-12 1-4 2-4 1-4 1-12 2-1 1 1 1-14 2 5 1-5 1-9 2 2 1-9 1-5 2-2 1 17 1-13 2 8 1-13 1-10 2 2 1 6 1-12 2 5 1-9 1 0 2 4 1 5 1-10 2-3 1-4 1-11 2 4 1-2 1 0 2-3 1 3 1-5 2 4 1-11 1-5 2 5 1-8 1 13 2-3 1 5 1-7 2-5 1 1 1-3 2 0 1-4 1 3 2 1 1-6 1 5 2 3 1 5 1-8 2-9 1 11 1 0 2-3 1 0 1 0 2 1 1 1 1-2 2-6 1 1 1 1 2 0 1-1 1-4 2 2 1-3 1-1 2 5 1-3 1-2 2-1 1-9 1 7 2-1 1 0 1 0 2-6 1 12 1-5 2-14 1 17 1-12 2 10 1 2 1-19 2 22 1-2 1-17 2 12 1-11 1 13 2-23 1 17 1-4 2 3 1-2 1 0 2 7 1 4 1-7 2-5 1-2 1 3 2-1 1 7 1 1 2-5 1 11 1-11 2 11 1-10 1 5 2 19 1-16 1 1 2-12 1 7 1-10 1 4 2 4 1 2 1 0 2-1 1 2 1-2 2-6 1-4 1-1 2 10 1-6 1 6 2 5 1 7 1-7 2-12 1-3 1-7 2 5 1 14 1-3 2-12 1 9 1 8 2-4 1-12 1 11 2-1 1-6 1 10 2 0 1-14 1-6 2 16 1-2 1 3 2-2 1 0 1 7 2-13 1 8 1-5 2 7 1-13 1 10 2-5 1 2 1-9 2 2 1 8 1 9 2-3 1-6 1 1 2-12 1-6 1 10 2 2 1 2 1 3 2-3 1 1 1 5 2-5 1 2 1 3 2-1 1-2 1 1 2 1 1-9 1-3 2 13 1-3 1 8 2-3 1-11 1 12 2 1 1 0 1-1 2-4 1 3 1-8 2 4 1 2 1-5 2 4 1 5 1-2 2-10 1 5 1 0 2 1 1 1 1-4 2 3 1 11 1-4 2-1 1-10 1 1 2 4 1 2 1-4 2-1 1-8 1 4 2 8 1-7 1 9 2 6 1-8 1 2 2 0 1 0 1-4 2 4 1-2 1 2 2-4 1 12 1-10 2-1 1-3 1 5 2-10 1 11" fill="none" stroke="#000" stroke-width="13" stroke-linejoin="round" />
<path transform="scale(.1)" d="M21182 3083l7 11 7 10 7-12 7 23 7 11 7 9 7-2 7 6 7 13 7-3 7 1 7 14 8 0 7 16 7-10 7 21 7-6 7 10 7-3 7 5 7 10 7 3 7 2 7 4 7-5 7 5 7-1 7 2 7 5 7 2 7 1 7 5 7-13 7 15 7-8 7 7 8-7 7 11 7 0 7-3 7 3 7 1 7 6 7 0 7-1 7 2 7-8 7 1 7 8 0 39-7-2-7 5-7 2-7-1-7-5-7-3-7 4-7 3-7-12-7 10-7-4-7-7-8 9-7-10-7 3-7 3-7-10-7 6-7-7-7-2-7 11-7-11-7-3-7-6-7 1-7-6-7 8-7-4-7-9-7-5-7-3-7 3-7-11-7-2-7-6-7-7-8-1-7-7-7-10-7 0-7 0-7-5-7-15-7-7-7-5-7-9-7-12-7-8-7-11z" fill="#8c8c8c" opacity="0.55"/>
<path transform="scale(.1)" d="M21182 3103l1-1 2 4 1-6 1 5 2 10 1-4 1 0 2 12 1-3 1-4 2 12 1-11 1 8 2-4 1 9 1 11 2-5 1-6 1 2 2 1 1 9 1-3 2-1 1 11 1-1 2 1 1-9 1 8 2 3 1 12 1-16 2 11 1-2 1 3 2-1 1-3 1 4 2 8 1-7 1-4 2 6 1 0 1 8 2-3 1-1 1 4 2-7 1-2 1 12 2 10 1 5 1-13 2 6 1-1 1-1 2 2 1 0 1 4 2-4 1-2 1 16 2-3 1-3 1 9 2-5 1 0 1-2 2-7 1 9 1 6 2-7 1-3 1 5 2 9 1 1 1-3 2 5 1-1 1 13 2-12 1 6 1 0 2-3 1 2 1-1 2-3 1 2 1-13 2 21 1-7 1 1 2 12 1-14 1 2 2 10 1-5 1 3 2-8 1 11 1-2 2 4 1-5 1 6 2 9 1-6 1 4 2-11 1 4 1 0 2 1 1 0 1 5 2-4 1-4 1 10 2 3 1-13 1 6 2-6 1 5 1 5 2-9 1 2 1 18 2-11 1-1 1 2 2-4 1 5 1 2 1-4 2 1 1 12 1-11 2 11 1-12 1 9 2-4 1 3 1 0 2-16 1 13 1 0 2-4 1 2 1 11 2-1 1 5 1-3 2-3 1-8 1 6 2-2 1 8 1-4 2-8 1 10 1-3 2-1 1 7 1-5 2-8 1 9 1-7 2 8 1-2 1-1 2 5 1-1 1-3 2 3 1-1 1 2 2-6 1 7 1 1 2-7 1-1 1 7 2-2 1-2 1 1 2 8 1-4 1-1 2 5 1-14 1 7 2-2 1 4 1 1 2 3 1 2 1-5 2 10 1-16 1 4 2 5 1 0 1-1 2 0 1 6 1-1 2-13 1 10 1-2 2-5 1 9 1-8 2 3 1-1 1 11 2-3 1-1 1-9 2 8 1 0 1-3 2-9 1 8 1 1 2 2 1 7 1-6 2 8 1 7 1-11 2-7 1 10 1-3 2 0 1-4 1 4 2 3 1-4 1 5 2-6 1 2 1-2 2 6 1-5 1 0 2 3 1 4 1 2 2 0 1-10 1 2 2-2 1-3 1 4 2 3 1-8 1 15 2-3 1-13 1 12 2 0 1-3" fill="none" stroke="#000" stroke-width="13" stroke-linejoin="round" />
<path transform="scale(.1)" d="M17500 3921l7-14 7 18 7-5 7-2 7 5 7 2 7 1 7-14 7 0 7 10 7-5 7-3 8-8 7 12 7-2 7-8 7 12 7-1 7 0 7 0 7-1 7 2 7-6 7-10 7 13 7 1 7-3 7 3 7-3 7-9 7 9 7 0 7 2 7 2 7-7 7 7 8 2 7 2 7 1 7-8 7 8 7-13 7 7 7 7 7-5 7-3 7 7 7 0 7-4 0 76-7-12-7-9-7 6-7 6-7-11-7 1-7 7-7-1-7-8-7 17-7-15-7-6-8 14-7-4-7 6-7-10-7 13-7-8-7-1-7-4-7 9-7-14-7 8-7-5-7-8-7 1-7 6-7 3-7-4-7-2-7 16-7-4-7-2-7 6-7-9-7 8-8 5-7-16-7 2-7 6-7-1-7-1-7-6-7-1-7 7-7-5-7 10-7-6-7 8z" fill="#8c8c8c" opacity="0.55"/>
<path transform="scale(.1)" d="M17500 3947l1 5 2-2 1 24 1-24 2 1 1-14 1 14 2-15 1 10 1 8 2 2 1 0 1-13 2 2 1 4 1-6 2 4 1-1 1 1 2 10 1-8 1-1 2-2 1 6 1 1 2-12 1 11 1-1 2 3 1-7 1 0 2 5 1 7 1-6 2-12 1 15 1-2 2-7 1 2 1 6 2 1 1-11 1 6 2 4 1-2 1 7 2-2 1-15 1 7 2 6 1-12 1 5 2-5 1 6 1-5 2 1 1 10 1-9 2-5 1 10 1 1 2 4 1-6 1 1 2-2 1 4 1-18 2 11 1 9 1-11 2 14 1-13 1-3 2 21 1-17 1 7 2-4 1-6 1 12 2-20 1 17 1-12 2 1 1 5 1 2 2-3 1-1 1-2 2 16 1-13 1-1 2-11 1 13 1-6 2 14 1-5 1-3 2-5 1 10 1-12 2 6 1 12 1-20 2 6 1-4 1 14 2-3 1-9 1 9 2 11 1-15 1 3 2 5 1-6 1-12 2 9 1-11 1 7 2-4 1 7 1-1 2 8 1-11 1-2 2 5 1-5 1 0 2 2 1 5 1 1 1 4 2 0 1-2 1-10 2-2 1 2 1 19 2-8 1 1 1-2 2-8 1 4 1 6 2-3 1 7 1-12 2 3 1-8 1 9 2 0 1-6 1 5 2 4 1-6 1 15 2-13 1 10 1-11 2-8 1 9 1-2 2 4 1-7 1-3 2 11 1-5 1 6 2-5 1 7 1-17 2-3 1 6 1 3 2 7 1 4 1-8 2 9 1-7 1 2 2 0 1 6 1-11 2 6 1 1 1-8 2 7 1-4 1-6 2-2 1 0 1-3 2 5 1 5 1 0 2-4 1 5 1-9 2 18 1 1 1-6 2 4 1-4 1-10 2 5 1 4 1-3 2 11 1-15 1 5 2 2 1-1 1-1 2 3 1 6 1-8 2 9 1 0 1-12 2 0 1 0 1 2 2 1 1 10 1-21 2 15 1-8 1 5 2 1 1 9 1-14 2 6 1-3 1 6 2 11 1-15 1-4 2 4 1 0 1-5 2 20 1-11 1-6 2 10 1 2 1-5 2-2 1-4 1-1 2 1 1 1 1-6 2 4 1 1 1 1 2 3 1-11 1 11 2-3 1 2" fill="none" stroke="#000" stroke-width="13" stroke-linejoin="round" />
<path transform="scale(.1)" d="M18026 3912l7 9 7-7 7 1 7-4 7-9 7 10 7 5 7-3 7-7 7 0 7 6 7-2 8-9 7 5 7-8 7 5 7-9 7 12 7-2 7-4 7-10 7 3 7 5 7 2 7-1 7-3 7-5 7-3 7 4 7 0 7-15 7 14 7-12 7-13 7 28 7-3 8-13 7-1 7-2 7 6 7 6 7-7 7 4 7-5 7 1 7-3 7 2 7 0 7-3 0 57-7 5-7-3-7-4-7 1-7 3-7 8-7 0-7 7-7-5-7 9-7-11-7 3-8 1-7-4-7 4-7 15-7-11-7 7-7-13-7 5-7-4-7 9-7-6-7 7-7-1-7 11-7-18-7 15-7-5-7 0-7 7-7-9-7 4-7-1-7 7-7 2-8-5-7 7-7 6-7-9-7 1-7 10-7-2-7 3-7-7-7 1-7-2-7 8-7-3z" fill="#8c8c8c" opacity="0.55"/>
<path transform="scale(.1)" d="M18026 3950l1-13 2 13 1-12 1 3 2 4 1 2 1-2 2 3 1-4 1 1 2 8 1-6 1 7 2-13 1 6 1-10 2 14 1-5 1-11 2 13 1 3 1-2 2-14 1 3 1-2 2 12 1-9 1-3 2 12 1 1 1 4 2-10 1 12 1-6 2-10 1 20 1-8 2-4 1-1 1 7 2 1 1-12 1 9 2-14 1 3 1-2 2-5 1 7 1 11 2 3 1-16 1 1 2-1 1 1 1 3 2-1 1 1 1 5 2-6 1-8 1 10 2 0 1-19 1 0 2 16 1-6 1-11 2 15 1 1 1-6 2-2 1 6 1 8 2-13 1 0 1-2 2-7 1 17 1-3 2-12 1 19 1-7 2-7 1-5 1 2 2-1 1 5 1-7 2 2 1 1 1 6 2-12 1 9 1-1 2 4 1 0 1 3 2 0 1 3 1 0 2-1 1 5 1-9 2 8 1-8 1-3 2 2 1-10 1 7 2 0 1 1 1-7 2 9 1-13 1-2 2 14 1-1 1-17 2 7 1 11 1-3 2 2 1-10 1 13 2-10 1 1 1 4 2 5 1-20 1 11 1-8 2 4 1 0 1 0 2 17 1-18 1-2 2-6 1 16 1-10 2 9 1-19 1 27 2-18 1-2 1 13 2-11 1-6 1 11 2-12 1 12 1 10 2-11 1 14 1-9 2 4 1 3 1-7 2 2 1-5 1 4 2-5 1-2 1-4 2 6 1-12 1 9 2-14 1 12 1 4 2 3 1-2 1-9 2 13 1 0 1-8 2 7 1-10 1 12 2 3 1-15 1 15 2-2 1-10 1 2 2-2 1 5 1-13 2 15 1 6 1-9 2 4 1-8 1 5 2 0 1 4 1-6 2-18 1 32 1-15 2-13 1 19 1 2 2-11 1-4 1 3 2 10 1-19 1 10 2-5 1 7 1-17 2 14 1 5 1-11 2 6 1 3 1 1 2-11 1 4 1 9 2-2 1-11 1 5 2-9 1 5 1 7 2-13 1 2 1 5 2 3 1-6 1 3 2-13 1 33 1-18 2-7 1 2 1 6 2-13 1 6 1 6 2-17 1 5 1 10 2-3 1 9 1 4 2-7 1-5 1-11 2 19 1 1 1-11 2 0 1 1 1 11 2-13 1-2" fill="none" stroke="#000" stroke-width="13" stroke-linejoin="round" />
<path transform="scale(.1)" d="M18552 3921l7-12 7 4 7 8 7-8 7 8 7-3 7 1 7-4 7-3 7 9 7 3 7-12 8 1 7 0 7 2 7-2 7-15 7 15 7 3 7 1 7-11 7 11 7 3 7 3 7-2 7 1 7-12 7 8 7-1 7 2 7 0 7-3 7 6 7-1 7-5 7-2 8 7 7 0 7-4 7 4 7-11 7 6 7 8 7-3 7-1 7-1 7 5 7-8 7 4 0 63-7 5-7-13-7 2-7 1-7-3-7 1-7 3-7 13-7-15-7-4-7 6-7 4-8-13-7 7-7-7-7 3-7 4-7 0-7 3-7-8-7 6-7 1-7 3-7-3-7-4-7 8-7 0-7 7-7 0-7-17-7 1-7-5-7 9-7-2-7-2-7-1-8 1-7 10-7 6-7-16-7 5-7 4-7-2-7-4-7-3-7 19-7-14-7 7-7-13z" fill="#8c8c8c" opacity="0.55"/>
<path transform="scale(.1)" d="M18552 3950l1-5 2 1 1-2 1 9 2-12 1 9 1 7 2-1 1-3 1 0 2 4 1-16 1 10 2 15 1-19 1-1 2-2 1-5 1 9 2-3 1 9 1-12 2 27 1-12 1-9 2-10 1 10 1 2 2-4 1 8 1-5 2-1 1 7 1-2 2 2 1-7 1 4 2-12 1-5 1 23 2-14 1 1 1-2 2 11 1-4 1 2 2 1 1 2 1-8 2 8 1-12 1 4 2-2 1 8 1-4 2 0 1 0 1-11 2 13 1 3 1-7 2-3 1 5 1 3 2-1 1-5 1-1 2 0 1 8 1-7 2 10 1-6 1-3 2-1 1-2 1-1 2-2 1 2 1-4 2 14 1-15 1 7 2 7 1 1 1-8 2 2 1 3 1 0 2-6 1-8 1 14 2-1 1 2 1-1 2-8 1 6 1-1 2-5 1 5 1-4 2 4 1-3 1 7 2 3 1-1 1-14 2 13 1 6 1-18 2 15 1-5 1 2 2-8 1 14 1-5 2-5 1-5 1 11 2-15 1 10 1 4 2-3 1-2 1 2 2 6 1-3 1-7 2 20 1-16 1 4 1 5 2-10 1-6 1 1 2 7 1-2 1-5 2 7 1-1 1-2 2-3 1 11 1-7 2-3 1 4 1-3 2 2 1 6 1-5 2 2 1 8 1-7 2-14 1 13 1 1 2-7 1 6 1-4 2 15 1 3 1-19 2 7 1-12 1-3 2 15 1 3 1-6 2-5 1-7 1 0 2 6 1 1 1-2 2 9 1-12 1 3 2 2 1 2 1 6 2-5 1-4 1 3 2 2 1-3 1 1 2-2 1 12 1-17 2 5 1 3 1 1 2-5 1-6 1 7 2 10 1 0 1-12 2 3 1-4 1 5 2-4 1 11 1 9 2-13 1-20 1 16 2-1 1-1 1 0 2 5 1-4 1 6 2-3 1 5 1-5 2-14 1 13 1-4 2 2 1-2 1-4 2 20 1-15 1 0 2 1 1-1 1-1 2 13 1-6 1-5 2 10 1-8 1 15 2-18 1 8 1-9 2 3 1 1 1-6 2 19 1-14 1 3 2 6 1-8 1 1 2-3 1 1 1 2 2 7 1-20 1 15 2 5 1-5 1 2 2 3 1-2 1 0 2-4 1 0" fill="none" stroke="#000" stroke-width="13" stroke-linejoin="round" />
<path transform="scale(.1)" d="M19075 3921l7-22 7-15 7-25 7-9 7-19 7-22 7-3 7-14 7-31 7 2 7-3 7-23 8 3 7-12 7-9 7-13 7 3 7-6 7-11 7-13 7 1 7-20 7 7 7-6 7 1 7-13 7-1 7-17 7 12 7-6 7-5 7 0 7-2 7-7 7-2 7 2 8-13 7 8 7-9 7 0 7 4 7-5 7 2 7-3 7-3 7-5 7 8 7-9 7-5 0 66-7 5-7-8-7-1-7 2-7 9-7-3-7 3-7-2-7 15-7-10-7 13-7-3-8 1-7-2-7 9-7 6-7-9-7 16-7-9-7 15-7 9-7-3-7 5-7 8-7-5-7 2-7 6-7 6-7 3-7 7-7 9-7 18-7 5-7 11-7 1-7 19-8 4-7-1-7 10-7 19-7 12-7 5-7 20-7 24-7 4-7 23-7 21-7 5-7 35z" fill="#8c8c8c" opacity="0.55"/>
<path transform="scale(.1)" d="M19075 3939l1 9 2-12 1 2 1-6 2-1 1-12 1 2 2-9 1 5 1 0 2-7 1-6 1 2 2-6 1-15 1 11 2-1 1-14 1 10 2-11 1 2 1-14 2 6 1-1 1-9 2 4 1-12 1-3 2-17 1 17 1-12 2 1 1-11 1 4 2 4 1-8 1 0 2 8 1-5 1-12 2-5 1-8 1 11 2-9 1-1 1 5 2-16 1 14 1-10 2-1 1-8 1 3 2-7 1 1 1 0 2 6 1-5 1-6 2-2 1 4 1-12 2-6 1 5 1 1 2 8 1-13 1 1 2-2 1-6 1 3 2 3 1-20 1 9 2-7 1 9 1-6 2 7 1-2 1 1 2-21 1 1 1 2 2 10 1-9 1-3 2-1 1 7 1-12 2-8 1 3 1 0 2 2 1 3 1-4 2-13 1 12 1-7 2-6 1 2 1-8 2 12 1-7 1 3 2-2 1-3 1-2 2-6 1 7 1-6 2-1 1-5 1 7 2-7 1 1 1 14 2-21 1 7 1 2 2-2 1-4 1 3 2-4 1 16 1-12 2-7 1-10 1-3 2 12 1-4 1 7 1-8 2-5 1 11 1-15 2 2 1 9 1-11 2 12 1 1 1-16 2-2 1 12 1-9 2-2 1 0 1 1 2-8 1 5 1 0 2 0 1-17 1 9 2 6 1 4 1-5 2-6 1 6 1 1 2-10 1-2 1 6 2 4 1 1 1-4 2-6 1 4 1 2 2-10 1 0 1 0 2-4 1 7 1 4 2-12 1 8 1 0 2 7 1-6 1 5 2-4 1-13 1 11 2-3 1-12 1 1 2-2 1 21 1-20 2 17 1-10 1 2 2-4 1 7 1-2 2-7 1 9 1 6 2-17 1 2 1-1 2 2 1-6 1 20 2-25 1 3 1 14 2-18 1 7 1-10 2 7 1 7 1 7 2-12 1 2 1 1 2-10 1 5 1-7 2 7 1 10 1-10 2 12 1-21 1 14 2-12 1-1 1 2 2 7 1-9 1-7 2 6 1 16 1-11 2-1 1-8 1 6 2 0 1-4 1 0 2-2 1 7 1 2 2-7 1 12 1 2 2-16 1 12 1 5 2-19 1 7 1 3 2 6 1-3 1-8 2 9 1-10 1-15 2 23 1-9" fill="none" stroke="#000" stroke-width="13" stroke-linejoin="round" />
<path transform="scale(.1)" d="M19595 3581l7 35 7 44 7 26 7 25 7 11 7 13 7 21 7 21 7 23 7 9 7 17 7-6 8 9 7 28 7-12 7 21 7 1 7 11 7 6 7 7 7-10 7 14 7-6 7-1 7 20 7 0 7-11 7 7 7-1 7 6 7 3 7-1 7 0 7-3 7-9 7 12 8-2 7 0 7-2 7 7 7 3 7 0 7-1 7-2 7 1 7 6 7 2 7-6 7-5 0 71-7-12-7 12-7-4-7-6-7 6-7-9-7 8-7-4-7 1-7-1-7-8-7-4-8 2-7 16-7-12-7 2-7-3-7 13-7 6-7-10-7-11-7-4-7 9-7-6-7-8-7-1-7 0-7-6-7 19-7-19-7-12-7-9-7 12-7-21-7-6-7-10-8-18-7-6-7-9-7-2-7-26-7-16-7-7-7-31-7-16-7-23-7-29-7-38-7-37z" fill="#8c8c8c" opacity="0.55"/>
<path transform="scale(.1)" d="M19595 3619l1 10 2 7 1 10 1 2 2 14 1 8 1-4 2 1 1 12 1 9 2-5 1 11 1-1 2 6 1 13 1 2 2 2 1 9 1-2 2-2 1 25 1-2 2 5 1-8 1 5 2 9 1 3 1 5 2 6 1-2 1 15 2-2 1 5 1-3 2 3 1 11 1 4 2 4 1 2 1 6 2 3 1-7 1 8 2-6 1-1 1 14 2 2 1 3 1 12 2 0 1-12 1 24 2-24 1 10 1 7 2 0 1 2 1 11 2 5 1-5 1-3 2 3 1 5 1 5 2 2 1-4 1 9 2-5 1 7 1-2 2 8 1-4 1-1 2 7 1 2 1-8 2 13 1 8 1-21 2 19 1 0 1-13 2 2 1 4 1 4 2-2 1-1 1 10 2 0 1 4 1 2 2-5 1-6 1 10 2-1 1 3 1 3 2 0 1 14 1-4 2-12 1 12 1-6 2 1 1-2 1 0 2 7 1 1 1-5 2-1 1 6 1-7 2 2 1-3 1 9 2-7 1-4 1 2 2-1 1 14 1-3 2 4 1-8 1 4 2 6 1-1 1-2 2 7 1 2 1-6 1-4 2 8 1 3 1-13 2 12 1 8 1-13 2-5 1 16 1-24 2 9 1 11 1 1 2-1 1-13 1 16 2-2 1 10 1-17 2-4 1 6 1-5 2 13 1-8 1 0 2 1 1 3 1 0 2 3 1-22 1 19 2-9 1 11 1 7 2-10 1-2 1 4 2 5 1-6 1 3 2-3 1-14 1 16 2-5 1 5 1-5 2-4 1-6 1 14 2-2 1 7 1-1 2 1 1-7 1 2 2-4 1-3 1 4 2-4 1 3 1 2 2 8 1-11 1 7 2-5 1 3 1 1 2-2 1-7 1 7 2-4 1-4 1 13 2-1 1 2 1-8 2 7 1-14 1 18 2-10 1-2 1-2 2 10 1 6 1-6 2 0 1 2 1-5 2-3 1 8 1-5 2 0 1 21 1-8 2-10 1-9 1 14 2-9 1 6 1 0 2 1 1-5 1 3 2 3 1 2 1 2 2 5 1-15 1 5 2 4 1-12 1 12 2-4 1-4 1 12 2-5 1-4 1-6 2 8 1 4 1 7 2-17 1 5 1 0 2-9 1 21 1-12 2 8 1-1" fill="none" stroke="#000" stroke-width="13" stroke-linejoin="round" />
<path transform="scale(.1)" d="M20122 3908l7 4 7-4 7 2 7 8 7-3 7 6 7-3 7 7 7-21 7 2 7 11 7 3 8-5 7 6 7 5 7 1 7-17 7 3 7 10 7-1 7-8 7 5 7-18 7 14 7 5 7-6 7 1 7 8 7-12 7 13 7-2 7-12 7 17 7-3 7-5 7-4 8-9 7 12 7 1 7 5 7-6 7-5 7 3 7 0 7-1 7-4 7-4 7 10 7 1 0 64-7-7-7-4-7 6-7-4-7 4-7-4-7 4-7 19-7-21-7 6-7 11-7-14-8 4-7 4-7-2-7-4-7 13-7-16-7-2-7 13-7-1-7-12-7-4-7-2-7 9-7 4-7-11-7 1-7 1-7 9-7 0-7-9-7 4-7 1-7 7-7 0-8-7-7 13-7-8-7-9-7 17-7-16-7-3-7-1-7 14-7 5-7-16-7 3-7 2z" fill="#8c8c8c" opacity="0.55"/>
<path transform="scale(.1)" d="M20122 3941l1 7 2-7 1 8 1-8 2 13 1-7 1-1 2 4 1-5 1 2 2 7 1-6 1 1 2-4 1-3 1 9 2-2 1 2 1-2 2 2 1-2 1-2 2 7 1-1 1-2 2-5 1 12 1-25 2 19 1-10 1 0 2-7 1 9 1 6 2-5 1 9 1-15 2 12 1-6 1 9 2 2 1-11 1 5 2-2 1 3 1-13 2 3 1 1 1 3 2 9 1-5 1 2 2 3 1-12 1 6 2-1 1 4 1 4 2-6 1 9 1-11 2 4 1 7 1 3 2-11 1 6 1 2 2-11 1 4 1-3 2-3 1 4 1-4 2 8 1-8 1 0 2 15 1-6 1-4 2-4 1 0 1 1 2 4 1-5 1 10 2-10 1 0 1-8 2 12 1-1 1 3 2 1 1-2 1-12 2 2 1-3 1 6 2 9 1-5 1-5 2 8 1-7 1 6 2-6 1-5 1 5 2-6 1 1 1 8 2 10 1 0 1-6 2-11 1 10 1-13 2 16 1-3 1 8 2-10 1-2 1-6 2-8 1 25 1-12 2 4 1 3 1-3 2-3 1 8 1-6 1-8 2 10 1-7 1 2 2-12 1 15 1 8 2-14 1-5 1 2 2 10 1-1 1-4 2 5 1 0 1 2 2-3 1 1 1 6 2 6 1-14 1-3 2 1 1 7 1 1 2-9 1 0 1 13 2-5 1-8 1 5 2 0 1 5 1-4 2 11 1-8 1 10 2-6 1-7 1-12 2 9 1 6 1 0 2 3 1-13 1 6 2 7 1-9 1 3 2-3 1-4 1 8 2-8 1 10 1 7 2-9 1-4 1-10 2 6 1-4 1 8 2 1 1-4 1 0 2 8 1 1 1-10 2 3 1-9 1 13 2-2 1 3 1 1 2-2 1 3 1-5 2-6 1-5 1 15 2 0 1 0 1-2 2 6 1-8 1-8 2 8 1-1 1 6 2 1 1-3 1 0 2 9 1-10 1 2 2-9 1 18 1-20 2 5 1 0 1 0 2 3 1-1 1 3 2-1 1-3 1-3 2 2 1-4 1-1 2 3 1 6 1-9 2 11 1-11 1 1 2-3 1 3 1 1 2 9 1 9 1-17 2 0 1 8 1-12 2 13 1-4 1-3 2 11 1-11" fill="none" stroke="#000" stroke-width="13" stroke-linejoin="round" />
<path transform="scale(.1)" d="M20650 3920l7-55 7-32 7-31 7-32 7-28 7-25 7-9 7-11 7-16 7-10 7-2 7-13 8-4 7-18 7 5 7 2 7-8 7 1 7-27 7 23 7-5 7-1 7 8 7-11 7-4 7 7 7 0 7-6 7-18 7 23 7 1 7 3 7-4 7-4 7-7 7 11 8-5 7-1 7-1 7 5 7-2 7 9 7-7 7 7 7-5 7 0 7 0 7-1 7-8 0 60-7 2-7 8-7 1-7-8-7 5-7-6-7 25-7-23-7-4-7 6-7 1-7-8-8 12-7-8-7-2-7 3-7 11-7-16-7 4-7 2-7-3-7 1-7 5-7 0-7 3-7 6-7 1-7-1-7-1-7-6-7 4-7 15-7 8-7 15-7-24-7 30-8-7-7-2-7 8-7 15-7 3-7 13-7 26-7 16-7 19-7 35-7 29-7 47-7 40z" fill="#8c8c8c" opacity="0.55"/>
<path transform="scale(.1)" d="M20650 3947l1-5 2-17 1-2 1-9 2-4 1-29 1 15 2-12 1-7 1-12 2-10 1 0 1-4 2-13 1 10 1-23 2-10 1-9 1-2 2-5 1 8 1-10 2-6 1-3 1-14 2-3 1 6 1-9 2-9 1-16 1 17 2-5 1-11 1 5 2-7 1-12 1 5 2 7 1-16 1 5 2-6 1-6 1 11 2-13 1-2 1 2 2-13 1 3 1-4 2 1 1-1 1 13 2-14 1 7 1-22 2 10 1-8 1 12 2-3 1-11 1 9 2-11 1-10 1 20 2-8 1-5 1 10 2-7 1-10 1 15 2-7 1 3 1-15 2 9 1 3 1-6 2 1 1-16 1 26 2-29 1 12 1-1 2-6 1-2 1 8 2 3 1-3 1 1 2-5 1 4 1-4 2-4 1 7 1-3 2-2 1 0 1 2 2 2 1-10 1 3 2-1 1-9 1 20 2-16 1-1 1 0 2 9 1 4 1-15 2 0 1 1 1 3 2-2 1-1 1-7 2 16 1-12 1 12 2-8 1 0 1-7 2 5 1-2 1 9 2-25 1 23 1-4 2-1 1-1 1 4 1 4 2 0 1 9 1-18 2 6 1-4 1 1 2 3 1 2 1-10 2-7 1 8 1 4 2 4 1-4 1-3 2 7 1-1 1-5 2-7 1 1 1 6 2-6 1 1 1 0 2 2 1 6 1-7 2-1 1-5 1 10 2 1 1-10 1 9 2-4 1-7 1 17 2-1 1-11 1-3 2 12 1-11 1 8 2-8 1 1 1 3 2-2 1-7 1 6 2 2 1 15 1-25 2 24 1 0 1-1 2-8 1-3 1-5 2 5 1 13 1-16 2-2 1 9 1-12 2 12 1-8 1 9 2-5 1-8 1 0 2 5 1-6 1 13 2-18 1 8 1 8 2 3 1-9 1 2 2 9 1-7 1-8 2 5 1-2 1 12 2-6 1-10 1 1 2 11 1 4 1 0 2 6 1-5 1-8 2 7 1-14 1 10 2 6 1-5 1 0 2 4 1-2 1 1 2 8 1-15 1 2 2 2 1 4 1-8 2 12 1-2 1-3 2-6 1-4 1-13 2 17 1-1 1 1 2 5 1-18 1 4 2 13 1-1 1-12 2 5 1 14 1-15 2-5 1 16" fill="none" stroke="#000" stroke-width="13" stroke-linejoin="round" />
<path transform="scale(.1)" d="M21182 3611l7 32 7 2 7 13 7 27 7 12 7 5 7 18 7 14 7 0 7 16 7 5 7 9 8 6 7 5 7 24 7 5 7 6 7 5 7-1 7 14 7 1 7-8 7 18 7 8 7-1 7 13 7 5 7 3 7-9 7 14 7 1 7 2 7-10 7 10 7 1 7-9 8 13 7 10 7-4 7 4 7 2 7 2 7 2 7-8 7 1 7-8 7 9 7 8 7 5 0 57-7-1-7 4-7 1-7-11-7-5-7-2-7-1-7 4-7 8-7-8-7-4-7-4-8-2-7-5-7 3-7-6-7-7-7 3-7-6-7 1-7 11-7-15-7-1-7-6-7-11-7-3-7-7-7 6-7-1-7-10-7-15-7-10-7-4-7-6-7-10-7-6-8-5-7-13-7-10-7-5-7-11-7-8-7-12-7-18-7 0-7-24-7-11-7-19-7-14z" fill="#8c8c8c" opacity="0.55"/>
<path transform="scale(.1)" d="M21182 3651l1 2 2 3 1 1 1 10 2 5 1-1 1 3 2-8 1 16 1 8 2-12 1 8 1 13 2-5 1 10 1-5 2-8 1 9 1-3 2 3 1 10 1 4 2 5 1-3 1 5 2 0 1 2 1-2 2 1 1 21 1-6 2 7 1 2 1 0 2-10 1 12 1 5 2 2 1-4 1-2 2 7 1 12 1-13 2-8 1 15 1 3 2 8 1-1 1 1 2-6 1-1 1 11 2 9 1 6 1-3 2 9 1-1 1-9 2-1 1-4 1 6 2 9 1-6 1 18 2-10 1 8 1-4 2 4 1 2 1 0 2 2 1-9 1 7 2-12 1 22 1-7 2 1 1 16 1-19 2 14 1 0 1 1 2 2 1 0 1 15 2-13 1-5 1 6 2 14 1-6 1-2 2-4 1 6 1 5 2 0 1 8 1-13 2 6 1-5 1 10 2-4 1 13 1-17 2 10 1-3 1-2 2 8 1-2 1 14 2 1 1 1 1-9 2 0 1 11 1-2 2-6 1 2 1 0 2 1 1 6 1-9 2 8 1-3 1 3 2-13 1 12 1-4 2 11 1 7 1-4 1 1 2 6 1-9 1-1 2 16 1-27 1 15 2 7 1-13 1 14 2-11 1 15 1-2 2-11 1 9 1 4 2-11 1 8 1 2 2 2 1-6 1 14 2-20 1 8 1-5 2 9 1 2 1 2 2-13 1 23 1-10 2-3 1-7 1 19 2-8 1 2 1-7 2 15 1-19 1-2 2 15 1-2 1-3 2 5 1 0 1-3 2-5 1 15 1-10 2 9 1-6 1-1 2 7 1-3 1-1 2 0 1-10 1 15 2 2 1-4 1-2 2 8 1-3 1-3 2 11 1-2 1-3 2 0 1 1 1 7 2-6 1-2 1 10 2-15 1 9 1 3 2 0 1 5 1 0 2 0 1-1 1 2 2-11 1 6 1 2 2-6 1 7 1-6 2 3 1-1 1 12 2-16 1 12 1-10 2 0 1 8 1-8 2 12 1-6 1-2 2 9 1-11 1-4 2 4 1-5 1 8 2 2 1-14 1 5 2 4 1 15 1-16 2 0 1-7 1 12 2-18 1 16 1 1 2 8 1 0 1-4 2 1 1 8 1-10 2 1 1 10 1-1 2 0 1-7" fill="none" stroke="#000" stroke-width="13" stroke-linejoin="round" />
<text x="1659.3" y="127.9" font-size="20.8" textLength="86.2" lengthAdjust="spacingAndGlyphs" >Dendrite</text>
<text x="1720.4" y="194.3" font-size="20.8" textLength="22.7" lengthAdjust="spacingAndGlyphs" >S1</text>
<text x="1717.5" y="261.3" font-size="20.8" textLength="25.8" lengthAdjust="spacingAndGlyphs" >S2</text>
<text x="1720.9" y="331.6" font-size="20.8" textLength="22.2" lengthAdjust="spacingAndGlyphs" >B1</text>
<text x="1717.4" y="399.0" font-size="20.8" textLength="25.9" lengthAdjust="spacingAndGlyphs" >B2</text>
<rect x="2158.4" y="102.7" width="2" height="21.5" fill="#000"/>
<rect x="2158.4" y="173" width="2" height="22.0" fill="#000"/>
<rect x="2158.4" y="238" width="2" height="24.0" fill="#000"/>
<rect x="2158.4" y="316.9" width="2" height="11.3" fill="#000"/>
<rect x="2158.4" y="380.9" width="2" height="11.8" fill="#000"/>
<rect x="2158.4" y="518.4" width="2" height="11.6" fill="#000"/>
<text x="2085.2" y="144.4" font-size="20.8" textLength="79.9" lengthAdjust="spacingAndGlyphs" >0.5 Δ<tspan font-style="italic">F</tspan>/<tspan font-style="italic">F</tspan></text>
<rect x="2142.3" y="397.2" width="8.5" height="2" fill="#000"/>
<text x="2132.5" y="417.7" font-size="21.8" textLength="25.9" lengthAdjust="spacingAndGlyphs" >1 s</text>
<rect x="2141.5" y="539.3" width="7.5" height="2" fill="#000"/>
<text x="2130.4" y="561.0" font-size="21.8" textLength="27.5" lengthAdjust="spacingAndGlyphs" >1 s</text>
<text x="1837.9" y="448.9" font-size="20.8" textLength="210.6" lengthAdjust="spacingAndGlyphs" >Contrast dependency</text>
<text x="1717.3" y="534.7" font-size="20.8" textLength="25.8" lengthAdjust="spacingAndGlyphs" >B2</text>
<path transform="scale(.1)" d="M17500 5308l7-2 7 2 7 4 7-10 7-12 7 12 7 1 7-16 7-2 7-2 7 5 7 14 8-3 7-3 7-8 7 14 7-1 7 7 7-5 7-5 7 2 7 8 7-2 7-1 7-4 7 5 7 1 7-1 7-8 7 2 7-3 7 5 7 8 7-2 7-5 7-12 8 12 7-20 7 3 7 15 7 3 7 0 7-4 7-7 7-13 7 16 7-1 7-9 7 16 0 68-7-3-7 0-7-7-7 9-7-6-7 5-7 3-7 8-7-14-7 7-7-9-7 0-8 10-7-7-7 5-7 13-7-15-7 4-7-8-7 15-7-8-7 11-7-7-7-7-7 9-7-8-7 5-7-4-7 4-7-11-7 15-7-6-7 7-7-11-7 0-7 6-8-8-7 0-7-3-7-11-7 9-7 2-7 4-7 11-7-1-7 4-7 4-7-5-7 0z" fill="#9dd0ea" opacity="0.55"/>
<path transform="scale(.1)" d="M17500 5340l1-10 2-1 1 20 1-8 2 1 1-13 1 30 2-21 1-15 1 12 2-2 1-5 1 23 2 4 1-17 1-1 2-17 1 30 1-33 2 30 1-32 1 14 2 2 1 14 1-14 2-9 1-2 1 15 2-13 1-1 1 20 2 8 1-42 1 11 2 14 1 3 1-21 2 9 1 34 1-31 2 17 1-24 1 22 2-18 1-3 1 31 2-43 1 17 1 1 2 4 1 1 1-13 2-2 1 12 1 5 2-2 1-2 1 2 2-3 1 1 1 35 2-53 1 19 1-9 2 10 1 23 1-16 2-2 1 8 1-1 2-11 1 12 1-14 2 13 1 8 1-9 2-8 1 12 1 6 2-24 1 4 1-6 2-3 1 16 1-10 2 4 1-11 1 22 2 13 1 1 1-29 2 15 1-8 1 7 2-4 1-12 1 11 2 3 1-5 1-16 2 13 1 9 1-7 2 5 1-6 1 6 2-1 1-5 1 4 2-1 1-1 1 10 2 8 1-31 1 24 2-29 1 8 1-3 2 22 1-23 1 22 2 1 1-16 1-2 2 13 1-3 1 1 2 3 1-8 1 2 1 8 2-1 1 11 1-8 2 7 1-17 1 2 2 5 1-7 1 4 2 6 1-8 1-6 2-7 1 21 1-9 2 11 1-16 1 20 2-9 1 5 1-13 2 5 1-11 1 3 2 8 1 7 1-23 2-4 1 12 1-24 2 35 1-11 1-12 2 32 1-7 1-26 2 18 1-1 1 5 2-18 1 18 1-1 2 16 1-13 1-7 2 1 1 13 1-16 2 14 1-8 1 0 2 4 1-16 1-9 2 17 1 7 1 6 2-2 1-1 1 10 2-13 1 5 1-30 2 10 1 23 1-13 2-2 1 5 1-2 2-4 1-4 1-12 2 27 1-5 1 7 2-24 1 14 1 16 2-20 1-7 1 27 2 3 1-36 1 4 2 12 1-2 1 22 2-5 1 2 1-17 2-9 1-2 1 11 2 16 1-18 1 5 2-6 1-9 1 7 2 3 1-3 1 8 2-32 1 22 1-26 2 36 1-14 1 5 2-1 1-6 1-3 2 8 1 9 1 13 2-15 1-7 1-1 2 14 1 11 1-25 2 5 1-11 1 3 2-4 1 6 1 2 2 0 1 3" fill="none" stroke="#4aa3d4" stroke-width="13" stroke-linejoin="round" />
<path transform="scale(.1)" d="M17500 5285l7 1 7-8 7-3 7 5 7 12 7 4 7-13 7-2 7 0 7 11 7-11 7 3 8-5 7-2 7 14 7-7 7-5 7 8 7-20 7 16 7 1 7 11 7-13 7 10 7 2 7 1 7-16 7 14 7-9 7 2 7-8 7-1 7 0 7 9 7-2 7 2 8 1 7 3 7-5 7 0 7-6 7-3 7 7 7 4 7 7 7-7 7 1 7 0 7-10 0 68-7 13-7-6-7 7-7 4-7 0-7 10-7-18-7-15-7 17-7-5-7 1-7 1-8-1-7 8-7-11-7 1-7-6-7-2-7 2-7 11-7 9-7-9-7 12-7-9-7-4-7 1-7 1-7 1-7 5-7-14-7 5-7 5-7-5-7 10-7-17-7 9-8 13-7-5-7-3-7-7-7 17-7-12-7-3-7 3-7-5-7-12-7 0-7 24-7-5z" fill="#f6c08a" opacity="0.55"/>
<path transform="scale(.1)" d="M17500 5351l1-28 2 10 1-10 1-4 2-12 1 12 1 7 2 4 1-6 1-13 2-14 1 2 1 36 2-41 1 17 1 13 2-15 1-3 1 9 2 0 1 3 1 16 2-27 1 41 1-28 2 8 1-19 1 20 2-13 1 5 1 14 2 0 1-3 1-6 2 4 1 20 1-26 2 15 1-14 1-1 2 12 1-15 1 7 2 4 1-15 1 12 2-5 1-2 1 26 2-24 1-4 1 5 2 3 1-7 1 11 2-12 1 18 1-14 2 5 1-3 1 12 2-19 1-13 1 35 2-33 1 20 1 5 2-21 1 21 1-13 2-4 1 4 1-22 2 26 1-12 1 22 2-36 1 31 1 10 2-28 1 6 1 5 2 11 1-17 1 14 2-3 1-9 1 6 2-2 1-2 1-3 2 10 1-5 1-8 2 20 1-8 1-2 2-8 1 5 1 5 2-24 1 24 1-15 2 20 1-11 1-9 2 3 1 8 1 0 2 10 1-17 1-2 2 4 1 2 1-2 2 8 1 15 1-24 2 37 1-15 1-8 2-17 1 21 1-18 2 7 1-5 1-4 2 8 1-24 1 19 1 11 2-10 1-10 1 13 2 13 1-8 1 7 2-8 1 19 1-2 2-24 1-12 1 12 2 18 1 0 1-25 2-6 1 13 1 24 2-21 1-2 1 7 2 0 1-27 1 12 2 6 1 6 1-1 2-12 1-13 1 14 2-2 1-6 1 23 2-12 1-8 1 9 2 10 1-13 1-7 2 6 1 8 1-16 2 15 1-20 1 18 2 6 1 2 1-7 2 2 1-4 1 12 2-22 1 0 1 16 2 8 1-16 1-4 2 23 1-28 1-11 2 16 1-9 1 22 2-15 1 34 1-10 2-22 1 19 1 1 2-19 1 18 1-1 2 4 1-16 1 13 2 11 1-19 1 6 2-13 1-24 1 7 2 29 1 6 1-21 2-4 1 13 1-16 2-2 1 7 1-17 2 26 1-1 1 3 2 7 1 2 1-12 2 9 1 19 1-19 2 2 1-7 1 16 2-9 1 8 1-16 2 4 1 7 1 0 2 0 1 15 1-21 2 2 1 8 1 5 2 6 1-27 1-14 2 11 1 9 1 4 2-5 1-2 1-8 2 4 1-5 1 11 2-8 1-13" fill="none" stroke="#f08a30" stroke-width="13" stroke-linejoin="round" />
<path transform="scale(.1)" d="M17500 5270l7-5 7 5 7 5 7 3 7 0 7-3 7 0 7-3 7-3 7 15 7-19 7 9 8-6 7 0 7 8 7-12 7 21 7-4 7-5 7-11 7 16 7 4 7-7 7 2 7-14 7 10 7 0 7 4 7 0 7-3 7-18 7 20 7-2 7 8 7-10 7 8 8-7 7 5 7-14 7 10 7-1 7-2 7 2 7-7 7 11 7-5 7 2 7-4 7 2 0 64-7 1-7 1-7 2-7 9-7-10-7 7-7 5-7 0-7-12-7 7-7-4-7 10-8 5-7-5-7-9-7 2-7-10-7 7-7-2-7 3-7 8-7-9-7 5-7-11-7 4-7 14-7-7-7-9-7 4-7-5-7 23-7-17-7 2-7-3-7-2-7-7-8 14-7 3-7-4-7-5-7 1-7 4-7-8-7-1-7 2-7-5-7 2-7 5-7 0z" fill="#aaa" opacity="0.55"/>
<path transform="scale(.1)" d="M17500 5310l1-9 2-2 1 2 1 9 2-7 1 2 1 12 2-9 1 9 1-31 2 8 1 3 1 28 2-13 1 8 1-15 2 11 1-6 1-20 2 22 1 1 1-7 2-10 1 8 1 15 2 8 1 1 1 5 2-56 1 34 1-16 2 1 1-4 1 15 2-5 1 37 1-61 2 13 1 14 1-7 2 18 1-10 1-13 2 6 1 21 1-2 2-9 1 14 1-1 2-10 1 17 1-13 2 3 1 0 1 5 2-2 1 4 1-30 2 28 1-23 1 21 2-35 1 25 1-18 2 28 1 3 1-19 2 3 1-4 1 7 2-13 1 1 1-15 2 33 1 0 1 1 2-20 1 6 1 7 2 5 1 7 1 0 2-21 1 13 1 13 2-7 1-17 1 5 2-12 1 9 1 6 2-6 1 15 1-21 2 5 1 17 1-11 2-16 1-3 1 29 2-10 1 1 1-10 2-6 1 15 1 3 2-14 1 7 1 11 2-7 1 10 1-17 2 8 1-2 1 5 2-20 1 27 1-1 2 6 1-40 1 21 2 15 1-6 1 5 2-17 1-7 1 13 2 1 1 5 1-9 1-1 2 4 1 2 1-5 2-16 1 18 1-3 2-5 1 10 1-4 2-10 1 9 1 9 2-1 1 2 1-23 2 26 1-20 1 15 2-8 1 2 1 1 2-11 1 15 1-11 2 1 1 5 1-33 2 41 1-18 1 1 2 1 1 1 1 17 2-30 1-4 1 46 2-24 1 10 1-16 2 6 1 15 1-16 2-14 1 17 1-25 2 26 1 22 1-23 2 35 1-42 1 22 2-26 1 0 1 3 2 12 1 2 1-5 2-4 1-1 1 2 2-12 1 23 1 6 2-11 1 15 1-15 2-8 1-10 1 40 2-30 1-3 1 3 2 13 1 0 1 22 2-27 1-18 1 17 2 3 1-12 1 0 2 28 1-32 1-2 2 10 1 17 1-16 2 1 1-5 1 7 2 21 1-22 1-10 2 23 1 5 1-13 2 5 1-9 1 12 2 4 1-15 1 1 2 1 1-12 1 4 2 16 1-4 1 3 2-32 1 11 1 33 2-20 1-4 1-21 2 29 1-11 1-16 2 10 1 16 1-2 2-3 1-16 1-6 2 18 1-17 1 27 2-5 1 2" fill="none" stroke="#000" stroke-width="13" stroke-linejoin="round" />
<path transform="scale(.1)" d="M18026 5294l7-4 7 0 7 7 7 4 7-1 7-19 7 18 7 7 7-5 7 9 7-11 7 1 8 1 7-11 7 0 7 1 7-5 7 5 7 8 7-15 7 13 7-6 7-9 7 3 7 9 7-2 7-13 7 18 7-6 7-1 7-10 7-5 7 11 7-15 7 18 7-4 8-2 7-5 7-4 7 10 7 2 7 7 7-14 7-7 7-1 7 15 7-2 7 2 7-10 0 70-7 6-7-3-7 3-7-1-7 13-7-6-7-1-7-7-7 2-7 5-7-6-7 0-8-3-7 2-7 4-7 1-7-4-7 6-7-1-7 18-7 0-7-16-7 8-7-9-7-5-7 2-7 5-7 3-7 4-7 1-7-2-7-6-7-5-7 7-7 2-7 5-8-2-7 16-7-4-7-2-7-7-7 4-7-11-7 8-7-3-7 6-7 7-7-11-7 2z" fill="#9dd0ea" opacity="0.55"/>
<path transform="scale(.1)" d="M18026 5343l1 6 2 7 1-30 1 12 2 0 1-9 1 3 2-1 1-8 1 14 2 15 1-22 1-4 2 5 1 3 1-27 2 34 1-15 1 4 2 3 1-24 1 29 2-10 1-17 1 11 2-4 1 16 1-9 2-4 1-9 1 24 2-1 1-6 1-3 2 14 1-21 1 31 2-3 1-22 1 25 2-6 1-21 1 17 2-6 1-14 1 24 2-23 1 20 1 3 2-8 1-18 1 33 2-12 1 5 1 2 2-11 1 10 1-7 2-8 1 2 1 1 2 19 1-7 1-4 2-5 1-8 1 15 2-8 1 10 1-12 2 12 1 8 1-35 2 4 1-15 1 12 2 25 1-22 1 3 2-6 1-7 1 42 2-35 1 6 1-20 2 10 1 30 1-3 2-19 1-2 1 5 2 5 1 21 1-25 2 9 1-24 1 19 2-17 1 11 1-1 2 0 1 12 1-16 2 7 1-11 1 10 2-13 1 21 1-7 2-7 1 32 1-25 2-3 1-1 1-5 2 17 1-9 1-6 2 11 1-14 1-5 2 14 1-16 1 26 2-7 1-13 1-15 2 31 1-25 1 17 1-9 2 39 1-50 1 12 2-10 1 7 1 23 2-17 1 4 1 22 2-25 1 17 1-34 2 38 1-36 1 44 2-21 1 1 1-5 2 2 1 8 1 2 2-19 1 11 1-6 2 0 1 4 1-12 2 21 1-36 1 13 2 13 1-12 1 8 2-21 1 28 1-15 2 12 1-22 1 19 2-3 1 18 1-9 2-11 1-1 1 1 2-8 1 1 1 23 2-21 1 2 1-2 2 8 1 9 1-14 2 16 1-10 1-14 2 31 1-30 1-4 2-4 1 21 1 21 2-45 1 13 1 3 2 17 1-28 1 11 2 14 1-5 1-4 2 10 1-24 1 15 2 5 1-3 1-14 2-7 1 26 1-15 2 4 1-7 1-2 2 10 1 23 1-14 2-4 1-1 1-9 2 27 1-12 1-12 2 5 1 0 1 19 2-22 1-12 1 18 2-23 1 21 1-19 2 13 1 5 1-19 2 26 1-19 1-7 2 14 1 6 1 0 2-11 1-20 1 16 2 5 1 5 1-10 2 18 1-3 1 8 2-14 1 10 1-10 2-5 1 9 1 5 2-3 1-14" fill="none" stroke="#4aa3d4" stroke-width="13" stroke-linejoin="round" />
<path transform="scale(.1)" d="M18026 5285l7-5 7 3 7-2 7-1 7-8 7 13 7-7 7 10 7-2 7 4 7-9 7-1 8 2 7-2 7 6 7-11 7-4 7 3 7-2 7 1 7-4 7 0 7-4 7-13 7 11 7 4 7 3 7-23 7 22 7 5 7-17 7 13 7-11 7-3 7-1 7 17 8-12 7 0 7-6 7 5 7 4 7-9 7 0 7 6 7-12 7 2 7 10 7-10 7 2 0 76-7-5-7 12-7-10-7-1-7-4-7 3-7 2-7 4-7 3-7-3-7 5-7 1-8-3-7 1-7 0-7-1-7 8-7-1-7-6-7-2-7 3-7-2-7 3-7-8-7 0-7 4-7 20-7-3-7-3-7-1-7-3-7 22-7-11-7-1-7 3-7-6-8 3-7 2-7 2-7 2-7-9-7 3-7 4-7-10-7 11-7-1-7 11-7-12-7-4z" fill="#f6c08a" opacity="0.55"/>
<path transform="scale(.1)" d="M18026 5314l1 11 2-2 1-4 1-5 2 6 1 11 1 5 2-20 1 16 1-17 2 12 1-9 1 5 2-6 1-19 1 33 2 7 1-3 1-27 2 15 1 1 1-15 2 20 1-17 1-11 2 17 1 4 1-22 2 17 1 2 1 7 2-12 1-19 1 11 2 12 1-11 1 19 2-12 1-11 1-10 2 23 1-17 1 7 2 12 1 3 1-9 2 5 1 6 1 6 2-22 1 6 1 5 2-9 1 19 1 1 2-20 1 21 1-10 2 1 1-9 1 18 2-37 1 31 1-3 2-16 1 16 1-1 2-15 1 10 1-14 2 11 1-2 1-1 2-13 1 9 1 3 2 14 1 13 1-19 2-5 1 2 1 1 2 17 1-22 1 24 2-28 1-7 1 10 2 18 1-32 1 23 2-6 1 5 1-8 2-21 1 33 1-21 2-3 1 4 1 7 2 1 1 13 1-8 2 4 1-5 1-2 2-5 1 26 1-26 2 12 1-8 1 1 2-1 1-5 1 1 2 7 1 0 1-18 2 2 1 4 1 7 2 1 1-28 1 7 2 12 1-24 1 1 2 8 1 12 1-17 1 10 2 17 1 5 1-14 2-18 1 13 1 4 2-14 1 21 1 8 2-21 1 21 1-14 2 1 1 23 1-10 2-8 1-8 1 18 2-8 1-9 1 19 2 9 1-26 1-3 2 12 1-20 1 1 2 8 1 7 1-7 2 19 1-3 1-3 2-10 1 27 1-25 2 18 1-18 1 5 2 0 1 15 1-1 2-18 1-10 1 12 2 1 1 8 1-17 2 15 1-23 1 21 2 1 1-17 1 27 2-28 1-14 1 16 2 9 1-8 1-16 2 24 1 24 1-19 2 1 1 2 1 0 2-13 1-13 1-2 2 3 1 21 1-10 2-13 1 6 1 10 2 5 1-10 1 5 2-14 1-19 1 27 2 15 1-17 1 23 2-44 1 23 1 3 2 3 1-3 1-7 2 0 1 0 1 1 2-2 1 5 1-19 2 13 1 8 1-26 2 11 1 26 1-23 2 4 1 1 1-17 2-8 1 26 1-4 2 7 1 3 1-22 2 8 1 8 1 2 2-8 1 8 1-12 2 32 1-45 1 34 2 2 1-19 1 14 2-23 1 9 1 3 2 25 1-31" fill="none" stroke="#f08a30" stroke-width="13" stroke-linejoin="round" />
<path transform="scale(.1)" d="M18026 5257l7 18 7 2 7 0 7-1 7-12 7 16 7-5 7 1 7-1 7-9 7-3 7 15 8-3 7-15 7 9 7 4 7 3 7-11 7-4 7 5 7 1 7-4 7 13 7-9 7-1 7 9 7-8 7-22 7 14 7-6 7 6 7-1 7 7 7 0 7-7 7-19 8 10 7-1 7 13 7-19 7 18 7 2 7-20 7 18 7-1 7-5 7-15 7-4 7-15 0 68-7 20-7-2-7 17-7 2-7 6-7 3-7-11-7 4-7-5-7 15-7 0-7-4-8-1-7 3-7-7-7 0-7 3-7 4-7-8-7 6-7-5-7 6-7 5-7-1-7 2-7 6-7-10-7-2-7 0-7 15-7-14-7 4-7-2-7-7-7 17-7 2-8-7-7 2-7-4-7 11-7 2-7-5-7 8-7-3-7-15-7 12-7-13-7 20-7-8z" fill="#aaa" opacity="0.55"/>
<path transform="scale(.1)" d="M18026 5307l1-18 2 19 1 8 1 0 2 1 1 6 1-10 2 18 1-22 1-2 2 15 1-15 1-19 2 20 1 1 1-33 2 24 1 18 1-8 2-5 1 4 1-4 2-6 1-5 1-2 2 1 1 7 1 4 2 2 1-5 1 6 2 7 1-11 1 21 2-10 1-20 1 25 2 5 1-28 1 9 2 13 1-33 1-11 2 38 1 3 1-15 2-2 1 11 1 9 2-4 1 4 1-18 2 19 1-1 1-8 2 3 1 6 1-6 2 12 1-25 1-5 2 9 1-18 1 31 2-11 1-2 1 27 2-11 1-12 1-1 2 0 1-2 1-16 2 25 1-12 1-1 2-18 1 25 1 1 2-7 1 12 1-10 2-16 1 2 1 22 2-9 1 0 1-4 2 6 1 5 1-5 2 10 1-8 1-3 2-11 1 6 1 2 2-4 1 5 1-6 2-12 1 28 1-33 2 26 1-25 1 3 2 17 1-8 1 7 2 10 1 3 1-29 2 22 1-14 1-9 2 22 1-9 1 10 2 5 1-4 1-10 2-1 1 21 1-23 2 22 1 2 1-12 2 12 1-19 1 6 1 13 2-13 1 21 1-20 2-10 1 7 1 27 2-7 1 0 1-38 2 10 1 21 1-24 2 16 1-25 1 2 2 4 1-1 1 5 2-5 1 9 1-5 2 13 1-18 1 23 2-10 1-4 1 10 2-10 1 10 1-14 2 11 1 19 1-35 2 11 1-8 1-15 2 45 1-24 1 4 2 8 1-26 1 10 2-12 1 5 1 24 2-15 1 7 1 16 2-8 1-16 1-6 2-7 1 15 1 0 2 6 1-7 1 3 2 15 1 1 1-7 2-17 1-7 1 7 2 5 1-23 1 38 2-6 1 9 1-17 2-6 1-8 1 32 2-14 1 17 1-19 2-3 1-2 1-5 2-10 1 10 1-4 2 0 1-1 1 32 2-24 1 12 1-5 2-3 1 2 1 7 2 12 1-3 1-24 2 9 1-1 1 8 2-2 1 21 1-28 2 14 1-18 1-10 2 33 1-16 1-13 2-5 1-5 1 20 2 7 1-6 1-26 2 9 1-3 1 13 2 5 1-17 1-2 2-20 1-2 1 42 2-30 1 16 1-11 2 10 1-11 1 1 2-16 1 0" fill="none" stroke="#000" stroke-width="13" stroke-linejoin="round" />
<path transform="scale(.1)" d="M18552 5294l7-2 7 13 7 10 7-2 7-17 7-4 7 14 7-3 7-1 7-3 7 7 7-9 8 10 7-19 7 3 7 1 7 2 7 2 7 10 7-5 7-14 7 3 7 0 7 9 7 5 7 5 7-6 7 10 7-19 7 6 7-11 7 6 7 0 7-8 7 21 7-6 8 7 7 0 7-12 7 2 7-12 7 5 7 1 7 8 7 2 7 1 7 5 7-4 7-19 0 86-7 9-7 8-7-20-7 13-7-17-7 6-7 4-7-9-7 6-7-11-7 11-7 0-8 3-7-1-7-3-7-1-7 2-7-3-7 0-7 1-7 5-7 0-7-5-7 2-7-5-7-5-7 5-7 12-7-4-7 8-7-15-7 4-7-12-7 3-7 12-7-9-8 8-7 6-7 0-7-8-7 4-7-3-7 3-7 5-7-4-7 7-7-14-7 6-7 2z" fill="#9dd0ea" opacity="0.55"/>
<path transform="scale(.1)" d="M18552 5355l1-11 2 27 1-36 1 18 2-26 1 12 1 7 2-4 1 9 1-33 2 20 1-1 1 16 2-11 1-12 1 4 2 15 1 5 1-16 2-20 1 33 1-24 2 42 1-37 1-9 2 15 1 3 1-5 2 5 1-14 1 12 2-7 1 8 1-15 2 1 1 21 1 3 2 20 1-40 1 17 2-5 1-4 1 17 2-32 1 2 1 6 2-4 1-3 1 15 2 1 1-9 1 11 2 9 1-3 1 13 2 11 1-43 1-6 2 6 1 4 1 8 2 5 1 0 1 21 2-23 1 6 1-5 2 7 1-21 1-10 2 7 1 22 1-18 2 0 1 11 1 0 2-4 1-11 1 1 2 1 1 4 1-6 2 18 1-7 1-12 2-2 1 19 1-12 2 6 1-11 1 17 2-7 1-29 1 33 2-18 1 22 1-5 2 8 1-21 1 14 2-4 1 27 1-9 2 3 1-21 1 19 2-25 1 13 1-2 2-21 1 8 1-2 2 4 1 1 1-3 2 13 1-15 1 3 2-8 1 21 1-18 2-19 1 25 1 25 2-28 1-12 1 7 2-2 1 29 1-31 1 12 2 2 1 7 1-3 2-5 1 19 1-35 2 21 1 2 1 20 2-2 1-30 1 27 2-19 1 6 1-6 2-8 1 16 1-19 2 16 1-17 1 15 2-5 1 17 1-14 2 15 1-11 1 3 2-8 1-6 1-7 2-9 1 29 1-6 2-8 1 16 1-22 2 19 1-15 1-7 2 11 1-9 1 22 2-15 1 0 1 4 2-27 1 33 1-20 2 16 1 2 1-5 2 11 1-10 1-22 2 36 1-21 1 17 2 0 1-2 1-8 2 29 1-22 1-6 2-3 1 16 1-10 2 8 1 10 1-10 2-4 1 0 1 1 2-6 1-11 1 2 2 13 1-16 1-11 2 16 1 12 1-13 2 16 1-4 1 10 2-33 1 18 1 3 2-3 1-6 1 4 2 12 1-2 1-21 2 22 1-25 1 22 2-6 1-17 1 16 2-3 1-1 1 3 2 0 1 16 1-13 2-6 1-15 1 6 2 4 1 11 1 25 2-5 1-29 1 25 2-26 1-1 1 20 2-19 1 0 1 30 2-23 1 2 1-1 2 3 1-4 1 11 2-10 1-11" fill="none" stroke="#4aa3d4" stroke-width="13" stroke-linejoin="round" />
<path transform="scale(.1)" d="M18552 5285l7-14 7-5 7 24 7-6 7-14 7 1 7 11 7-8 7 8 7-3 7 6 7-3 8-12 7 3 7 5 7-4 7 1 7 8 7 0 7-7 7 13 7-2 7 0 7-1 7 4 7-8 7 2 7-5 7 9 7-3 7-3 7 6 7-6 7 3 7 3 7-3 8-21 7 17 7 4 7 5 7-8 7-6 7-8 7 14 7 0 7 8 7 4 7-10 7-11 0 90-7-12-7 4-7 12-7-21-7 2-7-2-7 0-7 0-7 23-7-7-7-7-7-5-8-2-7 9-7-3-7-11-7 9-7 22-7-20-7 8-7 10-7-7-7-17-7 2-7 27-7-15-7-3-7 12-7-18-7-2-7-4-7 8-7 11-7-10-7-4-7 0-8-2-7 2-7-5-7-2-7 1-7 4-7-11-7 3-7 11-7-2-7 1-7 1-7 6z" fill="#f6c08a" opacity="0.55"/>
<path transform="scale(.1)" d="M18552 5302l1 14 2 3 1 11 1-32 2 22 1-6 1-3 2 15 1-13 1 17 2 3 1-26 1 32 2-16 1 2 1-32 2 29 1-15 1 9 2-6 1-10 1 13 2-1 1 16 1 6 2-13 1-1 1-26 2 6 1 12 1-11 2 8 1 3 1-22 2 5 1 16 1-10 2 5 1-1 1 7 2 17 1-15 1 24 2-17 1 14 1-27 2 20 1 1 1-15 2-8 1 20 1-1 2-12 1 21 1-20 2 7 1-9 1-1 2-3 1 12 1-13 2 20 1-21 1 14 2-12 1 7 1-12 2-4 1 13 1-24 2 29 1-8 1 7 2-5 1 13 1-24 2 8 1 8 1-8 2-2 1 5 1 22 2-3 1-23 1 1 2-4 1 17 1-24 2 20 1-20 1 29 2-10 1-16 1 7 2 21 1-14 1 18 2-20 1-2 1-4 2-3 1 9 1-5 2-13 1 32 1-1 2 15 1-6 1-3 2-7 1-8 1 3 2 2 1 10 1-23 2 28 1-5 1 2 2-2 1-7 1-15 2 21 1-22 1 23 2-17 1 24 1-20 2 2 1 2 1-7 1-14 2 21 1-8 1 3 2 17 1 2 1-8 2-1 1-8 1 20 2-29 1 28 1-5 2-21 1 8 1 3 2-10 1 4 1 14 2-4 1-1 1-8 2-7 1-11 1 27 2-11 1 18 1-5 2-11 1 14 1-6 2 7 1-21 1 17 2-12 1 21 1-16 2-6 1 13 1-9 2 15 1-24 1 14 2-5 1 1 1 17 2-11 1 5 1-13 2-14 1 9 1-4 2-1 1 8 1 21 2-5 1 14 1-13 2-20 1-13 1 37 2-32 1 17 1-17 2 4 1 7 1-10 2 9 1-3 1 8 2 13 1-13 1 10 2-15 1-9 1 10 2-4 1 19 1-11 2 2 1 12 1-29 2 25 1-8 1-11 2-2 1-3 1-1 2 6 1-3 1 23 2-19 1 18 1-23 2 17 1-4 1-18 2 30 1-27 1 4 2 13 1 16 1-49 2 38 1-3 1 10 2-43 1 36 1 7 2-11 1 8 1-13 2-1 1 19 1-47 2 36 1-14 1 16 2 6 1 27 1-55 2 34 1-18 1-10 2 5 1-3 1-4 2 16 1 10" fill="none" stroke="#f08a30" stroke-width="13" stroke-linejoin="round" />
<path transform="scale(.1)" d="M18552 5236l7-2 7 18 7-6 7 12 7 4 7-12 7-3 7 3 7 5 7 13 7-14 7 0 8 15 7 8 7-4 7 0 7 1 7-3 7 1 7-2 7 0 7 0 7-7 7 8 7 0 7-2 7 3 7-1 7-2 7 10 7-13 7 5 7-17 7 18 7-2 7 6 8-4 7-7 7-6 7 12 7 7 7-12 7 12 7 0 7-2 7 7 7 0 7-13 7-2 0 74-7 6-7 9-7-2-7-15-7-1-7 4-7 6-7-8-7-4-7 4-7-8-7 12-8 6-7-8-7 0-7 1-7 5-7-4-7 4-7-1-7-7-7-4-7 3-7-1-7 3-7-2-7-3-7 18-7-17-7 17-7-11-7 0-7-4-7 6-7 4-7-16-8 6-7-7-7-7-7 9-7-6-7-14-7 3-7 20-7-16-7-2-7-2-7-7-7-4z" fill="#aaa" opacity="0.55"/>
<path transform="scale(.1)" d="M18552 5276l1-1 2 9 1 9 1-15 2-26 1 3 1 19 2 7 1-4 1-6 2-4 1 32 1-6 2-8 1 24 1-9 2-11 1 24 1-23 2 13 1-3 1 3 2-15 1 7 1 11 2-20 1 17 1-35 2 30 1 7 1-22 2 17 1-34 1 30 2-7 1-4 1 1 2 13 1-28 1 21 2-3 1 1 1 12 2-33 1 23 1-4 2 27 1-12 1-15 2 1 1 16 1-6 2-12 1 1 1 12 2 9 1-16 1-6 2 3 1-5 1 4 2 12 1-6 1-17 2 33 1-13 1-12 2 7 1-24 1 58 2-27 1 19 1-13 2-6 1-2 1 16 2-10 1 40 1-40 2 0 1 8 1 5 2 9 1-26 1 21 2-22 1 18 1-18 2 12 1-18 1 16 2-8 1-3 1 2 2 18 1-26 1 29 2-14 1-5 1 0 2 23 1-27 1 2 2 14 1-12 1 24 2-5 1-31 1 33 2-22 1 38 1-44 2 13 1 15 1-23 2-2 1 9 1-13 2 19 1-38 1 24 2-3 1 13 1-25 2-5 1 33 1-1 2-17 1 0 1 8 1-26 2 32 1-8 1 6 2 18 1-11 1-9 2 30 1-37 1 10 2-14 1 8 1 6 2-12 1 5 1 17 2-3 1-7 1 7 2 7 1-19 1-18 2 26 1 3 1 2 2-4 1-11 1 13 2 17 1-6 1-11 2 2 1 9 1-6 2-4 1 17 1-20 2 4 1-8 1 6 2 0 1-22 1 21 2-1 1 0 1 4 2-15 1 7 1 10 2-2 1-6 1-6 2 11 1 5 1 11 2-12 1 1 1 3 2-11 1 10 1-32 2 15 1-17 1 18 2-1 1-23 1 19 2-9 1 13 1 1 2-18 1 20 1 13 2-9 1-14 1 10 2-13 1 12 1-9 2 3 1 36 1-47 2 30 1-33 1 5 2 25 1-2 1-13 2 32 1-26 1-9 2 18 1-7 1-1 2 12 1-9 1-6 2 13 1-2 1-3 2-5 1-3 1 16 2-31 1 20 1 7 2-19 1 36 1-15 2 6 1 10 1-40 2 7 1 20 1-24 2 3 1 14 1-1 2 1 1 23 1-14 2-18 1-23 1 9 2 19 1-9 1 0 2-16 1 20" fill="none" stroke="#000" stroke-width="13" stroke-linejoin="round" />
<path transform="scale(.1)" d="M19075 5306l7-34 7-30 7-33 7-12 7-22 7-21 7-21 7 0 7-31 7-5 7 9 7-4 8-2 7-19 7-5 7 7 7-8 7-8 7 5 7-1 7 0 7-13 7 3 7 4 7 6 7 2 7-8 7-13 7-1 7 8 7 1 7-6 7-5 7-2 7 18 7-13 8-1 7-12 7 8 7 12 7-1 7-3 7-5 7 3 7 2 7-1 7 7 7-18 7 5 0 69-7 7-7 0-7 9-7-11-7 1-7 1-7 9-7-7-7-7-7-5-7 6-7 6-8 1-7-1-7 13-7-14-7 4-7 2-7 0-7-1-7-1-7 5-7 11-7-1-7-16-7 3-7 0-7 10-7-7-7 3-7-3-7 16-7-1-7 0-7 2-7 23-8 5-7-9-7 10-7 12-7 12-7 20-7 7-7 11-7 21-7 28-7 27-7 35-7 24z" fill="#9dd0ea" opacity="0.55"/>
<path transform="scale(.1)" d="M19075 5338l1 5 2-8 1-16 1-27 2 6 1 19 1-26 2-5 1 3 1 14 2-43 1 19 1-21 2 5 1 8 1-24 2-6 1-13 1-2 2 3 1-14 1 16 2-8 1-11 1 20 2-18 1-13 1 16 2-13 1 3 1 10 2-33 1-9 1 13 2-11 1-2 1-23 2 24 1-12 1 9 2 8 1-8 1-11 2 6 1 2 1 5 2-13 1-6 1-21 2 4 1 7 1 8 2-22 1 20 1-14 2 2 1 0 1 4 2-13 1 0 1 4 2 10 1-2 1-2 2-7 1-4 1 4 2-2 1 18 1-18 2-1 1 6 1-17 2 1 1-3 1 11 2-9 1 8 1-8 2 2 1-15 1 16 2 4 1-30 1 17 2-6 1 21 1-12 2-12 1-1 1 15 2-37 1 26 1 3 2-11 1 3 1-11 2-6 1 7 1 11 2-14 1 18 1-6 2-2 1 14 1-24 2-12 1 23 1 19 2-11 1-10 1 13 2-32 1 15 1 15 2-7 1-13 1-13 2 23 1-14 1 23 2-6 1 6 1-18 2-15 1 21 1 4 2-7 1 8 1 13 1-24 2-2 1 24 1-21 2 21 1-8 1 1 2-1 1-9 1 21 2-22 1-4 1 6 2-12 1-17 1 21 2 12 1-17 1-7 2 27 1-11 1 7 2 1 1-30 1 38 2-24 1 0 1 7 2 14 1 11 1 11 2-14 1-16 1 13 2-16 1 11 1-3 2-13 1 5 1-16 2 22 1-9 1 17 2-14 1 11 1-19 2 26 1-15 1-4 2-21 1 12 1 11 2 11 1-17 1-14 2 14 1-6 1 17 2 6 1-21 1-11 2 12 1-3 1-3 2-6 1 14 1-11 2 7 1-13 1-9 2 4 1 9 1 5 2-8 1-7 1 23 2-15 1 6 1-11 2 20 1 0 1 13 2-17 1 2 1-16 2 7 1 8 1-15 2 23 1-2 1 3 2-19 1 12 1 0 2-19 1 16 1 2 2-15 1 2 1 7 2 1 1 8 1-7 2 14 1 18 1-38 2 21 1 0 1-20 2-5 1 27 1-16 2-7 1 18 1-10 2 23 1-17 1 2 2-15 1 5 1 16 2-11 1 2 1-3 2-9 1 13 1 27 2-26 1-26" fill="none" stroke="#4aa3d4" stroke-width="13" stroke-linejoin="round" />
<path transform="scale(.1)" d="M19075 5279l7-38 7-40 7-30 7-30 7-28 7-20 7-22 7-4 7-13 7-10 7-13 7-25 8 2 7-9 7-6 7-11 7 12 7-14 7-7 7-5 7-4 7 14 7-1 7-1 7-1 7-7 7-3 7-11 7-5 7-1 7 5 7-3 7 5 7 0 7 6 7-7 8 3 7 6 7 0 7-13 7 15 7 0 7-6 7 0 7-4 7-3 7 6 7-5 7 4 0 70-7-10-7 4-7 4-7 3-7 4-7 0-7-5-7 7-7 2-7-7-7-6-7 0-8 5-7-3-7 0-7-3-7-2-7 6-7-8-7 5-7 9-7 6-7-1-7 10-7-1-7 4-7-10-7 2-7 1-7-5-7 17-7 2-7 7-7 1-7 7-7 8-8 12-7 4-7 27-7 5-7-1-7 27-7 8-7 33-7 16-7 27-7 43-7 35-7 39z" fill="#f6c08a" opacity="0.55"/>
<path transform="scale(.1)" d="M19075 5335l1-30 2 6 1-11 1-25 2 16 1 5 1-36 2-2 1-24 1 3 2 5 1-17 1 14 2-15 1 4 1-23 2-1 1-16 1-5 2 7 1-15 1-4 2-1 1 0 1-16 2-6 1 4 1-16 2-5 1-9 1 17 2-32 1 15 1-4 2 1 1-3 1-8 2-10 1-5 1 23 2-15 1 2 1 10 2-12 1-6 1-2 2 9 1-12 1 5 2-25 1 4 1 0 2 14 1-22 1-2 2 3 1-9 1 14 2-15 1 0 1 0 2-2 1 24 1-32 2 9 1 10 1-10 2-8 1-10 1 1 2-6 1 7 1 16 2-17 1 6 1-21 2-10 1 14 1 15 2-7 1-4 1-22 2 29 1 17 1-42 2 4 1-6 1 11 2 7 1-17 1 13 2-5 1-17 1 43 2-37 1-8 1 20 2-10 1 24 1-40 2 1 1 9 1 17 2-19 1-4 1-2 2 7 1-2 1 11 2 3 1-10 1 10 2-3 1-17 1 17 2-7 1 4 1-12 2 14 1-13 1 5 2-16 1 4 1 18 2-3 1-20 1 24 2-13 1 1 1 16 1-7 2-1 1 2 1-27 2 13 1 8 1-15 2-6 1 26 1 6 2-32 1 30 1-10 2-16 1 32 1-11 2-25 1 22 1-5 2-9 1 21 1-26 2 4 1-14 1 1 2 6 1 4 1 13 2-30 1 12 1 8 2 10 1-17 1-7 2-3 1 13 1-3 2 0 1-14 1 29 2-20 1 7 1 1 2-5 1 25 1-6 2 2 1-16 1 8 2-11 1 23 1-19 2-16 1 20 1 15 2-13 1 14 1-21 2-9 1 9 1 8 2 2 1-4 1 2 2 7 1-10 1 14 2-21 1 28 1-20 2-4 1-5 1 20 2-18 1 34 1-25 2 0 1-16 1 21 2-7 1 16 1-10 2 25 1-35 1-1 2 9 1 7 1-12 2-7 1-9 1 23 2-8 1 3 1-2 2 2 1 8 1-19 2 7 1 2 1 10 2 23 1-34 1-14 2 21 1-15 1 16 2-6 1 16 1-35 2 25 1 9 1-2 2-2 1-28 1 12 2 5 1-2 1 9 2-14 1 2 1-21 2 32 1-13 1-8 2-12 1 19 1 14 2-5 1-19" fill="none" stroke="#f08a30" stroke-width="13" stroke-linejoin="round" />
<path transform="scale(.1)" d="M19075 5280l7-47 7-31 7-38 7-31 7-22 7-16 7-27 7-19 7-9 7-20 7-5 7-7 8-13 7-5 7-7 7-9 7-9 7 2 7 7 7-2 7-16 7 3 7-7 7-3 7-2 7-7 7 4 7 0 7-5 7-11 7 14 7 0 7-2 7 3 7-7 7-5 8 2 7 10 7 1 7 0 7-4 7-10 7 0 7 7 7 4 7-2 7-3 7-2 7 2 0 66-7-2-7 7-7 9-7-10-7-7-7 4-7 2-7 0-7 5-7-4-7 14-7-16-8-4-7 12-7-4-7 8-7-12-7-3-7 6-7 26-7-26-7 12-7-10-7 0-7 13-7-4-7 8-7 9-7 3-7 2-7-4-7 6-7 5-7-3-7 28-7-1-8-4-7 11-7 16-7 18-7 10-7 17-7 22-7 13-7 41-7 22-7 37-7 31-7 39z" fill="#aaa" opacity="0.55"/>
<path transform="scale(.1)" d="M19075 5311l1-4 2 1 1-13 1-25 2 16 1-12 1 3 2-28 1-9 1-19 2 19 1-8 1-5 2-16 1 2 1-5 2-14 1-7 1-7 2 11 1-25 1 4 2-6 1-11 1 1 2-19 1-9 1 15 2 5 1 6 1-25 2 5 1-12 1-14 2 9 1-16 1 28 2-22 1-18 1-2 2 30 1-16 1-17 2-5 1 25 1-21 2 0 1-21 1 11 2-5 1-14 1-1 2 21 1-17 1-1 2-19 1 1 1 21 2-31 1 21 1-26 2 8 1 16 1 0 2-9 1-10 1 22 2-10 1-26 1 7 2-5 1 3 1 1 2 8 1-10 1 19 2-16 1-9 1 3 2-7 1 7 1-15 2 14 1-29 1 24 2-10 1-11 1 15 2 17 1-17 1 6 2 7 1-11 1 8 2-8 1 11 1-18 2 12 1-17 1 30 2-11 1 0 1 3 2 7 1 9 1-37 2-15 1 26 1-4 2-12 1 17 1-13 2-15 1 18 1-4 2-14 1 2 1 25 2-1 1-28 1 18 2 19 1-33 1 4 2 5 1 8 1-3 2-10 1-22 1 18 1-23 2 21 1-7 1 9 2-11 1 20 1-21 2 22 1-6 1-1 2 9 1-5 1-2 2-11 1-2 1 2 2 26 1-21 1-5 2 18 1-12 1-1 2-31 1 27 1 0 2 13 1 7 1-27 2 11 1-11 1 4 2 11 1 4 1-31 2 11 1 14 1 3 2 14 1-7 1 2 2 3 1-14 1-4 2-20 1 16 1-5 2 5 1 17 1 1 2-14 1-9 1-9 2 12 1-8 1 6 2-5 1 12 1-16 2 16 1-3 1-24 2 27 1-3 1-3 2 8 1 13 1-14 2-10 1 8 1 3 2-11 1 5 1-6 2 38 1-39 1 5 2 12 1 1 1-12 2 10 1 6 1-25 2 15 1-6 1-1 2 11 1 22 1-25 2-7 1 11 1-4 2 16 1-15 1-15 2 9 1 17 1-26 2 1 1 13 1-6 2-3 1-4 1 7 2-18 1 11 1 2 2 2 1-12 1 15 2 7 1 7 1-17 2 9 1 14 1-22 2-24 1 16 1 15 2 10 1-9 1 8 2 2 1-9 1-4 2-31 1 41 1-38 2 14 1 21" fill="none" stroke="#000" stroke-width="13" stroke-linejoin="round" />
<path transform="scale(.1)" d="M19595 5036l7 40 7 24 7 31 7 9 7 23 7 15 7 6 7 10 7 15 7 15 7 20 7 4 8 1 7 4 7 2 7 13 7-11 7 6 7 7 7-5 7 12 7-11 7 18 7 7 7-1 7 5 7-3 7 0 7 5 7-2 7-1 7 0 7 6 7-22 7 7 7 12 8 9 7-8 7-5 7 6 7-13 7 11 7-2 7-6 7-7 7 24 7-6 7 11 7-5 0 80-7-4-7-6-7 3-7-12-7-4-7 8-7-1-7-3-7 7-7-4-7 16-7-13-8 1-7-14-7 4-7 10-7-7-7-2-7-6-7 2-7 8-7-8-7 1-7 7-7-12-7-4-7-10-7-3-7-7-7 5-7 5-7-5-7-7-7-11-7 2-7-7-8-5-7-3-7-13-7-11-7-15-7-13-7-12-7-18-7-11-7-16-7-25-7-34-7-30z" fill="#9dd0ea" opacity="0.55"/>
<path transform="scale(.1)" d="M19595 5080l1-2 2 7 1-1 1 37 2-18 1 7 1 12 2-7 1 14 1-2 2 27 1-12 1 32 2-8 1-6 1 3 2-21 1 3 1 19 2-2 1 20 1-1 2-8 1-8 1 29 2 2 1 3 1-15 2 20 1 3 1 17 2-8 1-2 1-4 2 6 1 26 1-21 2 3 1-10 1 21 2 16 1 12 1-32 2 17 1 0 1-7 2 14 1 2 1-6 2-5 1 9 1 6 2-6 1 4 1 17 2-9 1-2 1 22 2-30 1 23 1-4 2-10 1 16 1-12 2 10 1-7 1 18 2 1 1-10 1 5 2 0 1 3 1 0 2-11 1 13 1-7 2-15 1 22 1-13 2 14 1 7 1 8 2-5 1-21 1 5 2 7 1 17 1-17 2-10 1 21 1-7 2 11 1 9 1 9 2-33 1 1 1 10 2 3 1-5 1-13 2-24 1 33 1 5 2-14 1-2 1 32 2-2 1-24 1 31 2-19 1 13 1 6 2-28 1 11 1 2 2-14 1 24 1-14 2 21 1 5 1-18 2-11 1 14 1 12 2 4 1 3 1-11 2-7 1 27 1-13 1-4 2-8 1 7 1 3 2-3 1 10 1-3 2-6 1 31 1-34 2 10 1-22 1 27 2-2 1 1 1-15 2-12 1 21 1 5 2-11 1-17 1 20 2 12 1-7 1-14 2-20 1 25 1 7 2 0 1-2 1 2 2-13 1 11 1-1 2-7 1 22 1-4 2-7 1-2 1-12 2 14 1 2 1 17 2-17 1-15 1 8 2-14 1 24 1-28 2 12 1-9 1 11 2-14 1 6 1 1 2 14 1 0 1-10 2 32 1-27 1-1 2-2 1 19 1 6 2-7 1-18 1 4 2-5 1 12 1 2 2 14 1-9 1 11 2-9 1 10 1-8 2-27 1 19 1 10 2-11 1-4 1-6 2 35 1-22 1-16 2 1 1 12 1 3 2 0 1-4 1-7 2 8 1-20 1 17 2 10 1-12 1-8 2 28 1-41 1 28 2 14 1-32 1-6 2 38 1-40 1 17 2-7 1 5 1-7 2 10 1 23 1-12 2 2 1-11 1 7 2-7 1 13 1 10 2-20 1-6 1 10 2-13 1 10 1-6 2-3 1 21 1-32 2 28 1-9" fill="none" stroke="#4aa3d4" stroke-width="13" stroke-linejoin="round" />
<path transform="scale(.1)" d="M19595 4981l7 39 7 12 7 42 7 20 7 23 7 14 7 22 7 11 7 5 7 16 7 10 7 12 8 17 7 9 7-6 7 8 7-7 7 15 7 5 7 16 7-23 7 27 7-9 7 4 7 7 7 5 7-6 7 2 7 3 7 1 7 0 7-12 7 22 7-6 7 8 7-8 8-5 7-12 7 17 7-4 7 6 7 0 7-6 7 0 7 7 7-8 7 6 7 7 7-3 0 73-7-6-7-6-7 15-7-16-7 6-7 11-7-10-7 10-7 0-7-10-7-5-7 21-8-26-7 9-7 9-7-3-7-1-7-14-7 1-7-2-7 13-7-9-7-1-7-7-7 5-7-2-7-11-7 0-7 5-7-12-7-16-7 6-7-4-7-8-7 2-7-10-8-8-7-23-7 6-7-18-7 0-7-30-7-20-7-17-7-21-7-25-7-18-7-19-7-42z" fill="#f6c08a" opacity="0.55"/>
<path transform="scale(.1)" d="M19595 5014l1 29 2-17 1 21 1-18 2 20 1-4 1 24 2-1 1-8 1 18 2-10 1 13 1 34 2-12 1 8 1-6 2 3 1 12 1 5 2-4 1-4 1 10 2 6 1 0 1 5 2 13 1 18 1-9 2-8 1 15 1-6 2 10 1-12 1 17 2-15 1 26 1 7 2-2 1 13 1 5 2-10 1 2 1 9 2-3 1 0 1 14 2 0 1-8 1-2 2 18 1-7 1 2 2-18 1 19 1-30 2 37 1 5 1-11 2-4 1 23 1 2 2 1 1 15 1-23 2 14 1 3 1-11 2 8 1-10 1 18 2-14 1 30 1-16 2 14 1 5 1-30 2 7 1 26 1-29 2 21 1-15 1-2 2 5 1 22 1-12 2-12 1 17 1 8 2-12 1-11 1-4 2 20 1 7 1-12 2-14 1 17 1-23 2 19 1 6 1 6 2-2 1 16 1-31 2 27 1-3 1-3 2 2 1 11 1-33 2 24 1 8 1-12 2-14 1 10 1-4 2 23 1 15 1-6 2-18 1 19 1-23 2 24 1-10 1 5 2-14 1 16 1-16 2-1 1-10 1 23 1-15 2 10 1 8 1 2 2-1 1 14 1-15 2-10 1 16 1-10 2-9 1 12 1 1 2 5 1-21 1 13 2-22 1 11 1 9 2 13 1-16 1-1 2 13 1 9 1-3 2-7 1-30 1 19 2 8 1 20 1-41 2 27 1-4 1 1 2-22 1 8 1 11 2-41 1 23 1 7 2-13 1 27 1 5 2-15 1-1 1 18 2-3 1-14 1-15 2 33 1-14 1-2 2 8 1 21 1 9 2-30 1-34 1 36 2 1 1-17 1 4 2 11 1 8 1-10 2 8 1-20 1 18 2-22 1 0 1 11 2-5 1-9 1 14 2-8 1 14 1-5 2 13 1-13 1 5 2 8 1-7 1 3 2-7 1 14 1-2 2 22 1-36 1 18 2-10 1-7 1-1 2-2 1 12 1 2 2-13 1 15 1-2 2-7 1 0 1 0 2-1 1-4 1-3 2-3 1 34 1-13 2-3 1-27 1 14 2 16 1 1 1-6 2-2 1-25 1 6 2 25 1-20 1 5 2 11 1-4 1 20 2-9 1-23 1 19 2-20 1 6 1 17 2-10 1-23" fill="none" stroke="#f08a30" stroke-width="13" stroke-linejoin="round" />
<path transform="scale(.1)" d="M19595 4892l7 47 7 43 7 28 7 34 7 13 7 21 7 26 7 22 7 16 7 18 7 0 7 20 8 4 7 24 7 2 7 10 7 14 7-3 7 7 7-6 7 15 7-4 7 5 7-4 7 15 7-10 7 13 7 3 7-4 7-2 7 18 7-6 7-13 7-4 7 12 7 2 8 0 7-11 7 2 7 1 7 11 7-2 7 5 7-8 7 14 7-6 7-2 7 1 7-6 0 83-7 1-7-2-7-5-7 6-7 1-7-12-7 2-7-1-7 10-7-17-7 3-7 0-8 8-7 0-7-10-7 13-7-2-7 9-7-8-7-21-7 6-7-2-7 6-7-11-7-7-7-1-7-5-7 8-7-13-7 9-7-11-7-6-7-7-7-13-7 3-7-22-8-2-7-15-7-14-7-5-7-34-7-16-7-21-7-15-7-30-7-22-7-35-7-38-7-34z" fill="#aaa" opacity="0.55"/>
<path transform="scale(.1)" d="M19595 4930l1 24 2-23 1 44 1-4 2-3 1 16 1-2 2 17 1 9 1 33 2-25 1 17 1-2 2 13 1-2 1 4 2 12 1 5 1 15 2-13 1 24 1-13 2 6 1 12 1 4 2-24 1 37 1 7 2-11 1 14 1-3 2 11 1-13 1 26 2 11 1-12 1-9 2 1 1 21 1-5 2 2 1 18 1-15 2 25 1-15 1 19 2-13 1 4 1 12 2-3 1 0 1 1 2 11 1-2 1-8 2 28 1-9 1-5 2-7 1 35 1-18 2-13 1 32 1-22 2 17 1-5 1-7 2 12 1 1 1-9 2 1 1 25 1-32 2 35 1-9 1 2 2 28 1-35 1 22 2-2 1-22 1 9 2 13 1 6 1 3 2-4 1-25 1 27 2 0 1 12 1-10 2 9 1 4 1 11 2-24 1-3 1 25 2-17 1 12 1 4 2-21 1 6 1-2 2 23 1-27 1 29 2-19 1-6 1-5 2 10 1-13 1 15 2 8 1-5 1 18 2-24 1 28 1-18 2 0 1-1 1 6 2-22 1 22 1-32 2 24 1-8 1 7 2 26 1-38 1 29 1-10 2 21 1-25 1 7 2 14 1-16 1 19 2-27 1 40 1-26 2 16 1-10 1-10 2 6 1 27 1-31 2 22 1 7 1-23 2 9 1-22 1 17 2-3 1 11 1-33 2 38 1-1 1-6 2 3 1 12 1-14 2 13 1-17 1 7 2 5 1 5 1-19 2 13 1-15 1 26 2-12 1 9 1-24 2 13 1 0 1-1 2 11 1-3 1-11 2-4 1 23 1-12 2 8 1 11 1-37 2 9 1 21 1-26 2-10 1 22 1-12 2-6 1 23 1 9 2-10 1-5 1-5 2 4 1-9 1 15 2-6 1-9 1 9 2-10 1 0 1 7 2 6 1-6 1-6 2 13 1 1 1-15 2 24 1-19 1 32 2-26 1 9 1-3 2 1 1-14 1 2 2 5 1 33 1-14 2-12 1 8 1-30 2 8 1 2 1 16 2 10 1-3 1-14 2 2 1-1 1 18 2-36 1 13 1-3 2 35 1-34 1 3 2 4 1 37 1-32 2-12 1 10 1-14 2 9 1-4 1 1 2-9 1 0 1 36 2-33 1 6 1-14 2 9 1 13" fill="none" stroke="#000" stroke-width="13" stroke-linejoin="round" />
<path transform="scale(.1)" d="M20122 5316l7-6 7-9 7-1 7 4 7-1 7-1 7-15 7 8 7-12 7 11 7 2 7 11 8-12 7 5 7-1 7 3 7-20 7 24 7-1 7-8 7-3 7 4 7 8 7-2 7-12 7 11 7-20 7 16 7 5 7-1 7-17 7 12 7-7 7 6 7-17 7 6 8 11 7 6 7-6 7 5 7 3 7 4 7 4 7-2 7-19 7 4 7-3 7 14 7-16 0 93-7-10-7 5-7-17-7 16-7 7-7-8-7-5-7-3-7-4-7 10-7-10-7 5-8-6-7 5-7 0-7-8-7 12-7 4-7 10-7-17-7 3-7-4-7 7-7-11-7 14-7-1-7-15-7 6-7 5-7-6-7 2-7-3-7-1-7-3-7 4-7 7-8-7-7 3-7 10-7-19-7 16-7-2-7-7-7 6-7-8-7 10-7-3-7 9-7-3z" fill="#9dd0ea" opacity="0.55"/>
<path transform="scale(.1)" d="M20122 5353l1-11 2 9 1 17 1-12 2-6 1-43 1 59 2-19 1-2 1 13 2-6 1-44 1 30 2 9 1 0 1 16 2-11 1-24 1 22 2 0 1-16 1 3 2 28 1-27 1 4 2-10 1 17 1-10 2-14 1 22 1-25 2 2 1-18 1 31 2 2 1-21 1 9 2 14 1-11 1 6 2-8 1-7 1 22 2-23 1 10 1-10 2 20 1 1 1-6 2 12 1-13 1 7 2-9 1-5 1 6 2 10 1-14 1 14 2-9 1-6 1 8 2-14 1 6 1-2 2 38 1-43 1 18 2-23 1 1 1 21 2-2 1 8 1-18 2 15 1-7 1-25 2 11 1 5 1-1 2-2 1 7 1 14 2-9 1 14 1-7 2-3 1-17 1 9 2-5 1 19 1-4 2 1 1-9 1 17 2-4 1-1 1-13 2 4 1-5 1 18 2-19 1 16 1-1 2-6 1 3 1-26 2 24 1-3 1 8 2-1 1-29 1 8 2 23 1-12 1 4 2 2 1-13 1-6 2 3 1 29 1-2 2-6 1-3 1-15 2 9 1 9 1 6 2 3 1-25 1 4 1 0 2-25 1 7 1 3 2 2 1 23 1-9 2 11 1-7 1-1 2 21 1-20 1-6 2 17 1-12 1 0 2 4 1 7 1-16 2 2 1-2 1 6 2-5 1 10 1-5 2-16 1 30 1-12 2-15 1 7 1 27 2-34 1 17 1 1 2-18 1 22 1-27 2 22 1-16 1 10 2-7 1-13 1 12 2 1 1 11 1-28 2 24 1 3 1-19 2-1 1 8 1 3 2-24 1 4 1 12 2 10 1 6 1-12 2 7 1-2 1 0 2-5 1 16 1-12 2-2 1-14 1 30 2 9 1-24 1 3 2-9 1 14 1 27 2-25 1 3 1-6 2 19 1-34 1 4 2 19 1-10 1-7 2-4 1 15 1-2 2-26 1 16 1 19 2-14 1 7 1-4 2 0 1 9 1-3 2 9 1 13 1 2 2-23 1 20 1-37 2 41 1-15 1-5 2 0 1-7 1-4 2 18 1-19 1-16 2 10 1-8 1 10 2-11 1 25 1-2 2-24 1 35 1-17 2 27 1-2 1-21 2-19 1 19 1-15 2 16 1 16 1-14 2-13 1 9" fill="none" stroke="#4aa3d4" stroke-width="13" stroke-linejoin="round" />
<path transform="scale(.1)" d="M20122 5292l7-12 7-7 7 8 7 6 7 1 7 4 7 0 7-9 7 12 7-1 7-8 7-4 8 1 7-2 7-2 7 0 7 15 7-10 7 4 7 2 7-5 7-2 7 0 7 5 7 5 7 1 7-9 7-15 7 9 7 10 7-1 7 6 7-4 7-3 7 0 7-12 8-3 7 11 7 6 7-11 7 2 7-4 7 1 7-6 7 7 7 3 7 12 7-4 7-2 0 62-7 20-7-1-7-19-7-4-7 2-7-7-7-1-7 7-7 2-7 2-7 0-7 3-8-7-7 4-7-3-7 6-7 11-7-3-7-6-7-9-7 5-7 14-7-11-7 0-7-2-7 1-7 22-7-16-7-5-7 4-7-6-7 4-7-1-7-6-7-3-7-1-8 10-7 2-7 18-7-14-7-3-7 7-7-7-7 5-7-9-7 4-7-8-7 10-7-1z" fill="#f6c08a" opacity="0.55"/>
<path transform="scale(.1)" d="M20122 5324l1-10 2 7 1-10 1-2 2-6 1-5 1 26 2-8 1-15 1 27 2 0 1-16 1 10 2 11 1-2 1-12 2-10 1 19 1-5 2 9 1-13 1-12 2 25 1-33 1 49 2-39 1 10 1 2 2-27 1 28 1-5 2 5 1 16 1-17 2 8 1 23 1-39 2-7 1 2 1 27 2-12 1 2 1-12 2-4 1 12 1-13 2 25 1-16 1 4 2 3 1 18 1-22 2-16 1 25 1 7 2-19 1 4 1-6 2 2 1 25 1-31 2 12 1-5 1-7 2 9 1-13 1 2 2-8 1-8 1 28 2-7 1-4 1-8 2 7 1-27 1 10 2 24 1-9 1 1 2 12 1 5 1 7 2-17 1-12 1-3 2 4 1 39 1-29 2-2 1 4 1 1 2 7 1-1 1-10 2 24 1-31 1 6 2 8 1 4 1-11 2-6 1 13 1 4 2-16 1 8 1 2 2 5 1 5 1-11 2 22 1 24 1-50 2-5 1 27 1-14 2-10 1-2 1 7 2 7 1 2 1-15 2 12 1-6 1 21 2-13 1 3 1-2 2-12 1 8 1 7 1-4 2 19 1-19 1-1 2 13 1-3 1-22 2 2 1 5 1 14 2-12 1 8 1 7 2-21 1 2 1 1 2 13 1-30 1-14 2 32 1-16 1-3 2 22 1-7 1 5 2-11 1 28 1-22 2 3 1-1 1-14 2 14 1-4 1 29 2-13 1 5 1 6 2-16 1 7 1-15 2 3 1 3 1-10 2 14 1-13 1 6 2 0 1 3 1-7 2 9 1-13 1-4 2 8 1 11 1-9 2-1 1 20 1-26 2-13 1 8 1-6 2 3 1-2 1 41 2-20 1-24 1 27 2 9 1 1 1-10 2-9 1-1 1 1 2 8 1-7 1-3 2 13 1-8 1 4 2-5 1-13 1 31 2-23 1 11 1-6 2-20 1 2 1 27 2-29 1 17 1-25 2 32 1-14 1 9 2 3 1-5 1 3 2 3 1 6 1-18 2-4 1 0 1-3 2 9 1 16 1-7 2 2 1-19 1 13 2 1 1-1 1-2 2-10 1 27 1-10 2-2 1-7 1 10 2-5 1 12 1-22 2 29 1-16 1-26 2 31 1-4 1 0 2 9 1 1" fill="none" stroke="#f08a30" stroke-width="13" stroke-linejoin="round" />
<path transform="scale(.1)" d="M20122 5260l7 18 7-6 7-10 7 0 7 13 7 5 7-1 7-13 7 5 7 10 7-6 7-3 8 11 7-27 7 15 7-5 7 8 7 3 7-4 7 0 7-4 7 0 7-11 7 7 7 7 7 3 7 4 7-1 7-4 7 0 7 3 7-1 7-6 7-9 7 10 7-1 8 4 7-2 7 4 7 1 7 0 7-17 7 19 7-9 7-1 7 6 7 3 7 9 7-7 0 64-7 5-7-9-7 1-7 0-7 3-7 10-7-2-7-3-7-5-7 10-7 0-7-6-8-10-7 0-7 0-7-1-7 4-7 12-7-15-7-2-7 13-7 3-7-15-7 1-7-4-7 0-7 7-7 16-7 10-7-26-7 15-7-12-7-11-7 16-7-10-7 15-8-9-7 3-7 13-7-26-7 9-7-4-7 2-7-2-7 7-7-7-7 2-7 5-7-8z" fill="#aaa" opacity="0.55"/>
<path transform="scale(.1)" d="M20122 5302l1 15 2 8 1-11 1-8 2 6 1-12 1 20 2-5 1 19 1-16 2-12 1-8 1 3 2 0 1-1 1-2 2 4 1-1 1 13 2-7 1 2 1-6 2-2 1 1 1-12 2 1 1 8 1 16 2-10 1 19 1-22 2-3 1 18 1-9 2 12 1-6 1-6 2-10 1-7 1 2 2 10 1 18 1-11 2-3 1-5 1 8 2-10 1 4 1 14 2 6 1-16 1 17 2 12 1-21 1 5 2-7 1 14 1-19 2 20 1 23 1-38 2 16 1-16 1-8 2 33 1-22 1 8 2-20 1 2 1-19 2 17 1-3 1 4 2-1 1-18 1 17 2-11 1 20 1-2 2 11 1-22 1 0 2 12 1-8 1-11 2 4 1 7 1 2 2 1 1 1 1-10 2 0 1 10 1 7 2-18 1 2 1-11 2 13 1 19 1-6 2 4 1-12 1 13 2 9 1 12 1-18 2 2 1-18 1 7 2 9 1 11 1-22 2-3 1 29 1-23 2-11 1 13 1-20 2 8 1-5 1 4 2-11 1 14 1-10 2 30 1-37 1 13 2 12 1-18 1-5 1 17 2-12 1 30 1-15 2-14 1 19 1-24 2 27 1-28 1 16 2-10 1 14 1-3 2-1 1-10 1 14 2-16 1 8 1 2 2 9 1-10 1 8 2-15 1 18 1-33 2 1 1 40 1-12 2-7 1 15 1-10 2 4 1 4 1-39 2 54 1-24 1-13 2 14 1 8 1-29 2 29 1-3 1-14 2 8 1-24 1 21 2-5 1 8 1-16 2 32 1-34 1 16 2-3 1 12 1-24 2 21 1-18 1 0 2 18 1 9 1-9 2-5 1 12 1-16 2 25 1-25 1 30 2-12 1 6 1-19 2 6 1 3 1 10 2 0 1-8 1-7 2-17 1 22 1-12 2 2 1-14 1 12 2-6 1 5 1-21 2 14 1 10 1 1 2-15 1 25 1-19 2-1 1 11 1 8 2 8 1-20 1 12 2 11 1-20 1-15 2 35 1-45 1 28 2-4 1-26 1 13 2-14 1 47 1-11 2-11 1 8 1-18 2 8 1 2 1 19 2-4 1-18 1 11 2 12 1-9 1-17 2 4 1 28 1-21 2-4 1 11 1 8 2-4 1-17" fill="none" stroke="#000" stroke-width="13" stroke-linejoin="round" />
<path transform="scale(.1)" d="M20650 5306l7-45 7-46 7-17 7-21 7-19 7-13 7-8 7-14 7-16 7-3 7 6 7 3 8 10 7-8 7 1 7 6 7 1 7 0 7-2 7 6 7-5 7-2 7 1 7 2 7 19 7 1 7 4 7 10 7 0 7 2 7 2 7 0 7 1 7-15 7 16 7-6 8-4 7-2 7-2 7 2 7 3 7-28 7 8 7 7 7-4 7-2 7 5 7 9 7-10 0 73-7 5-7-4-7-3-7 8-7-15-7 6-7 4-7 10-7 2-7-9-7 5-7 4-8 6-7-2-7 4-7-1-7 1-7 7-7 4-7-9-7-11-7-9-7 4-7-1-7-18-7 1-7-15-7 7-7-1-7 0-7-3-7 4-7 6-7-16-7 9-7-4-8-5-7 7-7-2-7 9-7 4-7 1-7 7-7 20-7 26-7 13-7 29-7 33-7 47z" fill="#9dd0ea" opacity="0.55"/>
<path transform="scale(.1)" d="M20650 5344l1-18 2-8 1-10 1-7 2 7 1-27 1 17 2-46 1 18 1 7 2-30 1 7 1-13 2-26 1 31 1-3 2-9 1-1 1-3 2-20 1 2 1 5 2-15 1-3 1 22 2-4 1-24 1 7 2 4 1-27 1 9 2-12 1 5 1 16 2-23 1-3 1 16 2-20 1 10 1 21 2-28 1-17 1-10 2 14 1-11 1 18 2-4 1 6 1-20 2 4 1 19 1-4 2-11 1 0 1-7 2 7 1-1 1-21 2 2 1 24 1 1 2-14 1 18 1 22 2-26 1-16 1 13 2 13 1-20 1 15 2 3 1-13 1-5 2 4 1-6 1 19 2-1 1-8 1 5 2 1 1 12 1-27 2 14 1 5 1 5 2-18 1 36 1-15 2-36 1 6 1 13 2-4 1-2 1 2 2-9 1 3 1 24 2-23 1 3 1 13 2 6 1-23 1 9 2-12 1 16 1 15 2-5 1-3 1-12 2-9 1 7 1 1 2 8 1-19 1 9 2-7 1 17 1-5 2 3 1 3 1-19 2 6 1-7 1 13 2 0 1 18 1-4 2 8 1 8 1-29 1 14 2 13 1-5 1 4 2-20 1 25 1-12 2 12 1 6 1 13 2-15 1-21 1 27 2-3 1-7 1 0 2-2 1 18 1-23 2 14 1-5 1 3 2 11 1-17 1 16 2-20 1 42 1-22 2 8 1-4 1-1 2 9 1-25 1 16 2 4 1 5 1-23 2 13 1-16 1 11 2 3 1 1 1-18 2 4 1 1 1 2 2 16 1-26 1 6 2 2 1-12 1 24 2-1 1-21 1 3 2 20 1-19 1-7 2 27 1-24 1-1 2 7 1-5 1 11 2-6 1 10 1-6 2 16 1-25 1-5 2 14 1-17 1 30 2-29 1 9 1 1 2-35 1 42 1-14 2 15 1-10 1-17 2 10 1 26 1 5 2-8 1-16 1 0 2 13 1-14 1 1 2 14 1-29 1 11 2-8 1 0 1 1 2-1 1 20 1-23 2-15 1 26 1 2 2-3 1 2 1-10 2 4 1 0 1-15 2 14 1-18 1 20 2-2 1 6 1-7 2 12 1-2 1-19 2-9 1 22 1-8 2 9 1-12 1 9 2 2 1 2 1 7 2 5 1-8" fill="none" stroke="#4aa3d4" stroke-width="13" stroke-linejoin="round" />
<path transform="scale(.1)" d="M20650 5290l7-73 7-57 7-40 7-37 7-31 7-18 7-8 7-10 7-11 7-6 7-5 7-13 8 18 7 7 7 3 7-7 7 3 7 0 7-3 7 2 7 5 7 16 7-5 7 25 7-9 7 23 7 4 7 13 7-2 7 13 7-9 7 15 7-1 7 0 7-1 7-16 8 1 7-6 7-14 7-8 7-17 7 8 7 1 7-15 7-3 7 10 7-17 7 20 7-4 0 62-7 11-7 0-7 1-7-6-7 4-7 6-7-3-7 4-7 3-7 22-7 7-7 12-8 0-7-1-7 5-7-2-7 9-7-7-7-7-7-6-7-1-7-9-7-1-7-7-7-20-7-13-7-8-7-5-7-1-7-9-7-2-7 16-7-7-7-1-7 1-7-7-8-9-7-3-7 3-7 10-7 3-7 17-7 14-7 34-7 24-7 25-7 41-7 58-7 63z" fill="#f6c08a" opacity="0.55"/>
<path transform="scale(.1)" d="M20650 5328l1-39 2 0 1-7 1 14 2-24 1-23 1 13 2-25 1-11 1-35 2 5 1-14 1 6 2-30 1 35 1-39 2-2 1-1 1-20 2-6 1-4 1-18 2 5 1 10 1-5 2-18 1-11 1 4 2-17 1 14 1 6 2-19 1-3 1 2 2-13 1 3 1-5 2-3 1 12 1-19 2 1 1 10 1 6 2-6 1-41 1 41 2-14 1 16 1-15 2-13 1 5 1-8 2-17 1 18 1 9 2-4 1-16 1-10 2 27 1-3 1-9 2-1 1 5 1-13 2 11 1 2 1-9 2 25 1-6 1-7 2-14 1-10 1 22 2-5 1 14 1 9 2-9 1 5 1 5 2 8 1-13 1 2 2-19 1 22 1 11 2-20 1-12 1 12 2 3 1-26 1 12 2 11 1-15 1 19 2-7 1-32 1 41 2-1 1-5 1-6 2 0 1 14 1-14 2 1 1-11 1-2 2 44 1-18 1-14 2 12 1 0 1-11 2 8 1 9 1-6 2 1 1-1 1 3 2 14 1-21 1 29 2-1 1-7 1 0 2 18 1-5 1-2 2 10 1-19 1 29 1-17 2-1 1 10 1 8 2 10 1-20 1 24 2 10 1-11 1-29 2 28 1-2 1 2 2 8 1-4 1-21 2 38 1-14 1-8 2 23 1-16 1 5 2-9 1 15 1-1 2-6 1-2 1 18 2-16 1 16 1-16 2-10 1 4 1-7 2 41 1-5 1 2 2-35 1 17 1-15 2 13 1-2 1 20 2-13 1 2 1 18 2-7 1-3 1 18 2-29 1-5 1 4 2-12 1 33 1-24 2 11 1 13 1-33 2 12 1-5 1 14 2-15 1-12 1 8 2-12 1 21 1 0 2-15 1 10 1-10 2 6 1-16 1 10 2-8 1 13 1-26 2 16 1-13 1-4 2 11 1-47 1 27 2 13 1-9 1 6 2-4 1-39 1 35 2 19 1-16 1-6 2 8 1-17 1 30 2-16 1-3 1-1 2-13 1 10 1 5 2-12 1 0 1 10 2-13 1 28 1-23 2-3 1-5 1 10 2-15 1 9 1-5 2 13 1-5 1 14 2-37 1 12 1 33 2-34 1 13 1 17 2-23 1-3 1 14 2-5 1-6 1 2 2 8 1-14" fill="none" stroke="#f08a30" stroke-width="13" stroke-linejoin="round" />
<path transform="scale(.1)" d="M20650 5279l7-108 7-75 7-58 7-56 7-41 7-24 7-9 7-25 7-1 7-22 7 9 7-13 8 1 7 2 7-1 7 8 7-7 7 13 7 15 7 8 7 10 7 18 7 14 7 21 7 28 7 30 7 11 7 24 7 27 7 8 7 8 7-1 7-6 7-1 7-10 7-21 8-28 7-7 7-25 7-24 7-5 7-14 7-10 7-17 7-9 7-9 7-2 7 11 7 0 0 68-7 3-7-10-7 1-7 6-7 8-7 16-7 12-7 7-7 21-7 15-7 26-7 19-8 15-7 27-7-1-7 17-7-12-7 11-7-7-7-16-7-21-7-21-7-8-7-38-7-27-7-19-7-12-7-16-7-22-7-5-7-13-7-6-7-4-7 0-7-8-7 3-8 10-7 4-7 8-7 11-7 6-7 11-7 36-7 3-7 44-7 49-7 58-7 79-7 103z" fill="#aaa" opacity="0.55"/>
<path transform="scale(.1)" d="M20650 5321l1-29 2-7 1-10 1-50 2-19 1-21 1-1 2-23 1-10 1 7 2-50 1 7 1-8 2-17 1 13 1-32 2 8 1-45 1 6 2-15 1-20 1 17 2-5 1-3 1-15 2-33 1-14 1 23 2 8 1-31 1 3 2-5 1 30 1-21 2-3 1-20 1-11 2 10 1 1 1-13 2 16 1-9 1-15 2 2 1 2 1 16 2-4 1 1 1-5 2-13 1-6 1-7 2 11 1-9 1-7 2 3 1 14 1-1 2-7 1-8 1-7 2 1 1 7 1 2 2-5 1 2 1-1 2-2 1-8 1-9 2 13 1 16 1-15 2 21 1-19 1-4 2-6 1 19 1-11 2-3 1 12 1 6 2-16 1-18 1 40 2-21 1-1 1 27 2-8 1-9 1-2 2 21 1 29 1-19 2-20 1 19 1-11 2-10 1 5 1 3 2 2 1-18 1 26 2-6 1 14 1 1 2 2 1 7 1-5 2-1 1 14 1-3 2-5 1 24 1-28 2 34 1-5 1-1 2-17 1 23 1-16 2 4 1 29 1 1 2-5 1 3 1-4 2 9 1 5 1 26 1-10 2-6 1 30 1-6 2 4 1 15 1-25 2 21 1 14 1-16 2 25 1-9 1 9 2-12 1 16 1 16 2-11 1 10 1-14 2 14 1-3 1 21 2 22 1 1 1-7 2-1 1 11 1-15 2-4 1 17 1-27 2 43 1-28 1 12 2 6 1-8 1 19 2-19 1 4 1-17 2-2 1-1 1 20 2-11 1 17 1-34 2 4 1 10 1 1 2 5 1-9 1 5 2-6 1-13 1 9 2 4 1-32 1-7 2 6 1-1 1 30 2-35 1 2 1-12 2 11 1-11 1-1 2-26 1 3 1 17 2-10 1 16 1-29 2-2 1-5 1 7 2-31 1 40 1-22 2 5 1-18 1 11 2-23 1-6 1 10 2 22 1-45 1 13 2-26 1 21 1 1 2-12 1 2 1 1 2-4 1-6 1 3 2-2 1 8 1-5 2-11 1 7 1-14 2-2 1 8 1 0 2-7 1 15 1-15 2-5 1-6 1-4 2 2 1-2 1 8 2 0 1 3 1-4 2 2 1-14 1-2 2 2 1 7 1 6 2 9 1-7 1 4 2-13 1 9" fill="none" stroke="#000" stroke-width="13" stroke-linejoin="round" />
<path transform="scale(.1)" d="M21182 5149l7 1 7 4 7 16 7 9 7 5 7 26 7 1 7-10 7 17 7-11 7 15 7 7 8 3 7 12 7 0 7-2 7-7 7 12 7-4 7-8 7 17 7 6 7-2 7 7 7 4 7-1 7-1 7 11 7-10 7-15 7 25 7 9 7 5 7-6 7-5 7 5 8-13 7 10 7-18 7 5 7 6 7 10 7-2 7 2 7 5 7-5 7 24 7-1 7-18 0 76-7 6-7 0-7-10-7-10-7-2-7 2-7 2-7-4-7 2-7-7-7 10-7-14-8 8-7 5-7-1-7 0-7 2-7-7-7-7-7 3-7 0-7-3-7-2-7-6-7 4-7 5-7-8-7-4-7-16-7 6-7-7-7-3-7 12-7-9-7-4-7-4-8-4-7-6-7-3-7 1-7-7-7 1-7-9-7-1-7-21-7-3-7-16-7-15-7-9z" fill="#9dd0ea" opacity="0.55"/>
<path transform="scale(.1)" d="M21182 5190l1 7 2-30 1 29 1-15 2 5 1 8 1-11 2 8 1 6 1-17 2 31 1-19 1 33 2-14 1-7 1 1 2 14 1 5 1-18 2-13 1 29 1 11 2-37 1 15 1 14 2 11 1-19 1 23 2 0 1-3 1 2 2 9 1-6 1 6 2 2 1 0 1 8 2-17 1 19 1 1 2-22 1 9 1 30 2-11 1-11 1-7 2 5 1 10 1-7 2 0 1-11 1 33 2-12 1-10 1 8 2-13 1 23 1-12 2-11 1-4 1 20 2-13 1 8 1 5 2-2 1 5 1 6 2 4 1-18 1 9 2 19 1-25 1 1 2-10 1 12 1-6 2-2 1 17 1 0 2 5 1-31 1 25 2-26 1 7 1 3 2 26 1-5 1 4 2-15 1-8 1 18 2-5 1 1 1 19 2-17 1-4 1 6 2 7 1-9 1 0 2 24 1-22 1-21 2 24 1-3 1 6 2-10 1 2 1-1 2 7 1 0 1 4 2 4 1-10 1 4 2-2 1 18 1-6 2-3 1 4 1 10 2-14 1 7 1-4 2 1 1 7 1-3 2 2 1-20 1 34 1-2 2-29 1 23 1-13 2 2 1-20 1 17 2 23 1-17 1 18 2-2 1-32 1 34 2-15 1 6 1-2 2 21 1-17 1 11 2-9 1-15 1 8 2-18 1 19 1 13 2-39 1 15 1 10 2-23 1 23 1-15 2 19 1-20 1 31 2 5 1-5 1-11 2 12 1 3 1 3 2-14 1 3 1 1 2-1 1-12 1 15 2 1 1 20 1-45 2 37 1-28 1 29 2-9 1-5 1 6 2 3 1-14 1 3 2-19 1 14 1-4 2 16 1-22 1 28 2-25 1-16 1-4 2 6 1 9 1 15 2 12 1-25 1-4 2 23 1-15 1 4 2-3 1 12 1-13 2 9 1-16 1 20 2-20 1 15 1-1 2 4 1-4 1-18 2 21 1-8 1 32 2-22 1-6 1 15 2 14 1-29 1 2 2 8 1-23 1 50 2-39 1 4 1-16 2-4 1 21 1-5 2-10 1 24 1-7 2 33 1-15 1-3 2-3 1 21 1-15 2 1 1-11 1 24 2-17 1 18 1-3 2-15 1-8 1 11 2-15 1 0 1 3 2 22 1-13" fill="none" stroke="#4aa3d4" stroke-width="13" stroke-linejoin="round" />
<path transform="scale(.1)" d="M21182 5039l7 13 7 14 7 17 7 3 7 23 7-6 7 16 7-4 7 35 7 3 7 4 7 9 8-7 7 14 7-20 7 28 7 0 7 12 7 8 7-12 7 18 7-1 7 18 7 7 7-6 7 5 7 1 7 9 7-1 7 0 7-10 7 12 7-1 7 9 7-8 7 3 8 10 7-6 7 7 7 9 7-3 7-8 7 11 7 5 7 1 7 3 7-12 7 5 7 1 0 69-7 7-7-1-7 0-7 13-7-22-7 7-7-6-7 0-7-3-7-11-7 3-7-5-8 8-7-9-7 0-7-5-7-4-7 0-7-5-7 3-7-1-7-1-7-1-7-7-7 4-7-4-7-4-7-25-7 2-7 3-7-9-7-9-7 17-7-10-7-3-7-12-8-11-7-9-7-3-7-11-7-13-7 7-7-25-7-7-7-22-7-4-7-6-7-19-7-12z" fill="#f6c08a" opacity="0.55"/>
<path transform="scale(.1)" d="M21182 5062l1 13 2 11 1 6 1-18 2 4 1 25 1 21 2-26 1 15 1-4 2-36 1 29 1 13 2 21 1-24 1 16 2-14 1-5 1 9 2 0 1 1 1-1 2 21 1-21 1 13 2 2 1 19 1-20 2-2 1-1 1 1 2 27 1-17 1-16 2 35 1 5 1-1 2 1 1-14 1 10 2-16 1 41 1-18 2 29 1-27 1-2 2-8 1 8 1 20 2-3 1-4 1 9 2 0 1-12 1 12 2-10 1-3 1-3 2 30 1-16 1 0 2 12 1 6 1-10 2-8 1-11 1 20 2 2 1 8 1-11 2 31 1-24 1-10 2 15 1-7 1 10 2 21 1-37 1 0 2 16 1 11 1-14 2 6 1 7 1-5 2 21 1-16 1-9 2 12 1 1 1-19 2 18 1-9 1 10 2 3 1 1 1 28 2-26 1 4 1-12 2 10 1 18 1-16 2 4 1-3 1-1 2-5 1 20 1 0 2-3 1-16 1 8 2 8 1-17 1 11 2 2 1 7 1 9 2-4 1 5 1-4 2-12 1 25 1 3 2-19 1 9 1-8 2 14 1-10 1 2 1 18 2-19 1 3 1 10 2 8 1-19 1 14 2-11 1 7 1-7 2-5 1 10 1-17 2-1 1-3 1 10 2 5 1-7 1 10 2 17 1-11 1 5 2 14 1-36 1 16 2-7 1 17 1-2 2-17 1 18 1 10 2-19 1-20 1 13 2 0 1-24 1 30 2 10 1-25 1 31 2 5 1 13 1-1 2-12 1-20 1 15 2-12 1 20 1-20 2 16 1-20 1 21 2-18 1-2 1 2 2 14 1-4 1-15 2 25 1-14 1-10 2 12 1-16 1 35 2 2 1-11 1 10 2-7 1-15 1 2 2 13 1-11 1-30 2 35 1-13 1 2 2-10 1 38 1-14 2 8 1-13 1 15 2-2 1-13 1 16 2 9 1-19 1 25 2-7 1-1 1-13 2-4 1 3 1 7 2 18 1-19 1-3 2 12 1 14 1-33 2 2 1 15 1-12 2 5 1 15 1-5 2 9 1-35 1 11 2 0 1 18 1-11 2 24 1-13 1-27 2 15 1 9 1-3 2 0 1-5 1 2 2-2 1 9 1-22 2 3 1 19 1-5 2 4 1-2" fill="none" stroke="#f08a30" stroke-width="13" stroke-linejoin="round" />
<path transform="scale(.1)" d="M21182 4908l7 24 7 25 7 15 7 7 7 14 7 21 7 22 7-3 7 19 7 11 7 21 7 4 8 14 7-3 7 7 7 22 7 6 7 6 7 16 7 7 7-3 7 9 7 5 7-4 7 4 7 20 7 9 7 9 7-12 7 5 7 19 7-8 7 14 7 1 7 0 7 2 8-17 7 17 7 2 7 9 7-15 7 18 7 2 7 5 7-5 7 8 7-12 7 7 7-13 0 87-7 3-7 2-7 1-7-7-7 6-7-5-7-1-7-16-7-1-7-2-7 0-7-6-8 5-7 0-7-10-7 7-7-8-7-4-7-5-7-7-7 13-7-26-7-2-7-14-7 13-7-17-7-4-7-7-7-3-7-9-7-18-7-4-7 3-7-18-7-1-7-15-8-11-7 2-7-27-7-12-7-7-7-9-7-18-7-20-7-14-7-15-7-20-7-19-7-9z" fill="#aaa" opacity="0.55"/>
<path transform="scale(.1)" d="M21182 4943l1-27 2 46 1 2 1-27 2 46 1-1 1 4 2-17 1 16 1 3 2-24 1 21 1 1 2 14 1 17 1-7 2 7 1 6 1 4 2-11 1 8 1-15 2 30 1-31 1 23 2 4 1-6 1 2 2 7 1-10 1 30 2-5 1-14 1 35 2-22 1 8 1 22 2-4 1 0 1-5 2 20 1-16 1-6 2 5 1 11 1 5 2 2 1 3 1-12 2 24 1-24 1 9 2 6 1 7 1 4 2-12 1 7 1 7 2 6 1 9 1-7 2-8 1 19 1-17 2 13 1 5 1-9 2-5 1 10 1-11 2 21 1 11 1-9 2-5 1 8 1-4 2 18 1 9 1-31 2 25 1-2 1 4 2 2 1-10 1 10 2-5 1 13 1 4 2-8 1-23 1 20 2 15 1 28 1-24 2-8 1-1 1 26 2-14 1 18 1-42 2 23 1-5 1-8 2 9 1 11 1 12 2 4 1-27 1 10 2 9 1-1 1 3 2 2 1-22 1 30 2-23 1 26 1-14 2 5 1 4 1 7 2-13 1 8 1-17 2 25 1-21 1 4 2 25 1-16 1 2 1-27 2 5 1 27 1-4 2 32 1-16 1-15 2-11 1 28 1 0 2 5 1-27 1 24 2-18 1 28 1 1 2 0 1-22 1 16 2-4 1 6 1 6 2-2 1-2 1-9 2 12 1-16 1 4 2 11 1 1 1-9 2 27 1-10 1 5 2-27 1 23 1 10 2-12 1 7 1-6 2 15 1-18 1 27 2-14 1-10 1-5 2-7 1 7 1-1 2 25 1 7 1-9 2 8 1-42 1 16 2 10 1 4 1-13 2 39 1-16 1 2 2-14 1-22 1 25 2-16 1 17 1 8 2-15 1-10 1 20 2 0 1 14 1-6 2 3 1 11 1-25 2 1 1 10 1 1 2-7 1-8 1 23 2-15 1 2 1 4 2-15 1 9 1-15 2 9 1 17 1-29 2 21 1 5 1-20 2 43 1-25 1 1 2-3 1 16 1 4 2 1 1-11 1-9 2 8 1-4 1-8 2 13 1 8 1-12 2-5 1 19 1-8 2-15 1-2 1 16 2-28 1 30 1-5 2-7 1-16 1 27 2-12 1-10 1 12 2 14 1 14 1-25 2-1 1 4" fill="none" stroke="#000" stroke-width="13" stroke-linejoin="round" />
<text x="1817.7" y="569.6" font-size="20.8" textLength="250.2" lengthAdjust="spacingAndGlyphs" >Contrast <tspan fill="#4aa3d4">40%</tspan>, <tspan fill="#f08a30">70%</tspan>, 100%</text>
</svg>
</body></html>
